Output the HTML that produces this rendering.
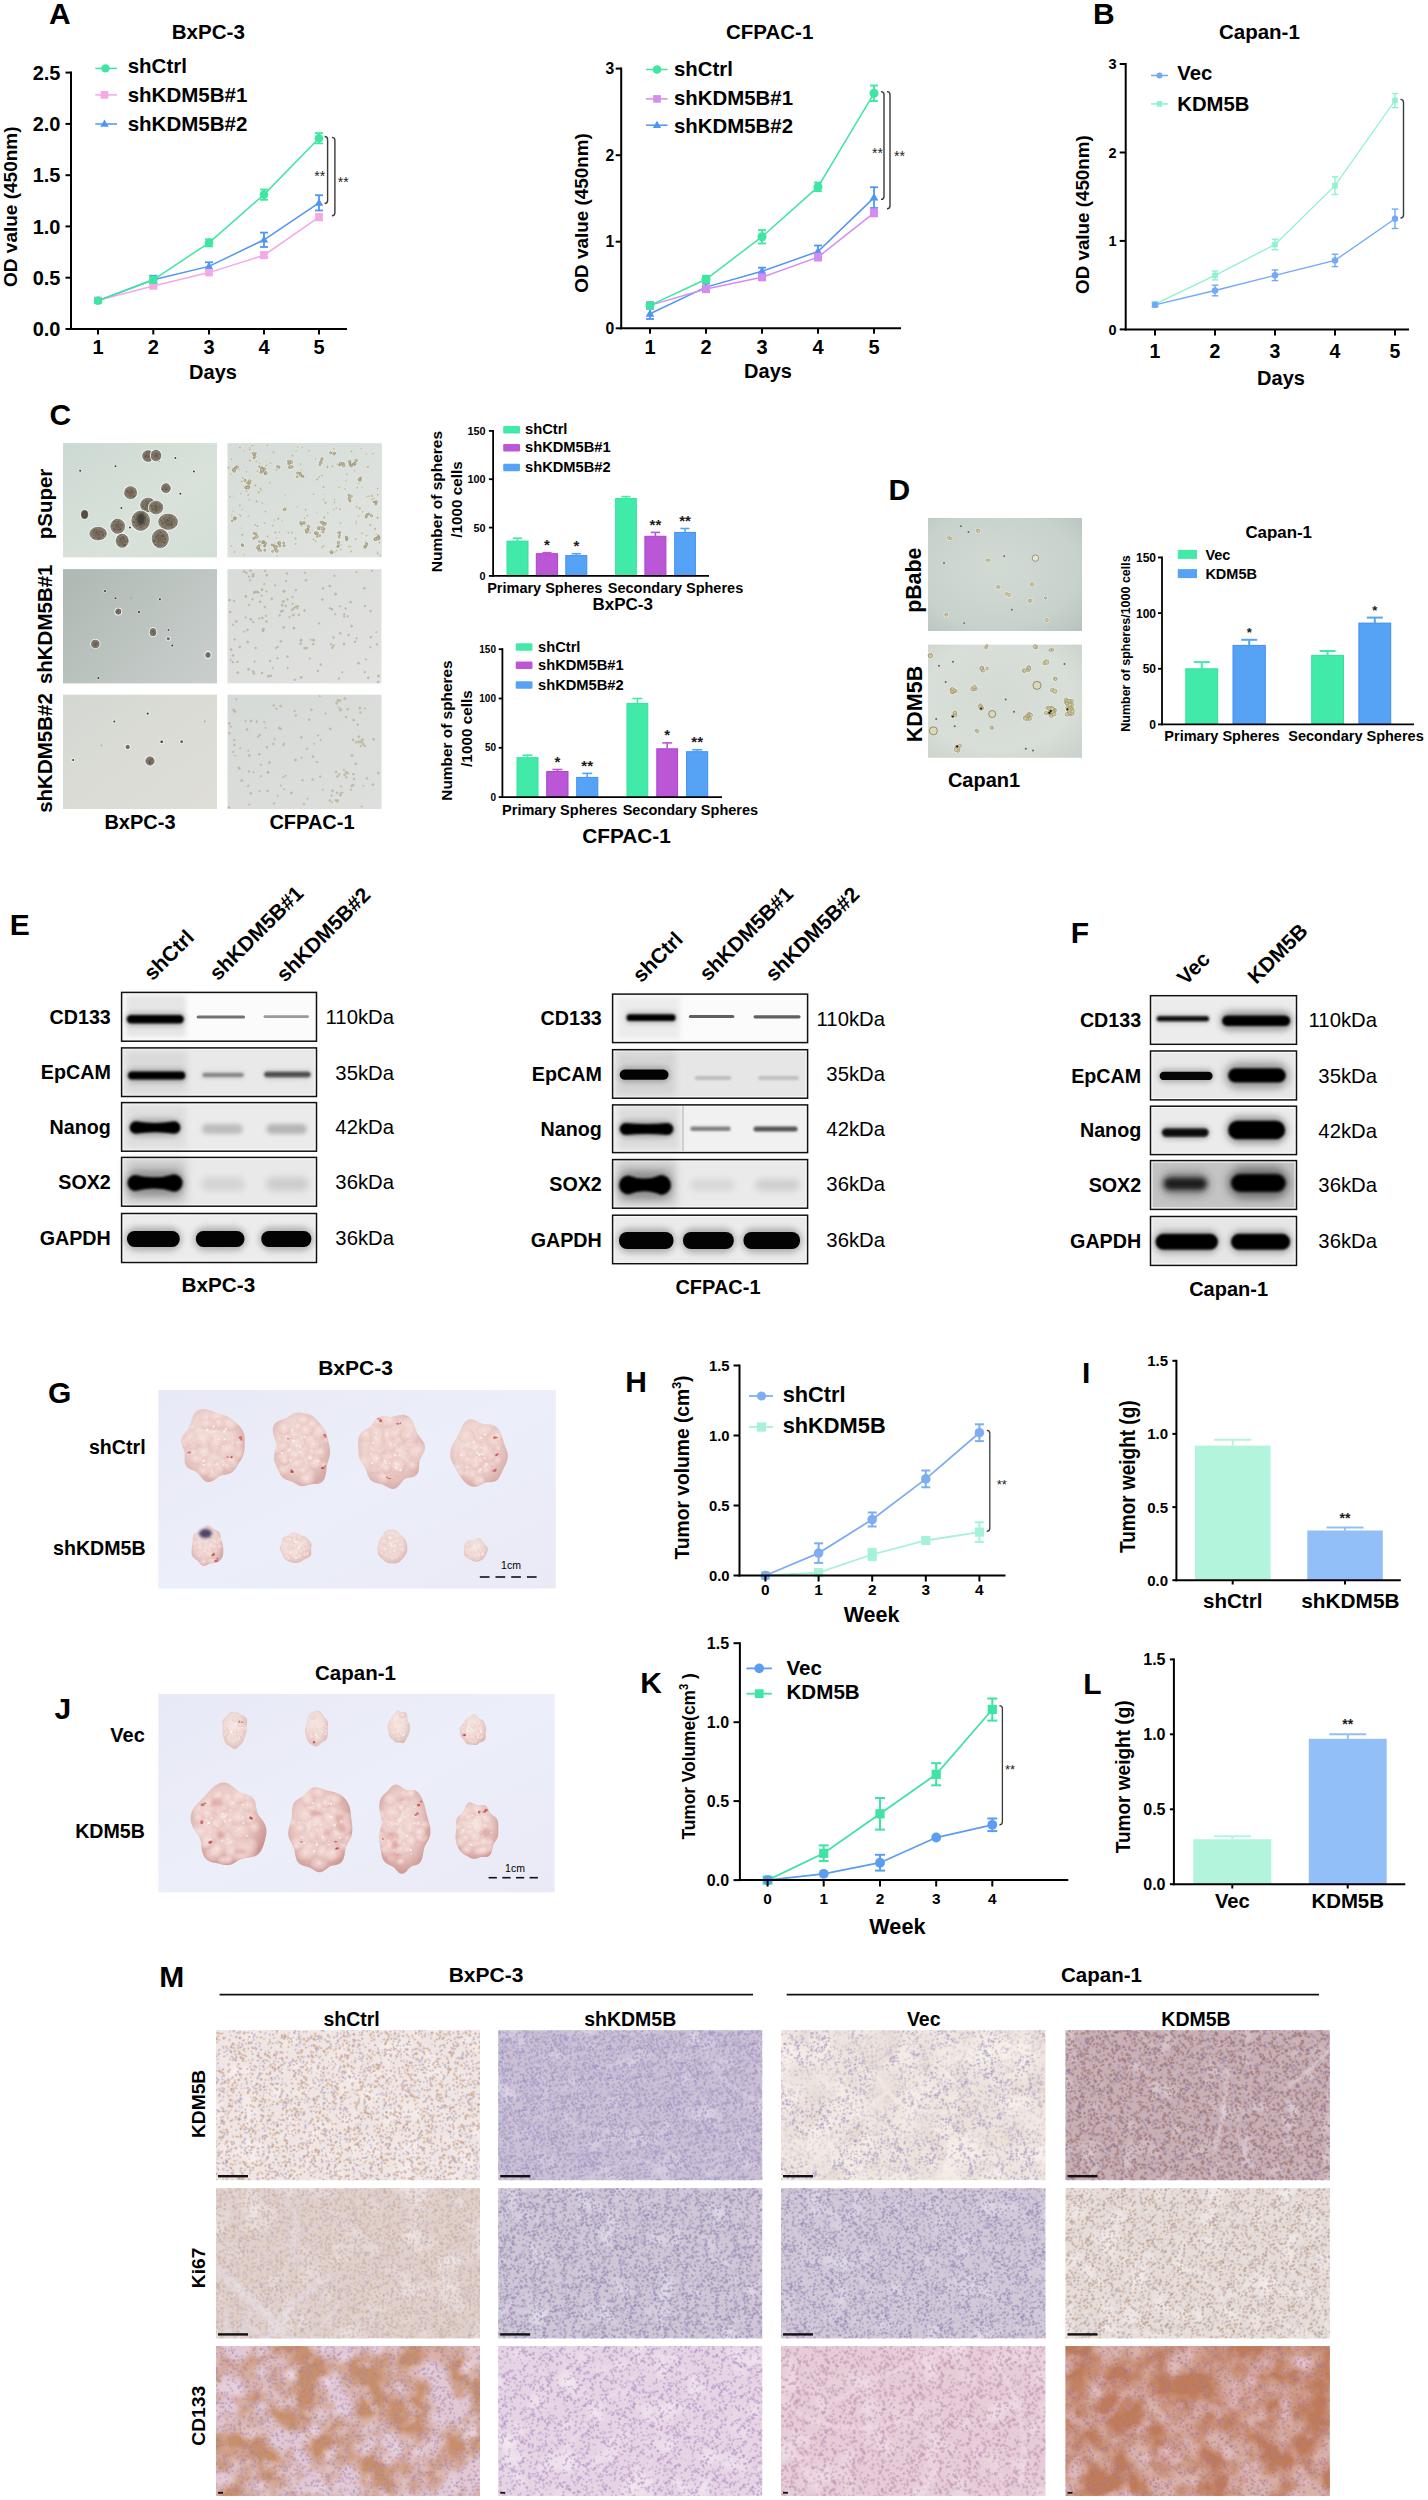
<!DOCTYPE html>
<html><head><meta charset="utf-8"><style>
html,body{margin:0;padding:0;background:#fff;}
svg{display:block;}
text{font-family:"Liberation Sans",sans-serif;}
</style></head><body>
<svg width="1428" height="2500" viewBox="0 0 1428 2500">
<defs><filter id="bl05" x="-50%" y="-50%" width="200%" height="200%"><feGaussianBlur stdDeviation="0.5"/></filter><filter id="bl1" x="-50%" y="-50%" width="200%" height="200%"><feGaussianBlur stdDeviation="1"/></filter><radialGradient id="sph" cx="0.5" cy="0.5" r="0.5"><stop offset="0" stop-color="#6c6252"/><stop offset="0.7" stop-color="#827766"/><stop offset="1" stop-color="#968c78"/></radialGradient><filter id="sphtex" x="0" y="0" width="100%" height="100%" color-interpolation-filters="sRGB"><feTurbulence type="fractalNoise" baseFrequency="0.45" numOctaves="2" seed="4"/><feColorMatrix type="matrix" values="0 0 0 0 0.25 0 0 0 0 0.22 0 0 0 0 0.18 1.8 0 0 0 -0.9"/><feComposite in2="SourceGraphic" operator="in"/></filter><linearGradient id="g1" x1="0" y1="0" x2="1" y2="1"><stop offset="0" stop-color="#ccd9d2"/><stop offset="0.6" stop-color="#d8e2da"/><stop offset="1" stop-color="#d3ded6"/></linearGradient><linearGradient id="g2" x1="0" y1="0" x2="1" y2="1"><stop offset="0" stop-color="#d6dcd8"/><stop offset="1" stop-color="#dfe4e0"/></linearGradient><linearGradient id="g3" x1="0" y1="0.2" x2="1" y2="0.8"><stop offset="0" stop-color="#b0bab5"/><stop offset="0.5" stop-color="#bcc4c0"/><stop offset="1" stop-color="#c8cdcb"/></linearGradient><linearGradient id="g4" x1="0" y1="0" x2="1" y2="1"><stop offset="0" stop-color="#d8dcd9"/><stop offset="1" stop-color="#e2e2e0"/></linearGradient><linearGradient id="g5" x1="0" y1="0" x2="1" y2="1"><stop offset="0" stop-color="#d4d8d2"/><stop offset="0.6" stop-color="#dcdcd6"/><stop offset="1" stop-color="#deddd8"/></linearGradient><linearGradient id="g6" x1="0" y1="0" x2="1" y2="1"><stop offset="0" stop-color="#d6dad6"/><stop offset="1" stop-color="#dddfdc"/></linearGradient><radialGradient id="g7" cx="0.45" cy="0.45" r="0.75"><stop offset="0" stop-color="#d2dad4"/><stop offset="0.7" stop-color="#c8d2cc"/><stop offset="1" stop-color="#b8c4be"/></radialGradient><radialGradient id="g8" cx="0.45" cy="0.45" r="0.8"><stop offset="0" stop-color="#d4dbd4"/><stop offset="0.6" stop-color="#d8ded8"/><stop offset="1" stop-color="#c8d0ca"/></radialGradient><filter id="b0_5" x="-30%" y="-150%" width="160%" height="400%"><feGaussianBlur stdDeviation="0.5"/></filter><filter id="b0_6" x="-30%" y="-150%" width="160%" height="400%"><feGaussianBlur stdDeviation="0.6"/></filter><filter id="b0_8" x="-30%" y="-150%" width="160%" height="400%"><feGaussianBlur stdDeviation="0.8"/></filter><filter id="b1" x="-30%" y="-150%" width="160%" height="400%"><feGaussianBlur stdDeviation="1"/></filter><filter id="b1_2" x="-30%" y="-150%" width="160%" height="400%"><feGaussianBlur stdDeviation="1.2"/></filter><filter id="b1_5" x="-30%" y="-150%" width="160%" height="400%"><feGaussianBlur stdDeviation="1.5"/></filter><filter id="b2" x="-30%" y="-150%" width="160%" height="400%"><feGaussianBlur stdDeviation="2"/></filter><filter id="b2_5" x="-30%" y="-150%" width="160%" height="400%"><feGaussianBlur stdDeviation="2.5"/></filter><filter id="b3" x="-30%" y="-150%" width="160%" height="400%"><feGaussianBlur stdDeviation="3"/></filter><filter id="b4" x="-30%" y="-150%" width="160%" height="400%"><feGaussianBlur stdDeviation="4"/></filter><filter id="b5" x="-30%" y="-150%" width="160%" height="400%"><feGaussianBlur stdDeviation="5"/></filter><filter id="tum" x="-10%" y="-10%" width="120%" height="120%"><feGaussianBlur stdDeviation="0.7"/></filter><filter id="tumb" x="-30%" y="-30%" width="160%" height="160%"><feGaussianBlur stdDeviation="1.6"/></filter><radialGradient id="lobe" cx="0.45" cy="0.4" r="0.6"><stop offset="0" stop-color="#f8e6e2" stop-opacity="0.8"/><stop offset="0.6" stop-color="#edcdc9" stop-opacity="0.45"/><stop offset="1" stop-color="#cf9896" stop-opacity="0"/></radialGradient><radialGradient id="lobe2" cx="0.5" cy="0.5" r="0.5"><stop offset="0" stop-color="#fdf6f4" stop-opacity="0.9"/><stop offset="1" stop-color="#f3dcd8" stop-opacity="0"/></radialGradient><linearGradient id="g9" x1="0" y1="0" x2="1" y2="1"><stop offset="0" stop-color="#e8e9f6"/><stop offset="0.5" stop-color="#eceef9"/><stop offset="1" stop-color="#e9eaf6"/></linearGradient><radialGradient id="g10" cx="0.45" cy="0.42" r="0.6"><stop offset="0" stop-color="#f6e8e4"/><stop offset="0.6" stop-color="#eed4d0"/><stop offset="1" stop-color="#d6aaa6"/></radialGradient><clipPath id="tc1"><path d="M244.7 1445.0 L244.6 1448.0 L244.3 1451.0 L243.6 1454.0 L242.6 1456.8 L241.3 1459.4 L239.8 1461.8 L238.2 1464.3 L236.7 1466.7 L235.1 1469.1 L233.2 1471.3 L231.0 1473.0 L228.4 1474.1 L225.7 1474.7 L223.0 1475.0 L220.5 1475.7 L218.2 1477.0 L215.7 1478.9 L213.0 1480.8 L210.0 1482.1 L207.0 1482.1 L204.2 1480.7 L201.9 1478.3 L199.9 1475.6 L198.0 1473.3 L195.9 1471.6 L193.3 1470.6 L190.5 1469.5 L187.8 1468.0 L185.9 1465.7 L184.8 1462.8 L184.6 1459.5 L184.7 1456.2 L184.7 1453.3 L184.1 1450.6 L183.0 1447.9 L181.9 1445.0 L181.2 1442.0 L181.4 1438.9 L182.6 1436.1 L184.3 1433.6 L186.3 1431.4 L188.0 1429.2 L189.3 1426.9 L190.2 1424.1 L191.1 1421.1 L192.1 1417.8 L193.6 1414.7 L195.6 1412.1 L198.1 1410.2 L201.1 1409.2 L204.1 1409.0 L207.3 1409.4 L210.2 1410.4 L213.0 1411.5 L215.6 1412.6 L218.1 1413.5 L220.6 1414.2 L223.1 1414.9 L225.5 1415.7 L227.9 1416.8 L230.2 1418.2 L232.4 1419.8 L234.5 1421.5 L236.6 1423.4 L238.8 1425.3 L240.8 1427.5 L242.5 1430.0 L243.8 1432.8 L244.5 1435.8 L244.8 1438.9 L244.8 1442.0Z"/></clipPath><radialGradient id="g11" cx="0.45" cy="0.42" r="0.6"><stop offset="0" stop-color="#f6e8e4"/><stop offset="0.6" stop-color="#eed4d0"/><stop offset="1" stop-color="#d6aaa6"/></radialGradient><clipPath id="tc2"><path d="M330.0 1449.5 L330.1 1452.7 L329.7 1455.8 L328.9 1458.8 L327.9 1461.6 L327.1 1464.6 L326.6 1467.8 L326.3 1471.4 L325.7 1475.2 L324.6 1478.7 L322.8 1481.5 L320.2 1483.2 L317.2 1483.9 L314.3 1484.1 L311.5 1484.3 L309.0 1484.8 L306.5 1485.5 L304.0 1486.1 L301.5 1486.2 L299.0 1485.5 L296.6 1484.3 L294.4 1482.9 L292.2 1481.7 L289.9 1480.9 L287.5 1480.2 L285.0 1479.2 L282.8 1477.7 L280.9 1475.5 L279.5 1472.9 L278.2 1470.1 L277.0 1467.4 L275.7 1464.7 L274.6 1461.8 L274.0 1458.8 L274.0 1455.6 L274.7 1452.5 L275.7 1449.5 L276.4 1446.7 L276.4 1443.9 L275.5 1440.7 L274.1 1436.9 L273.0 1432.7 L272.7 1428.5 L273.8 1425.0 L275.9 1422.4 L278.8 1420.8 L281.8 1419.8 L284.5 1418.9 L287.0 1417.7 L289.2 1416.2 L291.4 1414.6 L293.8 1413.4 L296.4 1412.7 L298.9 1412.6 L301.5 1412.8 L304.0 1413.2 L306.5 1413.6 L309.0 1414.3 L311.4 1415.3 L313.6 1416.8 L315.6 1418.6 L317.5 1420.7 L319.3 1422.8 L321.0 1424.9 L322.7 1427.0 L324.3 1429.3 L325.7 1431.9 L326.7 1434.7 L327.4 1437.6 L328.1 1440.5 L328.8 1443.4 L329.5 1446.4Z"/></clipPath><radialGradient id="g12" cx="0.45" cy="0.42" r="0.6"><stop offset="0" stop-color="#f6e8e4"/><stop offset="0.6" stop-color="#eed4d0"/><stop offset="1" stop-color="#d6aaa6"/></radialGradient><clipPath id="tc3"><path d="M424.5 1450.5 L423.1 1453.6 L421.5 1456.4 L420.1 1459.1 L419.3 1461.9 L419.1 1465.0 L419.0 1468.4 L418.5 1471.7 L417.0 1474.5 L414.5 1476.4 L411.4 1477.4 L408.4 1477.8 L405.7 1478.5 L403.5 1480.0 L401.5 1482.4 L399.4 1485.2 L396.9 1487.6 L394.0 1488.9 L391.0 1488.8 L388.1 1487.6 L385.3 1485.9 L382.7 1484.5 L380.0 1483.7 L377.2 1483.2 L374.3 1482.4 L371.6 1481.0 L369.5 1478.7 L368.0 1475.8 L367.0 1472.7 L366.0 1469.8 L364.8 1467.2 L363.2 1464.8 L361.5 1462.3 L360.0 1459.7 L359.0 1456.7 L358.5 1453.6 L358.4 1450.5 L358.2 1447.3 L358.1 1444.1 L358.1 1440.8 L358.7 1437.5 L360.0 1434.6 L362.1 1432.1 L364.7 1430.2 L367.4 1428.7 L369.8 1427.1 L371.7 1425.2 L373.4 1422.8 L375.2 1420.3 L377.3 1418.1 L379.8 1416.7 L382.7 1416.2 L385.5 1416.3 L388.3 1416.7 L391.0 1416.9 L393.7 1416.5 L396.6 1415.8 L399.6 1415.0 L402.8 1414.7 L405.9 1415.3 L408.7 1416.7 L411.0 1419.1 L412.7 1422.0 L414.0 1425.1 L415.1 1428.2 L416.1 1431.1 L417.4 1433.7 L419.1 1436.1 L421.0 1438.5 L422.9 1441.1 L424.4 1444.0 L424.9 1447.2Z"/></clipPath><radialGradient id="g13" cx="0.45" cy="0.42" r="0.6"><stop offset="0" stop-color="#f6e8e4"/><stop offset="0.6" stop-color="#eed4d0"/><stop offset="1" stop-color="#d6aaa6"/></radialGradient><clipPath id="tc4"><path d="M507.7 1453.5 L507.9 1456.5 L507.5 1459.5 L506.7 1462.3 L505.4 1464.9 L504.1 1467.4 L502.9 1469.9 L501.8 1472.5 L500.6 1475.1 L499.3 1477.6 L497.5 1479.7 L495.3 1481.2 L492.8 1482.0 L490.3 1482.2 L487.8 1482.3 L485.6 1482.6 L483.4 1483.3 L481.3 1484.4 L479.0 1485.5 L476.6 1486.5 L474.1 1486.8 L471.6 1486.5 L469.2 1485.6 L467.0 1484.1 L465.0 1482.4 L463.2 1480.4 L461.5 1478.3 L460.0 1476.1 L458.6 1473.9 L457.3 1471.6 L456.0 1469.3 L454.6 1467.0 L453.3 1464.6 L452.0 1462.1 L450.9 1459.4 L450.3 1456.5 L450.1 1453.5 L450.5 1450.5 L451.3 1447.7 L452.4 1445.0 L453.7 1442.6 L455.1 1440.3 L456.5 1438.0 L457.7 1435.8 L458.9 1433.4 L460.0 1430.9 L461.2 1428.3 L462.5 1425.5 L464.2 1423.0 L466.2 1420.9 L468.6 1419.6 L471.3 1419.3 L474.0 1419.8 L476.6 1420.9 L479.0 1422.2 L481.2 1423.3 L483.4 1424.0 L485.6 1424.3 L487.9 1424.4 L490.3 1424.6 L492.8 1425.1 L495.1 1426.2 L497.1 1427.8 L498.8 1429.9 L500.2 1432.3 L501.3 1434.9 L502.2 1437.6 L503.0 1440.2 L503.8 1442.7 L504.8 1445.3 L505.9 1447.9 L506.9 1450.6Z"/></clipPath><radialGradient id="g14" cx="0.45" cy="0.42" r="0.6"><stop offset="0" stop-color="#f6e8e4"/><stop offset="0.6" stop-color="#eed4d0"/><stop offset="1" stop-color="#d6aaa6"/></radialGradient><clipPath id="tc5"><path d="M223.0 1546.5 L223.2 1548.0 L223.3 1549.6 L223.3 1551.2 L223.3 1552.9 L223.1 1554.6 L222.8 1556.3 L222.1 1557.9 L221.2 1559.3 L220.1 1560.5 L218.8 1561.6 L217.4 1562.3 L215.9 1562.8 L214.4 1563.1 L212.9 1563.2 L211.5 1563.3 L210.2 1563.5 L208.9 1564.0 L207.5 1564.7 L206.0 1565.4 L204.4 1565.8 L202.9 1565.7 L201.5 1565.0 L200.2 1563.9 L199.2 1562.6 L198.1 1561.4 L197.1 1560.4 L195.9 1559.5 L194.6 1558.6 L193.4 1557.5 L192.4 1556.2 L191.8 1554.7 L191.5 1553.0 L191.5 1551.3 L191.6 1549.6 L191.8 1548.0 L192.0 1546.5 L192.2 1545.0 L192.4 1543.5 L192.6 1542.1 L192.7 1540.5 L192.7 1538.8 L192.9 1537.1 L193.3 1535.4 L194.1 1533.9 L195.3 1532.9 L196.9 1532.4 L198.5 1532.2 L200.0 1532.0 L201.2 1531.5 L202.2 1530.4 L203.2 1528.8 L204.4 1527.1 L205.9 1525.8 L207.5 1525.2 L209.1 1525.5 L210.7 1526.4 L212.0 1527.6 L213.3 1528.6 L214.6 1529.4 L216.0 1530.1 L217.4 1530.7 L218.7 1531.6 L219.7 1532.9 L220.3 1534.5 L220.6 1536.3 L220.9 1537.9 L221.1 1539.4 L221.5 1540.8 L222.0 1542.2 L222.4 1543.6 L222.8 1545.0Z"/></clipPath><radialGradient id="g15" cx="0.45" cy="0.42" r="0.6"><stop offset="0" stop-color="#f6e8e4"/><stop offset="0.6" stop-color="#f0dcd8"/><stop offset="1" stop-color="#dcbab6"/></radialGradient><clipPath id="tc6"><path d="M311.1 1548.0 L310.9 1549.2 L311.0 1550.3 L311.2 1551.6 L311.3 1552.9 L311.2 1554.3 L310.7 1555.5 L309.8 1556.6 L308.6 1557.4 L307.3 1558.1 L306.1 1558.7 L304.9 1559.3 L303.7 1560.0 L302.6 1560.8 L301.4 1561.5 L300.1 1562.1 L298.7 1562.6 L297.3 1563.0 L295.8 1563.1 L294.2 1563.1 L292.8 1562.8 L291.3 1562.4 L289.9 1561.9 L288.6 1561.3 L287.3 1560.7 L286.1 1560.0 L285.0 1559.1 L284.1 1558.2 L283.4 1557.0 L282.9 1555.8 L282.5 1554.6 L282.1 1553.5 L281.6 1552.5 L280.9 1551.5 L280.2 1550.4 L279.8 1549.2 L279.7 1548.0 L280.0 1546.8 L280.5 1545.7 L281.1 1544.6 L281.4 1543.5 L281.6 1542.3 L281.7 1540.9 L281.9 1539.6 L282.5 1538.3 L283.4 1537.3 L284.7 1536.6 L286.1 1536.0 L287.4 1535.4 L288.6 1534.7 L289.8 1533.8 L291.1 1533.0 L292.6 1532.4 L294.2 1532.3 L295.8 1532.7 L297.2 1533.4 L298.5 1534.2 L299.8 1534.9 L301.0 1535.4 L302.4 1535.7 L303.7 1536.0 L305.1 1536.4 L306.2 1537.2 L307.2 1538.1 L308.0 1539.1 L308.7 1540.1 L309.6 1541.1 L310.4 1542.1 L311.1 1543.1 L311.5 1544.3 L311.6 1545.6 L311.4 1546.8Z"/></clipPath><radialGradient id="g16" cx="0.45" cy="0.42" r="0.6"><stop offset="0" stop-color="#f6e8e4"/><stop offset="0.6" stop-color="#f0dcd8"/><stop offset="1" stop-color="#dcbab6"/></radialGradient><clipPath id="tc7"><path d="M407.3 1547.0 L407.4 1548.6 L407.3 1550.1 L407.0 1551.7 L406.5 1553.1 L405.8 1554.5 L405.0 1555.7 L404.2 1556.9 L403.3 1558.0 L402.4 1559.0 L401.5 1560.1 L400.6 1561.0 L399.5 1561.9 L398.4 1562.6 L397.2 1563.0 L395.9 1563.3 L394.7 1563.4 L393.5 1563.4 L392.2 1563.3 L391.0 1563.3 L389.8 1563.3 L388.6 1563.2 L387.4 1562.8 L386.2 1562.3 L385.1 1561.6 L384.1 1560.7 L383.2 1559.8 L382.2 1558.9 L381.1 1558.0 L380.1 1557.0 L379.2 1555.9 L378.4 1554.6 L377.8 1553.2 L377.6 1551.6 L377.5 1550.1 L377.6 1548.5 L377.8 1547.0 L377.9 1545.5 L378.0 1544.0 L378.3 1542.6 L378.8 1541.2 L379.4 1539.9 L380.1 1538.7 L380.9 1537.6 L381.7 1536.5 L382.4 1535.3 L383.1 1534.1 L383.8 1532.8 L384.8 1531.7 L385.8 1530.7 L387.0 1530.1 L388.3 1529.7 L389.6 1529.5 L391.0 1529.5 L392.2 1529.5 L393.5 1529.6 L394.8 1529.9 L396.0 1530.4 L397.1 1531.2 L398.1 1532.1 L399.0 1533.1 L399.9 1534.1 L400.8 1535.0 L401.7 1535.8 L402.7 1536.6 L403.7 1537.5 L404.6 1538.6 L405.4 1539.8 L406.0 1541.1 L406.5 1542.5 L406.9 1544.0 L407.2 1545.5Z"/></clipPath><radialGradient id="g17" cx="0.45" cy="0.42" r="0.6"><stop offset="0" stop-color="#f6e8e4"/><stop offset="0.6" stop-color="#f0dcd8"/><stop offset="1" stop-color="#dcbab6"/></radialGradient><clipPath id="tc8"><path d="M487.9 1550.0 L487.6 1551.0 L487.2 1552.0 L486.8 1552.9 L486.4 1553.8 L485.9 1554.7 L485.5 1555.6 L485.1 1556.4 L484.6 1557.3 L484.0 1558.1 L483.2 1558.9 L482.4 1559.5 L481.6 1560.1 L480.6 1560.6 L479.7 1561.0 L478.7 1561.4 L477.6 1561.6 L476.6 1561.7 L475.5 1561.7 L474.5 1561.5 L473.4 1561.2 L472.5 1560.8 L471.6 1560.3 L470.7 1559.8 L469.9 1559.3 L469.0 1558.9 L468.2 1558.4 L467.3 1557.9 L466.4 1557.3 L465.6 1556.7 L464.9 1555.9 L464.4 1555.0 L464.1 1554.0 L463.9 1553.0 L464.0 1552.0 L464.0 1551.0 L464.1 1550.0 L464.1 1549.0 L464.1 1548.1 L464.2 1547.1 L464.3 1546.1 L464.6 1545.1 L464.9 1544.2 L465.4 1543.2 L466.0 1542.4 L466.7 1541.6 L467.5 1540.8 L468.4 1540.3 L469.4 1539.9 L470.5 1539.7 L471.6 1539.7 L472.6 1539.7 L473.6 1539.6 L474.5 1539.4 L475.5 1539.0 L476.5 1538.6 L477.7 1538.3 L478.8 1538.1 L479.9 1538.3 L480.9 1538.9 L481.7 1539.7 L482.3 1540.6 L482.8 1541.6 L483.3 1542.5 L483.8 1543.3 L484.4 1544.0 L485.1 1544.7 L485.9 1545.3 L486.7 1546.1 L487.3 1547.0 L487.7 1547.9 L487.9 1549.0Z"/></clipPath><linearGradient id="g18" x1="0" y1="0" x2="1" y2="1"><stop offset="0" stop-color="#e8e9f6"/><stop offset="0.5" stop-color="#eceef9"/><stop offset="1" stop-color="#e9eaf6"/></linearGradient><radialGradient id="g19" cx="0.45" cy="0.42" r="0.6"><stop offset="0" stop-color="#f6e8e4"/><stop offset="0.6" stop-color="#f0dcd8"/><stop offset="1" stop-color="#dcbab6"/></radialGradient><clipPath id="tc9"><path d="M246.6 1729.5 L246.5 1731.1 L246.2 1732.6 L245.8 1734.0 L245.3 1735.3 L244.8 1736.5 L244.3 1737.8 L244.0 1739.2 L243.5 1740.6 L243.0 1741.9 L242.3 1743.1 L241.5 1744.1 L240.6 1744.9 L239.7 1745.6 L238.7 1746.5 L237.8 1747.4 L236.8 1748.3 L235.7 1748.9 L234.5 1749.1 L233.3 1748.8 L232.3 1748.1 L231.2 1747.3 L230.3 1746.5 L229.2 1745.9 L228.2 1745.4 L227.2 1744.7 L226.2 1743.9 L225.4 1742.7 L224.8 1741.4 L224.2 1740.0 L223.8 1738.6 L223.3 1737.1 L222.9 1735.7 L222.7 1734.1 L222.7 1732.6 L222.8 1731.0 L222.9 1729.5 L222.9 1728.1 L222.8 1726.6 L222.6 1724.9 L222.5 1723.2 L222.6 1721.5 L223.0 1719.9 L223.8 1718.7 L224.8 1717.7 L225.8 1716.9 L226.7 1716.0 L227.5 1715.0 L228.3 1714.0 L229.2 1713.0 L230.2 1712.3 L231.3 1711.9 L232.4 1711.9 L233.4 1712.1 L234.5 1712.2 L235.5 1712.3 L236.6 1712.4 L237.6 1712.6 L238.6 1713.0 L239.6 1713.7 L240.5 1714.4 L241.5 1715.0 L242.6 1715.6 L243.7 1716.1 L244.9 1716.8 L246.0 1717.8 L246.8 1719.3 L247.1 1721.0 L247.1 1722.9 L247.0 1724.7 L246.8 1726.4 L246.6 1728.0Z"/></clipPath><radialGradient id="g20" cx="0.45" cy="0.42" r="0.6"><stop offset="0" stop-color="#f6e8e4"/><stop offset="0.6" stop-color="#f0dcd8"/><stop offset="1" stop-color="#dcbab6"/></radialGradient><clipPath id="tc10"><path d="M327.8 1728.6 L327.7 1730.0 L327.6 1731.5 L327.7 1733.0 L327.6 1734.5 L327.5 1736.1 L327.2 1737.6 L326.6 1738.9 L325.8 1740.0 L324.9 1740.8 L323.9 1741.4 L322.9 1741.9 L322.0 1742.4 L321.1 1742.9 L320.3 1743.7 L319.5 1744.5 L318.6 1745.4 L317.6 1746.1 L316.6 1746.5 L315.5 1746.6 L314.5 1746.3 L313.5 1745.8 L312.5 1745.3 L311.5 1744.7 L310.6 1744.0 L309.6 1743.3 L308.8 1742.4 L308.0 1741.3 L307.3 1740.0 L306.8 1738.7 L306.4 1737.3 L305.9 1735.9 L305.6 1734.5 L305.3 1733.1 L305.1 1731.6 L305.1 1730.1 L305.3 1728.6 L305.6 1727.2 L306.0 1725.8 L306.3 1724.5 L306.6 1723.2 L306.8 1721.9 L307.0 1720.5 L307.3 1719.0 L307.7 1717.6 L308.2 1716.3 L308.9 1715.1 L309.7 1714.1 L310.6 1713.3 L311.5 1712.6 L312.5 1712.0 L313.5 1711.5 L314.5 1711.2 L315.5 1710.9 L316.6 1710.7 L317.7 1710.6 L318.7 1710.8 L319.8 1711.2 L320.7 1711.9 L321.6 1712.8 L322.4 1713.9 L323.0 1715.1 L323.7 1716.2 L324.4 1717.1 L325.2 1718.0 L326.0 1718.9 L326.9 1719.9 L327.5 1721.1 L328.0 1722.5 L328.2 1724.0 L328.1 1725.6 L328.0 1727.1Z"/></clipPath><radialGradient id="g21" cx="0.45" cy="0.42" r="0.6"><stop offset="0" stop-color="#f6e8e4"/><stop offset="0.6" stop-color="#f0dcd8"/><stop offset="1" stop-color="#dcbab6"/></radialGradient><clipPath id="tc11"><path d="M410.0 1727.2 L409.9 1728.6 L409.8 1730.0 L409.6 1731.3 L409.3 1732.7 L408.9 1733.9 L408.4 1735.1 L407.8 1736.2 L407.2 1737.2 L406.7 1738.3 L406.2 1739.5 L405.6 1740.8 L404.9 1742.0 L404.1 1742.8 L403.1 1743.2 L402.0 1743.2 L401.0 1742.9 L400.0 1742.6 L399.1 1742.5 L398.1 1742.6 L397.2 1742.7 L396.2 1742.6 L395.3 1742.2 L394.5 1741.5 L393.7 1740.8 L392.9 1740.0 L392.1 1739.2 L391.3 1738.5 L390.5 1737.7 L389.8 1736.6 L389.3 1735.4 L389.0 1734.1 L388.8 1732.7 L388.5 1731.4 L388.2 1730.0 L387.8 1728.7 L387.6 1727.2 L387.6 1725.8 L387.9 1724.4 L388.4 1723.1 L389.0 1721.9 L389.5 1720.8 L390.0 1719.7 L390.5 1718.5 L391.0 1717.5 L391.6 1716.5 L392.4 1715.7 L393.1 1715.0 L393.9 1714.2 L394.6 1713.3 L395.3 1712.3 L396.1 1711.2 L397.0 1710.5 L398.0 1710.2 L399.1 1710.5 L400.0 1711.2 L400.9 1711.8 L401.8 1712.2 L402.8 1712.2 L403.9 1712.1 L405.0 1712.2 L406.0 1712.8 L406.8 1713.9 L407.2 1715.5 L407.3 1717.2 L407.4 1718.8 L407.6 1720.1 L408.0 1721.2 L408.6 1722.2 L409.3 1723.3 L409.8 1724.5 L410.0 1725.9Z"/></clipPath><radialGradient id="g22" cx="0.45" cy="0.42" r="0.6"><stop offset="0" stop-color="#f6e8e4"/><stop offset="0.6" stop-color="#f0dcd8"/><stop offset="1" stop-color="#dcbab6"/></radialGradient><clipPath id="tc12"><path d="M486.1 1730.5 L485.9 1731.7 L485.6 1732.9 L485.5 1734.2 L485.6 1735.5 L485.7 1736.9 L485.6 1738.4 L485.1 1739.7 L484.2 1740.7 L483.1 1741.4 L481.9 1741.9 L480.7 1742.3 L479.7 1742.8 L478.8 1743.5 L477.8 1744.3 L476.8 1744.8 L475.6 1745.0 L474.5 1744.9 L473.4 1744.7 L472.3 1744.5 L471.1 1744.5 L470.0 1744.6 L468.8 1744.6 L467.6 1744.3 L466.6 1743.7 L465.7 1742.7 L465.0 1741.7 L464.3 1740.6 L463.6 1739.7 L462.7 1738.8 L461.9 1737.9 L461.1 1736.9 L460.6 1735.7 L460.3 1734.4 L460.1 1733.1 L459.9 1731.8 L459.8 1730.5 L459.7 1729.2 L459.8 1727.8 L460.3 1726.6 L461.0 1725.5 L462.0 1724.6 L462.9 1723.7 L463.6 1722.8 L464.1 1721.8 L464.6 1720.7 L465.1 1719.5 L465.9 1718.5 L466.8 1717.8 L467.8 1717.3 L468.9 1716.8 L469.9 1716.3 L471.0 1715.5 L472.1 1714.8 L473.4 1714.2 L474.6 1714.2 L475.8 1714.7 L476.9 1715.7 L477.8 1716.8 L478.6 1717.9 L479.5 1718.6 L480.5 1719.1 L481.6 1719.5 L482.7 1720.1 L483.6 1720.9 L484.3 1722.0 L484.7 1723.1 L485.1 1724.4 L485.5 1725.6 L485.8 1726.8 L486.1 1728.0 L486.2 1729.2Z"/></clipPath><radialGradient id="g23" cx="0.45" cy="0.42" r="0.6"><stop offset="0" stop-color="#f6e8e4"/><stop offset="0.6" stop-color="#eacac6"/><stop offset="1" stop-color="#cc9490"/></radialGradient><clipPath id="tc13"><path d="M265.5 1825.5 L266.4 1829.2 L266.4 1833.0 L265.8 1836.7 L264.9 1840.4 L263.9 1844.0 L262.6 1847.7 L261.0 1851.1 L258.6 1853.9 L255.5 1855.9 L252.0 1857.1 L248.4 1857.6 L245.1 1857.9 L242.1 1858.5 L239.5 1859.7 L236.9 1861.3 L234.3 1863.1 L231.4 1864.4 L228.3 1865.0 L225.3 1864.9 L222.2 1864.4 L219.2 1863.7 L216.1 1863.1 L213.0 1862.4 L209.8 1861.4 L206.9 1859.8 L204.5 1857.3 L202.8 1854.1 L201.9 1850.4 L201.4 1846.6 L201.1 1843.1 L200.6 1840.0 L199.6 1837.2 L198.0 1834.6 L196.0 1831.9 L194.0 1828.9 L192.1 1825.5 L190.9 1821.8 L190.5 1818.0 L191.0 1814.3 L192.2 1810.8 L194.1 1807.6 L196.4 1804.8 L198.7 1802.3 L201.1 1799.9 L203.4 1797.6 L205.6 1795.1 L207.8 1792.6 L210.1 1790.1 L212.6 1787.6 L215.3 1785.4 L218.3 1783.7 L221.6 1782.6 L225.0 1782.6 L228.3 1783.5 L231.5 1785.4 L234.3 1787.7 L236.8 1790.1 L239.3 1792.0 L241.8 1793.2 L244.6 1794.0 L247.6 1794.7 L250.6 1795.9 L253.0 1797.9 L254.8 1800.7 L255.7 1804.1 L256.2 1807.5 L256.7 1810.7 L257.7 1813.6 L259.4 1816.2 L261.6 1818.9 L263.8 1822.0Z"/></clipPath><radialGradient id="g24" cx="0.45" cy="0.42" r="0.6"><stop offset="0" stop-color="#f6e8e4"/><stop offset="0.6" stop-color="#eacac6"/><stop offset="1" stop-color="#cc9490"/></radialGradient><clipPath id="tc14"><path d="M352.3 1829.0 L352.1 1832.7 L351.2 1836.2 L349.8 1839.4 L348.1 1842.3 L346.6 1845.2 L345.6 1848.3 L345.0 1851.8 L344.4 1855.7 L343.3 1859.4 L341.5 1862.3 L339.0 1864.1 L336.1 1864.9 L333.2 1865.4 L330.6 1866.1 L328.2 1867.5 L325.8 1869.4 L323.2 1871.3 L320.5 1872.3 L317.6 1872.1 L314.9 1870.8 L312.3 1869.1 L309.8 1867.7 L307.2 1866.7 L304.3 1866.1 L301.4 1865.1 L298.8 1863.3 L296.8 1860.4 L295.6 1856.7 L294.9 1852.7 L294.2 1849.1 L293.1 1845.9 L291.5 1843.0 L289.8 1839.9 L288.5 1836.5 L288.1 1832.8 L288.6 1829.0 L289.8 1825.4 L291.0 1822.1 L291.7 1818.8 L291.9 1815.2 L291.9 1811.3 L292.3 1807.4 L293.4 1803.8 L295.3 1801.0 L297.9 1799.0 L300.5 1797.5 L303.0 1796.0 L305.3 1794.1 L307.4 1791.9 L309.7 1789.7 L312.2 1788.0 L314.9 1787.2 L317.7 1787.4 L320.5 1788.2 L323.1 1789.3 L325.6 1790.2 L328.2 1790.8 L330.8 1791.3 L333.5 1792.0 L336.2 1792.8 L338.9 1794.0 L341.5 1795.6 L344.1 1797.7 L346.3 1800.2 L348.2 1803.2 L349.6 1806.7 L350.4 1810.5 L350.8 1814.3 L351.2 1818.1 L351.6 1821.7 L352.1 1825.3Z"/></clipPath><radialGradient id="g25" cx="0.45" cy="0.42" r="0.6"><stop offset="0" stop-color="#f6e8e4"/><stop offset="0.6" stop-color="#eacac6"/><stop offset="1" stop-color="#cc9490"/></radialGradient><clipPath id="tc15"><path d="M430.3 1828.3 L430.4 1832.2 L429.9 1836.0 L428.6 1839.4 L426.9 1842.4 L425.4 1845.2 L424.2 1848.1 L423.5 1851.5 L422.9 1855.3 L422.0 1859.0 L420.6 1862.1 L418.6 1864.1 L416.3 1865.1 L413.9 1865.6 L411.7 1866.3 L409.7 1867.8 L407.7 1870.0 L405.6 1872.3 L403.2 1873.7 L400.8 1873.8 L398.5 1872.5 L396.4 1870.3 L394.4 1868.1 L392.4 1866.5 L390.2 1865.4 L387.8 1864.3 L385.5 1862.8 L383.6 1860.4 L382.2 1857.2 L381.3 1853.4 L380.7 1849.6 L380.2 1845.9 L379.7 1842.4 L379.3 1838.8 L379.3 1835.2 L379.8 1831.7 L380.7 1828.3 L381.5 1825.2 L381.8 1822.2 L381.4 1818.8 L380.5 1814.9 L379.6 1810.4 L379.2 1805.7 L379.7 1801.4 L381.0 1797.9 L383.0 1795.3 L385.2 1793.3 L387.3 1791.3 L389.4 1789.1 L391.4 1786.8 L393.6 1785.1 L396.0 1784.4 L398.6 1784.9 L401.0 1786.4 L403.2 1788.2 L405.3 1789.6 L407.4 1790.2 L409.5 1790.1 L411.8 1789.9 L414.2 1790.1 L416.5 1791.0 L418.5 1792.7 L420.3 1795.2 L421.8 1798.0 L423.1 1801.1 L424.3 1804.3 L425.2 1807.7 L426.0 1811.0 L426.7 1814.4 L427.6 1817.7 L428.5 1821.1 L429.5 1824.6Z"/></clipPath><radialGradient id="g26" cx="0.45" cy="0.42" r="0.6"><stop offset="0" stop-color="#f6e8e4"/><stop offset="0.6" stop-color="#ecd0cc"/><stop offset="1" stop-color="#d09c98"/></radialGradient><clipPath id="tc16"><path d="M498.4 1831.4 L498.3 1833.9 L498.0 1836.3 L497.2 1838.5 L496.0 1840.5 L494.7 1842.2 L493.6 1844.0 L492.8 1846.0 L492.4 1848.4 L491.9 1851.0 L491.1 1853.6 L489.7 1855.5 L487.9 1856.7 L485.9 1857.0 L483.8 1857.0 L481.8 1857.0 L480.0 1857.3 L478.3 1857.9 L476.4 1858.5 L474.6 1858.9 L472.6 1858.8 L470.8 1858.2 L469.0 1857.3 L467.3 1856.3 L465.6 1855.3 L463.9 1854.2 L462.2 1853.0 L460.7 1851.5 L459.3 1849.7 L458.2 1847.6 L457.3 1845.5 L456.5 1843.3 L455.9 1840.9 L455.6 1838.6 L455.5 1836.1 L455.7 1833.7 L456.0 1831.4 L456.2 1829.2 L456.2 1826.9 L456.0 1824.5 L456.0 1822.0 L456.4 1819.6 L457.4 1817.5 L458.9 1815.9 L460.7 1814.6 L462.2 1813.4 L463.4 1811.8 L464.4 1809.6 L465.3 1807.0 L466.5 1804.5 L468.2 1802.8 L470.3 1802.3 L472.5 1802.9 L474.6 1804.1 L476.4 1805.1 L478.2 1805.5 L480.1 1805.3 L482.1 1804.9 L484.1 1805.0 L485.9 1805.8 L487.3 1807.5 L488.5 1809.7 L489.5 1811.8 L490.6 1813.4 L492.1 1814.7 L493.9 1815.9 L495.7 1817.4 L497.1 1819.3 L497.9 1821.5 L498.3 1824.0 L498.3 1826.6 L498.3 1829.0Z"/></clipPath><filter id="strb" x="-20%" y="-20%" width="140%" height="140%"><feGaussianBlur stdDeviation="1.6"/></filter><filter id="n1" x="0" y="0" width="100%" height="100%" color-interpolation-filters="sRGB"><feTurbulence type="fractalNoise" baseFrequency="0.05" numOctaves="2" seed="10" result="t"/><feColorMatrix in="t" type="matrix" values="0 0 0 0 0.973 0 0 0 0 0.949 0 0 0 0 0.941 2.0 0 0 0 -0.9"/><feComposite in2="SourceGraphic" operator="in"/></filter><pattern id="p1" width="29" height="29" patternUnits="userSpaceOnUse" patternTransform="rotate(39)"><g fill="#aaa0cc"><circle cx="0.4" cy="3.3" r="0.8"/><circle cx="29.4" cy="3.3" r="0.8"/><circle cx="19.8" cy="4.0" r="0.7"/><circle cx="6.7" cy="22.0" r="0.8"/><circle cx="21.5" cy="19.2" r="0.7"/><circle cx="15.5" cy="13.0" r="0.8"/><circle cx="28.9" cy="2.7" r="0.7"/><circle cx="-0.1" cy="2.7" r="0.7"/><circle cx="27.3" cy="11.7" r="0.8"/><circle cx="-1.7" cy="11.7" r="0.8"/><circle cx="9.6" cy="10.6" r="1.0"/><circle cx="6.1" cy="6.3" r="0.9"/><circle cx="15.9" cy="27.7" r="1.0"/><circle cx="15.9" cy="-1.3" r="1.0"/><circle cx="10.3" cy="5.9" r="1.0"/><circle cx="28.7" cy="0.9" r="1.0"/><circle cx="-0.3" cy="0.9" r="1.0"/><circle cx="28.7" cy="29.9" r="1.0"/><circle cx="25.2" cy="18.9" r="0.8"/><circle cx="23.1" cy="21.2" r="0.8"/><circle cx="18.6" cy="6.4" r="0.7"/><circle cx="9.7" cy="9.7" r="0.8"/><circle cx="18.8" cy="24.2" r="1.0"/><circle cx="28.3" cy="28.8" r="1.0"/><circle cx="-0.7" cy="28.8" r="1.0"/><circle cx="28.3" cy="-0.2" r="1.0"/></g></pattern><pattern id="p2" width="43" height="43" patternUnits="userSpaceOnUse" patternTransform="rotate(57)"><g fill="#aaa0cc"><circle cx="3.3" cy="9.2" r="0.8"/><circle cx="38.7" cy="21.3" r="1.0"/><circle cx="4.3" cy="21.9" r="1.0"/><circle cx="22.5" cy="40.6" r="1.0"/><circle cx="16.0" cy="0.0" r="1.0"/><circle cx="16.0" cy="43.0" r="1.0"/><circle cx="5.4" cy="0.4" r="1.0"/><circle cx="5.4" cy="43.4" r="1.0"/><circle cx="36.2" cy="36.0" r="1.0"/><circle cx="8.7" cy="3.5" r="0.7"/><circle cx="42.0" cy="4.8" r="0.8"/><circle cx="-1.0" cy="4.8" r="0.8"/><circle cx="0.9" cy="2.1" r="0.7"/><circle cx="43.9" cy="2.1" r="0.7"/><circle cx="15.2" cy="7.0" r="0.8"/><circle cx="39.9" cy="7.2" r="1.0"/><circle cx="31.7" cy="24.4" r="0.9"/><circle cx="33.1" cy="25.2" r="0.8"/><circle cx="14.2" cy="10.5" r="0.8"/><circle cx="42.5" cy="18.4" r="0.7"/><circle cx="-0.5" cy="18.4" r="0.7"/><circle cx="20.5" cy="34.9" r="0.9"/><circle cx="30.2" cy="3.9" r="0.7"/><circle cx="28.5" cy="2.1" r="0.8"/><circle cx="16.5" cy="8.3" r="0.7"/><circle cx="0.3" cy="40.9" r="0.9"/><circle cx="43.3" cy="40.9" r="0.9"/><circle cx="40.9" cy="21.1" r="1.0"/><circle cx="37.1" cy="26.6" r="0.9"/><circle cx="21.9" cy="9.7" r="0.8"/><circle cx="31.1" cy="8.4" r="1.0"/><circle cx="21.9" cy="26.0" r="1.0"/><circle cx="27.8" cy="5.9" r="0.8"/><circle cx="0.0" cy="1.2" r="1.0"/><circle cx="43.0" cy="1.2" r="1.0"/><circle cx="0.0" cy="44.2" r="1.0"/><circle cx="25.5" cy="41.7" r="1.0"/><circle cx="25.5" cy="-1.3" r="1.0"/><circle cx="13.6" cy="41.6" r="1.0"/><circle cx="13.6" cy="-1.4" r="1.0"/><circle cx="19.6" cy="3.6" r="0.8"/><circle cx="7.2" cy="15.7" r="0.7"/><circle cx="30.7" cy="42.1" r="0.8"/><circle cx="30.7" cy="-0.9" r="0.8"/><circle cx="33.5" cy="25.1" r="0.9"/><circle cx="39.0" cy="16.2" r="1.0"/><circle cx="1.5" cy="41.5" r="0.8"/><circle cx="44.5" cy="41.5" r="0.8"/><circle cx="1.5" cy="-1.5" r="0.8"/><circle cx="0.2" cy="37.9" r="1.0"/><circle cx="43.2" cy="37.9" r="1.0"/><circle cx="29.0" cy="32.9" r="0.8"/><circle cx="4.9" cy="13.7" r="1.0"/><circle cx="42.2" cy="9.9" r="0.9"/><circle cx="-0.8" cy="9.9" r="0.9"/></g></pattern><pattern id="p3" width="33" height="33" patternUnits="userSpaceOnUse" patternTransform="rotate(17)"><g fill="#c49a80"><circle cx="10.8" cy="32.4" r="1.2"/><circle cx="10.8" cy="-0.6" r="1.2"/><circle cx="30.3" cy="26.1" r="1.2"/><circle cx="0.0" cy="20.7" r="0.9"/><circle cx="33.0" cy="20.7" r="0.9"/><circle cx="24.1" cy="14.3" r="1.0"/><circle cx="17.9" cy="19.0" r="1.1"/><circle cx="32.4" cy="11.4" r="1.1"/><circle cx="-0.6" cy="11.4" r="1.1"/><circle cx="29.3" cy="12.9" r="0.8"/><circle cx="16.4" cy="25.2" r="1.0"/><circle cx="6.1" cy="23.3" r="0.9"/><circle cx="29.2" cy="5.6" r="1.0"/><circle cx="12.7" cy="32.5" r="0.9"/><circle cx="12.7" cy="-0.5" r="0.9"/><circle cx="29.0" cy="13.8" r="0.9"/><circle cx="6.9" cy="16.3" r="1.2"/><circle cx="33.0" cy="31.0" r="1.0"/><circle cx="-0.0" cy="31.0" r="1.0"/><circle cx="33.0" cy="-2.0" r="1.0"/><circle cx="7.8" cy="16.7" r="1.1"/><circle cx="9.8" cy="32.6" r="0.8"/><circle cx="9.8" cy="-0.4" r="0.8"/><circle cx="7.7" cy="6.7" r="0.9"/><circle cx="2.1" cy="7.9" r="0.9"/><circle cx="31.0" cy="18.0" r="1.0"/><circle cx="11.5" cy="5.6" r="1.0"/><circle cx="24.0" cy="2.8" r="1.1"/><circle cx="6.9" cy="22.8" r="0.9"/><circle cx="4.9" cy="4.6" r="1.1"/><circle cx="17.8" cy="2.8" r="1.2"/><circle cx="9.1" cy="9.2" r="0.8"/><circle cx="9.9" cy="18.5" r="1.2"/><circle cx="9.9" cy="16.4" r="0.8"/><circle cx="22.7" cy="9.9" r="1.0"/><circle cx="8.9" cy="27.0" r="1.2"/></g></pattern><pattern id="p4" width="49" height="49" patternUnits="userSpaceOnUse" patternTransform="rotate(70)"><g fill="#c49a80"><circle cx="33.4" cy="4.5" r="1.0"/><circle cx="41.3" cy="40.9" r="1.0"/><circle cx="30.9" cy="18.1" r="1.0"/><circle cx="5.3" cy="33.5" r="1.0"/><circle cx="13.8" cy="18.6" r="1.1"/><circle cx="21.7" cy="47.0" r="1.2"/><circle cx="21.7" cy="-2.0" r="1.2"/><circle cx="41.1" cy="4.5" r="0.8"/><circle cx="14.1" cy="17.7" r="1.1"/><circle cx="40.5" cy="27.6" r="1.1"/><circle cx="28.1" cy="1.7" r="1.0"/><circle cx="28.1" cy="50.7" r="1.0"/><circle cx="10.4" cy="20.4" r="0.8"/><circle cx="32.1" cy="44.6" r="0.8"/><circle cx="28.4" cy="1.2" r="0.9"/><circle cx="28.4" cy="50.2" r="0.9"/><circle cx="7.8" cy="42.2" r="1.1"/><circle cx="43.9" cy="10.7" r="1.1"/><circle cx="34.3" cy="25.0" r="1.2"/><circle cx="30.6" cy="13.9" r="1.1"/><circle cx="23.6" cy="10.4" r="1.0"/><circle cx="2.4" cy="22.0" r="1.0"/><circle cx="0.1" cy="31.8" r="0.8"/><circle cx="49.1" cy="31.8" r="0.8"/><circle cx="31.8" cy="16.7" r="0.8"/><circle cx="49.0" cy="3.1" r="0.9"/><circle cx="-0.0" cy="3.1" r="0.9"/><circle cx="24.8" cy="12.0" r="1.0"/><circle cx="23.2" cy="28.3" r="1.0"/><circle cx="14.4" cy="10.4" r="1.1"/><circle cx="21.0" cy="25.5" r="1.2"/><circle cx="0.4" cy="13.6" r="1.0"/><circle cx="49.4" cy="13.6" r="1.0"/><circle cx="2.6" cy="36.9" r="1.0"/><circle cx="15.5" cy="9.5" r="1.2"/><circle cx="2.3" cy="40.3" r="1.1"/><circle cx="44.0" cy="34.4" r="0.9"/><circle cx="26.9" cy="45.2" r="0.8"/><circle cx="41.6" cy="33.0" r="0.9"/><circle cx="47.4" cy="14.7" r="0.8"/><circle cx="-1.6" cy="14.7" r="0.8"/><circle cx="13.1" cy="25.2" r="0.8"/><circle cx="29.0" cy="21.8" r="0.9"/><circle cx="37.0" cy="30.3" r="1.2"/><circle cx="42.6" cy="42.1" r="1.2"/><circle cx="41.6" cy="23.8" r="0.8"/><circle cx="21.9" cy="30.4" r="1.2"/><circle cx="32.0" cy="28.1" r="0.8"/><circle cx="31.9" cy="1.8" r="0.9"/><circle cx="31.9" cy="50.8" r="0.9"/><circle cx="2.1" cy="35.9" r="1.2"/><circle cx="29.1" cy="4.3" r="1.1"/><circle cx="8.5" cy="34.8" r="1.1"/><circle cx="46.3" cy="8.1" r="0.9"/><circle cx="15.6" cy="3.8" r="1.2"/><circle cx="30.5" cy="5.2" r="1.0"/><circle cx="4.8" cy="47.2" r="0.9"/><circle cx="4.8" cy="-1.8" r="0.9"/><circle cx="0.1" cy="36.3" r="0.9"/><circle cx="49.1" cy="36.3" r="0.9"/><circle cx="31.8" cy="38.3" r="0.8"/><circle cx="26.8" cy="46.6" r="0.9"/><circle cx="12.2" cy="33.0" r="0.8"/><circle cx="40.2" cy="39.3" r="1.2"/><circle cx="40.8" cy="28.4" r="1.0"/><circle cx="26.3" cy="31.2" r="1.2"/><circle cx="7.5" cy="24.2" r="1.0"/><circle cx="12.0" cy="8.0" r="1.1"/><circle cx="28.7" cy="33.8" r="0.9"/><circle cx="23.5" cy="7.8" r="0.9"/><circle cx="6.6" cy="31.8" r="1.1"/><circle cx="28.0" cy="38.2" r="0.8"/><circle cx="25.4" cy="6.8" r="1.0"/><circle cx="12.2" cy="12.4" r="1.2"/></g></pattern><filter id="n2" x="0" y="0" width="100%" height="100%" color-interpolation-filters="sRGB"><feTurbulence type="fractalNoise" baseFrequency="0.04" numOctaves="2" seed="20" result="t"/><feColorMatrix in="t" type="matrix" values="0 0 0 0 0.902 0 0 0 0 0.878 0 0 0 0 0.918 2.2 0 0 0 -1.2"/><feComposite in2="SourceGraphic" operator="in"/></filter><pattern id="p5" width="29" height="29" patternUnits="userSpaceOnUse" patternTransform="rotate(88)"><g fill="#9a8cbe"><circle cx="26.9" cy="5.0" r="1.1"/><circle cx="6.9" cy="13.5" r="1.1"/><circle cx="10.3" cy="14.7" r="0.8"/><circle cx="27.9" cy="28.6" r="0.8"/><circle cx="-1.1" cy="28.6" r="0.8"/><circle cx="27.9" cy="-0.4" r="0.8"/><circle cx="3.6" cy="13.7" r="1.0"/><circle cx="22.5" cy="9.9" r="1.0"/><circle cx="4.6" cy="6.2" r="0.8"/><circle cx="15.8" cy="16.3" r="1.0"/><circle cx="27.1" cy="8.9" r="0.9"/><circle cx="-1.9" cy="8.9" r="0.9"/><circle cx="13.4" cy="27.4" r="0.9"/><circle cx="13.4" cy="-1.6" r="0.9"/><circle cx="8.4" cy="12.4" r="1.0"/><circle cx="8.1" cy="5.0" r="1.0"/><circle cx="16.7" cy="16.8" r="0.8"/><circle cx="7.2" cy="2.9" r="0.9"/><circle cx="26.3" cy="28.7" r="1.1"/><circle cx="26.3" cy="-0.3" r="1.1"/><circle cx="10.7" cy="16.4" r="1.1"/><circle cx="10.0" cy="11.6" r="1.0"/><circle cx="9.9" cy="13.7" r="0.9"/><circle cx="23.9" cy="15.0" r="0.8"/><circle cx="0.5" cy="18.6" r="0.8"/><circle cx="29.5" cy="18.6" r="0.8"/><circle cx="19.4" cy="6.4" r="1.0"/><circle cx="10.0" cy="19.0" r="0.8"/><circle cx="11.9" cy="19.1" r="0.9"/><circle cx="28.7" cy="28.7" r="1.1"/><circle cx="-0.3" cy="28.7" r="1.1"/><circle cx="28.7" cy="-0.3" r="1.1"/><circle cx="27.0" cy="27.3" r="1.0"/><circle cx="-2.0" cy="27.3" r="1.0"/><circle cx="27.0" cy="-1.7" r="1.0"/><circle cx="24.3" cy="11.8" r="0.8"/><circle cx="26.8" cy="26.7" r="0.9"/><circle cx="10.9" cy="6.8" r="1.0"/><circle cx="4.9" cy="23.6" r="0.8"/><circle cx="11.7" cy="22.7" r="0.9"/><circle cx="4.0" cy="0.9" r="1.0"/><circle cx="4.0" cy="29.9" r="1.0"/><circle cx="2.2" cy="8.2" r="1.0"/><circle cx="9.0" cy="1.1" r="1.1"/><circle cx="9.0" cy="30.1" r="1.1"/><circle cx="21.0" cy="17.8" r="0.8"/><circle cx="14.1" cy="28.0" r="1.0"/><circle cx="14.1" cy="-1.0" r="1.0"/><circle cx="7.4" cy="27.2" r="0.9"/><circle cx="7.4" cy="-1.8" r="0.9"/><circle cx="15.2" cy="4.8" r="1.1"/><circle cx="19.8" cy="15.4" r="0.9"/><circle cx="9.9" cy="13.3" r="1.0"/><circle cx="0.6" cy="20.7" r="1.1"/><circle cx="29.6" cy="20.7" r="1.1"/><circle cx="0.8" cy="3.9" r="1.0"/><circle cx="29.8" cy="3.9" r="1.0"/><circle cx="10.0" cy="4.1" r="1.0"/><circle cx="28.5" cy="10.3" r="1.0"/><circle cx="-0.5" cy="10.3" r="1.0"/><circle cx="15.9" cy="16.1" r="1.0"/><circle cx="26.5" cy="25.0" r="1.1"/></g></pattern><pattern id="p6" width="43" height="43" patternUnits="userSpaceOnUse" patternTransform="rotate(29)"><g fill="#9a8cbe"><circle cx="19.1" cy="12.6" r="1.1"/><circle cx="20.8" cy="3.7" r="1.0"/><circle cx="3.2" cy="8.7" r="0.8"/><circle cx="27.0" cy="36.2" r="1.0"/><circle cx="9.6" cy="36.3" r="1.1"/><circle cx="14.1" cy="11.8" r="1.0"/><circle cx="41.8" cy="39.3" r="1.1"/><circle cx="-1.2" cy="39.3" r="1.1"/><circle cx="30.8" cy="9.8" r="1.0"/><circle cx="18.4" cy="27.5" r="0.9"/><circle cx="8.9" cy="38.6" r="0.8"/><circle cx="14.7" cy="14.2" r="1.1"/><circle cx="5.1" cy="24.8" r="1.1"/><circle cx="26.3" cy="39.9" r="0.9"/><circle cx="18.8" cy="15.9" r="0.9"/><circle cx="15.0" cy="3.2" r="1.1"/><circle cx="31.5" cy="29.2" r="1.0"/><circle cx="8.6" cy="9.7" r="1.1"/><circle cx="35.4" cy="19.6" r="1.0"/><circle cx="41.2" cy="1.8" r="0.9"/><circle cx="-1.8" cy="1.8" r="0.9"/><circle cx="41.2" cy="44.8" r="0.9"/><circle cx="17.3" cy="14.7" r="1.0"/><circle cx="12.7" cy="5.2" r="1.1"/><circle cx="18.2" cy="34.5" r="0.8"/><circle cx="13.2" cy="21.2" r="0.8"/><circle cx="17.8" cy="7.7" r="0.9"/><circle cx="12.6" cy="33.5" r="1.0"/><circle cx="10.8" cy="25.3" r="0.9"/><circle cx="9.6" cy="33.4" r="1.0"/><circle cx="0.5" cy="23.3" r="0.9"/><circle cx="43.5" cy="23.3" r="0.9"/><circle cx="3.7" cy="41.8" r="1.0"/><circle cx="3.7" cy="-1.2" r="1.0"/><circle cx="42.7" cy="20.5" r="0.9"/><circle cx="-0.3" cy="20.5" r="0.9"/><circle cx="6.7" cy="28.6" r="0.9"/><circle cx="7.8" cy="36.1" r="1.0"/><circle cx="3.7" cy="42.1" r="0.9"/><circle cx="3.7" cy="-0.9" r="0.9"/><circle cx="39.7" cy="17.7" r="0.8"/><circle cx="23.6" cy="17.5" r="1.1"/><circle cx="21.3" cy="15.9" r="0.9"/><circle cx="20.7" cy="31.4" r="1.1"/><circle cx="17.1" cy="6.1" r="0.8"/><circle cx="25.8" cy="10.1" r="1.1"/><circle cx="18.2" cy="41.2" r="0.8"/><circle cx="18.2" cy="-1.8" r="0.8"/><circle cx="35.9" cy="5.1" r="0.8"/><circle cx="17.6" cy="12.1" r="0.9"/><circle cx="21.7" cy="26.6" r="0.8"/><circle cx="26.2" cy="16.4" r="1.0"/><circle cx="12.9" cy="35.1" r="0.8"/><circle cx="3.7" cy="31.1" r="1.0"/><circle cx="7.9" cy="14.7" r="0.9"/><circle cx="8.6" cy="24.0" r="0.9"/><circle cx="24.9" cy="33.0" r="0.8"/><circle cx="11.5" cy="28.6" r="1.0"/><circle cx="30.9" cy="11.8" r="0.8"/><circle cx="2.0" cy="13.2" r="0.9"/><circle cx="31.9" cy="14.7" r="1.1"/><circle cx="5.0" cy="12.4" r="0.9"/><circle cx="10.0" cy="20.6" r="1.1"/><circle cx="19.6" cy="8.7" r="1.0"/><circle cx="22.6" cy="35.6" r="0.8"/><circle cx="31.5" cy="25.8" r="0.9"/><circle cx="15.9" cy="4.0" r="1.1"/><circle cx="12.8" cy="18.1" r="1.0"/><circle cx="31.9" cy="26.1" r="0.9"/><circle cx="27.7" cy="22.8" r="0.9"/><circle cx="35.7" cy="6.3" r="0.8"/><circle cx="20.1" cy="21.1" r="0.8"/><circle cx="32.0" cy="40.9" r="1.0"/><circle cx="25.0" cy="12.3" r="0.8"/><circle cx="14.6" cy="30.9" r="1.1"/><circle cx="15.9" cy="14.7" r="0.9"/><circle cx="23.4" cy="11.6" r="1.0"/><circle cx="35.5" cy="7.1" r="1.0"/><circle cx="12.2" cy="8.6" r="0.9"/><circle cx="27.0" cy="18.0" r="0.9"/><circle cx="27.0" cy="21.5" r="1.1"/><circle cx="41.9" cy="39.5" r="1.0"/><circle cx="-1.1" cy="39.5" r="1.0"/><circle cx="6.7" cy="18.5" r="0.9"/><circle cx="22.9" cy="4.5" r="1.1"/><circle cx="10.9" cy="11.4" r="1.1"/><circle cx="18.0" cy="1.6" r="0.8"/><circle cx="18.0" cy="44.6" r="0.8"/><circle cx="27.0" cy="0.3" r="1.0"/><circle cx="27.0" cy="43.3" r="1.0"/><circle cx="4.8" cy="3.5" r="1.0"/><circle cx="7.4" cy="0.5" r="1.0"/><circle cx="7.4" cy="43.5" r="1.0"/><circle cx="6.9" cy="18.4" r="1.1"/><circle cx="36.5" cy="37.9" r="0.9"/><circle cx="27.1" cy="18.0" r="1.0"/><circle cx="41.8" cy="2.9" r="0.8"/><circle cx="-1.2" cy="2.9" r="0.8"/><circle cx="19.6" cy="25.3" r="1.0"/><circle cx="8.7" cy="6.7" r="0.9"/><circle cx="34.7" cy="17.5" r="1.1"/><circle cx="20.1" cy="35.0" r="0.8"/><circle cx="27.7" cy="11.2" r="0.9"/><circle cx="2.7" cy="29.5" r="0.9"/><circle cx="27.7" cy="18.5" r="0.8"/><circle cx="29.5" cy="0.5" r="0.8"/><circle cx="29.5" cy="43.5" r="0.8"/><circle cx="18.2" cy="33.4" r="0.9"/><circle cx="27.4" cy="39.0" r="1.1"/><circle cx="7.7" cy="16.0" r="0.8"/><circle cx="36.0" cy="23.4" r="1.0"/><circle cx="5.5" cy="17.5" r="0.9"/><circle cx="42.1" cy="13.8" r="1.1"/><circle cx="-0.9" cy="13.8" r="1.1"/></g></pattern><pattern id="p7" width="33" height="33" patternUnits="userSpaceOnUse" patternTransform="rotate(25)"><g fill="#ae9fc8"><circle cx="2.5" cy="25.3" r="1.1"/><circle cx="13.7" cy="31.2" r="0.9"/><circle cx="13.7" cy="-1.8" r="0.9"/><circle cx="20.5" cy="30.3" r="0.8"/><circle cx="1.3" cy="5.8" r="0.7"/><circle cx="34.3" cy="5.8" r="0.7"/><circle cx="14.5" cy="4.1" r="0.7"/><circle cx="10.2" cy="13.2" r="1.1"/><circle cx="0.4" cy="21.4" r="1.1"/><circle cx="33.4" cy="21.4" r="1.1"/><circle cx="24.2" cy="5.3" r="0.8"/><circle cx="12.2" cy="0.2" r="1.1"/><circle cx="12.2" cy="33.2" r="1.1"/><circle cx="25.2" cy="26.7" r="1.0"/><circle cx="32.6" cy="12.8" r="0.7"/><circle cx="-0.4" cy="12.8" r="0.7"/><circle cx="11.8" cy="14.4" r="1.0"/><circle cx="0.1" cy="28.2" r="0.8"/><circle cx="33.1" cy="28.2" r="0.8"/><circle cx="0.9" cy="20.0" r="1.0"/><circle cx="33.9" cy="20.0" r="1.0"/><circle cx="20.1" cy="24.3" r="0.9"/><circle cx="13.1" cy="0.8" r="1.0"/><circle cx="13.1" cy="33.8" r="1.0"/><circle cx="19.0" cy="4.4" r="0.8"/><circle cx="17.7" cy="22.9" r="1.1"/><circle cx="14.1" cy="18.1" r="1.0"/><circle cx="2.1" cy="31.7" r="0.9"/><circle cx="2.1" cy="-1.3" r="0.9"/><circle cx="32.5" cy="28.9" r="1.0"/><circle cx="-0.5" cy="28.9" r="1.0"/><circle cx="4.7" cy="15.0" r="0.9"/><circle cx="10.4" cy="15.9" r="0.8"/><circle cx="19.3" cy="23.6" r="1.0"/><circle cx="26.6" cy="26.2" r="0.8"/><circle cx="21.4" cy="25.5" r="0.7"/><circle cx="22.2" cy="15.2" r="0.8"/><circle cx="9.6" cy="25.4" r="1.0"/><circle cx="17.8" cy="29.8" r="0.9"/><circle cx="0.6" cy="21.3" r="0.9"/><circle cx="33.6" cy="21.3" r="0.9"/><circle cx="26.0" cy="20.5" r="1.0"/><circle cx="1.9" cy="22.8" r="0.8"/><circle cx="34.9" cy="22.8" r="0.8"/><circle cx="5.0" cy="25.0" r="1.0"/><circle cx="31.6" cy="11.4" r="1.1"/><circle cx="-1.4" cy="11.4" r="1.1"/><circle cx="21.8" cy="22.6" r="1.0"/><circle cx="27.6" cy="2.1" r="0.9"/><circle cx="19.8" cy="21.6" r="0.8"/></g></pattern><pattern id="p8" width="49" height="49" patternUnits="userSpaceOnUse" patternTransform="rotate(2)"><g fill="#ae9fc8"><circle cx="36.3" cy="46.1" r="1.0"/><circle cx="44.5" cy="5.4" r="0.9"/><circle cx="21.2" cy="13.0" r="1.0"/><circle cx="16.1" cy="47.7" r="0.8"/><circle cx="16.1" cy="-1.3" r="0.8"/><circle cx="27.1" cy="37.9" r="1.0"/><circle cx="2.0" cy="35.9" r="0.7"/><circle cx="16.8" cy="4.6" r="0.9"/><circle cx="9.6" cy="9.4" r="0.9"/><circle cx="20.8" cy="26.3" r="0.9"/><circle cx="34.4" cy="44.0" r="1.1"/><circle cx="28.9" cy="30.7" r="0.9"/><circle cx="17.0" cy="38.4" r="0.7"/><circle cx="46.0" cy="23.4" r="1.0"/><circle cx="34.0" cy="3.9" r="0.9"/><circle cx="18.8" cy="6.0" r="1.0"/><circle cx="20.4" cy="32.4" r="0.7"/><circle cx="46.0" cy="20.1" r="1.0"/><circle cx="37.4" cy="4.5" r="1.0"/><circle cx="34.8" cy="39.4" r="1.0"/><circle cx="12.7" cy="28.9" r="1.1"/><circle cx="11.9" cy="18.4" r="0.9"/><circle cx="27.3" cy="37.2" r="0.9"/><circle cx="31.1" cy="41.5" r="0.7"/><circle cx="25.7" cy="4.9" r="1.0"/><circle cx="28.1" cy="12.3" r="1.0"/><circle cx="10.3" cy="17.1" r="1.0"/><circle cx="33.0" cy="38.4" r="0.7"/><circle cx="13.7" cy="38.9" r="1.1"/><circle cx="17.0" cy="14.2" r="0.9"/><circle cx="20.9" cy="26.3" r="1.0"/><circle cx="42.7" cy="5.1" r="0.8"/><circle cx="20.6" cy="3.6" r="1.0"/><circle cx="10.1" cy="39.4" r="0.8"/><circle cx="33.4" cy="29.9" r="0.9"/><circle cx="24.0" cy="41.0" r="1.1"/><circle cx="18.0" cy="33.7" r="1.1"/><circle cx="12.6" cy="37.0" r="0.7"/><circle cx="12.2" cy="12.6" r="0.8"/><circle cx="48.7" cy="5.1" r="0.7"/><circle cx="-0.3" cy="5.1" r="0.7"/><circle cx="33.5" cy="24.3" r="0.9"/><circle cx="25.8" cy="10.8" r="1.0"/><circle cx="43.2" cy="46.7" r="0.8"/><circle cx="38.8" cy="42.9" r="0.7"/><circle cx="30.5" cy="24.2" r="0.8"/><circle cx="16.4" cy="35.6" r="0.8"/><circle cx="30.2" cy="7.8" r="1.0"/><circle cx="20.8" cy="3.3" r="0.9"/><circle cx="15.6" cy="21.5" r="1.1"/><circle cx="7.3" cy="7.5" r="1.1"/><circle cx="35.3" cy="29.0" r="0.8"/><circle cx="18.3" cy="47.1" r="1.0"/><circle cx="18.3" cy="-1.9" r="1.0"/><circle cx="43.7" cy="14.4" r="1.0"/><circle cx="47.0" cy="16.6" r="0.7"/><circle cx="-2.0" cy="16.6" r="0.7"/><circle cx="25.9" cy="10.4" r="0.8"/><circle cx="24.8" cy="10.7" r="0.7"/><circle cx="40.6" cy="31.0" r="0.7"/><circle cx="8.7" cy="31.4" r="0.9"/><circle cx="2.1" cy="34.5" r="0.7"/><circle cx="34.8" cy="19.2" r="1.1"/><circle cx="25.4" cy="21.8" r="1.0"/><circle cx="24.3" cy="33.6" r="0.9"/><circle cx="28.0" cy="47.2" r="0.9"/><circle cx="28.0" cy="-1.8" r="0.9"/><circle cx="15.5" cy="41.7" r="0.9"/><circle cx="15.4" cy="29.2" r="1.0"/><circle cx="17.1" cy="44.1" r="1.0"/><circle cx="18.4" cy="18.9" r="0.8"/><circle cx="1.6" cy="38.8" r="0.8"/><circle cx="50.6" cy="38.8" r="0.8"/><circle cx="45.9" cy="43.7" r="0.7"/><circle cx="38.9" cy="40.8" r="1.0"/><circle cx="10.3" cy="6.9" r="1.0"/><circle cx="25.2" cy="12.8" r="0.8"/><circle cx="21.7" cy="3.8" r="1.0"/><circle cx="1.5" cy="22.4" r="1.0"/><circle cx="50.5" cy="22.4" r="1.0"/><circle cx="3.8" cy="33.6" r="0.7"/><circle cx="44.0" cy="30.1" r="0.8"/><circle cx="37.3" cy="24.3" r="0.7"/><circle cx="30.5" cy="43.3" r="1.0"/><circle cx="37.9" cy="6.9" r="0.9"/><circle cx="3.1" cy="43.2" r="0.9"/><circle cx="48.1" cy="4.5" r="0.8"/><circle cx="-0.9" cy="4.5" r="0.8"/><circle cx="23.0" cy="20.3" r="0.9"/><circle cx="47.9" cy="5.8" r="1.1"/><circle cx="-1.1" cy="5.8" r="1.1"/></g></pattern><clipPath id="ihcc1"><rect x="498.2" y="2030.2" width="264.00000000000006" height="149.99999999999977"/></clipPath><filter id="n3" x="0" y="0" width="100%" height="100%" color-interpolation-filters="sRGB"><feTurbulence type="fractalNoise" baseFrequency="0.03" numOctaves="2" seed="30" result="t"/><feColorMatrix in="t" type="matrix" values="0 0 0 0 0.973 0 0 0 0 0.949 0 0 0 0 0.918 2.2 0 0 0 -0.8"/><feComposite in2="SourceGraphic" operator="in"/></filter><filter id="n4" x="0" y="0" width="100%" height="100%" color-interpolation-filters="sRGB"><feTurbulence type="fractalNoise" baseFrequency="0.04" numOctaves="2" seed="31" result="t"/><feColorMatrix in="t" type="matrix" values="0 0 0 0 0.894 0 0 0 0 0.831 0 0 0 0 0.784 0 2.0 0 0 -1.1"/><feComposite in2="SourceGraphic" operator="in"/></filter><filter id="n5" x="0" y="0" width="100%" height="100%" color-interpolation-filters="sRGB"><feTurbulence type="fractalNoise" baseFrequency="0.03" numOctaves="2" seed="21" result="t"/><feColorMatrix in="t" type="matrix" values="0 0 0 0 1.000 0 0 0 0 1.000 0 0 0 0 1.000 3.0 0 0 0 -0.7"/><feComposite in2="SourceGraphic" operator="in"/></filter><mask id="mk1" maskUnits="userSpaceOnUse" x="781" y="2030.2" width="264.4000000000001" height="149.99999999999977"><rect x="781" y="2030.2" width="264.4000000000001" height="149.99999999999977" fill="#000" filter="url(#n5)"/></mask><pattern id="p9" width="29" height="29" patternUnits="userSpaceOnUse" patternTransform="rotate(68)"><g fill="#a092c0"><circle cx="26.5" cy="14.3" r="0.9"/><circle cx="10.2" cy="3.3" r="0.8"/><circle cx="5.0" cy="3.5" r="0.8"/><circle cx="1.0" cy="16.0" r="0.7"/><circle cx="30.0" cy="16.0" r="0.7"/><circle cx="18.0" cy="10.7" r="1.1"/><circle cx="19.0" cy="22.4" r="1.0"/><circle cx="21.8" cy="27.3" r="1.1"/><circle cx="21.8" cy="-1.7" r="1.1"/><circle cx="4.7" cy="8.6" r="0.8"/><circle cx="6.2" cy="22.3" r="1.1"/><circle cx="1.9" cy="4.9" r="1.1"/><circle cx="30.9" cy="4.9" r="1.1"/><circle cx="3.0" cy="2.4" r="1.1"/><circle cx="8.2" cy="0.4" r="0.9"/><circle cx="8.2" cy="29.4" r="0.9"/><circle cx="5.5" cy="11.2" r="0.8"/><circle cx="23.7" cy="27.4" r="1.1"/><circle cx="23.7" cy="-1.6" r="1.1"/><circle cx="14.4" cy="26.9" r="1.0"/><circle cx="15.9" cy="18.8" r="1.0"/><circle cx="26.5" cy="7.4" r="1.1"/><circle cx="24.6" cy="17.7" r="0.9"/><circle cx="8.9" cy="27.9" r="0.9"/><circle cx="8.9" cy="-1.1" r="0.9"/><circle cx="1.8" cy="28.7" r="0.9"/><circle cx="30.8" cy="28.7" r="0.9"/><circle cx="1.8" cy="-0.3" r="0.9"/><circle cx="13.0" cy="0.5" r="0.9"/><circle cx="13.0" cy="29.5" r="0.9"/><circle cx="27.7" cy="27.4" r="0.8"/><circle cx="-1.3" cy="27.4" r="0.8"/><circle cx="27.7" cy="-1.6" r="0.8"/><circle cx="8.8" cy="28.7" r="1.0"/><circle cx="8.8" cy="-0.3" r="1.0"/><circle cx="15.7" cy="3.9" r="1.0"/><circle cx="1.2" cy="1.1" r="1.0"/><circle cx="30.2" cy="1.1" r="1.0"/><circle cx="1.2" cy="30.1" r="1.0"/><circle cx="2.2" cy="28.8" r="0.8"/><circle cx="2.2" cy="-0.2" r="0.8"/><circle cx="1.6" cy="10.2" r="0.8"/><circle cx="30.6" cy="10.2" r="0.8"/><circle cx="27.4" cy="12.3" r="0.8"/><circle cx="-1.6" cy="12.3" r="0.8"/><circle cx="15.3" cy="8.2" r="0.7"/><circle cx="1.1" cy="19.4" r="0.9"/><circle cx="30.1" cy="19.4" r="0.9"/><circle cx="0.2" cy="28.7" r="0.9"/><circle cx="29.2" cy="28.7" r="0.9"/><circle cx="0.2" cy="-0.3" r="0.9"/><circle cx="13.9" cy="9.6" r="1.1"/><circle cx="10.4" cy="0.1" r="1.0"/><circle cx="10.4" cy="29.1" r="1.0"/><circle cx="17.1" cy="26.5" r="0.8"/></g></pattern><pattern id="p10" width="43" height="43" patternUnits="userSpaceOnUse" patternTransform="rotate(73)"><g fill="#a092c0"><circle cx="23.5" cy="5.3" r="0.8"/><circle cx="18.5" cy="0.7" r="0.9"/><circle cx="18.5" cy="43.7" r="0.9"/><circle cx="40.9" cy="18.4" r="1.0"/><circle cx="41.3" cy="0.9" r="0.7"/><circle cx="-1.7" cy="0.9" r="0.7"/><circle cx="41.3" cy="43.9" r="0.7"/><circle cx="18.7" cy="41.3" r="0.9"/><circle cx="18.7" cy="-1.7" r="0.9"/><circle cx="34.3" cy="28.9" r="0.7"/><circle cx="20.0" cy="27.7" r="0.8"/><circle cx="5.7" cy="28.7" r="0.8"/><circle cx="29.7" cy="11.9" r="0.7"/><circle cx="16.1" cy="33.9" r="0.8"/><circle cx="23.5" cy="33.3" r="0.8"/><circle cx="37.3" cy="1.8" r="0.9"/><circle cx="37.3" cy="44.8" r="0.9"/><circle cx="10.4" cy="7.3" r="1.1"/><circle cx="7.1" cy="33.5" r="0.9"/><circle cx="40.6" cy="38.1" r="0.7"/><circle cx="40.9" cy="24.0" r="1.0"/><circle cx="4.5" cy="30.9" r="1.0"/><circle cx="41.5" cy="25.6" r="0.7"/><circle cx="-1.5" cy="25.6" r="0.7"/><circle cx="28.1" cy="28.6" r="0.8"/><circle cx="34.8" cy="1.6" r="0.9"/><circle cx="34.8" cy="44.6" r="0.9"/><circle cx="26.8" cy="40.7" r="0.8"/><circle cx="9.4" cy="29.1" r="0.9"/><circle cx="39.5" cy="6.9" r="1.0"/><circle cx="9.2" cy="40.1" r="0.8"/><circle cx="17.9" cy="22.0" r="1.1"/><circle cx="36.1" cy="26.9" r="0.8"/><circle cx="27.0" cy="37.9" r="0.9"/><circle cx="6.4" cy="34.0" r="1.1"/><circle cx="12.8" cy="2.3" r="0.8"/><circle cx="8.3" cy="27.8" r="0.9"/><circle cx="36.4" cy="8.4" r="1.0"/><circle cx="25.1" cy="5.5" r="0.9"/><circle cx="9.1" cy="1.0" r="0.9"/><circle cx="9.1" cy="44.0" r="0.9"/><circle cx="16.2" cy="0.1" r="1.0"/><circle cx="16.2" cy="43.1" r="1.0"/><circle cx="36.3" cy="6.4" r="0.8"/><circle cx="3.6" cy="37.7" r="1.0"/><circle cx="33.8" cy="19.2" r="1.0"/><circle cx="26.3" cy="11.6" r="0.8"/><circle cx="23.6" cy="18.8" r="1.0"/><circle cx="19.0" cy="0.7" r="1.0"/><circle cx="19.0" cy="43.7" r="1.0"/><circle cx="26.4" cy="34.0" r="1.0"/><circle cx="33.3" cy="18.0" r="0.7"/><circle cx="24.1" cy="40.7" r="1.0"/><circle cx="40.3" cy="23.4" r="0.9"/><circle cx="12.7" cy="36.3" r="0.9"/><circle cx="41.0" cy="33.6" r="1.0"/><circle cx="-2.0" cy="33.6" r="1.0"/><circle cx="19.7" cy="12.5" r="0.7"/><circle cx="32.0" cy="31.9" r="0.8"/><circle cx="38.2" cy="9.4" r="1.1"/><circle cx="24.1" cy="16.5" r="0.8"/><circle cx="40.0" cy="25.0" r="1.1"/><circle cx="5.7" cy="38.4" r="0.8"/><circle cx="9.9" cy="41.9" r="0.8"/><circle cx="9.9" cy="-1.1" r="0.8"/><circle cx="28.7" cy="25.0" r="0.9"/><circle cx="24.2" cy="15.4" r="0.9"/><circle cx="40.2" cy="28.2" r="0.9"/><circle cx="6.1" cy="36.0" r="0.8"/><circle cx="39.6" cy="6.5" r="1.1"/><circle cx="40.7" cy="33.0" r="0.7"/><circle cx="18.9" cy="23.6" r="1.0"/><circle cx="31.2" cy="0.7" r="1.0"/><circle cx="31.2" cy="43.7" r="1.0"/><circle cx="38.3" cy="27.5" r="0.9"/><circle cx="17.5" cy="34.7" r="0.9"/><circle cx="4.5" cy="38.6" r="0.9"/><circle cx="37.1" cy="29.5" r="1.1"/><circle cx="33.6" cy="34.4" r="0.8"/><circle cx="30.9" cy="6.1" r="1.0"/><circle cx="15.6" cy="3.4" r="1.0"/><circle cx="42.2" cy="17.5" r="0.8"/><circle cx="-0.8" cy="17.5" r="0.8"/><circle cx="20.1" cy="21.1" r="0.7"/><circle cx="14.6" cy="10.9" r="1.1"/><circle cx="35.3" cy="7.1" r="1.1"/><circle cx="30.7" cy="9.9" r="0.8"/><circle cx="1.0" cy="19.3" r="1.0"/><circle cx="44.0" cy="19.3" r="1.0"/><circle cx="15.1" cy="26.6" r="1.0"/><circle cx="16.6" cy="28.4" r="0.9"/></g></pattern><pattern id="p11" width="33" height="33" patternUnits="userSpaceOnUse" patternTransform="rotate(45)"><g fill="#b8acc8"><circle cx="11.8" cy="27.4" r="0.8"/><circle cx="1.9" cy="15.6" r="0.9"/><circle cx="34.9" cy="15.6" r="0.9"/><circle cx="22.4" cy="2.1" r="0.8"/><circle cx="6.5" cy="1.1" r="1.0"/><circle cx="6.5" cy="34.1" r="1.0"/><circle cx="23.3" cy="11.9" r="0.9"/><circle cx="26.1" cy="0.2" r="0.8"/><circle cx="26.1" cy="33.2" r="0.8"/><circle cx="10.1" cy="1.5" r="0.9"/><circle cx="10.1" cy="34.5" r="0.9"/><circle cx="28.6" cy="16.0" r="0.9"/><circle cx="17.8" cy="13.3" r="0.9"/><circle cx="26.8" cy="8.9" r="0.9"/><circle cx="4.1" cy="17.8" r="0.9"/><circle cx="13.5" cy="3.4" r="1.0"/><circle cx="25.5" cy="27.3" r="0.7"/><circle cx="33.0" cy="16.3" r="0.8"/><circle cx="-0.0" cy="16.3" r="0.8"/><circle cx="9.8" cy="2.6" r="0.9"/><circle cx="31.2" cy="30.0" r="0.9"/><circle cx="-1.8" cy="30.0" r="0.9"/><circle cx="17.4" cy="12.3" r="0.9"/><circle cx="0.4" cy="2.0" r="0.9"/><circle cx="33.4" cy="2.0" r="0.9"/><circle cx="10.8" cy="32.7" r="0.9"/><circle cx="10.8" cy="-0.3" r="0.9"/><circle cx="1.4" cy="20.0" r="0.7"/><circle cx="34.4" cy="20.0" r="0.7"/><circle cx="31.7" cy="22.9" r="0.9"/><circle cx="-1.3" cy="22.9" r="0.9"/></g></pattern><pattern id="p12" width="49" height="49" patternUnits="userSpaceOnUse" patternTransform="rotate(88)"><g fill="#b8acc8"><circle cx="19.8" cy="9.8" r="0.8"/><circle cx="12.2" cy="37.2" r="0.8"/><circle cx="18.8" cy="33.5" r="0.9"/><circle cx="46.0" cy="24.0" r="0.8"/><circle cx="30.0" cy="10.6" r="1.0"/><circle cx="18.3" cy="19.0" r="0.9"/><circle cx="7.5" cy="32.4" r="1.0"/><circle cx="16.6" cy="46.4" r="0.9"/><circle cx="37.9" cy="23.0" r="0.8"/><circle cx="13.2" cy="0.4" r="0.8"/><circle cx="13.2" cy="49.4" r="0.8"/><circle cx="48.5" cy="26.2" r="0.8"/><circle cx="-0.5" cy="26.2" r="0.8"/><circle cx="44.1" cy="29.7" r="1.0"/><circle cx="17.5" cy="10.6" r="1.0"/><circle cx="7.9" cy="38.8" r="0.9"/><circle cx="48.2" cy="46.3" r="0.9"/><circle cx="-0.8" cy="46.3" r="0.9"/><circle cx="1.8" cy="1.1" r="0.8"/><circle cx="50.8" cy="1.1" r="0.8"/><circle cx="1.8" cy="50.1" r="0.8"/><circle cx="40.2" cy="4.0" r="0.8"/><circle cx="4.2" cy="15.2" r="0.7"/><circle cx="16.2" cy="25.6" r="0.8"/><circle cx="38.6" cy="2.7" r="0.8"/><circle cx="12.6" cy="19.8" r="0.9"/><circle cx="17.3" cy="34.1" r="1.0"/><circle cx="6.4" cy="42.3" r="0.9"/><circle cx="36.6" cy="29.8" r="0.8"/><circle cx="4.7" cy="7.0" r="0.8"/><circle cx="8.7" cy="7.1" r="0.8"/><circle cx="27.5" cy="37.8" r="0.9"/><circle cx="41.5" cy="5.7" r="0.9"/><circle cx="9.1" cy="3.5" r="0.8"/><circle cx="28.7" cy="2.3" r="0.8"/><circle cx="19.6" cy="40.3" r="0.8"/><circle cx="20.3" cy="18.2" r="0.7"/><circle cx="43.1" cy="45.2" r="0.9"/><circle cx="19.5" cy="21.8" r="0.8"/><circle cx="32.1" cy="32.0" r="0.8"/><circle cx="42.8" cy="35.3" r="0.8"/><circle cx="39.7" cy="33.0" r="0.8"/><circle cx="14.5" cy="36.8" r="0.7"/><circle cx="21.5" cy="47.2" r="0.8"/><circle cx="21.5" cy="-1.8" r="0.8"/><circle cx="24.7" cy="44.5" r="1.0"/><circle cx="38.6" cy="26.1" r="1.0"/><circle cx="12.6" cy="43.2" r="0.8"/><circle cx="32.3" cy="29.9" r="0.8"/><circle cx="33.2" cy="29.6" r="1.0"/><circle cx="32.7" cy="21.6" r="0.8"/><circle cx="43.5" cy="16.9" r="0.9"/></g></pattern><clipPath id="ihcc2"><rect x="781" y="2030.2" width="264.4000000000001" height="149.99999999999977"/></clipPath><filter id="n6" x="0" y="0" width="100%" height="100%" color-interpolation-filters="sRGB"><feTurbulence type="fractalNoise" baseFrequency="0.05" numOctaves="2" seed="40" result="t"/><feColorMatrix in="t" type="matrix" values="0 0 0 0 0.902 0 0 0 0 0.863 0 0 0 0 0.886 2.0 0 0 0 -1.1"/><feComposite in2="SourceGraphic" operator="in"/></filter><pattern id="p13" width="29" height="29" patternUnits="userSpaceOnUse" patternTransform="rotate(5)"><g fill="#9c7070"><circle cx="27.9" cy="15.9" r="0.8"/><circle cx="-1.1" cy="15.9" r="0.8"/><ellipse cx="12.1" cy="22.8" rx="1.1" ry="0.8" transform="rotate(79 12.1 22.8)"/><ellipse cx="23.7" cy="0.6" rx="1.3" ry="1.0" transform="rotate(58 23.7 0.6)"/><circle cx="23.7" cy="29.6" r="1.0"/><ellipse cx="6.3" cy="11.7" rx="1.2" ry="0.8" transform="rotate(166 6.3 11.7)"/><ellipse cx="10.3" cy="8.6" rx="1.3" ry="0.9" transform="rotate(131 10.3 8.6)"/><ellipse cx="17.5" cy="27.1" rx="1.5" ry="1.1" transform="rotate(136 17.5 27.1)"/><circle cx="17.5" cy="-1.9" r="1.1"/><ellipse cx="13.9" cy="22.3" rx="1.4" ry="1.0" transform="rotate(33 13.9 22.3)"/><ellipse cx="21.7" cy="11.2" rx="1.2" ry="0.9" transform="rotate(131 21.7 11.2)"/><circle cx="1.1" cy="18.8" r="1.0"/><circle cx="30.1" cy="18.8" r="1.0"/><ellipse cx="10.2" cy="17.1" rx="1.3" ry="1.0" transform="rotate(16 10.2 17.1)"/><ellipse cx="15.4" cy="1.8" rx="1.6" ry="1.2" transform="rotate(134 15.4 1.8)"/><circle cx="15.4" cy="30.8" r="1.2"/><circle cx="2.9" cy="17.9" r="1.1"/><ellipse cx="2.4" cy="14.0" rx="1.5" ry="1.0" transform="rotate(60 2.4 14.0)"/><ellipse cx="11.6" cy="4.6" rx="1.1" ry="0.8" transform="rotate(91 11.6 4.6)"/><circle cx="13.7" cy="4.5" r="1.0"/><ellipse cx="24.0" cy="10.7" rx="1.4" ry="1.0" transform="rotate(64 24.0 10.7)"/><circle cx="11.3" cy="3.3" r="0.8"/><ellipse cx="25.8" cy="5.8" rx="1.7" ry="1.2" transform="rotate(18 25.8 5.8)"/><ellipse cx="2.4" cy="1.0" rx="1.5" ry="1.1" transform="rotate(43 2.4 1.0)"/><circle cx="2.4" cy="30.0" r="1.1"/><circle cx="26.5" cy="6.0" r="0.8"/><ellipse cx="13.9" cy="13.7" rx="1.5" ry="1.1" transform="rotate(13 13.9 13.7)"/><ellipse cx="24.6" cy="13.5" rx="1.5" ry="1.1" transform="rotate(109 24.6 13.5)"/><ellipse cx="12.2" cy="10.5" rx="1.2" ry="0.9" transform="rotate(59 12.2 10.5)"/><circle cx="27.7" cy="28.4" r="0.8"/><circle cx="-1.3" cy="28.4" r="0.8"/><circle cx="27.7" cy="-0.6" r="0.8"/><ellipse cx="21.4" cy="26.9" rx="1.4" ry="1.0" transform="rotate(113 21.4 26.9)"/><circle cx="14.8" cy="25.4" r="1.2"/><ellipse cx="23.8" cy="21.1" rx="1.1" ry="0.8" transform="rotate(158 23.8 21.1)"/><circle cx="9.1" cy="8.3" r="0.8"/><circle cx="22.7" cy="19.0" r="1.0"/><circle cx="27.6" cy="26.2" r="0.9"/><circle cx="-1.4" cy="26.2" r="0.9"/></g></pattern><pattern id="p14" width="43" height="43" patternUnits="userSpaceOnUse" patternTransform="rotate(6)"><g fill="#9c7070"><ellipse cx="38.7" cy="9.6" rx="1.6" ry="1.1" transform="rotate(46 38.7 9.6)"/><ellipse cx="15.1" cy="26.1" rx="1.4" ry="1.0" transform="rotate(163 15.1 26.1)"/><circle cx="6.7" cy="21.7" r="1.1"/><ellipse cx="32.3" cy="12.6" rx="1.4" ry="1.0" transform="rotate(125 32.3 12.6)"/><circle cx="40.2" cy="38.8" r="0.8"/><circle cx="27.2" cy="36.5" r="0.8"/><ellipse cx="30.6" cy="29.9" rx="1.6" ry="1.1" transform="rotate(109 30.6 29.9)"/><ellipse cx="33.7" cy="25.5" rx="1.1" ry="0.8" transform="rotate(133 33.7 25.5)"/><circle cx="1.5" cy="8.5" r="0.8"/><circle cx="44.5" cy="8.5" r="0.8"/><ellipse cx="24.4" cy="18.2" rx="1.2" ry="0.9" transform="rotate(138 24.4 18.2)"/><circle cx="10.4" cy="14.3" r="1.0"/><ellipse cx="41.5" cy="17.4" rx="1.5" ry="1.1" transform="rotate(117 41.5 17.4)"/><circle cx="-1.5" cy="17.4" r="1.1"/><circle cx="22.8" cy="36.2" r="1.0"/><ellipse cx="3.1" cy="2.0" rx="1.2" ry="0.9" transform="rotate(45 3.1 2.0)"/><circle cx="19.4" cy="27.4" r="0.8"/><ellipse cx="4.8" cy="10.6" rx="1.3" ry="0.9" transform="rotate(150 4.8 10.6)"/><ellipse cx="16.5" cy="5.3" rx="1.4" ry="1.0" transform="rotate(19 16.5 5.3)"/><circle cx="20.0" cy="24.5" r="0.9"/><circle cx="10.9" cy="28.4" r="0.9"/><ellipse cx="39.1" cy="40.4" rx="1.5" ry="1.1" transform="rotate(147 39.1 40.4)"/><ellipse cx="8.9" cy="19.9" rx="1.4" ry="1.0" transform="rotate(87 8.9 19.9)"/><ellipse cx="10.4" cy="22.6" rx="1.7" ry="1.2" transform="rotate(117 10.4 22.6)"/><ellipse cx="33.5" cy="26.2" rx="1.4" ry="1.0" transform="rotate(19 33.5 26.2)"/><ellipse cx="32.7" cy="34.0" rx="1.3" ry="1.0" transform="rotate(148 32.7 34.0)"/><ellipse cx="21.0" cy="22.7" rx="1.3" ry="0.9" transform="rotate(133 21.0 22.7)"/><ellipse cx="2.9" cy="4.6" rx="1.6" ry="1.1" transform="rotate(5 2.9 4.6)"/><ellipse cx="25.3" cy="29.7" rx="1.5" ry="1.1" transform="rotate(4 25.3 29.7)"/><circle cx="39.4" cy="40.4" r="0.8"/><circle cx="19.3" cy="8.9" r="1.0"/><ellipse cx="22.6" cy="19.7" rx="1.1" ry="0.8" transform="rotate(23 22.6 19.7)"/><ellipse cx="34.0" cy="26.5" rx="1.3" ry="1.0" transform="rotate(60 34.0 26.5)"/><ellipse cx="17.1" cy="20.4" rx="1.6" ry="1.1" transform="rotate(55 17.1 20.4)"/><ellipse cx="0.9" cy="40.1" rx="1.4" ry="1.0" transform="rotate(140 0.9 40.1)"/><circle cx="43.9" cy="40.1" r="1.0"/><circle cx="2.7" cy="13.8" r="1.1"/><ellipse cx="21.8" cy="9.8" rx="1.4" ry="1.0" transform="rotate(12 21.8 9.8)"/><ellipse cx="19.0" cy="11.3" rx="1.7" ry="1.2" transform="rotate(90 19.0 11.3)"/><ellipse cx="4.4" cy="37.0" rx="1.4" ry="1.0" transform="rotate(169 4.4 37.0)"/><ellipse cx="21.6" cy="14.1" rx="1.2" ry="0.9" transform="rotate(85 21.6 14.1)"/><ellipse cx="9.7" cy="24.0" rx="1.4" ry="1.0" transform="rotate(142 9.7 24.0)"/><circle cx="41.2" cy="34.4" r="0.8"/><circle cx="-1.8" cy="34.4" r="0.8"/><ellipse cx="9.5" cy="10.2" rx="1.5" ry="1.1" transform="rotate(55 9.5 10.2)"/><ellipse cx="25.8" cy="40.7" rx="1.5" ry="1.0" transform="rotate(55 25.8 40.7)"/><circle cx="34.4" cy="30.2" r="1.0"/><ellipse cx="21.4" cy="29.7" rx="1.3" ry="0.9" transform="rotate(0 21.4 29.7)"/><circle cx="29.6" cy="1.6" r="1.1"/><circle cx="29.6" cy="44.6" r="1.1"/><ellipse cx="32.0" cy="12.4" rx="1.4" ry="1.0" transform="rotate(39 32.0 12.4)"/><circle cx="6.6" cy="36.8" r="1.2"/><ellipse cx="13.6" cy="7.3" rx="1.3" ry="1.0" transform="rotate(53 13.6 7.3)"/><circle cx="40.3" cy="32.4" r="1.1"/><circle cx="2.8" cy="9.6" r="0.8"/><circle cx="30.5" cy="12.7" r="1.1"/><circle cx="15.2" cy="17.8" r="0.9"/><ellipse cx="32.3" cy="37.5" rx="1.2" ry="0.8" transform="rotate(137 32.3 37.5)"/><circle cx="10.4" cy="37.2" r="0.8"/><ellipse cx="42.1" cy="38.3" rx="1.6" ry="1.2" transform="rotate(32 42.1 38.3)"/><circle cx="-0.9" cy="38.3" r="1.2"/><circle cx="42.9" cy="39.6" r="1.2"/><circle cx="-0.1" cy="39.6" r="1.2"/><circle cx="28.8" cy="2.5" r="0.9"/><circle cx="36.6" cy="11.4" r="0.9"/><ellipse cx="5.1" cy="33.9" rx="1.5" ry="1.1" transform="rotate(137 5.1 33.9)"/><circle cx="28.5" cy="16.0" r="1.1"/><circle cx="26.0" cy="12.3" r="0.8"/><circle cx="2.9" cy="32.1" r="0.8"/><circle cx="30.1" cy="30.0" r="1.1"/><circle cx="3.9" cy="15.5" r="1.1"/><ellipse cx="4.0" cy="3.7" rx="1.6" ry="1.2" transform="rotate(57 4.0 3.7)"/><ellipse cx="29.7" cy="24.6" rx="1.7" ry="1.2" transform="rotate(106 29.7 24.6)"/><circle cx="24.4" cy="40.1" r="0.9"/></g></pattern><pattern id="p15" width="33" height="33" patternUnits="userSpaceOnUse" patternTransform="rotate(69)"><g fill="#8a78a4"><circle cx="19.3" cy="25.8" r="0.8"/><ellipse cx="29.3" cy="31.5" rx="1.3" ry="1.0" transform="rotate(59 29.3 31.5)"/><circle cx="29.3" cy="-1.5" r="1.0"/><circle cx="3.7" cy="18.1" r="0.8"/><circle cx="18.7" cy="25.8" r="0.8"/><ellipse cx="26.2" cy="4.4" rx="1.0" ry="0.7" transform="rotate(66 26.2 4.4)"/><circle cx="24.7" cy="26.3" r="1.1"/><ellipse cx="1.4" cy="19.1" rx="1.5" ry="1.1" transform="rotate(13 1.4 19.1)"/><circle cx="34.4" cy="19.1" r="1.1"/><ellipse cx="8.3" cy="9.7" rx="1.5" ry="1.1" transform="rotate(130 8.3 9.7)"/><circle cx="20.5" cy="28.0" r="0.7"/><ellipse cx="4.8" cy="30.1" rx="1.1" ry="0.8" transform="rotate(162 4.8 30.1)"/><circle cx="29.3" cy="19.8" r="0.8"/><ellipse cx="20.0" cy="14.5" rx="1.4" ry="1.0" transform="rotate(163 20.0 14.5)"/><circle cx="17.2" cy="12.7" r="1.0"/><circle cx="0.3" cy="5.1" r="0.8"/><circle cx="33.3" cy="5.1" r="0.8"/><ellipse cx="17.9" cy="2.8" rx="1.3" ry="0.9" transform="rotate(49 17.9 2.8)"/><ellipse cx="0.1" cy="1.4" rx="1.2" ry="0.9" transform="rotate(130 0.1 1.4)"/><circle cx="33.1" cy="1.4" r="0.9"/><circle cx="0.1" cy="34.4" r="0.9"/><ellipse cx="6.1" cy="9.7" rx="1.4" ry="1.0" transform="rotate(98 6.1 9.7)"/><ellipse cx="10.2" cy="7.7" rx="1.1" ry="0.8" transform="rotate(95 10.2 7.7)"/><circle cx="12.8" cy="23.4" r="0.9"/><ellipse cx="26.8" cy="32.4" rx="1.4" ry="1.0" transform="rotate(162 26.8 32.4)"/><circle cx="26.8" cy="-0.6" r="1.0"/><circle cx="27.2" cy="21.7" r="0.7"/><ellipse cx="3.7" cy="14.5" rx="1.3" ry="0.9" transform="rotate(143 3.7 14.5)"/><circle cx="20.8" cy="25.7" r="1.0"/></g></pattern><pattern id="p16" width="49" height="49" patternUnits="userSpaceOnUse" patternTransform="rotate(52)"><g fill="#8a78a4"><circle cx="25.5" cy="13.4" r="1.0"/><ellipse cx="31.7" cy="1.1" rx="1.1" ry="0.8" transform="rotate(86 31.7 1.1)"/><circle cx="31.7" cy="50.1" r="0.8"/><ellipse cx="32.3" cy="25.9" rx="1.4" ry="1.0" transform="rotate(174 32.3 25.9)"/><ellipse cx="46.6" cy="48.4" rx="1.4" ry="1.0" transform="rotate(7 46.6 48.4)"/><circle cx="46.6" cy="-0.6" r="1.0"/><circle cx="46.9" cy="18.2" r="0.7"/><circle cx="42.3" cy="16.7" r="1.0"/><circle cx="19.3" cy="32.5" r="0.9"/><circle cx="26.4" cy="41.4" r="1.1"/><ellipse cx="6.3" cy="41.9" rx="1.0" ry="0.7" transform="rotate(38 6.3 41.9)"/><ellipse cx="38.6" cy="39.8" rx="1.2" ry="0.9" transform="rotate(105 38.6 39.8)"/><circle cx="40.3" cy="17.9" r="1.0"/><circle cx="7.6" cy="6.0" r="0.9"/><ellipse cx="19.7" cy="34.5" rx="1.5" ry="1.1" transform="rotate(57 19.7 34.5)"/><circle cx="10.6" cy="6.8" r="0.8"/><circle cx="22.0" cy="30.0" r="0.8"/><circle cx="7.1" cy="28.7" r="0.8"/><ellipse cx="24.6" cy="2.6" rx="1.3" ry="0.9" transform="rotate(118 24.6 2.6)"/><circle cx="27.5" cy="28.6" r="0.7"/><circle cx="17.7" cy="13.7" r="0.8"/><ellipse cx="28.1" cy="19.5" rx="1.4" ry="1.0" transform="rotate(40 28.1 19.5)"/><circle cx="38.3" cy="3.4" r="0.9"/><circle cx="14.2" cy="14.6" r="0.8"/><ellipse cx="26.2" cy="9.0" rx="1.4" ry="1.0" transform="rotate(111 26.2 9.0)"/><ellipse cx="5.6" cy="15.6" rx="1.5" ry="1.1" transform="rotate(172 5.6 15.6)"/><ellipse cx="2.1" cy="31.4" rx="1.4" ry="1.0" transform="rotate(114 2.1 31.4)"/><circle cx="14.8" cy="21.6" r="0.9"/><ellipse cx="35.1" cy="39.5" rx="1.4" ry="1.0" transform="rotate(30 35.1 39.5)"/><ellipse cx="36.4" cy="32.8" rx="1.2" ry="0.9" transform="rotate(150 36.4 32.8)"/><ellipse cx="10.2" cy="26.7" rx="1.0" ry="0.7" transform="rotate(122 10.2 26.7)"/><ellipse cx="48.3" cy="37.8" rx="1.4" ry="1.0" transform="rotate(154 48.3 37.8)"/><circle cx="-0.7" cy="37.8" r="1.0"/><circle cx="21.9" cy="14.4" r="1.1"/><ellipse cx="23.1" cy="6.9" rx="1.5" ry="1.1" transform="rotate(2 23.1 6.9)"/><ellipse cx="33.1" cy="44.3" rx="1.2" ry="0.8" transform="rotate(105 33.1 44.3)"/><ellipse cx="0.7" cy="36.3" rx="1.2" ry="0.8" transform="rotate(18 0.7 36.3)"/><circle cx="49.7" cy="36.3" r="0.8"/><ellipse cx="35.9" cy="25.6" rx="1.1" ry="0.8" transform="rotate(128 35.9 25.6)"/><ellipse cx="9.2" cy="33.9" rx="1.0" ry="0.7" transform="rotate(5 9.2 33.9)"/><ellipse cx="14.9" cy="36.6" rx="1.5" ry="1.0" transform="rotate(148 14.9 36.6)"/><ellipse cx="26.9" cy="30.2" rx="1.3" ry="0.9" transform="rotate(128 26.9 30.2)"/><ellipse cx="19.0" cy="2.2" rx="1.2" ry="0.8" transform="rotate(175 19.0 2.2)"/><ellipse cx="39.2" cy="4.0" rx="1.1" ry="0.8" transform="rotate(129 39.2 4.0)"/><ellipse cx="9.2" cy="43.4" rx="1.5" ry="1.1" transform="rotate(30 9.2 43.4)"/><circle cx="24.0" cy="2.2" r="0.9"/><ellipse cx="37.0" cy="6.2" rx="1.3" ry="0.9" transform="rotate(29 37.0 6.2)"/><ellipse cx="23.2" cy="9.8" rx="1.5" ry="1.1" transform="rotate(29 23.2 9.8)"/><ellipse cx="21.5" cy="34.7" rx="1.0" ry="0.7" transform="rotate(92 21.5 34.7)"/><circle cx="23.2" cy="31.4" r="0.7"/><ellipse cx="47.7" cy="43.3" rx="1.2" ry="0.9" transform="rotate(43 47.7 43.3)"/><circle cx="-1.3" cy="43.3" r="0.9"/><circle cx="44.1" cy="6.3" r="1.0"/><circle cx="17.2" cy="45.2" r="0.9"/><circle cx="41.5" cy="10.3" r="0.8"/><ellipse cx="23.5" cy="9.6" rx="1.4" ry="1.0" transform="rotate(67 23.5 9.6)"/><ellipse cx="24.4" cy="6.2" rx="1.1" ry="0.8" transform="rotate(138 24.4 6.2)"/></g></pattern><clipPath id="ihcc3"><rect x="1065.5" y="2030.2" width="264.29999999999995" height="149.99999999999977"/></clipPath><filter id="n7" x="0" y="0" width="100%" height="100%" color-interpolation-filters="sRGB"><feTurbulence type="fractalNoise" baseFrequency="0.03" numOctaves="3" seed="50" result="t"/><feColorMatrix in="t" type="matrix" values="0 0 0 0 0.949 0 0 0 0 0.933 0 0 0 0 0.933 2.2 0 0 0 -1.1"/><feComposite in2="SourceGraphic" operator="in"/></filter><pattern id="p17" width="29" height="29" patternUnits="userSpaceOnUse" patternTransform="rotate(1)"><g fill="#c4a08c"><circle cx="16.8" cy="15.6" r="1.0"/><circle cx="22.5" cy="12.1" r="0.9"/><circle cx="16.8" cy="8.0" r="0.8"/><ellipse cx="1.8" cy="0.7" rx="1.4" ry="0.9" transform="rotate(60 1.8 0.7)"/><circle cx="30.8" cy="0.7" r="0.9"/><circle cx="1.8" cy="29.7" r="0.9"/><ellipse cx="25.8" cy="2.8" rx="1.2" ry="0.7" transform="rotate(158 25.8 2.8)"/><ellipse cx="17.1" cy="9.8" rx="1.5" ry="0.9" transform="rotate(130 17.1 9.8)"/><circle cx="17.0" cy="6.3" r="0.7"/><circle cx="10.1" cy="3.3" r="0.9"/><circle cx="13.9" cy="24.7" r="0.7"/><circle cx="23.0" cy="5.2" r="0.9"/><circle cx="11.7" cy="19.1" r="0.7"/><ellipse cx="10.5" cy="27.3" rx="1.5" ry="0.9" transform="rotate(60 10.5 27.3)"/><circle cx="10.5" cy="-1.7" r="0.9"/><circle cx="12.4" cy="20.6" r="0.8"/><circle cx="17.3" cy="1.8" r="0.9"/><circle cx="17.3" cy="30.8" r="0.9"/><ellipse cx="6.8" cy="0.6" rx="1.2" ry="0.7" transform="rotate(101 6.8 0.6)"/><circle cx="6.8" cy="29.6" r="0.7"/><ellipse cx="10.4" cy="17.9" rx="1.5" ry="0.9" transform="rotate(69 10.4 17.9)"/><ellipse cx="7.5" cy="9.7" rx="1.2" ry="0.8" transform="rotate(115 7.5 9.7)"/><circle cx="17.1" cy="3.7" r="0.9"/><circle cx="2.1" cy="13.2" r="1.0"/><circle cx="1.3" cy="12.7" r="0.9"/><circle cx="30.3" cy="12.7" r="0.9"/><ellipse cx="21.3" cy="14.5" rx="1.5" ry="0.9" transform="rotate(145 21.3 14.5)"/><ellipse cx="1.0" cy="14.7" rx="1.3" ry="0.8" transform="rotate(25 1.0 14.7)"/><circle cx="30.0" cy="14.7" r="0.8"/><circle cx="12.8" cy="9.1" r="0.8"/><ellipse cx="11.1" cy="27.4" rx="1.3" ry="0.8" transform="rotate(113 11.1 27.4)"/><circle cx="11.1" cy="-1.6" r="0.8"/><ellipse cx="12.4" cy="17.8" rx="1.2" ry="0.8" transform="rotate(179 12.4 17.8)"/><circle cx="1.4" cy="24.0" r="0.8"/><circle cx="30.4" cy="24.0" r="0.8"/><circle cx="21.3" cy="23.9" r="1.0"/><ellipse cx="25.3" cy="27.7" rx="1.5" ry="1.0" transform="rotate(75 25.3 27.7)"/><circle cx="25.3" cy="-1.3" r="1.0"/><ellipse cx="26.1" cy="19.5" rx="1.5" ry="1.0" transform="rotate(123 26.1 19.5)"/><ellipse cx="26.8" cy="22.6" rx="1.6" ry="1.0" transform="rotate(115 26.8 22.6)"/><circle cx="21.8" cy="7.1" r="0.8"/><circle cx="17.9" cy="27.1" r="0.9"/><circle cx="17.9" cy="-1.9" r="0.9"/><circle cx="3.4" cy="20.8" r="0.9"/><ellipse cx="2.5" cy="25.3" rx="1.6" ry="1.0" transform="rotate(61 2.5 25.3)"/></g></pattern><pattern id="p18" width="43" height="43" patternUnits="userSpaceOnUse" patternTransform="rotate(34)"><g fill="#c4a08c"><ellipse cx="21.0" cy="38.2" rx="1.2" ry="0.8" transform="rotate(57 21.0 38.2)"/><circle cx="41.2" cy="37.5" r="1.0"/><circle cx="-1.8" cy="37.5" r="1.0"/><ellipse cx="19.2" cy="14.1" rx="1.2" ry="0.7" transform="rotate(3 19.2 14.1)"/><circle cx="18.8" cy="1.5" r="0.8"/><circle cx="18.8" cy="44.5" r="0.8"/><ellipse cx="0.1" cy="24.7" rx="1.4" ry="0.9" transform="rotate(92 0.1 24.7)"/><circle cx="43.1" cy="24.7" r="0.9"/><circle cx="2.2" cy="36.4" r="0.7"/><ellipse cx="38.8" cy="10.8" rx="1.1" ry="0.7" transform="rotate(39 38.8 10.8)"/><ellipse cx="34.2" cy="19.4" rx="1.3" ry="0.8" transform="rotate(111 34.2 19.4)"/><ellipse cx="26.6" cy="4.3" rx="1.2" ry="0.7" transform="rotate(19 26.6 4.3)"/><ellipse cx="38.5" cy="29.7" rx="1.3" ry="0.8" transform="rotate(85 38.5 29.7)"/><circle cx="27.5" cy="22.6" r="0.7"/><circle cx="16.5" cy="16.2" r="0.9"/><circle cx="36.5" cy="14.3" r="0.8"/><circle cx="29.5" cy="26.4" r="0.8"/><ellipse cx="32.7" cy="29.5" rx="1.3" ry="0.8" transform="rotate(82 32.7 29.5)"/><ellipse cx="34.1" cy="39.6" rx="1.4" ry="0.9" transform="rotate(71 34.1 39.6)"/><ellipse cx="5.2" cy="35.2" rx="1.5" ry="0.9" transform="rotate(138 5.2 35.2)"/><circle cx="12.7" cy="7.9" r="0.9"/><circle cx="24.6" cy="5.7" r="0.9"/><ellipse cx="8.0" cy="21.4" rx="1.5" ry="0.9" transform="rotate(128 8.0 21.4)"/><circle cx="26.1" cy="28.1" r="0.8"/><circle cx="42.7" cy="18.5" r="0.9"/><circle cx="-0.3" cy="18.5" r="0.9"/><circle cx="33.8" cy="10.1" r="0.9"/><ellipse cx="26.5" cy="28.3" rx="1.2" ry="0.7" transform="rotate(97 26.5 28.3)"/><circle cx="22.7" cy="15.9" r="0.9"/><circle cx="18.0" cy="39.8" r="1.0"/><circle cx="15.5" cy="2.1" r="0.8"/><circle cx="39.5" cy="15.9" r="0.8"/><ellipse cx="25.6" cy="2.2" rx="1.4" ry="0.9" transform="rotate(97 25.6 2.2)"/><ellipse cx="5.9" cy="42.4" rx="1.2" ry="0.8" transform="rotate(82 5.9 42.4)"/><circle cx="5.9" cy="-0.6" r="0.8"/><circle cx="31.6" cy="20.9" r="1.0"/><ellipse cx="36.7" cy="32.3" rx="1.5" ry="1.0" transform="rotate(130 36.7 32.3)"/><circle cx="10.1" cy="10.8" r="1.0"/><ellipse cx="1.9" cy="13.9" rx="1.5" ry="0.9" transform="rotate(66 1.9 13.9)"/><circle cx="44.9" cy="13.9" r="0.9"/><ellipse cx="29.8" cy="33.2" rx="1.6" ry="1.0" transform="rotate(176 29.8 33.2)"/><ellipse cx="34.1" cy="7.2" rx="1.2" ry="0.7" transform="rotate(153 34.1 7.2)"/><ellipse cx="24.7" cy="29.6" rx="1.2" ry="0.8" transform="rotate(127 24.7 29.6)"/><circle cx="3.2" cy="21.0" r="0.7"/><circle cx="12.5" cy="30.6" r="0.8"/><ellipse cx="11.5" cy="21.4" rx="1.4" ry="0.9" transform="rotate(150 11.5 21.4)"/><circle cx="39.9" cy="42.1" r="1.0"/><circle cx="39.9" cy="-0.9" r="1.0"/><ellipse cx="40.0" cy="6.4" rx="1.3" ry="0.8" transform="rotate(166 40.0 6.4)"/><circle cx="18.5" cy="5.2" r="0.7"/><ellipse cx="37.1" cy="9.2" rx="1.5" ry="0.9" transform="rotate(163 37.1 9.2)"/><circle cx="12.0" cy="8.8" r="0.7"/><ellipse cx="15.1" cy="13.2" rx="1.2" ry="0.8" transform="rotate(79 15.1 13.2)"/><circle cx="25.6" cy="18.7" r="0.8"/><ellipse cx="32.6" cy="0.1" rx="1.6" ry="1.0" transform="rotate(11 32.6 0.1)"/><circle cx="32.6" cy="43.1" r="1.0"/><circle cx="32.7" cy="14.4" r="0.8"/><ellipse cx="1.5" cy="7.5" rx="1.6" ry="1.0" transform="rotate(20 1.5 7.5)"/><circle cx="44.5" cy="7.5" r="1.0"/><ellipse cx="36.7" cy="40.7" rx="1.4" ry="0.9" transform="rotate(124 36.7 40.7)"/><ellipse cx="22.8" cy="42.1" rx="1.5" ry="0.9" transform="rotate(91 22.8 42.1)"/><circle cx="22.8" cy="-0.9" r="0.9"/><circle cx="39.1" cy="37.5" r="0.9"/><ellipse cx="42.2" cy="11.0" rx="1.4" ry="0.8" transform="rotate(178 42.2 11.0)"/><circle cx="-0.8" cy="11.0" r="0.8"/><circle cx="41.5" cy="9.9" r="0.9"/><circle cx="-1.5" cy="9.9" r="0.9"/><circle cx="12.1" cy="16.2" r="0.9"/><ellipse cx="40.3" cy="11.9" rx="1.5" ry="0.9" transform="rotate(141 40.3 11.9)"/><ellipse cx="28.7" cy="38.3" rx="1.4" ry="0.9" transform="rotate(107 28.7 38.3)"/><circle cx="17.6" cy="36.5" r="0.9"/><ellipse cx="15.7" cy="29.0" rx="1.2" ry="0.8" transform="rotate(91 15.7 29.0)"/><circle cx="38.2" cy="31.7" r="1.0"/><circle cx="13.7" cy="1.7" r="0.9"/><circle cx="13.7" cy="44.7" r="0.9"/><ellipse cx="16.6" cy="6.3" rx="1.3" ry="0.8" transform="rotate(44 16.6 6.3)"/><circle cx="30.8" cy="6.1" r="0.7"/><circle cx="30.7" cy="10.7" r="1.0"/><ellipse cx="16.0" cy="31.4" rx="1.3" ry="0.8" transform="rotate(12 16.0 31.4)"/><ellipse cx="5.7" cy="0.7" rx="1.5" ry="1.0" transform="rotate(98 5.7 0.7)"/><circle cx="5.7" cy="43.7" r="1.0"/><circle cx="39.4" cy="2.1" r="0.8"/><ellipse cx="41.3" cy="28.2" rx="1.3" ry="0.8" transform="rotate(8 41.3 28.2)"/><circle cx="-1.7" cy="28.2" r="0.8"/><ellipse cx="19.2" cy="38.3" rx="1.3" ry="0.8" transform="rotate(100 19.2 38.3)"/><ellipse cx="36.8" cy="42.0" rx="1.5" ry="0.9" transform="rotate(104 36.8 42.0)"/><circle cx="36.8" cy="-1.0" r="0.9"/><ellipse cx="1.9" cy="37.0" rx="1.3" ry="0.8" transform="rotate(150 1.9 37.0)"/><circle cx="44.9" cy="37.0" r="0.8"/><ellipse cx="29.2" cy="22.2" rx="1.3" ry="0.8" transform="rotate(82 29.2 22.2)"/><circle cx="26.1" cy="5.2" r="0.8"/><ellipse cx="37.7" cy="23.5" rx="1.1" ry="0.7" transform="rotate(132 37.7 23.5)"/><circle cx="12.9" cy="37.3" r="0.7"/></g></pattern><pattern id="p19" width="33" height="33" patternUnits="userSpaceOnUse" patternTransform="rotate(81)"><g fill="#aca0bc"><circle cx="4.0" cy="11.3" r="0.8"/><circle cx="23.5" cy="17.3" r="0.9"/><ellipse cx="24.5" cy="15.5" rx="1.3" ry="0.8" transform="rotate(12 24.5 15.5)"/><ellipse cx="7.5" cy="14.3" rx="1.6" ry="1.0" transform="rotate(74 7.5 14.3)"/><circle cx="27.5" cy="26.6" r="1.0"/><circle cx="22.4" cy="0.7" r="0.9"/><circle cx="22.4" cy="33.7" r="0.9"/><ellipse cx="6.0" cy="24.4" rx="1.4" ry="0.9" transform="rotate(38 6.0 24.4)"/><circle cx="5.1" cy="15.1" r="0.9"/><circle cx="13.0" cy="9.5" r="0.7"/><circle cx="23.4" cy="0.8" r="0.9"/><circle cx="23.4" cy="33.8" r="0.9"/><ellipse cx="24.4" cy="26.7" rx="1.3" ry="0.8" transform="rotate(135 24.4 26.7)"/><circle cx="17.6" cy="19.7" r="0.7"/><ellipse cx="3.9" cy="0.9" rx="1.6" ry="1.0" transform="rotate(34 3.9 0.9)"/><circle cx="3.9" cy="33.9" r="1.0"/><circle cx="3.9" cy="28.6" r="0.9"/><circle cx="7.3" cy="32.1" r="0.8"/><circle cx="7.3" cy="-0.9" r="0.8"/><circle cx="0.7" cy="28.6" r="1.0"/><circle cx="33.7" cy="28.6" r="1.0"/><ellipse cx="30.2" cy="30.3" rx="1.4" ry="0.9" transform="rotate(47 30.2 30.3)"/><circle cx="15.1" cy="3.3" r="0.8"/><circle cx="19.0" cy="31.8" r="0.7"/><circle cx="19.0" cy="-1.2" r="0.7"/><circle cx="16.9" cy="12.8" r="0.8"/><circle cx="4.8" cy="32.3" r="0.9"/><circle cx="4.8" cy="-0.7" r="0.9"/></g></pattern><pattern id="p20" width="49" height="49" patternUnits="userSpaceOnUse" patternTransform="rotate(47)"><g fill="#aca0bc"><circle cx="25.4" cy="27.0" r="0.8"/><circle cx="31.2" cy="23.5" r="0.9"/><circle cx="43.4" cy="23.9" r="0.7"/><ellipse cx="23.4" cy="30.5" rx="1.2" ry="0.7" transform="rotate(1 23.4 30.5)"/><circle cx="43.7" cy="40.7" r="0.9"/><ellipse cx="48.3" cy="44.8" rx="1.6" ry="1.0" transform="rotate(53 48.3 44.8)"/><circle cx="-0.7" cy="44.8" r="1.0"/><ellipse cx="36.7" cy="45.4" rx="1.3" ry="0.8" transform="rotate(39 36.7 45.4)"/><ellipse cx="21.6" cy="39.9" rx="1.2" ry="0.7" transform="rotate(139 21.6 39.9)"/><circle cx="32.4" cy="2.1" r="0.8"/><circle cx="29.3" cy="10.8" r="0.9"/><circle cx="46.8" cy="38.8" r="1.0"/><circle cx="25.1" cy="11.8" r="0.8"/><circle cx="7.1" cy="27.0" r="1.0"/><ellipse cx="47.5" cy="27.1" rx="1.1" ry="0.7" transform="rotate(93 47.5 27.1)"/><circle cx="-1.5" cy="27.1" r="0.7"/><ellipse cx="32.9" cy="3.1" rx="1.4" ry="0.9" transform="rotate(49 32.9 3.1)"/><circle cx="40.5" cy="10.8" r="0.8"/><circle cx="39.8" cy="43.6" r="0.7"/><ellipse cx="46.3" cy="10.4" rx="1.3" ry="0.8" transform="rotate(103 46.3 10.4)"/><ellipse cx="2.2" cy="36.6" rx="1.4" ry="0.9" transform="rotate(174 2.2 36.6)"/><ellipse cx="28.0" cy="16.1" rx="1.2" ry="0.7" transform="rotate(176 28.0 16.1)"/><ellipse cx="47.5" cy="35.0" rx="1.3" ry="0.8" transform="rotate(109 47.5 35.0)"/><circle cx="-1.5" cy="35.0" r="0.8"/><ellipse cx="38.9" cy="28.9" rx="1.3" ry="0.8" transform="rotate(142 38.9 28.9)"/><circle cx="32.8" cy="6.9" r="0.9"/><ellipse cx="34.2" cy="44.2" rx="1.3" ry="0.8" transform="rotate(100 34.2 44.2)"/><circle cx="6.1" cy="8.3" r="0.9"/><circle cx="44.6" cy="22.5" r="0.7"/><circle cx="21.3" cy="43.6" r="1.0"/><circle cx="36.3" cy="42.6" r="0.8"/><circle cx="5.7" cy="7.8" r="1.0"/><ellipse cx="45.8" cy="31.5" rx="1.2" ry="0.7" transform="rotate(64 45.8 31.5)"/><ellipse cx="27.7" cy="22.8" rx="1.5" ry="0.9" transform="rotate(71 27.7 22.8)"/><ellipse cx="38.1" cy="40.5" rx="1.3" ry="0.8" transform="rotate(3 38.1 40.5)"/><circle cx="39.6" cy="26.1" r="0.9"/><circle cx="46.7" cy="13.4" r="0.8"/><ellipse cx="18.8" cy="42.0" rx="1.6" ry="1.0" transform="rotate(151 18.8 42.0)"/><ellipse cx="3.1" cy="45.7" rx="1.3" ry="0.8" transform="rotate(25 3.1 45.7)"/><ellipse cx="4.8" cy="27.5" rx="1.2" ry="0.8" transform="rotate(125 4.8 27.5)"/><ellipse cx="3.3" cy="31.9" rx="1.3" ry="0.8" transform="rotate(75 3.3 31.9)"/><circle cx="17.9" cy="38.0" r="0.9"/><circle cx="12.1" cy="3.3" r="0.9"/><ellipse cx="37.3" cy="26.9" rx="1.2" ry="0.8" transform="rotate(42 37.3 26.9)"/><circle cx="10.9" cy="34.3" r="0.8"/><circle cx="6.6" cy="1.1" r="0.9"/><circle cx="6.6" cy="50.1" r="0.9"/><circle cx="19.5" cy="26.9" r="0.8"/><ellipse cx="1.5" cy="36.1" rx="1.1" ry="0.7" transform="rotate(51 1.5 36.1)"/><circle cx="50.5" cy="36.1" r="0.7"/><ellipse cx="30.3" cy="44.3" rx="1.2" ry="0.7" transform="rotate(88 30.3 44.3)"/></g></pattern><clipPath id="ihcc4"><rect x="216" y="2188.2" width="264" height="150.20000000000027"/></clipPath><filter id="n8" x="0" y="0" width="100%" height="100%" color-interpolation-filters="sRGB"><feTurbulence type="fractalNoise" baseFrequency="0.04" numOctaves="2" seed="60" result="t"/><feColorMatrix in="t" type="matrix" values="0 0 0 0 0.922 0 0 0 0 0.906 0 0 0 0 0.941 2.2 0 0 0 -1.2"/><feComposite in2="SourceGraphic" operator="in"/></filter><pattern id="p21" width="29" height="29" patternUnits="userSpaceOnUse" patternTransform="rotate(80)"><g fill="#9284b0"><circle cx="9.9" cy="12.0" r="1.0"/><circle cx="13.0" cy="3.1" r="1.0"/><circle cx="28.1" cy="5.7" r="0.9"/><circle cx="-0.9" cy="5.7" r="0.9"/><circle cx="3.6" cy="10.1" r="0.9"/><circle cx="13.6" cy="13.3" r="1.1"/><circle cx="16.6" cy="14.9" r="0.9"/><circle cx="2.3" cy="28.0" r="1.0"/><circle cx="2.3" cy="-1.0" r="1.0"/><circle cx="28.5" cy="14.6" r="1.0"/><circle cx="-0.5" cy="14.6" r="1.0"/><circle cx="6.9" cy="1.1" r="1.1"/><circle cx="6.9" cy="30.1" r="1.1"/><circle cx="28.6" cy="15.6" r="1.1"/><circle cx="-0.4" cy="15.6" r="1.1"/><circle cx="28.2" cy="22.0" r="0.8"/><circle cx="-0.8" cy="22.0" r="0.8"/><circle cx="28.4" cy="11.8" r="1.1"/><circle cx="-0.6" cy="11.8" r="1.1"/><circle cx="22.8" cy="25.1" r="1.1"/><circle cx="8.3" cy="28.9" r="0.9"/><circle cx="8.3" cy="-0.1" r="0.9"/><circle cx="23.7" cy="27.9" r="1.0"/><circle cx="23.7" cy="-1.1" r="1.0"/><circle cx="22.5" cy="14.9" r="1.0"/><circle cx="3.6" cy="2.9" r="1.1"/><circle cx="6.6" cy="9.4" r="0.9"/><circle cx="3.2" cy="8.0" r="0.9"/><circle cx="14.1" cy="15.0" r="0.8"/><circle cx="24.6" cy="14.7" r="0.8"/><circle cx="12.2" cy="13.8" r="0.8"/><circle cx="18.8" cy="22.4" r="0.9"/><circle cx="19.1" cy="14.3" r="1.0"/><circle cx="25.2" cy="18.0" r="0.8"/><circle cx="5.2" cy="22.6" r="0.8"/><circle cx="0.7" cy="3.8" r="1.0"/><circle cx="29.7" cy="3.8" r="1.0"/><circle cx="23.8" cy="0.4" r="1.0"/><circle cx="23.8" cy="29.4" r="1.0"/><circle cx="17.5" cy="11.7" r="1.1"/><circle cx="22.5" cy="4.5" r="1.0"/><circle cx="2.7" cy="6.7" r="1.0"/><circle cx="7.6" cy="15.2" r="0.8"/><circle cx="2.5" cy="11.3" r="1.0"/><circle cx="24.0" cy="13.8" r="0.9"/><circle cx="1.1" cy="16.7" r="1.0"/><circle cx="30.1" cy="16.7" r="1.0"/><circle cx="22.1" cy="28.4" r="0.8"/><circle cx="22.1" cy="-0.6" r="0.8"/></g></pattern><pattern id="p22" width="43" height="43" patternUnits="userSpaceOnUse" patternTransform="rotate(45)"><g fill="#9284b0"><circle cx="15.1" cy="20.4" r="1.0"/><circle cx="25.0" cy="1.0" r="1.0"/><circle cx="25.0" cy="44.0" r="1.0"/><circle cx="10.6" cy="31.6" r="1.1"/><circle cx="32.5" cy="7.1" r="0.9"/><circle cx="9.4" cy="14.2" r="0.9"/><circle cx="36.8" cy="31.1" r="1.0"/><circle cx="19.3" cy="39.8" r="1.1"/><circle cx="28.9" cy="22.3" r="0.9"/><circle cx="25.6" cy="6.8" r="1.1"/><circle cx="27.6" cy="30.5" r="1.1"/><circle cx="20.7" cy="24.8" r="1.1"/><circle cx="15.9" cy="26.6" r="0.9"/><circle cx="3.6" cy="5.7" r="1.0"/><circle cx="39.8" cy="22.2" r="0.8"/><circle cx="12.4" cy="18.1" r="1.1"/><circle cx="30.5" cy="35.9" r="0.8"/><circle cx="40.4" cy="11.3" r="1.0"/><circle cx="41.1" cy="32.0" r="0.9"/><circle cx="-1.9" cy="32.0" r="0.9"/><circle cx="2.4" cy="36.5" r="1.0"/><circle cx="18.2" cy="36.1" r="1.0"/><circle cx="9.7" cy="15.9" r="0.8"/><circle cx="1.8" cy="24.6" r="0.8"/><circle cx="44.8" cy="24.6" r="0.8"/><circle cx="26.5" cy="2.2" r="0.8"/><circle cx="17.5" cy="18.6" r="0.9"/><circle cx="16.5" cy="32.6" r="0.9"/><circle cx="22.5" cy="13.7" r="1.1"/><circle cx="30.5" cy="5.9" r="1.1"/><circle cx="11.1" cy="14.6" r="1.1"/><circle cx="2.2" cy="21.0" r="1.1"/><circle cx="5.0" cy="35.8" r="0.9"/><circle cx="10.1" cy="8.7" r="1.1"/><circle cx="33.7" cy="1.5" r="0.8"/><circle cx="33.7" cy="44.5" r="0.8"/><circle cx="6.1" cy="36.3" r="1.1"/><circle cx="6.6" cy="1.5" r="1.0"/><circle cx="6.6" cy="44.5" r="1.0"/><circle cx="19.5" cy="26.9" r="1.1"/><circle cx="3.0" cy="40.7" r="0.9"/><circle cx="11.6" cy="39.9" r="0.8"/><circle cx="39.9" cy="42.9" r="0.8"/><circle cx="39.9" cy="-0.1" r="0.8"/><circle cx="19.9" cy="33.3" r="1.1"/><circle cx="28.6" cy="1.6" r="0.9"/><circle cx="28.6" cy="44.6" r="0.9"/><circle cx="37.0" cy="35.9" r="0.9"/><circle cx="2.3" cy="34.6" r="1.0"/><circle cx="18.3" cy="9.5" r="0.9"/><circle cx="4.3" cy="17.3" r="1.1"/><circle cx="40.4" cy="32.8" r="0.8"/><circle cx="34.5" cy="28.3" r="0.8"/><circle cx="6.2" cy="19.3" r="0.9"/><circle cx="38.5" cy="27.9" r="0.8"/><circle cx="3.0" cy="32.4" r="1.0"/><circle cx="15.1" cy="24.4" r="1.1"/><circle cx="15.0" cy="19.4" r="1.1"/><circle cx="7.7" cy="32.2" r="1.1"/><circle cx="16.9" cy="0.4" r="0.9"/><circle cx="16.9" cy="43.4" r="0.9"/><circle cx="30.4" cy="19.0" r="1.0"/><circle cx="22.4" cy="41.0" r="1.1"/><circle cx="22.4" cy="-2.0" r="1.1"/><circle cx="20.2" cy="30.8" r="1.1"/><circle cx="9.9" cy="40.0" r="0.9"/><circle cx="8.4" cy="31.1" r="0.9"/><circle cx="35.3" cy="20.3" r="1.1"/><circle cx="5.6" cy="36.5" r="0.8"/><circle cx="34.3" cy="13.7" r="0.8"/><circle cx="4.1" cy="39.9" r="1.0"/><circle cx="10.4" cy="28.5" r="1.0"/><circle cx="40.2" cy="2.6" r="0.8"/><circle cx="36.8" cy="34.4" r="1.1"/><circle cx="1.9" cy="24.3" r="0.8"/><circle cx="44.9" cy="24.3" r="0.8"/><circle cx="7.6" cy="24.6" r="1.0"/><circle cx="3.8" cy="0.8" r="0.8"/><circle cx="3.8" cy="43.8" r="0.8"/><circle cx="28.4" cy="29.5" r="0.9"/><circle cx="36.1" cy="14.8" r="0.8"/><circle cx="2.0" cy="10.1" r="0.8"/><circle cx="25.7" cy="26.3" r="0.9"/><circle cx="4.4" cy="8.6" r="1.0"/><circle cx="23.8" cy="40.4" r="0.9"/><circle cx="4.8" cy="4.1" r="0.9"/><circle cx="5.1" cy="21.9" r="1.1"/><circle cx="3.6" cy="6.0" r="0.8"/><circle cx="8.6" cy="6.4" r="0.9"/><circle cx="15.7" cy="23.5" r="0.8"/><circle cx="27.0" cy="22.8" r="0.9"/><circle cx="40.6" cy="20.9" r="0.8"/></g></pattern><pattern id="p23" width="33" height="33" patternUnits="userSpaceOnUse" patternTransform="rotate(9)"><g fill="#a69ac0"><circle cx="25.1" cy="26.0" r="1.0"/><circle cx="16.9" cy="4.8" r="0.9"/><circle cx="21.1" cy="15.8" r="0.9"/><circle cx="29.7" cy="13.4" r="0.8"/><circle cx="12.2" cy="23.9" r="1.0"/><circle cx="27.4" cy="0.8" r="0.9"/><circle cx="27.4" cy="33.8" r="0.9"/><circle cx="26.5" cy="28.7" r="0.8"/><circle cx="12.1" cy="27.8" r="0.7"/><circle cx="25.4" cy="26.3" r="1.0"/><circle cx="29.0" cy="7.4" r="1.0"/><circle cx="32.5" cy="16.0" r="0.8"/><circle cx="-0.5" cy="16.0" r="0.8"/><circle cx="13.2" cy="13.5" r="0.9"/><circle cx="26.6" cy="1.7" r="0.7"/><circle cx="26.6" cy="34.7" r="0.7"/><circle cx="7.5" cy="6.3" r="0.8"/><circle cx="5.9" cy="5.5" r="1.0"/><circle cx="31.6" cy="22.2" r="1.0"/><circle cx="-1.4" cy="22.2" r="1.0"/><circle cx="25.3" cy="25.2" r="0.9"/><circle cx="32.1" cy="22.3" r="0.8"/><circle cx="-0.9" cy="22.3" r="0.8"/><circle cx="27.7" cy="3.2" r="1.0"/><circle cx="29.2" cy="13.3" r="0.9"/><circle cx="31.8" cy="3.5" r="0.9"/><circle cx="-1.2" cy="3.5" r="0.9"/><circle cx="7.0" cy="11.8" r="0.8"/><circle cx="19.5" cy="13.6" r="0.9"/><circle cx="24.2" cy="32.5" r="0.9"/><circle cx="24.2" cy="-0.5" r="0.9"/><circle cx="22.9" cy="30.8" r="0.9"/><circle cx="22.9" cy="17.5" r="0.8"/></g></pattern><pattern id="p24" width="49" height="49" patternUnits="userSpaceOnUse" patternTransform="rotate(7)"><g fill="#a69ac0"><circle cx="18.3" cy="14.7" r="0.9"/><circle cx="46.2" cy="16.4" r="0.9"/><circle cx="33.4" cy="18.2" r="1.0"/><circle cx="47.3" cy="9.0" r="0.8"/><circle cx="-1.7" cy="9.0" r="0.8"/><circle cx="22.2" cy="38.5" r="1.1"/><circle cx="16.7" cy="14.0" r="1.0"/><circle cx="30.9" cy="41.9" r="0.8"/><circle cx="48.6" cy="42.8" r="0.8"/><circle cx="-0.4" cy="42.8" r="0.8"/><circle cx="11.0" cy="7.8" r="0.8"/><circle cx="11.0" cy="19.9" r="1.0"/><circle cx="36.1" cy="34.0" r="0.7"/><circle cx="29.2" cy="24.6" r="0.8"/><circle cx="31.8" cy="21.5" r="0.9"/><circle cx="32.0" cy="1.6" r="0.9"/><circle cx="32.0" cy="50.6" r="0.9"/><circle cx="27.7" cy="34.1" r="0.9"/><circle cx="25.9" cy="12.9" r="0.9"/><circle cx="34.6" cy="5.3" r="0.9"/><circle cx="46.8" cy="17.3" r="1.0"/><circle cx="12.5" cy="9.9" r="0.8"/><circle cx="42.9" cy="15.3" r="1.1"/><circle cx="6.6" cy="27.9" r="0.8"/><circle cx="25.7" cy="16.3" r="0.9"/><circle cx="33.3" cy="4.4" r="0.7"/><circle cx="11.5" cy="20.1" r="0.9"/><circle cx="39.5" cy="30.4" r="0.8"/><circle cx="34.7" cy="37.6" r="0.9"/><circle cx="37.1" cy="22.1" r="0.9"/><circle cx="3.8" cy="46.4" r="1.0"/><circle cx="31.2" cy="23.8" r="1.0"/><circle cx="12.0" cy="21.0" r="0.9"/><circle cx="30.2" cy="41.9" r="0.9"/><circle cx="8.3" cy="14.7" r="0.8"/><circle cx="6.9" cy="20.4" r="1.0"/><circle cx="42.7" cy="29.3" r="0.9"/><circle cx="23.7" cy="39.1" r="0.7"/><circle cx="21.9" cy="44.0" r="1.0"/><circle cx="30.8" cy="37.3" r="0.9"/><circle cx="16.9" cy="17.4" r="0.8"/><circle cx="24.5" cy="14.4" r="1.0"/><circle cx="30.3" cy="40.1" r="1.1"/><circle cx="35.4" cy="25.2" r="0.9"/><circle cx="30.9" cy="44.4" r="0.7"/><circle cx="19.3" cy="20.2" r="0.8"/><circle cx="46.6" cy="23.0" r="0.7"/><circle cx="42.5" cy="5.8" r="1.1"/><circle cx="6.6" cy="42.3" r="0.8"/><circle cx="34.8" cy="42.6" r="0.8"/><circle cx="38.2" cy="36.1" r="1.0"/><circle cx="27.1" cy="9.4" r="0.9"/><circle cx="29.8" cy="32.3" r="0.7"/><circle cx="10.2" cy="14.5" r="0.9"/><circle cx="4.5" cy="39.2" r="0.8"/><circle cx="36.7" cy="17.1" r="1.0"/><circle cx="35.2" cy="24.0" r="0.9"/><circle cx="42.0" cy="31.4" r="1.1"/><circle cx="18.7" cy="0.5" r="0.9"/><circle cx="18.7" cy="49.5" r="0.9"/><circle cx="20.9" cy="41.2" r="1.0"/><circle cx="6.9" cy="37.1" r="1.1"/></g></pattern><clipPath id="ihcc5"><rect x="498.2" y="2188.2" width="264.00000000000006" height="150.20000000000027"/></clipPath><filter id="n9" x="0" y="0" width="100%" height="100%" color-interpolation-filters="sRGB"><feTurbulence type="fractalNoise" baseFrequency="0.04" numOctaves="2" seed="70" result="t"/><feColorMatrix in="t" type="matrix" values="0 0 0 0 0.910 0 0 0 0 0.894 0 0 0 0 0.933 2.0 0 0 0 -1.1"/><feComposite in2="SourceGraphic" operator="in"/></filter><pattern id="p25" width="29" height="29" patternUnits="userSpaceOnUse" patternTransform="rotate(37)"><g fill="#9484b2"><circle cx="27.8" cy="6.8" r="0.9"/><circle cx="-1.2" cy="6.8" r="0.9"/><circle cx="7.2" cy="9.9" r="0.9"/><circle cx="9.4" cy="22.3" r="0.9"/><circle cx="16.9" cy="20.7" r="0.8"/><circle cx="2.4" cy="23.3" r="0.9"/><circle cx="2.3" cy="16.3" r="1.1"/><circle cx="25.1" cy="2.1" r="0.9"/><circle cx="8.4" cy="25.3" r="0.8"/><circle cx="13.9" cy="15.8" r="1.1"/><circle cx="24.7" cy="17.3" r="1.0"/><circle cx="11.3" cy="16.7" r="1.0"/><circle cx="11.9" cy="23.3" r="0.8"/><circle cx="28.8" cy="22.8" r="0.8"/><circle cx="-0.2" cy="22.8" r="0.8"/><circle cx="0.9" cy="9.1" r="0.9"/><circle cx="29.9" cy="9.1" r="0.9"/><circle cx="14.0" cy="11.0" r="1.1"/><circle cx="17.7" cy="25.6" r="1.0"/><circle cx="8.2" cy="5.5" r="1.0"/><circle cx="22.7" cy="24.9" r="1.0"/><circle cx="9.1" cy="3.7" r="0.9"/><circle cx="13.6" cy="23.6" r="1.0"/><circle cx="6.1" cy="14.4" r="0.9"/><circle cx="11.5" cy="5.9" r="1.1"/><circle cx="28.5" cy="2.7" r="0.9"/><circle cx="-0.5" cy="2.7" r="0.9"/><circle cx="18.2" cy="14.3" r="1.0"/><circle cx="21.8" cy="14.6" r="1.0"/><circle cx="6.7" cy="17.4" r="1.1"/><circle cx="26.9" cy="20.7" r="0.8"/><circle cx="16.4" cy="17.1" r="0.8"/><circle cx="8.5" cy="18.8" r="1.1"/><circle cx="27.6" cy="13.8" r="0.9"/><circle cx="-1.4" cy="13.8" r="0.9"/><circle cx="16.2" cy="11.8" r="0.8"/><circle cx="10.9" cy="8.8" r="1.0"/><circle cx="7.6" cy="15.8" r="1.1"/><circle cx="12.9" cy="10.9" r="1.1"/><circle cx="15.1" cy="13.1" r="0.8"/><circle cx="6.3" cy="17.7" r="1.0"/></g></pattern><pattern id="p26" width="43" height="43" patternUnits="userSpaceOnUse" patternTransform="rotate(72)"><g fill="#9484b2"><circle cx="12.9" cy="4.7" r="1.1"/><circle cx="15.0" cy="8.9" r="1.1"/><circle cx="2.1" cy="31.7" r="0.9"/><circle cx="8.4" cy="14.2" r="0.8"/><circle cx="27.1" cy="35.9" r="0.9"/><circle cx="8.1" cy="10.7" r="0.9"/><circle cx="6.1" cy="31.0" r="0.8"/><circle cx="19.9" cy="25.3" r="0.9"/><circle cx="11.0" cy="39.3" r="1.0"/><circle cx="37.0" cy="7.8" r="1.1"/><circle cx="41.2" cy="11.4" r="1.0"/><circle cx="-1.8" cy="11.4" r="1.0"/><circle cx="35.1" cy="40.4" r="1.0"/><circle cx="23.8" cy="33.5" r="0.9"/><circle cx="2.6" cy="7.8" r="0.8"/><circle cx="5.2" cy="27.3" r="1.1"/><circle cx="15.6" cy="1.7" r="0.8"/><circle cx="15.6" cy="44.7" r="0.8"/><circle cx="7.7" cy="33.0" r="0.8"/><circle cx="15.7" cy="37.2" r="1.0"/><circle cx="20.1" cy="1.1" r="1.0"/><circle cx="20.1" cy="44.1" r="1.0"/><circle cx="7.1" cy="38.2" r="0.9"/><circle cx="21.3" cy="30.1" r="0.8"/><circle cx="23.3" cy="12.9" r="0.8"/><circle cx="8.6" cy="39.7" r="1.1"/><circle cx="15.6" cy="7.5" r="1.0"/><circle cx="9.4" cy="28.9" r="0.8"/><circle cx="0.2" cy="5.0" r="0.8"/><circle cx="43.2" cy="5.0" r="0.8"/><circle cx="33.3" cy="40.0" r="0.8"/><circle cx="14.4" cy="30.9" r="0.9"/><circle cx="28.3" cy="41.1" r="0.8"/><circle cx="28.3" cy="-1.9" r="0.8"/><circle cx="34.5" cy="27.3" r="0.9"/><circle cx="21.2" cy="28.4" r="0.9"/><circle cx="29.2" cy="9.7" r="1.0"/><circle cx="39.4" cy="19.6" r="1.0"/><circle cx="8.6" cy="13.9" r="0.8"/><circle cx="29.3" cy="8.2" r="1.0"/><circle cx="20.3" cy="30.9" r="1.0"/><circle cx="21.5" cy="18.4" r="0.8"/><circle cx="41.7" cy="7.0" r="0.9"/><circle cx="-1.3" cy="7.0" r="0.9"/><circle cx="15.1" cy="28.6" r="1.0"/><circle cx="40.2" cy="10.1" r="0.9"/><circle cx="17.9" cy="42.5" r="0.8"/><circle cx="17.9" cy="-0.5" r="0.8"/><circle cx="3.6" cy="10.4" r="1.0"/><circle cx="16.1" cy="17.1" r="1.0"/><circle cx="33.0" cy="23.4" r="0.8"/><circle cx="18.4" cy="13.9" r="1.0"/><circle cx="7.8" cy="41.6" r="1.1"/><circle cx="7.8" cy="-1.4" r="1.1"/><circle cx="40.0" cy="13.8" r="0.8"/><circle cx="17.7" cy="37.1" r="0.8"/><circle cx="21.2" cy="5.5" r="0.9"/><circle cx="18.4" cy="41.5" r="0.8"/><circle cx="18.4" cy="-1.5" r="0.8"/><circle cx="29.6" cy="27.9" r="0.9"/><circle cx="11.7" cy="35.5" r="0.8"/><circle cx="36.8" cy="18.9" r="0.9"/><circle cx="24.4" cy="42.5" r="1.0"/><circle cx="24.4" cy="-0.5" r="1.0"/><circle cx="16.9" cy="22.4" r="0.8"/><circle cx="14.8" cy="2.8" r="0.9"/><circle cx="17.1" cy="20.8" r="0.9"/><circle cx="34.3" cy="3.7" r="0.8"/><circle cx="15.5" cy="16.8" r="1.0"/><circle cx="12.4" cy="40.6" r="0.8"/><circle cx="1.4" cy="41.4" r="0.9"/><circle cx="44.4" cy="41.4" r="0.9"/><circle cx="1.4" cy="-1.6" r="0.9"/><circle cx="14.3" cy="3.2" r="0.9"/><circle cx="34.1" cy="0.4" r="1.0"/><circle cx="34.1" cy="43.4" r="1.0"/><circle cx="20.6" cy="26.6" r="0.8"/><circle cx="15.0" cy="33.4" r="0.8"/><circle cx="21.8" cy="4.2" r="1.0"/><circle cx="28.9" cy="2.3" r="1.1"/><circle cx="36.5" cy="31.2" r="1.1"/><circle cx="8.5" cy="7.6" r="1.0"/><circle cx="34.4" cy="35.3" r="1.0"/><circle cx="25.3" cy="2.5" r="1.1"/><circle cx="41.5" cy="15.7" r="0.8"/><circle cx="-1.5" cy="15.7" r="0.8"/><circle cx="13.6" cy="2.5" r="0.9"/><circle cx="42.2" cy="25.2" r="1.0"/><circle cx="-0.8" cy="25.2" r="1.0"/><circle cx="20.8" cy="19.5" r="0.9"/><circle cx="25.7" cy="2.6" r="1.1"/><circle cx="26.5" cy="2.3" r="0.8"/><circle cx="36.0" cy="36.8" r="1.1"/><circle cx="25.7" cy="21.5" r="1.1"/><circle cx="23.7" cy="10.7" r="0.9"/><circle cx="42.3" cy="7.2" r="1.0"/><circle cx="-0.7" cy="7.2" r="1.0"/></g></pattern><pattern id="p27" width="33" height="33" patternUnits="userSpaceOnUse" patternTransform="rotate(32)"><g fill="#ac9ec4"><circle cx="25.7" cy="7.8" r="0.8"/><circle cx="1.0" cy="7.4" r="1.0"/><circle cx="34.0" cy="7.4" r="1.0"/><circle cx="14.6" cy="2.5" r="0.7"/><circle cx="30.9" cy="2.3" r="0.9"/><circle cx="17.0" cy="12.1" r="0.8"/><circle cx="11.1" cy="14.5" r="0.9"/><circle cx="29.7" cy="29.7" r="0.7"/><circle cx="9.1" cy="0.8" r="0.9"/><circle cx="9.1" cy="33.8" r="0.9"/><circle cx="21.8" cy="16.7" r="0.7"/><circle cx="10.6" cy="5.9" r="1.0"/><circle cx="26.8" cy="20.5" r="0.9"/><circle cx="29.8" cy="20.3" r="0.8"/><circle cx="30.0" cy="20.4" r="1.1"/><circle cx="12.2" cy="18.1" r="1.0"/><circle cx="17.9" cy="2.6" r="0.8"/><circle cx="11.8" cy="0.7" r="0.7"/><circle cx="11.8" cy="33.7" r="0.7"/><circle cx="22.7" cy="27.9" r="1.0"/><circle cx="13.3" cy="28.7" r="0.9"/><circle cx="2.0" cy="10.0" r="1.1"/><circle cx="29.1" cy="27.2" r="0.9"/><circle cx="5.7" cy="13.6" r="0.9"/><circle cx="11.5" cy="3.6" r="0.7"/><circle cx="21.2" cy="1.0" r="0.8"/><circle cx="21.2" cy="34.0" r="0.8"/><circle cx="7.9" cy="6.2" r="0.8"/><circle cx="27.0" cy="15.8" r="0.8"/><circle cx="28.0" cy="2.8" r="0.7"/></g></pattern><pattern id="p28" width="49" height="49" patternUnits="userSpaceOnUse" patternTransform="rotate(55)"><g fill="#ac9ec4"><circle cx="16.3" cy="21.6" r="0.9"/><circle cx="26.1" cy="24.6" r="1.0"/><circle cx="38.0" cy="26.2" r="1.0"/><circle cx="38.1" cy="30.5" r="1.1"/><circle cx="32.3" cy="44.6" r="0.7"/><circle cx="17.3" cy="17.6" r="0.9"/><circle cx="3.4" cy="33.2" r="1.0"/><circle cx="47.8" cy="19.5" r="1.0"/><circle cx="-1.2" cy="19.5" r="1.0"/><circle cx="39.8" cy="27.9" r="0.8"/><circle cx="9.2" cy="39.6" r="0.7"/><circle cx="39.8" cy="23.9" r="0.7"/><circle cx="17.2" cy="26.8" r="1.0"/><circle cx="18.5" cy="34.6" r="1.0"/><circle cx="27.3" cy="7.4" r="0.8"/><circle cx="36.9" cy="24.4" r="0.9"/><circle cx="42.6" cy="22.4" r="1.1"/><circle cx="0.4" cy="29.2" r="0.8"/><circle cx="49.4" cy="29.2" r="0.8"/><circle cx="3.8" cy="6.2" r="0.9"/><circle cx="44.7" cy="21.5" r="1.1"/><circle cx="0.4" cy="7.1" r="0.8"/><circle cx="49.4" cy="7.1" r="0.8"/><circle cx="13.3" cy="20.1" r="0.8"/><circle cx="37.3" cy="12.4" r="0.7"/><circle cx="26.4" cy="7.3" r="0.7"/><circle cx="38.5" cy="29.1" r="0.9"/><circle cx="0.5" cy="11.1" r="0.8"/><circle cx="49.5" cy="11.1" r="0.8"/><circle cx="29.4" cy="43.6" r="0.9"/><circle cx="37.0" cy="27.9" r="0.7"/><circle cx="1.8" cy="29.7" r="1.0"/><circle cx="50.8" cy="29.7" r="1.0"/><circle cx="25.7" cy="37.1" r="0.9"/><circle cx="7.0" cy="25.5" r="1.1"/><circle cx="45.9" cy="29.2" r="0.7"/><circle cx="36.0" cy="31.3" r="1.1"/><circle cx="24.7" cy="22.8" r="1.0"/><circle cx="21.8" cy="48.1" r="0.8"/><circle cx="21.8" cy="-0.9" r="0.8"/><circle cx="35.2" cy="5.8" r="0.9"/><circle cx="41.5" cy="7.3" r="0.8"/><circle cx="38.6" cy="0.3" r="0.8"/><circle cx="38.6" cy="49.3" r="0.8"/><circle cx="8.2" cy="38.4" r="0.9"/><circle cx="23.7" cy="39.3" r="1.0"/><circle cx="21.2" cy="36.7" r="1.0"/><circle cx="38.4" cy="2.3" r="0.7"/><circle cx="39.4" cy="17.4" r="0.7"/><circle cx="17.8" cy="12.0" r="0.8"/><circle cx="15.9" cy="2.3" r="1.0"/><circle cx="36.9" cy="7.6" r="1.1"/><circle cx="11.6" cy="18.9" r="0.9"/><circle cx="31.7" cy="23.4" r="1.0"/><circle cx="7.5" cy="25.8" r="0.9"/><circle cx="23.2" cy="21.5" r="1.1"/><circle cx="3.5" cy="32.8" r="0.8"/><circle cx="31.0" cy="19.5" r="0.9"/><circle cx="4.3" cy="31.0" r="0.7"/><circle cx="47.4" cy="11.4" r="0.9"/><circle cx="-1.6" cy="11.4" r="0.9"/><circle cx="26.9" cy="43.0" r="0.9"/><circle cx="3.9" cy="24.7" r="0.9"/><circle cx="47.3" cy="45.3" r="0.8"/><circle cx="-1.7" cy="45.3" r="0.8"/><circle cx="8.5" cy="44.9" r="1.0"/><circle cx="34.9" cy="24.8" r="0.9"/></g></pattern><filter id="n10" x="0" y="0" width="100%" height="100%" color-interpolation-filters="sRGB"><feTurbulence type="fractalNoise" baseFrequency="0.04" numOctaves="2" seed="80" result="t"/><feColorMatrix in="t" type="matrix" values="0 0 0 0 0.965 0 0 0 0 0.949 0 0 0 0 0.941 2.2 0 0 0 -1.1"/><feComposite in2="SourceGraphic" operator="in"/></filter><pattern id="p29" width="29" height="29" patternUnits="userSpaceOnUse" patternTransform="rotate(47)"><g fill="#ac8878"><circle cx="24.3" cy="21.0" r="1.0"/><circle cx="20.3" cy="19.8" r="0.8"/><circle cx="20.0" cy="14.3" r="0.7"/><circle cx="3.1" cy="18.9" r="1.0"/><ellipse cx="28.3" cy="19.7" rx="1.1" ry="0.8" transform="rotate(147 28.3 19.7)"/><circle cx="-0.7" cy="19.7" r="0.8"/><ellipse cx="6.7" cy="7.5" rx="1.3" ry="0.9" transform="rotate(49 6.7 7.5)"/><ellipse cx="13.3" cy="16.7" rx="1.2" ry="0.8" transform="rotate(123 13.3 16.7)"/><circle cx="5.5" cy="16.2" r="0.9"/><ellipse cx="19.0" cy="21.0" rx="1.3" ry="0.9" transform="rotate(88 19.0 21.0)"/><ellipse cx="2.2" cy="6.6" rx="1.4" ry="1.0" transform="rotate(45 2.2 6.6)"/><circle cx="0.9" cy="2.6" r="1.0"/><circle cx="29.9" cy="2.6" r="1.0"/><ellipse cx="10.1" cy="28.9" rx="1.1" ry="0.8" transform="rotate(145 10.1 28.9)"/><circle cx="10.1" cy="-0.1" r="0.8"/><ellipse cx="15.9" cy="12.5" rx="1.2" ry="0.8" transform="rotate(3 15.9 12.5)"/><ellipse cx="16.3" cy="23.3" rx="1.0" ry="0.7" transform="rotate(56 16.3 23.3)"/><ellipse cx="20.8" cy="13.5" rx="1.1" ry="0.8" transform="rotate(68 20.8 13.5)"/><circle cx="16.2" cy="0.3" r="1.0"/><circle cx="16.2" cy="29.3" r="1.0"/><ellipse cx="22.6" cy="20.3" rx="1.2" ry="0.9" transform="rotate(75 22.6 20.3)"/><circle cx="18.6" cy="3.3" r="0.8"/><ellipse cx="19.2" cy="3.2" rx="1.2" ry="0.8" transform="rotate(114 19.2 3.2)"/><ellipse cx="6.4" cy="5.6" rx="1.3" ry="0.9" transform="rotate(81 6.4 5.6)"/><ellipse cx="23.3" cy="10.4" rx="1.4" ry="1.0" transform="rotate(101 23.3 10.4)"/><circle cx="0.9" cy="13.3" r="0.7"/><circle cx="29.9" cy="13.3" r="0.7"/><ellipse cx="13.9" cy="27.1" rx="1.2" ry="0.9" transform="rotate(72 13.9 27.1)"/><circle cx="13.9" cy="-1.9" r="0.9"/><ellipse cx="12.1" cy="12.2" rx="1.5" ry="1.0" transform="rotate(100 12.1 12.2)"/><ellipse cx="14.5" cy="22.5" rx="1.1" ry="0.8" transform="rotate(160 14.5 22.5)"/><circle cx="2.0" cy="9.1" r="0.9"/><ellipse cx="15.2" cy="20.6" rx="1.4" ry="1.0" transform="rotate(157 15.2 20.6)"/><circle cx="15.9" cy="18.7" r="1.0"/></g></pattern><pattern id="p30" width="43" height="43" patternUnits="userSpaceOnUse" patternTransform="rotate(81)"><g fill="#ac8878"><circle cx="11.7" cy="36.8" r="0.8"/><circle cx="26.9" cy="27.2" r="0.9"/><circle cx="6.8" cy="33.5" r="0.9"/><ellipse cx="15.2" cy="4.9" rx="1.3" ry="0.9" transform="rotate(60 15.2 4.9)"/><ellipse cx="6.4" cy="14.8" rx="1.5" ry="1.0" transform="rotate(51 6.4 14.8)"/><ellipse cx="39.1" cy="20.9" rx="1.3" ry="0.9" transform="rotate(87 39.1 20.9)"/><ellipse cx="27.5" cy="33.9" rx="1.3" ry="0.9" transform="rotate(36 27.5 33.9)"/><ellipse cx="33.8" cy="0.7" rx="1.2" ry="0.9" transform="rotate(91 33.8 0.7)"/><circle cx="33.8" cy="43.7" r="0.9"/><circle cx="26.0" cy="1.8" r="0.8"/><circle cx="26.0" cy="44.8" r="0.8"/><ellipse cx="23.1" cy="7.9" rx="1.3" ry="0.9" transform="rotate(68 23.1 7.9)"/><ellipse cx="20.4" cy="9.4" rx="1.2" ry="0.8" transform="rotate(84 20.4 9.4)"/><ellipse cx="8.8" cy="31.0" rx="1.4" ry="1.0" transform="rotate(92 8.8 31.0)"/><circle cx="21.8" cy="33.9" r="0.8"/><circle cx="21.3" cy="17.1" r="0.7"/><circle cx="37.8" cy="41.3" r="0.8"/><circle cx="37.8" cy="-1.7" r="0.8"/><circle cx="40.8" cy="19.1" r="0.7"/><ellipse cx="1.4" cy="6.2" rx="1.3" ry="1.0" transform="rotate(39 1.4 6.2)"/><circle cx="44.4" cy="6.2" r="1.0"/><circle cx="39.4" cy="30.6" r="0.9"/><circle cx="26.8" cy="9.5" r="0.9"/><ellipse cx="40.6" cy="3.8" rx="1.3" ry="0.9" transform="rotate(74 40.6 3.8)"/><circle cx="13.1" cy="26.8" r="1.0"/><circle cx="28.0" cy="21.7" r="1.0"/><circle cx="42.2" cy="19.9" r="0.9"/><circle cx="-0.8" cy="19.9" r="0.9"/><circle cx="6.0" cy="1.2" r="0.8"/><circle cx="6.0" cy="44.2" r="0.8"/><ellipse cx="33.8" cy="33.3" rx="1.1" ry="0.8" transform="rotate(130 33.8 33.3)"/><circle cx="22.3" cy="33.9" r="0.7"/><circle cx="31.0" cy="21.1" r="0.7"/><circle cx="29.7" cy="29.1" r="1.0"/><circle cx="22.5" cy="13.1" r="1.0"/><circle cx="17.7" cy="39.9" r="0.7"/><ellipse cx="4.8" cy="24.3" rx="1.4" ry="1.0" transform="rotate(66 4.8 24.3)"/><ellipse cx="13.5" cy="22.5" rx="1.0" ry="0.7" transform="rotate(42 13.5 22.5)"/><ellipse cx="14.4" cy="0.7" rx="1.1" ry="0.8" transform="rotate(145 14.4 0.7)"/><circle cx="14.4" cy="43.7" r="0.8"/><circle cx="4.6" cy="0.3" r="0.8"/><circle cx="4.6" cy="43.3" r="0.8"/><circle cx="4.7" cy="8.3" r="0.9"/><ellipse cx="28.5" cy="29.1" rx="1.5" ry="1.0" transform="rotate(54 28.5 29.1)"/><ellipse cx="17.4" cy="12.8" rx="1.0" ry="0.7" transform="rotate(145 17.4 12.8)"/><circle cx="35.4" cy="26.3" r="1.0"/><circle cx="17.7" cy="40.7" r="0.8"/><ellipse cx="40.9" cy="18.1" rx="1.4" ry="1.0" transform="rotate(41 40.9 18.1)"/><ellipse cx="16.2" cy="7.7" rx="1.5" ry="1.0" transform="rotate(140 16.2 7.7)"/><ellipse cx="33.9" cy="11.5" rx="1.4" ry="1.0" transform="rotate(51 33.9 11.5)"/><circle cx="30.3" cy="10.5" r="1.0"/><circle cx="16.5" cy="7.5" r="0.9"/><circle cx="37.8" cy="4.2" r="1.0"/><circle cx="25.3" cy="21.7" r="0.7"/><ellipse cx="22.4" cy="4.8" rx="1.1" ry="0.8" transform="rotate(31 22.4 4.8)"/><circle cx="24.6" cy="14.6" r="0.9"/><circle cx="30.2" cy="40.5" r="0.9"/><circle cx="38.8" cy="41.3" r="0.8"/><circle cx="38.8" cy="-1.7" r="0.8"/><circle cx="4.3" cy="28.0" r="0.8"/><circle cx="7.8" cy="38.7" r="0.8"/><ellipse cx="15.6" cy="32.6" rx="1.1" ry="0.8" transform="rotate(33 15.6 32.6)"/><ellipse cx="18.8" cy="9.0" rx="1.1" ry="0.8" transform="rotate(24 18.8 9.0)"/><circle cx="7.5" cy="26.8" r="1.0"/><circle cx="20.3" cy="12.7" r="0.7"/><ellipse cx="18.2" cy="6.0" rx="1.4" ry="1.0" transform="rotate(135 18.2 6.0)"/><ellipse cx="22.8" cy="19.9" rx="1.0" ry="0.7" transform="rotate(145 22.8 19.9)"/><ellipse cx="32.7" cy="34.0" rx="1.4" ry="1.0" transform="rotate(80 32.7 34.0)"/><circle cx="31.8" cy="23.6" r="0.7"/><circle cx="42.4" cy="42.4" r="1.0"/><circle cx="-0.6" cy="42.4" r="1.0"/><circle cx="42.4" cy="-0.6" r="1.0"/><ellipse cx="11.8" cy="3.1" rx="1.1" ry="0.8" transform="rotate(14 11.8 3.1)"/><circle cx="13.4" cy="22.9" r="1.0"/></g></pattern><pattern id="p31" width="33" height="33" patternUnits="userSpaceOnUse" patternTransform="rotate(30)"><g fill="#b0a4c0"><circle cx="17.8" cy="12.6" r="1.0"/><ellipse cx="32.4" cy="7.5" rx="1.3" ry="1.0" transform="rotate(71 32.4 7.5)"/><circle cx="-0.6" cy="7.5" r="1.0"/><ellipse cx="16.4" cy="23.8" rx="1.3" ry="0.9" transform="rotate(53 16.4 23.8)"/><ellipse cx="1.3" cy="13.9" rx="1.1" ry="0.8" transform="rotate(20 1.3 13.9)"/><circle cx="34.3" cy="13.9" r="0.8"/><circle cx="29.8" cy="9.3" r="0.8"/><circle cx="6.5" cy="20.9" r="0.9"/><ellipse cx="6.4" cy="8.9" rx="1.4" ry="1.0" transform="rotate(73 6.4 8.9)"/><circle cx="28.5" cy="21.0" r="0.9"/><ellipse cx="30.8" cy="12.3" rx="1.3" ry="1.0" transform="rotate(136 30.8 12.3)"/><ellipse cx="8.6" cy="13.1" rx="1.1" ry="0.8" transform="rotate(51 8.6 13.1)"/><ellipse cx="7.4" cy="6.5" rx="1.1" ry="0.8" transform="rotate(96 7.4 6.5)"/><ellipse cx="9.3" cy="15.0" rx="1.2" ry="0.9" transform="rotate(95 9.3 15.0)"/><ellipse cx="11.6" cy="30.8" rx="1.1" ry="0.8" transform="rotate(67 11.6 30.8)"/><ellipse cx="29.8" cy="20.2" rx="1.3" ry="0.9" transform="rotate(157 29.8 20.2)"/><circle cx="25.8" cy="2.1" r="0.7"/><ellipse cx="17.3" cy="28.8" rx="1.0" ry="0.7" transform="rotate(145 17.3 28.8)"/><ellipse cx="28.6" cy="10.2" rx="1.3" ry="1.0" transform="rotate(126 28.6 10.2)"/><circle cx="23.3" cy="23.2" r="0.9"/><ellipse cx="24.4" cy="32.5" rx="1.2" ry="0.8" transform="rotate(142 24.4 32.5)"/><circle cx="24.4" cy="-0.5" r="0.8"/><circle cx="21.6" cy="8.2" r="1.0"/><circle cx="24.4" cy="18.7" r="1.0"/></g></pattern><pattern id="p32" width="49" height="49" patternUnits="userSpaceOnUse" patternTransform="rotate(32)"><g fill="#b0a4c0"><ellipse cx="18.4" cy="12.3" rx="1.3" ry="0.9" transform="rotate(128 18.4 12.3)"/><circle cx="34.7" cy="15.9" r="0.8"/><circle cx="8.5" cy="1.0" r="0.7"/><circle cx="8.5" cy="50.0" r="0.7"/><ellipse cx="41.5" cy="31.2" rx="1.3" ry="0.9" transform="rotate(87 41.5 31.2)"/><ellipse cx="39.5" cy="48.0" rx="1.0" ry="0.7" transform="rotate(29 39.5 48.0)"/><circle cx="39.5" cy="-1.0" r="0.7"/><ellipse cx="31.3" cy="34.8" rx="1.1" ry="0.8" transform="rotate(138 31.3 34.8)"/><circle cx="35.1" cy="7.9" r="0.9"/><circle cx="9.0" cy="25.7" r="0.9"/><ellipse cx="44.6" cy="19.4" rx="1.4" ry="1.0" transform="rotate(2 44.6 19.4)"/><circle cx="43.5" cy="18.7" r="0.8"/><ellipse cx="27.2" cy="23.1" rx="1.4" ry="1.0" transform="rotate(24 27.2 23.1)"/><circle cx="15.5" cy="47.1" r="0.9"/><circle cx="15.5" cy="-1.9" r="0.9"/><circle cx="29.9" cy="7.2" r="0.8"/><ellipse cx="8.8" cy="48.8" rx="1.1" ry="0.8" transform="rotate(131 8.8 48.8)"/><circle cx="8.8" cy="-0.2" r="0.8"/><circle cx="37.9" cy="46.4" r="0.8"/><ellipse cx="0.3" cy="14.9" rx="1.1" ry="0.8" transform="rotate(139 0.3 14.9)"/><circle cx="49.3" cy="14.9" r="0.8"/><ellipse cx="5.7" cy="4.7" rx="1.3" ry="1.0" transform="rotate(21 5.7 4.7)"/><ellipse cx="8.9" cy="42.7" rx="1.1" ry="0.8" transform="rotate(68 8.9 42.7)"/><circle cx="7.2" cy="9.8" r="0.8"/><circle cx="13.4" cy="41.1" r="0.8"/><circle cx="44.5" cy="1.3" r="0.8"/><circle cx="44.5" cy="50.3" r="0.8"/><circle cx="40.7" cy="18.7" r="0.7"/><circle cx="32.7" cy="42.3" r="0.8"/><ellipse cx="6.8" cy="26.1" rx="1.4" ry="1.0" transform="rotate(94 6.8 26.1)"/><ellipse cx="4.8" cy="4.6" rx="1.0" ry="0.7" transform="rotate(33 4.8 4.6)"/><ellipse cx="8.4" cy="26.7" rx="1.3" ry="0.9" transform="rotate(102 8.4 26.7)"/><ellipse cx="5.4" cy="31.2" rx="1.4" ry="1.0" transform="rotate(80 5.4 31.2)"/><ellipse cx="22.9" cy="5.8" rx="1.1" ry="0.8" transform="rotate(133 22.9 5.8)"/><ellipse cx="12.4" cy="33.7" rx="1.2" ry="0.8" transform="rotate(144 12.4 33.7)"/><ellipse cx="33.8" cy="12.3" rx="1.2" ry="0.8" transform="rotate(30 33.8 12.3)"/><circle cx="32.9" cy="12.1" r="0.9"/><circle cx="19.3" cy="6.8" r="0.9"/><circle cx="13.7" cy="24.6" r="0.8"/><circle cx="37.1" cy="40.8" r="0.7"/><circle cx="9.7" cy="40.6" r="0.7"/><ellipse cx="28.6" cy="6.6" rx="1.3" ry="1.0" transform="rotate(68 28.6 6.6)"/><circle cx="40.8" cy="34.6" r="0.7"/><ellipse cx="16.2" cy="21.2" rx="1.2" ry="0.8" transform="rotate(17 16.2 21.2)"/><ellipse cx="26.4" cy="18.1" rx="1.1" ry="0.8" transform="rotate(50 26.4 18.1)"/><circle cx="11.6" cy="39.3" r="0.8"/><ellipse cx="23.2" cy="33.2" rx="1.4" ry="1.0" transform="rotate(103 23.2 33.2)"/><circle cx="0.3" cy="9.6" r="0.8"/><circle cx="49.3" cy="9.6" r="0.8"/><circle cx="14.4" cy="19.7" r="0.8"/><circle cx="18.7" cy="43.1" r="0.8"/><circle cx="6.8" cy="26.1" r="0.8"/><ellipse cx="43.5" cy="11.9" rx="1.1" ry="0.8" transform="rotate(150 43.5 11.9)"/></g></pattern><clipPath id="ihcc6"><rect x="1065.5" y="2188.2" width="264.29999999999995" height="150.20000000000027"/></clipPath><filter id="n11" x="0" y="0" width="100%" height="100%" color-interpolation-filters="sRGB"><feTurbulence type="fractalNoise" baseFrequency="0.028" numOctaves="3" seed="90" result="t"/><feColorMatrix in="t" type="matrix" values="0 0 0 0 0.788 0 0 0 0 0.561 0 0 0 0 0.416 3.0 0 0 0 -0.98"/><feComposite in2="SourceGraphic" operator="in"/></filter><filter id="n12" x="0" y="0" width="100%" height="100%" color-interpolation-filters="sRGB"><feTurbulence type="fractalNoise" baseFrequency="0.05" numOctaves="2" seed="91" result="t"/><feColorMatrix in="t" type="matrix" values="0 0 0 0 0.933 0 0 0 0 0.863 0 0 0 0 0.918 0 2.4 0 0 -1.3"/><feComposite in2="SourceGraphic" operator="in"/></filter><pattern id="p33" width="29" height="29" patternUnits="userSpaceOnUse" patternTransform="rotate(66)"><g fill="#9a80b6"><circle cx="11.9" cy="22.8" r="0.8"/><circle cx="5.4" cy="5.4" r="0.8"/><circle cx="16.6" cy="6.2" r="1.1"/><circle cx="23.8" cy="20.7" r="0.9"/><circle cx="0.2" cy="15.1" r="1.0"/><circle cx="29.2" cy="15.1" r="1.0"/><circle cx="27.2" cy="21.8" r="0.9"/><circle cx="-1.8" cy="21.8" r="0.9"/><circle cx="17.8" cy="12.3" r="1.0"/><circle cx="15.4" cy="16.9" r="1.0"/><circle cx="8.4" cy="1.7" r="1.0"/><circle cx="8.4" cy="30.7" r="1.0"/><circle cx="20.7" cy="13.6" r="1.0"/><circle cx="24.1" cy="19.7" r="1.1"/><circle cx="5.5" cy="18.5" r="1.0"/><circle cx="4.4" cy="24.2" r="0.8"/><circle cx="16.8" cy="28.3" r="1.1"/><circle cx="16.8" cy="-0.7" r="1.1"/><circle cx="18.4" cy="21.0" r="0.9"/><circle cx="22.8" cy="13.3" r="1.1"/><circle cx="21.1" cy="27.8" r="1.0"/><circle cx="21.1" cy="-1.2" r="1.0"/><circle cx="26.5" cy="24.0" r="1.1"/><circle cx="0.7" cy="14.9" r="1.0"/><circle cx="29.7" cy="14.9" r="1.0"/><circle cx="2.9" cy="13.8" r="1.1"/><circle cx="9.8" cy="19.2" r="1.0"/><circle cx="28.5" cy="28.6" r="1.1"/><circle cx="-0.5" cy="28.6" r="1.1"/><circle cx="28.5" cy="-0.4" r="1.1"/><circle cx="6.4" cy="0.9" r="0.8"/><circle cx="6.4" cy="29.9" r="0.8"/><circle cx="25.7" cy="6.6" r="1.0"/><circle cx="21.8" cy="24.6" r="0.8"/><circle cx="15.7" cy="26.2" r="1.0"/><circle cx="27.0" cy="10.6" r="1.1"/><circle cx="19.0" cy="21.6" r="1.1"/></g></pattern><pattern id="p34" width="43" height="43" patternUnits="userSpaceOnUse" patternTransform="rotate(10)"><g fill="#9a80b6"><circle cx="13.3" cy="28.2" r="1.1"/><circle cx="26.9" cy="11.2" r="1.0"/><circle cx="23.9" cy="32.9" r="0.9"/><circle cx="28.1" cy="40.3" r="1.0"/><circle cx="32.7" cy="20.1" r="1.0"/><circle cx="37.1" cy="37.4" r="1.0"/><circle cx="20.5" cy="15.0" r="0.9"/><circle cx="12.8" cy="23.2" r="0.8"/><circle cx="25.8" cy="4.1" r="1.1"/><circle cx="30.0" cy="6.1" r="0.9"/><circle cx="35.7" cy="41.1" r="1.0"/><circle cx="35.7" cy="-1.9" r="1.0"/><circle cx="11.3" cy="23.9" r="1.0"/><circle cx="21.4" cy="4.0" r="0.9"/><circle cx="24.7" cy="38.5" r="1.1"/><circle cx="36.1" cy="24.5" r="0.8"/><circle cx="39.9" cy="0.8" r="1.0"/><circle cx="39.9" cy="43.8" r="1.0"/><circle cx="38.1" cy="5.5" r="1.1"/><circle cx="3.9" cy="14.2" r="0.9"/><circle cx="35.8" cy="9.6" r="1.1"/><circle cx="20.1" cy="17.6" r="0.9"/><circle cx="38.4" cy="11.0" r="0.8"/><circle cx="4.2" cy="29.5" r="1.1"/><circle cx="38.8" cy="13.3" r="1.1"/><circle cx="1.5" cy="15.0" r="1.1"/><circle cx="44.5" cy="15.0" r="1.1"/><circle cx="42.2" cy="4.0" r="1.1"/><circle cx="-0.8" cy="4.0" r="1.1"/><circle cx="31.8" cy="38.9" r="1.1"/><circle cx="34.5" cy="19.1" r="1.0"/><circle cx="42.9" cy="0.7" r="0.8"/><circle cx="-0.1" cy="0.7" r="0.8"/><circle cx="42.9" cy="43.7" r="0.8"/><circle cx="33.5" cy="16.1" r="1.1"/><circle cx="20.4" cy="32.4" r="1.0"/><circle cx="2.7" cy="18.0" r="0.9"/><circle cx="35.4" cy="29.5" r="0.8"/><circle cx="3.9" cy="14.7" r="1.0"/><circle cx="39.7" cy="33.0" r="1.0"/><circle cx="25.3" cy="32.8" r="0.8"/><circle cx="21.0" cy="1.2" r="0.9"/><circle cx="21.0" cy="44.2" r="0.9"/><circle cx="7.3" cy="28.2" r="0.9"/><circle cx="36.8" cy="16.7" r="1.0"/><circle cx="27.0" cy="28.0" r="0.9"/><circle cx="14.8" cy="40.9" r="0.9"/><circle cx="32.6" cy="6.7" r="0.9"/><circle cx="19.3" cy="3.7" r="1.1"/><circle cx="0.8" cy="26.6" r="0.9"/><circle cx="43.8" cy="26.6" r="0.9"/><circle cx="42.6" cy="4.3" r="0.8"/><circle cx="-0.4" cy="4.3" r="0.8"/><circle cx="15.1" cy="15.0" r="0.9"/><circle cx="22.4" cy="31.0" r="0.9"/><circle cx="34.5" cy="20.1" r="0.9"/><circle cx="28.1" cy="7.0" r="1.1"/><circle cx="7.4" cy="28.3" r="0.9"/><circle cx="22.8" cy="42.4" r="0.8"/><circle cx="22.8" cy="-0.6" r="0.8"/><circle cx="12.3" cy="22.3" r="1.0"/><circle cx="6.2" cy="18.9" r="0.8"/><circle cx="26.9" cy="23.9" r="0.8"/><circle cx="21.7" cy="24.4" r="1.0"/><circle cx="6.9" cy="26.5" r="1.1"/><circle cx="26.6" cy="0.2" r="0.9"/><circle cx="26.6" cy="43.2" r="0.9"/><circle cx="23.0" cy="15.9" r="1.1"/><circle cx="19.8" cy="31.8" r="0.8"/><circle cx="37.4" cy="30.0" r="0.9"/><circle cx="23.6" cy="18.5" r="1.0"/><circle cx="40.9" cy="20.6" r="0.9"/><circle cx="34.5" cy="38.2" r="1.0"/><circle cx="21.2" cy="24.1" r="0.9"/></g></pattern><filter id="n13" x="0" y="0" width="100%" height="100%" color-interpolation-filters="sRGB"><feTurbulence type="fractalNoise" baseFrequency="0.04" numOctaves="2" seed="100" result="t"/><feColorMatrix in="t" type="matrix" values="0 0 0 0 0.957 0 0 0 0 0.925 0 0 0 0 0.949 2.2 0 0 0 -1.1"/><feComposite in2="SourceGraphic" operator="in"/></filter><pattern id="p35" width="29" height="29" patternUnits="userSpaceOnUse" patternTransform="rotate(19)"><g fill="#ae90c4"><circle cx="16.0" cy="5.5" r="0.9"/><circle cx="8.3" cy="17.1" r="1.1"/><circle cx="15.3" cy="22.9" r="0.9"/><circle cx="12.2" cy="21.5" r="1.1"/><circle cx="4.7" cy="8.7" r="0.8"/><circle cx="6.2" cy="18.6" r="0.8"/><circle cx="20.5" cy="24.0" r="1.2"/><circle cx="19.1" cy="16.4" r="0.9"/><circle cx="19.8" cy="10.7" r="0.9"/><circle cx="13.7" cy="2.7" r="0.8"/><circle cx="2.7" cy="22.9" r="1.2"/><circle cx="13.8" cy="21.9" r="1.1"/><circle cx="11.9" cy="23.2" r="0.9"/><circle cx="17.2" cy="14.5" r="1.0"/><circle cx="13.5" cy="18.9" r="1.0"/><circle cx="10.3" cy="26.8" r="1.1"/><circle cx="4.2" cy="20.1" r="1.0"/><circle cx="28.1" cy="14.7" r="0.8"/><circle cx="-0.9" cy="14.7" r="0.8"/><circle cx="23.4" cy="21.1" r="1.2"/><circle cx="15.8" cy="22.6" r="1.0"/><circle cx="10.6" cy="1.1" r="0.9"/><circle cx="10.6" cy="30.1" r="0.9"/><circle cx="17.1" cy="13.9" r="1.0"/><circle cx="19.1" cy="8.3" r="1.0"/><circle cx="24.0" cy="22.3" r="1.1"/><circle cx="6.3" cy="21.3" r="0.9"/><circle cx="3.5" cy="6.2" r="0.9"/><circle cx="22.4" cy="1.0" r="0.8"/><circle cx="22.4" cy="30.0" r="0.8"/><circle cx="14.7" cy="13.2" r="0.8"/><circle cx="2.3" cy="24.9" r="1.2"/><circle cx="20.3" cy="7.0" r="1.1"/><circle cx="20.6" cy="11.8" r="0.9"/><circle cx="18.9" cy="11.1" r="1.0"/></g></pattern><pattern id="p36" width="43" height="43" patternUnits="userSpaceOnUse" patternTransform="rotate(3)"><g fill="#ae90c4"><circle cx="35.3" cy="11.1" r="0.8"/><circle cx="18.7" cy="41.7" r="0.8"/><circle cx="18.7" cy="-1.3" r="0.8"/><circle cx="23.7" cy="22.9" r="0.9"/><circle cx="13.8" cy="13.3" r="1.1"/><circle cx="26.6" cy="31.4" r="1.1"/><circle cx="12.4" cy="36.6" r="1.0"/><circle cx="26.1" cy="11.3" r="0.9"/><circle cx="39.4" cy="33.4" r="1.2"/><circle cx="11.2" cy="5.2" r="1.2"/><circle cx="42.7" cy="33.8" r="1.0"/><circle cx="-0.3" cy="33.8" r="1.0"/><circle cx="24.8" cy="4.4" r="0.8"/><circle cx="34.0" cy="2.3" r="0.9"/><circle cx="31.4" cy="26.1" r="0.8"/><circle cx="3.8" cy="24.8" r="0.8"/><circle cx="29.3" cy="20.4" r="1.0"/><circle cx="12.3" cy="13.5" r="1.2"/><circle cx="38.9" cy="37.8" r="0.9"/><circle cx="12.9" cy="34.4" r="1.1"/><circle cx="24.5" cy="37.5" r="0.8"/><circle cx="21.9" cy="7.3" r="1.0"/><circle cx="3.3" cy="13.3" r="1.0"/><circle cx="23.1" cy="43.0" r="1.1"/><circle cx="23.1" cy="-0.0" r="1.1"/><circle cx="27.2" cy="31.9" r="1.2"/><circle cx="36.6" cy="30.5" r="0.9"/><circle cx="25.9" cy="24.3" r="1.1"/><circle cx="14.9" cy="8.6" r="0.9"/><circle cx="21.7" cy="16.5" r="0.9"/><circle cx="19.0" cy="10.5" r="1.0"/><circle cx="8.3" cy="1.8" r="1.2"/><circle cx="8.3" cy="44.8" r="1.2"/><circle cx="31.2" cy="18.4" r="1.1"/><circle cx="27.5" cy="5.2" r="0.9"/><circle cx="19.9" cy="22.8" r="0.9"/><circle cx="16.8" cy="12.0" r="0.8"/><circle cx="28.1" cy="2.8" r="0.9"/><circle cx="4.6" cy="31.9" r="1.0"/><circle cx="3.7" cy="24.0" r="1.1"/><circle cx="37.0" cy="38.4" r="0.8"/><circle cx="40.1" cy="42.5" r="0.9"/><circle cx="40.1" cy="-0.5" r="0.9"/><circle cx="3.9" cy="2.9" r="1.2"/><circle cx="14.0" cy="23.4" r="1.0"/><circle cx="10.6" cy="21.3" r="0.9"/><circle cx="28.2" cy="27.1" r="0.9"/><circle cx="20.4" cy="37.2" r="1.0"/><circle cx="27.6" cy="1.0" r="0.9"/><circle cx="27.6" cy="44.0" r="0.9"/><circle cx="18.9" cy="25.1" r="1.1"/><circle cx="36.1" cy="25.9" r="0.9"/><circle cx="17.6" cy="29.6" r="0.8"/><circle cx="30.6" cy="37.9" r="0.9"/><circle cx="6.3" cy="20.8" r="0.8"/><circle cx="7.4" cy="31.4" r="0.9"/><circle cx="28.4" cy="4.0" r="0.8"/><circle cx="28.8" cy="28.6" r="1.2"/><circle cx="0.7" cy="42.7" r="1.1"/><circle cx="43.7" cy="42.7" r="1.1"/><circle cx="0.7" cy="-0.3" r="1.1"/><circle cx="1.3" cy="32.3" r="0.8"/><circle cx="44.3" cy="32.3" r="0.8"/><circle cx="34.2" cy="18.6" r="1.1"/><circle cx="5.5" cy="11.4" r="0.9"/><circle cx="22.0" cy="36.0" r="1.1"/><circle cx="29.8" cy="21.8" r="1.0"/><circle cx="26.9" cy="22.3" r="0.9"/><circle cx="14.6" cy="17.8" r="1.1"/><circle cx="4.4" cy="41.7" r="0.9"/><circle cx="4.4" cy="-1.3" r="0.9"/><circle cx="18.4" cy="29.0" r="0.8"/><circle cx="26.4" cy="25.6" r="0.8"/><circle cx="20.1" cy="6.9" r="1.0"/><circle cx="41.9" cy="37.5" r="1.1"/><circle cx="-1.1" cy="37.5" r="1.1"/><circle cx="22.2" cy="35.6" r="0.8"/><circle cx="1.6" cy="1.2" r="1.0"/><circle cx="44.6" cy="1.2" r="1.0"/><circle cx="1.6" cy="44.2" r="1.0"/><circle cx="6.0" cy="23.0" r="0.9"/><circle cx="13.5" cy="27.1" r="1.1"/><circle cx="29.9" cy="33.2" r="0.9"/><circle cx="27.8" cy="39.8" r="1.1"/><circle cx="21.3" cy="22.7" r="0.8"/></g></pattern><clipPath id="ihcc7"><rect x="498.2" y="2346.1" width="264.00000000000006" height="149.80000000000018"/></clipPath><filter id="n14" x="0" y="0" width="100%" height="100%" color-interpolation-filters="sRGB"><feTurbulence type="fractalNoise" baseFrequency="0.035" numOctaves="2" seed="110" result="t"/><feColorMatrix in="t" type="matrix" values="0 0 0 0 0.957 0 0 0 0 0.902 0 0 0 0 0.933 2.2 0 0 0 -1.1"/><feComposite in2="SourceGraphic" operator="in"/></filter><pattern id="p37" width="29" height="29" patternUnits="userSpaceOnUse" patternTransform="rotate(1)"><g fill="#bc8eb2"><ellipse cx="16.9" cy="16.5" rx="1.2" ry="0.8" transform="rotate(143 16.9 16.5)"/><ellipse cx="7.5" cy="2.0" rx="1.6" ry="1.1" transform="rotate(56 7.5 2.0)"/><ellipse cx="24.3" cy="21.0" rx="1.3" ry="0.9" transform="rotate(158 24.3 21.0)"/><circle cx="22.9" cy="19.2" r="1.0"/><ellipse cx="8.1" cy="2.2" rx="1.7" ry="1.1" transform="rotate(3 8.1 2.2)"/><circle cx="26.4" cy="8.3" r="1.2"/><circle cx="13.7" cy="15.6" r="0.8"/><circle cx="26.6" cy="24.6" r="1.0"/><circle cx="25.9" cy="15.7" r="1.1"/><ellipse cx="4.8" cy="27.1" rx="1.3" ry="0.8" transform="rotate(94 4.8 27.1)"/><circle cx="4.8" cy="-1.9" r="0.8"/><ellipse cx="26.8" cy="15.5" rx="1.7" ry="1.1" transform="rotate(96 26.8 15.5)"/><ellipse cx="28.8" cy="27.8" rx="1.5" ry="1.0" transform="rotate(141 28.8 27.8)"/><circle cx="-0.2" cy="27.8" r="1.0"/><circle cx="28.8" cy="-1.2" r="1.0"/><circle cx="8.1" cy="13.4" r="0.8"/><circle cx="6.5" cy="0.2" r="0.8"/><circle cx="6.5" cy="29.2" r="0.8"/><circle cx="22.6" cy="1.8" r="1.2"/><circle cx="22.6" cy="30.8" r="1.2"/><circle cx="18.3" cy="21.2" r="0.8"/><circle cx="4.0" cy="23.5" r="1.0"/><circle cx="28.1" cy="28.3" r="0.8"/><circle cx="-0.9" cy="28.3" r="0.8"/><circle cx="28.1" cy="-0.7" r="0.8"/><circle cx="25.3" cy="19.2" r="1.1"/><ellipse cx="26.8" cy="10.5" rx="1.7" ry="1.1" transform="rotate(66 26.8 10.5)"/><circle cx="17.2" cy="2.9" r="0.8"/><ellipse cx="28.4" cy="27.2" rx="1.5" ry="1.0" transform="rotate(58 28.4 27.2)"/><circle cx="-0.6" cy="27.2" r="1.0"/><circle cx="28.4" cy="-1.8" r="1.0"/><ellipse cx="12.4" cy="23.9" rx="1.4" ry="0.9" transform="rotate(167 12.4 23.9)"/><ellipse cx="15.6" cy="17.4" rx="1.4" ry="0.9" transform="rotate(36 15.6 17.4)"/><circle cx="20.9" cy="7.7" r="0.9"/><circle cx="7.2" cy="0.5" r="1.0"/><circle cx="7.2" cy="29.5" r="1.0"/><ellipse cx="12.7" cy="24.3" rx="1.3" ry="0.9" transform="rotate(8 12.7 24.3)"/><circle cx="3.3" cy="12.8" r="0.8"/><circle cx="16.3" cy="28.3" r="1.1"/><circle cx="16.3" cy="-0.7" r="1.1"/><ellipse cx="5.8" cy="21.2" rx="1.3" ry="0.9" transform="rotate(16 5.8 21.2)"/><ellipse cx="22.9" cy="4.0" rx="1.6" ry="1.1" transform="rotate(134 22.9 4.0)"/><ellipse cx="5.4" cy="9.6" rx="1.6" ry="1.0" transform="rotate(143 5.4 9.6)"/></g></pattern><pattern id="p38" width="43" height="43" patternUnits="userSpaceOnUse" patternTransform="rotate(42)"><g fill="#bc8eb2"><ellipse cx="5.2" cy="25.1" rx="1.2" ry="0.8" transform="rotate(23 5.2 25.1)"/><ellipse cx="41.7" cy="22.3" rx="1.8" ry="1.2" transform="rotate(132 41.7 22.3)"/><circle cx="-1.3" cy="22.3" r="1.2"/><circle cx="27.9" cy="13.6" r="1.0"/><circle cx="5.6" cy="40.7" r="0.8"/><circle cx="26.0" cy="32.7" r="0.9"/><circle cx="28.0" cy="19.0" r="0.8"/><ellipse cx="11.0" cy="4.8" rx="1.4" ry="0.9" transform="rotate(107 11.0 4.8)"/><circle cx="12.9" cy="20.1" r="1.0"/><circle cx="24.9" cy="40.1" r="0.9"/><circle cx="13.0" cy="37.1" r="1.1"/><circle cx="15.2" cy="23.5" r="1.0"/><ellipse cx="2.3" cy="18.8" rx="1.2" ry="0.8" transform="rotate(18 2.3 18.8)"/><circle cx="5.7" cy="5.2" r="1.2"/><ellipse cx="11.3" cy="15.6" rx="1.5" ry="1.0" transform="rotate(23 11.3 15.6)"/><circle cx="7.3" cy="3.2" r="1.1"/><ellipse cx="23.2" cy="25.5" rx="1.2" ry="0.8" transform="rotate(174 23.2 25.5)"/><circle cx="0.0" cy="40.5" r="1.1"/><circle cx="43.0" cy="40.5" r="1.1"/><circle cx="19.6" cy="0.3" r="0.9"/><circle cx="19.6" cy="43.3" r="0.9"/><circle cx="24.9" cy="26.6" r="1.2"/><ellipse cx="22.0" cy="15.7" rx="1.4" ry="0.9" transform="rotate(23 22.0 15.7)"/><ellipse cx="5.7" cy="7.7" rx="1.8" ry="1.2" transform="rotate(41 5.7 7.7)"/><ellipse cx="12.7" cy="4.0" rx="1.5" ry="1.0" transform="rotate(68 12.7 4.0)"/><ellipse cx="42.8" cy="13.3" rx="1.7" ry="1.1" transform="rotate(72 42.8 13.3)"/><circle cx="-0.2" cy="13.3" r="1.1"/><ellipse cx="27.8" cy="22.4" rx="1.5" ry="1.0" transform="rotate(31 27.8 22.4)"/><circle cx="30.2" cy="27.9" r="1.1"/><circle cx="2.9" cy="35.2" r="0.9"/><circle cx="32.2" cy="7.1" r="1.2"/><circle cx="22.0" cy="39.8" r="1.1"/><ellipse cx="30.0" cy="11.7" rx="1.4" ry="0.9" transform="rotate(37 30.0 11.7)"/><ellipse cx="3.9" cy="12.7" rx="1.7" ry="1.1" transform="rotate(65 3.9 12.7)"/><ellipse cx="3.4" cy="40.0" rx="1.6" ry="1.1" transform="rotate(154 3.4 40.0)"/><ellipse cx="4.8" cy="5.2" rx="1.4" ry="0.9" transform="rotate(77 4.8 5.2)"/><ellipse cx="5.0" cy="29.3" rx="1.5" ry="1.0" transform="rotate(95 5.0 29.3)"/><ellipse cx="8.2" cy="15.1" rx="1.5" ry="1.0" transform="rotate(65 8.2 15.1)"/><ellipse cx="39.3" cy="30.3" rx="1.3" ry="0.9" transform="rotate(55 39.3 30.3)"/><circle cx="29.8" cy="2.5" r="1.2"/><ellipse cx="0.7" cy="8.8" rx="1.3" ry="0.8" transform="rotate(40 0.7 8.8)"/><circle cx="43.7" cy="8.8" r="0.8"/><ellipse cx="42.2" cy="40.0" rx="1.4" ry="1.0" transform="rotate(41 42.2 40.0)"/><circle cx="-0.8" cy="40.0" r="1.0"/><circle cx="7.1" cy="1.4" r="1.1"/><circle cx="7.1" cy="44.4" r="1.1"/><ellipse cx="1.4" cy="39.8" rx="1.5" ry="1.0" transform="rotate(125 1.4 39.8)"/><circle cx="44.4" cy="39.8" r="1.0"/><circle cx="8.8" cy="8.3" r="0.8"/><circle cx="25.7" cy="25.9" r="1.0"/><circle cx="10.2" cy="27.2" r="1.1"/><ellipse cx="12.1" cy="32.0" rx="1.5" ry="1.0" transform="rotate(31 12.1 32.0)"/><ellipse cx="2.7" cy="14.1" rx="1.2" ry="0.8" transform="rotate(95 2.7 14.1)"/><circle cx="10.5" cy="22.0" r="0.9"/><ellipse cx="0.1" cy="4.8" rx="1.8" ry="1.2" transform="rotate(60 0.1 4.8)"/><circle cx="43.1" cy="4.8" r="1.2"/><ellipse cx="16.9" cy="27.3" rx="1.6" ry="1.1" transform="rotate(176 16.9 27.3)"/><ellipse cx="32.6" cy="38.5" rx="1.7" ry="1.2" transform="rotate(91 32.6 38.5)"/><ellipse cx="0.0" cy="18.5" rx="1.7" ry="1.1" transform="rotate(47 0.0 18.5)"/><circle cx="43.0" cy="18.5" r="1.1"/><ellipse cx="10.2" cy="19.5" rx="1.6" ry="1.1" transform="rotate(53 10.2 19.5)"/><circle cx="14.4" cy="39.9" r="0.9"/><ellipse cx="40.6" cy="17.2" rx="1.2" ry="0.8" transform="rotate(85 40.6 17.2)"/><ellipse cx="6.8" cy="37.0" rx="1.2" ry="0.8" transform="rotate(106 6.8 37.0)"/><ellipse cx="19.1" cy="0.2" rx="1.8" ry="1.2" transform="rotate(81 19.1 0.2)"/><circle cx="19.1" cy="43.2" r="1.2"/><circle cx="13.0" cy="1.2" r="0.9"/><circle cx="13.0" cy="44.2" r="0.9"/><circle cx="21.9" cy="11.5" r="0.8"/><ellipse cx="15.4" cy="29.4" rx="1.8" ry="1.2" transform="rotate(91 15.4 29.4)"/><circle cx="0.8" cy="38.1" r="0.8"/><circle cx="43.8" cy="38.1" r="0.8"/><ellipse cx="26.8" cy="38.2" rx="1.3" ry="0.9" transform="rotate(40 26.8 38.2)"/><circle cx="29.6" cy="10.3" r="0.9"/><ellipse cx="34.7" cy="24.3" rx="1.3" ry="0.9" transform="rotate(29 34.7 24.3)"/><ellipse cx="25.7" cy="17.4" rx="1.5" ry="1.0" transform="rotate(21 25.7 17.4)"/><circle cx="35.3" cy="30.4" r="0.8"/><circle cx="12.2" cy="36.9" r="0.8"/><ellipse cx="34.0" cy="37.0" rx="1.5" ry="1.0" transform="rotate(133 34.0 37.0)"/><ellipse cx="6.0" cy="1.8" rx="1.6" ry="1.1" transform="rotate(7 6.0 1.8)"/><circle cx="6.0" cy="44.8" r="1.1"/><ellipse cx="18.2" cy="26.8" rx="1.2" ry="0.8" transform="rotate(175 18.2 26.8)"/><ellipse cx="25.1" cy="14.6" rx="1.3" ry="0.8" transform="rotate(65 25.1 14.6)"/><circle cx="8.0" cy="33.3" r="0.9"/><circle cx="40.4" cy="36.3" r="1.1"/><circle cx="5.9" cy="35.4" r="0.8"/></g></pattern><clipPath id="ihcc8"><rect x="781" y="2346.1" width="264.4000000000001" height="149.80000000000018"/></clipPath><filter id="n15" x="0" y="0" width="100%" height="100%" color-interpolation-filters="sRGB"><feTurbulence type="fractalNoise" baseFrequency="0.03" numOctaves="3" seed="120" result="t"/><feColorMatrix in="t" type="matrix" values="0 0 0 0 0.753 0 0 0 0 0.486 0 0 0 0 0.345 3.0 0 0 0 -0.95"/><feComposite in2="SourceGraphic" operator="in"/></filter><filter id="n16" x="0" y="0" width="100%" height="100%" color-interpolation-filters="sRGB"><feTurbulence type="fractalNoise" baseFrequency="0.045" numOctaves="2" seed="121" result="t"/><feColorMatrix in="t" type="matrix" values="0 0 0 0 0.910 0 0 0 0 0.792 0 0 0 0 0.847 0 2.4 0 0 -1.3"/><feComposite in2="SourceGraphic" operator="in"/></filter><pattern id="p39" width="29" height="29" patternUnits="userSpaceOnUse" patternTransform="rotate(62)"><g fill="#a07098"><circle cx="3.4" cy="28.5" r="1.0"/><circle cx="3.4" cy="-0.5" r="1.0"/><circle cx="7.0" cy="15.4" r="1.0"/><circle cx="13.4" cy="17.3" r="1.0"/><circle cx="12.6" cy="27.3" r="0.9"/><circle cx="12.6" cy="-1.7" r="0.9"/><circle cx="10.7" cy="4.0" r="0.9"/><circle cx="21.4" cy="6.1" r="0.8"/><circle cx="10.8" cy="23.2" r="0.9"/><circle cx="16.5" cy="21.6" r="0.8"/><circle cx="1.3" cy="7.9" r="1.0"/><circle cx="30.3" cy="7.9" r="1.0"/><circle cx="7.3" cy="4.6" r="1.1"/><circle cx="26.2" cy="23.0" r="1.0"/><circle cx="5.7" cy="1.0" r="1.0"/><circle cx="5.7" cy="30.0" r="1.0"/><circle cx="9.5" cy="14.1" r="0.8"/><circle cx="22.3" cy="16.1" r="0.9"/><circle cx="15.8" cy="16.3" r="0.8"/><circle cx="13.7" cy="14.1" r="0.9"/><circle cx="5.3" cy="5.1" r="0.8"/><circle cx="17.0" cy="10.9" r="0.8"/><circle cx="12.6" cy="3.5" r="1.0"/><circle cx="6.5" cy="25.1" r="0.9"/><circle cx="12.1" cy="2.1" r="1.1"/><circle cx="28.7" cy="18.7" r="1.0"/><circle cx="-0.3" cy="18.7" r="1.0"/><circle cx="15.9" cy="18.9" r="0.8"/><circle cx="15.5" cy="2.4" r="0.9"/><circle cx="21.7" cy="0.7" r="1.0"/><circle cx="21.7" cy="29.7" r="1.0"/><circle cx="14.7" cy="28.5" r="1.1"/><circle cx="14.7" cy="-0.5" r="1.1"/><circle cx="18.9" cy="21.2" r="0.9"/><circle cx="26.0" cy="7.9" r="1.1"/></g></pattern><pattern id="p40" width="43" height="43" patternUnits="userSpaceOnUse" patternTransform="rotate(25)"><g fill="#a07098"><circle cx="1.5" cy="37.9" r="1.0"/><circle cx="44.5" cy="37.9" r="1.0"/><circle cx="5.1" cy="8.3" r="1.0"/><circle cx="14.1" cy="17.1" r="1.1"/><circle cx="42.2" cy="20.0" r="1.1"/><circle cx="-0.8" cy="20.0" r="1.1"/><circle cx="3.1" cy="41.0" r="0.9"/><circle cx="37.8" cy="11.0" r="1.0"/><circle cx="0.9" cy="5.0" r="1.0"/><circle cx="43.9" cy="5.0" r="1.0"/><circle cx="35.9" cy="5.9" r="0.9"/><circle cx="27.5" cy="16.0" r="1.1"/><circle cx="41.6" cy="38.3" r="1.0"/><circle cx="-1.4" cy="38.3" r="1.0"/><circle cx="36.7" cy="19.2" r="1.1"/><circle cx="26.1" cy="23.0" r="1.1"/><circle cx="29.7" cy="40.0" r="0.9"/><circle cx="15.6" cy="30.8" r="1.0"/><circle cx="22.1" cy="4.5" r="1.0"/><circle cx="35.5" cy="26.4" r="0.8"/><circle cx="40.9" cy="1.3" r="1.0"/><circle cx="40.9" cy="44.3" r="1.0"/><circle cx="36.9" cy="21.2" r="0.8"/><circle cx="6.1" cy="7.9" r="0.9"/><circle cx="35.8" cy="6.6" r="0.9"/><circle cx="29.8" cy="32.2" r="0.8"/><circle cx="3.5" cy="35.2" r="1.0"/><circle cx="28.5" cy="2.5" r="0.9"/><circle cx="18.9" cy="11.8" r="1.0"/><circle cx="39.9" cy="10.0" r="1.1"/><circle cx="1.8" cy="7.8" r="0.8"/><circle cx="44.8" cy="7.8" r="0.8"/><circle cx="33.7" cy="9.2" r="1.1"/><circle cx="30.3" cy="16.6" r="0.9"/><circle cx="35.3" cy="2.1" r="1.1"/><circle cx="19.1" cy="33.7" r="0.8"/><circle cx="17.0" cy="18.4" r="1.1"/><circle cx="27.2" cy="11.3" r="1.1"/><circle cx="34.1" cy="2.2" r="0.9"/><circle cx="23.7" cy="41.3" r="1.1"/><circle cx="23.7" cy="-1.7" r="1.1"/><circle cx="30.6" cy="23.4" r="1.0"/><circle cx="24.3" cy="29.3" r="0.9"/><circle cx="1.5" cy="40.0" r="1.1"/><circle cx="44.5" cy="40.0" r="1.1"/><circle cx="6.2" cy="22.8" r="1.1"/><circle cx="39.2" cy="24.0" r="0.9"/><circle cx="19.5" cy="14.9" r="1.1"/><circle cx="4.7" cy="37.3" r="0.9"/><circle cx="31.9" cy="15.5" r="0.9"/><circle cx="27.7" cy="0.1" r="1.0"/><circle cx="27.7" cy="43.1" r="1.0"/><circle cx="32.9" cy="36.9" r="1.1"/><circle cx="0.1" cy="40.3" r="0.8"/><circle cx="43.1" cy="40.3" r="0.8"/><circle cx="26.5" cy="31.2" r="0.9"/><circle cx="33.3" cy="42.0" r="1.1"/><circle cx="33.3" cy="-1.0" r="1.1"/><circle cx="8.3" cy="21.9" r="0.9"/><circle cx="42.0" cy="30.2" r="0.8"/><circle cx="-1.0" cy="30.2" r="0.8"/><circle cx="31.8" cy="17.2" r="0.8"/><circle cx="21.6" cy="0.8" r="1.0"/><circle cx="21.6" cy="43.8" r="1.0"/><circle cx="19.5" cy="15.3" r="1.0"/><circle cx="7.1" cy="0.0" r="1.1"/><circle cx="7.1" cy="43.0" r="1.1"/><circle cx="0.4" cy="8.9" r="0.8"/><circle cx="43.4" cy="8.9" r="0.8"/><circle cx="9.6" cy="7.7" r="0.9"/><circle cx="25.0" cy="6.9" r="0.8"/><circle cx="35.9" cy="41.9" r="0.9"/><circle cx="35.9" cy="-1.1" r="0.9"/><circle cx="30.3" cy="18.3" r="0.8"/><circle cx="18.6" cy="26.5" r="1.1"/><circle cx="21.0" cy="27.5" r="0.9"/><circle cx="32.6" cy="31.8" r="1.0"/><circle cx="8.5" cy="3.5" r="1.0"/><circle cx="2.2" cy="4.7" r="0.9"/></g></pattern></defs>
<text x="49.0" y="24.4" font-size="30" font-weight="bold" text-anchor="start" fill="#000">A</text>
<text x="208.3" y="39.3" font-size="20.6" font-weight="bold" text-anchor="middle" fill="#000">BxPC-3</text>
<path d="M98.0 300.8 L153.3 279.8 L209.0 266.4 L264.0 239.8 L319.0 202.9" fill="none" stroke="#4f95f5" stroke-width="1.5"/>
<line x1="98.0" y1="298.7" x2="98.0" y2="302.8" stroke="#4f95f5" stroke-width="1.8"/>
<line x1="94.0" y1="298.7" x2="102.0" y2="298.7" stroke="#4f95f5" stroke-width="1.8"/>
<line x1="94.0" y1="302.8" x2="102.0" y2="302.8" stroke="#4f95f5" stroke-width="1.8"/>
<path d="M98.0 296.4L102.2 303.6L93.8 303.6Z" fill="#4f95f5"/>
<line x1="153.3" y1="275.7" x2="153.3" y2="283.9" stroke="#4f95f5" stroke-width="1.8"/>
<line x1="149.3" y1="275.7" x2="157.3" y2="275.7" stroke="#4f95f5" stroke-width="1.8"/>
<line x1="149.3" y1="283.9" x2="157.3" y2="283.9" stroke="#4f95f5" stroke-width="1.8"/>
<path d="M153.3 275.4L157.5 282.6L149.1 282.6Z" fill="#4f95f5"/>
<line x1="209.0" y1="262.3" x2="209.0" y2="270.5" stroke="#4f95f5" stroke-width="1.8"/>
<line x1="205.0" y1="262.3" x2="213.0" y2="262.3" stroke="#4f95f5" stroke-width="1.8"/>
<line x1="205.0" y1="270.5" x2="213.0" y2="270.5" stroke="#4f95f5" stroke-width="1.8"/>
<path d="M209.0 262.1L213.2 269.3L204.8 269.3Z" fill="#4f95f5"/>
<line x1="264.0" y1="232.6" x2="264.0" y2="247.0" stroke="#4f95f5" stroke-width="1.8"/>
<line x1="260.0" y1="232.6" x2="268.0" y2="232.6" stroke="#4f95f5" stroke-width="1.8"/>
<line x1="260.0" y1="247.0" x2="268.0" y2="247.0" stroke="#4f95f5" stroke-width="1.8"/>
<path d="M264.0 235.4L268.2 242.6L259.8 242.6Z" fill="#4f95f5"/>
<line x1="319.0" y1="195.2" x2="319.0" y2="210.5" stroke="#4f95f5" stroke-width="1.8"/>
<line x1="315.0" y1="195.2" x2="323.0" y2="195.2" stroke="#4f95f5" stroke-width="1.8"/>
<line x1="315.0" y1="210.5" x2="323.0" y2="210.5" stroke="#4f95f5" stroke-width="1.8"/>
<path d="M319.0 198.5L323.2 205.7L314.8 205.7Z" fill="#4f95f5"/>
<path d="M98.0 300.3 L153.3 285.9 L209.0 272.6 L264.0 255.2 L319.0 217.2" fill="none" stroke="#f5a8e6" stroke-width="1.5"/>
<line x1="98.0" y1="298.2" x2="98.0" y2="302.3" stroke="#f5a8e6" stroke-width="1.8"/>
<line x1="94.0" y1="298.2" x2="102.0" y2="298.2" stroke="#f5a8e6" stroke-width="1.8"/>
<line x1="94.0" y1="302.3" x2="102.0" y2="302.3" stroke="#f5a8e6" stroke-width="1.8"/>
<rect x="94.2" y="296.5" width="7.6" height="7.6" fill="#f5a8e6"/>
<line x1="153.3" y1="283.9" x2="153.3" y2="288.0" stroke="#f5a8e6" stroke-width="1.8"/>
<line x1="149.3" y1="283.9" x2="157.3" y2="283.9" stroke="#f5a8e6" stroke-width="1.8"/>
<line x1="149.3" y1="288.0" x2="157.3" y2="288.0" stroke="#f5a8e6" stroke-width="1.8"/>
<rect x="149.5" y="282.1" width="7.6" height="7.6" fill="#f5a8e6"/>
<line x1="209.0" y1="270.5" x2="209.0" y2="274.6" stroke="#f5a8e6" stroke-width="1.8"/>
<line x1="205.0" y1="270.5" x2="213.0" y2="270.5" stroke="#f5a8e6" stroke-width="1.8"/>
<line x1="205.0" y1="274.6" x2="213.0" y2="274.6" stroke="#f5a8e6" stroke-width="1.8"/>
<rect x="205.2" y="268.8" width="7.6" height="7.6" fill="#f5a8e6"/>
<line x1="264.0" y1="252.1" x2="264.0" y2="258.2" stroke="#f5a8e6" stroke-width="1.8"/>
<line x1="260.0" y1="252.1" x2="268.0" y2="252.1" stroke="#f5a8e6" stroke-width="1.8"/>
<line x1="260.0" y1="258.2" x2="268.0" y2="258.2" stroke="#f5a8e6" stroke-width="1.8"/>
<rect x="260.2" y="251.4" width="7.6" height="7.6" fill="#f5a8e6"/>
<line x1="319.0" y1="214.1" x2="319.0" y2="220.3" stroke="#f5a8e6" stroke-width="1.8"/>
<line x1="315.0" y1="214.1" x2="323.0" y2="214.1" stroke="#f5a8e6" stroke-width="1.8"/>
<line x1="315.0" y1="220.3" x2="323.0" y2="220.3" stroke="#f5a8e6" stroke-width="1.8"/>
<rect x="315.2" y="213.4" width="7.6" height="7.6" fill="#f5a8e6"/>
<path d="M98.0 300.8 L153.3 279.8 L209.0 242.8 L264.0 194.6 L319.0 138.2" fill="none" stroke="#3ee6a2" stroke-width="1.5"/>
<line x1="98.0" y1="298.7" x2="98.0" y2="302.8" stroke="#3ee6a2" stroke-width="1.8"/>
<line x1="94.0" y1="298.7" x2="102.0" y2="298.7" stroke="#3ee6a2" stroke-width="1.8"/>
<line x1="94.0" y1="302.8" x2="102.0" y2="302.8" stroke="#3ee6a2" stroke-width="1.8"/>
<circle cx="98.0" cy="300.8" r="4.3" fill="#3ee6a2"/>
<line x1="153.3" y1="276.7" x2="153.3" y2="282.8" stroke="#3ee6a2" stroke-width="1.8"/>
<line x1="149.3" y1="276.7" x2="157.3" y2="276.7" stroke="#3ee6a2" stroke-width="1.8"/>
<line x1="149.3" y1="282.8" x2="157.3" y2="282.8" stroke="#3ee6a2" stroke-width="1.8"/>
<circle cx="153.3" cy="279.8" r="4.3" fill="#3ee6a2"/>
<line x1="209.0" y1="239.3" x2="209.0" y2="246.4" stroke="#3ee6a2" stroke-width="1.8"/>
<line x1="205.0" y1="239.3" x2="213.0" y2="239.3" stroke="#3ee6a2" stroke-width="1.8"/>
<line x1="205.0" y1="246.4" x2="213.0" y2="246.4" stroke="#3ee6a2" stroke-width="1.8"/>
<circle cx="209.0" cy="242.8" r="4.3" fill="#3ee6a2"/>
<line x1="264.0" y1="189.5" x2="264.0" y2="199.8" stroke="#3ee6a2" stroke-width="1.8"/>
<line x1="260.0" y1="189.5" x2="268.0" y2="189.5" stroke="#3ee6a2" stroke-width="1.8"/>
<line x1="260.0" y1="199.8" x2="268.0" y2="199.8" stroke="#3ee6a2" stroke-width="1.8"/>
<circle cx="264.0" cy="194.6" r="4.3" fill="#3ee6a2"/>
<line x1="319.0" y1="133.1" x2="319.0" y2="143.4" stroke="#3ee6a2" stroke-width="1.8"/>
<line x1="315.0" y1="133.1" x2="323.0" y2="133.1" stroke="#3ee6a2" stroke-width="1.8"/>
<line x1="315.0" y1="143.4" x2="323.0" y2="143.4" stroke="#3ee6a2" stroke-width="1.8"/>
<circle cx="319.0" cy="138.2" r="4.3" fill="#3ee6a2"/>
<line x1="71.0" y1="71.6" x2="71.0" y2="330.0" stroke="#000" stroke-width="2"/>
<line x1="70.0" y1="329.0" x2="347.0" y2="329.0" stroke="#000" stroke-width="2"/>
<line x1="65.5" y1="329.0" x2="71.0" y2="329.0" stroke="#000" stroke-width="2"/>
<text x="60.5" y="336.2" font-size="20" font-weight="bold" text-anchor="end" fill="#000">0.0</text>
<line x1="65.5" y1="277.7" x2="71.0" y2="277.7" stroke="#000" stroke-width="2"/>
<text x="60.5" y="284.9" font-size="20" font-weight="bold" text-anchor="end" fill="#000">0.5</text>
<line x1="65.5" y1="226.4" x2="71.0" y2="226.4" stroke="#000" stroke-width="2"/>
<text x="60.5" y="233.6" font-size="20" font-weight="bold" text-anchor="end" fill="#000">1.0</text>
<line x1="65.5" y1="175.2" x2="71.0" y2="175.2" stroke="#000" stroke-width="2"/>
<text x="60.5" y="182.4" font-size="20" font-weight="bold" text-anchor="end" fill="#000">1.5</text>
<line x1="65.5" y1="123.9" x2="71.0" y2="123.9" stroke="#000" stroke-width="2"/>
<text x="60.5" y="131.1" font-size="20" font-weight="bold" text-anchor="end" fill="#000">2.0</text>
<line x1="65.5" y1="72.6" x2="71.0" y2="72.6" stroke="#000" stroke-width="2"/>
<text x="60.5" y="79.8" font-size="20" font-weight="bold" text-anchor="end" fill="#000">2.5</text>
<line x1="98.0" y1="329.0" x2="98.0" y2="334.5" stroke="#000" stroke-width="2"/>
<text x="98.0" y="354.0" font-size="20" font-weight="bold" text-anchor="middle" fill="#000">1</text>
<line x1="153.3" y1="329.0" x2="153.3" y2="334.5" stroke="#000" stroke-width="2"/>
<text x="153.3" y="354.0" font-size="20" font-weight="bold" text-anchor="middle" fill="#000">2</text>
<line x1="209.0" y1="329.0" x2="209.0" y2="334.5" stroke="#000" stroke-width="2"/>
<text x="209.0" y="354.0" font-size="20" font-weight="bold" text-anchor="middle" fill="#000">3</text>
<line x1="264.0" y1="329.0" x2="264.0" y2="334.5" stroke="#000" stroke-width="2"/>
<text x="264.0" y="354.0" font-size="20" font-weight="bold" text-anchor="middle" fill="#000">4</text>
<line x1="319.0" y1="329.0" x2="319.0" y2="334.5" stroke="#000" stroke-width="2"/>
<text x="319.0" y="354.0" font-size="20" font-weight="bold" text-anchor="middle" fill="#000">5</text>
<text x="213.0" y="379.0" font-size="20" font-weight="bold" text-anchor="middle" fill="#000">Days</text>
<text x="17.0" y="206.7" font-size="19" font-weight="bold" text-anchor="middle" fill="#000" transform="rotate(-90 17 206.7)">OD value (450nm)</text>
<line x1="95.3" y1="68.4" x2="117.0" y2="68.4" stroke="#3ee6a2" stroke-width="1.5"/>
<circle cx="105.5" cy="68.4" r="4.2" fill="#3ee6a2"/>
<text x="127.7" y="73.2" font-size="20.5" font-weight="bold" text-anchor="start" fill="#000">shCtrl</text>
<line x1="95.3" y1="94.9" x2="117.0" y2="94.9" stroke="#f5a8e6" stroke-width="1.5"/>
<rect x="100.7" y="91.1" width="7.6" height="7.6" fill="#f5a8e6"/>
<text x="127.7" y="101.7" font-size="20.5" font-weight="bold" text-anchor="start" fill="#000">shKDM5B#1</text>
<line x1="95.3" y1="124.0" x2="117.0" y2="124.0" stroke="#4f95f5" stroke-width="1.5"/>
<path d="M104.5 119.6L108.7 126.8L100.3 126.8Z" fill="#4f95f5"/>
<text x="127.7" y="130.5" font-size="20.5" font-weight="bold" text-anchor="start" fill="#000">shKDM5B#2</text>
<path d="M324.6 136.5 Q327.6 136.5 327.6 139.5 L327.6 200.5 Q327.6 203.5 324.6 203.5" fill="none" stroke="#3a3a3a" stroke-width="1.4"/>
<path d="M331.9 137.4 Q334.9 137.4 334.9 140.4 L334.9 212.8 Q334.9 215.8 331.9 215.8" fill="none" stroke="#3a3a3a" stroke-width="1.4"/>
<text x="319.8" y="181.0" font-size="14" font-weight="normal" text-anchor="middle" fill="#222">**</text>
<text x="343.3" y="187.0" font-size="14" font-weight="normal" text-anchor="middle" fill="#222">**</text>
<text x="769.7" y="39.2" font-size="20.5" font-weight="bold" text-anchor="middle" fill="#000">CFPAC-1</text>
<path d="M650.0 313.8 L706.0 287.1 L762.0 271.2 L818.0 251.5 L874.0 197.6" fill="none" stroke="#4f95f5" stroke-width="1.5"/>
<line x1="650.0" y1="308.6" x2="650.0" y2="319.0" stroke="#4f95f5" stroke-width="1.8"/>
<line x1="646.0" y1="308.6" x2="654.0" y2="308.6" stroke="#4f95f5" stroke-width="1.8"/>
<line x1="646.0" y1="319.0" x2="654.0" y2="319.0" stroke="#4f95f5" stroke-width="1.8"/>
<path d="M650.0 309.2L654.4 316.8L645.6 316.8Z" fill="#4f95f5"/>
<line x1="706.0" y1="283.6" x2="706.0" y2="290.6" stroke="#4f95f5" stroke-width="1.8"/>
<line x1="702.0" y1="283.6" x2="710.0" y2="283.6" stroke="#4f95f5" stroke-width="1.8"/>
<line x1="702.0" y1="290.6" x2="710.0" y2="290.6" stroke="#4f95f5" stroke-width="1.8"/>
<path d="M706.0 282.5L710.4 290.1L701.6 290.1Z" fill="#4f95f5"/>
<line x1="762.0" y1="267.7" x2="762.0" y2="274.6" stroke="#4f95f5" stroke-width="1.8"/>
<line x1="758.0" y1="267.7" x2="766.0" y2="267.7" stroke="#4f95f5" stroke-width="1.8"/>
<line x1="758.0" y1="274.6" x2="766.0" y2="274.6" stroke="#4f95f5" stroke-width="1.8"/>
<path d="M762.0 266.6L766.4 274.2L757.6 274.2Z" fill="#4f95f5"/>
<line x1="818.0" y1="245.5" x2="818.0" y2="257.6" stroke="#4f95f5" stroke-width="1.8"/>
<line x1="814.0" y1="245.5" x2="822.0" y2="245.5" stroke="#4f95f5" stroke-width="1.8"/>
<line x1="814.0" y1="257.6" x2="822.0" y2="257.6" stroke="#4f95f5" stroke-width="1.8"/>
<path d="M818.0 246.9L822.4 254.5L813.6 254.5Z" fill="#4f95f5"/>
<line x1="874.0" y1="187.2" x2="874.0" y2="208.0" stroke="#4f95f5" stroke-width="1.8"/>
<line x1="870.0" y1="187.2" x2="878.0" y2="187.2" stroke="#4f95f5" stroke-width="1.8"/>
<line x1="870.0" y1="208.0" x2="878.0" y2="208.0" stroke="#4f95f5" stroke-width="1.8"/>
<path d="M874.0 193.0L878.4 200.6L869.6 200.6Z" fill="#4f95f5"/>
<path d="M650.0 305.4 L706.0 289.1 L762.0 277.3 L818.0 257.1 L874.0 212.9" fill="none" stroke="#d48cf2" stroke-width="1.5"/>
<line x1="650.0" y1="301.9" x2="650.0" y2="308.8" stroke="#d48cf2" stroke-width="1.8"/>
<line x1="646.0" y1="301.9" x2="654.0" y2="301.9" stroke="#d48cf2" stroke-width="1.8"/>
<line x1="646.0" y1="308.8" x2="654.0" y2="308.8" stroke="#d48cf2" stroke-width="1.8"/>
<rect x="646.0" y="301.4" width="8.0" height="8.0" fill="#d48cf2"/>
<line x1="706.0" y1="286.5" x2="706.0" y2="291.7" stroke="#d48cf2" stroke-width="1.8"/>
<line x1="702.0" y1="286.5" x2="710.0" y2="286.5" stroke="#d48cf2" stroke-width="1.8"/>
<line x1="702.0" y1="291.7" x2="710.0" y2="291.7" stroke="#d48cf2" stroke-width="1.8"/>
<rect x="702.0" y="285.1" width="8.0" height="8.0" fill="#d48cf2"/>
<line x1="762.0" y1="274.7" x2="762.0" y2="279.9" stroke="#d48cf2" stroke-width="1.8"/>
<line x1="758.0" y1="274.7" x2="766.0" y2="274.7" stroke="#d48cf2" stroke-width="1.8"/>
<line x1="758.0" y1="279.9" x2="766.0" y2="279.9" stroke="#d48cf2" stroke-width="1.8"/>
<rect x="758.0" y="273.3" width="8.0" height="8.0" fill="#d48cf2"/>
<line x1="818.0" y1="253.7" x2="818.0" y2="260.6" stroke="#d48cf2" stroke-width="1.8"/>
<line x1="814.0" y1="253.7" x2="822.0" y2="253.7" stroke="#d48cf2" stroke-width="1.8"/>
<line x1="814.0" y1="260.6" x2="822.0" y2="260.6" stroke="#d48cf2" stroke-width="1.8"/>
<rect x="814.0" y="253.1" width="8.0" height="8.0" fill="#d48cf2"/>
<line x1="874.0" y1="209.4" x2="874.0" y2="216.4" stroke="#d48cf2" stroke-width="1.8"/>
<line x1="870.0" y1="209.4" x2="878.0" y2="209.4" stroke="#d48cf2" stroke-width="1.8"/>
<line x1="870.0" y1="216.4" x2="878.0" y2="216.4" stroke="#d48cf2" stroke-width="1.8"/>
<rect x="870.0" y="208.9" width="8.0" height="8.0" fill="#d48cf2"/>
<path d="M650.0 305.4 L706.0 279.3 L762.0 236.7 L818.0 186.9 L874.0 93.3" fill="none" stroke="#3ee6a2" stroke-width="1.5"/>
<line x1="650.0" y1="302.8" x2="650.0" y2="308.0" stroke="#3ee6a2" stroke-width="1.8"/>
<line x1="646.0" y1="302.8" x2="654.0" y2="302.8" stroke="#3ee6a2" stroke-width="1.8"/>
<line x1="646.0" y1="308.0" x2="654.0" y2="308.0" stroke="#3ee6a2" stroke-width="1.8"/>
<circle cx="650.0" cy="305.4" r="4.5" fill="#3ee6a2"/>
<line x1="706.0" y1="275.8" x2="706.0" y2="282.8" stroke="#3ee6a2" stroke-width="1.8"/>
<line x1="702.0" y1="275.8" x2="710.0" y2="275.8" stroke="#3ee6a2" stroke-width="1.8"/>
<line x1="702.0" y1="282.8" x2="710.0" y2="282.8" stroke="#3ee6a2" stroke-width="1.8"/>
<circle cx="706.0" cy="279.3" r="4.5" fill="#3ee6a2"/>
<line x1="762.0" y1="230.0" x2="762.0" y2="243.5" stroke="#3ee6a2" stroke-width="1.8"/>
<line x1="758.0" y1="230.0" x2="766.0" y2="230.0" stroke="#3ee6a2" stroke-width="1.8"/>
<line x1="758.0" y1="243.5" x2="766.0" y2="243.5" stroke="#3ee6a2" stroke-width="1.8"/>
<circle cx="762.0" cy="236.7" r="4.5" fill="#3ee6a2"/>
<line x1="818.0" y1="182.5" x2="818.0" y2="191.2" stroke="#3ee6a2" stroke-width="1.8"/>
<line x1="814.0" y1="182.5" x2="822.0" y2="182.5" stroke="#3ee6a2" stroke-width="1.8"/>
<line x1="814.0" y1="191.2" x2="822.0" y2="191.2" stroke="#3ee6a2" stroke-width="1.8"/>
<circle cx="818.0" cy="186.9" r="4.5" fill="#3ee6a2"/>
<line x1="874.0" y1="85.5" x2="874.0" y2="101.1" stroke="#3ee6a2" stroke-width="1.8"/>
<line x1="870.0" y1="85.5" x2="878.0" y2="85.5" stroke="#3ee6a2" stroke-width="1.8"/>
<line x1="870.0" y1="101.1" x2="878.0" y2="101.1" stroke="#3ee6a2" stroke-width="1.8"/>
<circle cx="874.0" cy="93.3" r="4.5" fill="#3ee6a2"/>
<line x1="621.2" y1="67.6" x2="621.2" y2="329.3" stroke="#000" stroke-width="2"/>
<line x1="620.2" y1="328.3" x2="901.0" y2="328.3" stroke="#000" stroke-width="2"/>
<line x1="615.7" y1="328.3" x2="621.2" y2="328.3" stroke="#000" stroke-width="2"/>
<text x="614.2" y="334.0" font-size="15.7" font-weight="bold" text-anchor="end" fill="#000">0</text>
<line x1="615.7" y1="241.7" x2="621.2" y2="241.7" stroke="#000" stroke-width="2"/>
<text x="614.2" y="247.4" font-size="15.7" font-weight="bold" text-anchor="end" fill="#000">1</text>
<line x1="615.7" y1="155.2" x2="621.2" y2="155.2" stroke="#000" stroke-width="2"/>
<text x="614.2" y="160.8" font-size="15.7" font-weight="bold" text-anchor="end" fill="#000">2</text>
<line x1="615.7" y1="68.6" x2="621.2" y2="68.6" stroke="#000" stroke-width="2"/>
<text x="614.2" y="74.3" font-size="15.7" font-weight="bold" text-anchor="end" fill="#000">3</text>
<line x1="650.0" y1="328.3" x2="650.0" y2="333.8" stroke="#000" stroke-width="2"/>
<text x="650.0" y="353.5" font-size="20" font-weight="bold" text-anchor="middle" fill="#000">1</text>
<line x1="706.0" y1="328.3" x2="706.0" y2="333.8" stroke="#000" stroke-width="2"/>
<text x="706.0" y="353.5" font-size="20" font-weight="bold" text-anchor="middle" fill="#000">2</text>
<line x1="762.0" y1="328.3" x2="762.0" y2="333.8" stroke="#000" stroke-width="2"/>
<text x="762.0" y="353.5" font-size="20" font-weight="bold" text-anchor="middle" fill="#000">3</text>
<line x1="818.0" y1="328.3" x2="818.0" y2="333.8" stroke="#000" stroke-width="2"/>
<text x="818.0" y="353.5" font-size="20" font-weight="bold" text-anchor="middle" fill="#000">4</text>
<line x1="874.0" y1="328.3" x2="874.0" y2="333.8" stroke="#000" stroke-width="2"/>
<text x="874.0" y="353.5" font-size="20" font-weight="bold" text-anchor="middle" fill="#000">5</text>
<text x="768.0" y="378.0" font-size="20" font-weight="bold" text-anchor="middle" fill="#000">Days</text>
<text x="588.5" y="212.9" font-size="18.9" font-weight="bold" text-anchor="middle" fill="#000" transform="rotate(-90 588.5 212.9)">OD value (450nm)</text>
<line x1="646.0" y1="69.5" x2="667.5" y2="69.5" stroke="#3ee6a2" stroke-width="1.5"/>
<circle cx="657.0" cy="69.5" r="4.3" fill="#3ee6a2"/>
<text x="674.0" y="76.2" font-size="20.4" font-weight="bold" text-anchor="start" fill="#000">shCtrl</text>
<line x1="646.0" y1="98.9" x2="667.5" y2="98.9" stroke="#d48cf2" stroke-width="1.5"/>
<rect x="653.2" y="95.1" width="7.6" height="7.6" fill="#d48cf2"/>
<text x="674.0" y="105.0" font-size="20.4" font-weight="bold" text-anchor="start" fill="#000">shKDM5B#1</text>
<line x1="646.0" y1="125.2" x2="667.5" y2="125.2" stroke="#4f95f5" stroke-width="1.5"/>
<path d="M657.0 120.8L661.2 128.1L652.8 128.1Z" fill="#4f95f5"/>
<text x="674.0" y="133.0" font-size="20.4" font-weight="bold" text-anchor="start" fill="#000">shKDM5B#2</text>
<path d="M881.0 91.6 Q884.0 91.6 884.0 94.6 L884.0 196.4 Q884.0 199.4 881.0 199.4" fill="none" stroke="#3a3a3a" stroke-width="1.4"/>
<path d="M887.0 91.6 Q890.0 91.6 890.0 94.6 L890.0 205.7 Q890.0 208.7 887.0 208.7" fill="none" stroke="#3a3a3a" stroke-width="1.4"/>
<text x="877.5" y="158.0" font-size="14" font-weight="normal" text-anchor="middle" fill="#222">**</text>
<text x="899.4" y="161.0" font-size="14" font-weight="normal" text-anchor="middle" fill="#222">**</text>
<text x="1093.0" y="23.7" font-size="30" font-weight="bold" text-anchor="start" fill="#000">B</text>
<text x="1259.4" y="38.7" font-size="20.5" font-weight="bold" text-anchor="middle" fill="#000">Capan-1</text>
<path d="M1155.0 304.2 L1215.0 275.4 L1275.0 244.5 L1335.0 185.6 L1395.0 100.5" fill="none" stroke="#8ef2cc" stroke-width="1.3"/>
<line x1="1155.0" y1="301.5" x2="1155.0" y2="306.8" stroke="#8ef2cc" stroke-width="1.4"/>
<line x1="1151.7" y1="301.5" x2="1158.3" y2="301.5" stroke="#8ef2cc" stroke-width="1.4"/>
<line x1="1151.7" y1="306.8" x2="1158.3" y2="306.8" stroke="#8ef2cc" stroke-width="1.4"/>
<rect x="1152.2" y="301.4" width="5.6" height="5.6" fill="#8ef2cc"/>
<line x1="1215.0" y1="271.0" x2="1215.0" y2="279.9" stroke="#8ef2cc" stroke-width="1.4"/>
<line x1="1211.7" y1="271.0" x2="1218.3" y2="271.0" stroke="#8ef2cc" stroke-width="1.4"/>
<line x1="1211.7" y1="279.9" x2="1218.3" y2="279.9" stroke="#8ef2cc" stroke-width="1.4"/>
<rect x="1212.2" y="272.6" width="5.6" height="5.6" fill="#8ef2cc"/>
<line x1="1275.0" y1="239.2" x2="1275.0" y2="249.8" stroke="#8ef2cc" stroke-width="1.4"/>
<line x1="1271.7" y1="239.2" x2="1278.3" y2="239.2" stroke="#8ef2cc" stroke-width="1.4"/>
<line x1="1271.7" y1="249.8" x2="1278.3" y2="249.8" stroke="#8ef2cc" stroke-width="1.4"/>
<rect x="1272.2" y="241.7" width="5.6" height="5.6" fill="#8ef2cc"/>
<line x1="1335.0" y1="176.8" x2="1335.0" y2="194.5" stroke="#8ef2cc" stroke-width="1.4"/>
<line x1="1331.7" y1="176.8" x2="1338.3" y2="176.8" stroke="#8ef2cc" stroke-width="1.4"/>
<line x1="1331.7" y1="194.5" x2="1338.3" y2="194.5" stroke="#8ef2cc" stroke-width="1.4"/>
<rect x="1332.2" y="182.8" width="5.6" height="5.6" fill="#8ef2cc"/>
<line x1="1395.0" y1="93.5" x2="1395.0" y2="107.6" stroke="#8ef2cc" stroke-width="1.4"/>
<line x1="1391.7" y1="93.5" x2="1398.3" y2="93.5" stroke="#8ef2cc" stroke-width="1.4"/>
<line x1="1391.7" y1="107.6" x2="1398.3" y2="107.6" stroke="#8ef2cc" stroke-width="1.4"/>
<rect x="1392.2" y="97.7" width="5.6" height="5.6" fill="#8ef2cc"/>
<path d="M1155.0 304.9 L1215.0 290.5 L1275.0 275.3 L1335.0 260.4 L1395.0 218.8" fill="none" stroke="#72a8f4" stroke-width="1.3"/>
<line x1="1155.0" y1="303.1" x2="1155.0" y2="306.7" stroke="#72a8f4" stroke-width="1.4"/>
<line x1="1151.7" y1="303.1" x2="1158.3" y2="303.1" stroke="#72a8f4" stroke-width="1.4"/>
<line x1="1151.7" y1="306.7" x2="1158.3" y2="306.7" stroke="#72a8f4" stroke-width="1.4"/>
<circle cx="1155.0" cy="304.9" r="3.2" fill="#72a8f4"/>
<line x1="1215.0" y1="285.2" x2="1215.0" y2="295.8" stroke="#72a8f4" stroke-width="1.4"/>
<line x1="1211.7" y1="285.2" x2="1218.3" y2="285.2" stroke="#72a8f4" stroke-width="1.4"/>
<line x1="1211.7" y1="295.8" x2="1218.3" y2="295.8" stroke="#72a8f4" stroke-width="1.4"/>
<circle cx="1215.0" cy="290.5" r="3.2" fill="#72a8f4"/>
<line x1="1275.0" y1="270.0" x2="1275.0" y2="280.6" stroke="#72a8f4" stroke-width="1.4"/>
<line x1="1271.7" y1="270.0" x2="1278.3" y2="270.0" stroke="#72a8f4" stroke-width="1.4"/>
<line x1="1271.7" y1="280.6" x2="1278.3" y2="280.6" stroke="#72a8f4" stroke-width="1.4"/>
<circle cx="1275.0" cy="275.3" r="3.2" fill="#72a8f4"/>
<line x1="1335.0" y1="254.2" x2="1335.0" y2="266.6" stroke="#72a8f4" stroke-width="1.4"/>
<line x1="1331.7" y1="254.2" x2="1338.3" y2="254.2" stroke="#72a8f4" stroke-width="1.4"/>
<line x1="1331.7" y1="266.6" x2="1338.3" y2="266.6" stroke="#72a8f4" stroke-width="1.4"/>
<circle cx="1335.0" cy="260.4" r="3.2" fill="#72a8f4"/>
<line x1="1395.0" y1="209.1" x2="1395.0" y2="228.5" stroke="#72a8f4" stroke-width="1.4"/>
<line x1="1391.7" y1="209.1" x2="1398.3" y2="209.1" stroke="#72a8f4" stroke-width="1.4"/>
<line x1="1391.7" y1="228.5" x2="1398.3" y2="228.5" stroke="#72a8f4" stroke-width="1.4"/>
<circle cx="1395.0" cy="218.8" r="3.2" fill="#72a8f4"/>
<line x1="1125.7" y1="63.0" x2="1125.7" y2="330.4" stroke="#000" stroke-width="2"/>
<line x1="1124.7" y1="329.4" x2="1409.0" y2="329.4" stroke="#000" stroke-width="2"/>
<line x1="1119.7" y1="329.4" x2="1125.7" y2="329.4" stroke="#000" stroke-width="2"/>
<text x="1116.7" y="334.6" font-size="14.5" font-weight="bold" text-anchor="end" fill="#000">0</text>
<line x1="1119.7" y1="240.9" x2="1125.7" y2="240.9" stroke="#000" stroke-width="2"/>
<text x="1116.7" y="246.2" font-size="14.5" font-weight="bold" text-anchor="end" fill="#000">1</text>
<line x1="1119.7" y1="152.5" x2="1125.7" y2="152.5" stroke="#000" stroke-width="2"/>
<text x="1116.7" y="157.7" font-size="14.5" font-weight="bold" text-anchor="end" fill="#000">2</text>
<line x1="1119.7" y1="64.0" x2="1125.7" y2="64.0" stroke="#000" stroke-width="2"/>
<text x="1116.7" y="69.2" font-size="14.5" font-weight="bold" text-anchor="end" fill="#000">3</text>
<line x1="1155.0" y1="329.4" x2="1155.0" y2="335.4" stroke="#000" stroke-width="2"/>
<text x="1155.0" y="357.5" font-size="19.5" font-weight="bold" text-anchor="middle" fill="#000">1</text>
<line x1="1215.0" y1="329.4" x2="1215.0" y2="335.4" stroke="#000" stroke-width="2"/>
<text x="1215.0" y="357.5" font-size="19.5" font-weight="bold" text-anchor="middle" fill="#000">2</text>
<line x1="1275.0" y1="329.4" x2="1275.0" y2="335.4" stroke="#000" stroke-width="2"/>
<text x="1275.0" y="357.5" font-size="19.5" font-weight="bold" text-anchor="middle" fill="#000">3</text>
<line x1="1335.0" y1="329.4" x2="1335.0" y2="335.4" stroke="#000" stroke-width="2"/>
<text x="1335.0" y="357.5" font-size="19.5" font-weight="bold" text-anchor="middle" fill="#000">4</text>
<line x1="1395.0" y1="329.4" x2="1395.0" y2="335.4" stroke="#000" stroke-width="2"/>
<text x="1395.0" y="357.5" font-size="19.5" font-weight="bold" text-anchor="middle" fill="#000">5</text>
<text x="1281.0" y="385.3" font-size="20" font-weight="bold" text-anchor="middle" fill="#000">Days</text>
<text x="1089.0" y="214.6" font-size="18.8" font-weight="bold" text-anchor="middle" fill="#000" transform="rotate(-90 1089 214.6)">OD value (450nm)</text>
<line x1="1151.0" y1="75.5" x2="1168.0" y2="75.5" stroke="#72a8f4" stroke-width="1.5"/>
<circle cx="1159.5" cy="75.5" r="3.0" fill="#72a8f4"/>
<text x="1177.3" y="80.4" font-size="20.3" font-weight="bold" text-anchor="start" fill="#000">Vec</text>
<line x1="1151.0" y1="103.9" x2="1168.0" y2="103.9" stroke="#8ef2cc" stroke-width="1.5"/>
<rect x="1156.7" y="101.1" width="5.6" height="5.6" fill="#8ef2cc"/>
<text x="1177.3" y="110.8" font-size="20.3" font-weight="bold" text-anchor="start" fill="#000">KDM5B</text>
<path d="M1400.5 99.4 Q1403.5 99.4 1403.5 102.4 L1403.5 215.0 Q1403.5 218.0 1400.5 218.0" fill="none" stroke="#3a3a3a" stroke-width="1.4"/>
<text x="49.5" y="425.0" font-size="30" font-weight="bold" text-anchor="start" fill="#000">C</text>
<rect x="63.0" y="443.1" width="154.0" height="114.3" fill="url(#g1)" />
<circle cx="115.5" cy="466.3" r="1.6" fill="#fff" opacity="0.7"/><circle cx="115.5" cy="466.3" r="1.0" fill="#3d3b38"/>
<circle cx="175.4" cy="457.9" r="1.6" fill="#fff" opacity="0.7"/><circle cx="175.4" cy="457.9" r="1.0" fill="#3d3b38"/>
<circle cx="80.2" cy="470.8" r="1.6" fill="#fff" opacity="0.7"/><circle cx="80.2" cy="470.8" r="1.0" fill="#3d3b38"/>
<circle cx="193.9" cy="471.4" r="1.6" fill="#fff" opacity="0.7"/><circle cx="193.9" cy="471.4" r="1.0" fill="#3d3b38"/>
<circle cx="180.4" cy="493.8" r="1.6" fill="#fff" opacity="0.7"/><circle cx="180.4" cy="493.8" r="1.0" fill="#3d3b38"/>
<circle cx="121.4" cy="508.1" r="1.6" fill="#fff" opacity="0.7"/><circle cx="121.4" cy="508.1" r="1.0" fill="#3d3b38"/>
<circle cx="130" cy="527.4" r="1.6" fill="#fff" opacity="0.7"/><circle cx="130" cy="527.4" r="1.0" fill="#3d3b38"/>
<circle cx="159.2" cy="460.7" r="1.6" fill="#fff" opacity="0.7"/><circle cx="159.2" cy="460.7" r="1.0" fill="#3d3b38"/>
<ellipse cx="148.0" cy="456.0" rx="6.6" ry="6.6" fill="#fafcf6" filter="url(#bl05)"/>
<ellipse cx="148.0" cy="456.0" rx="5.5" ry="5.5" fill="url(#sph)" stroke="#58566a" stroke-width="0.5"/>
<ellipse cx="148.0" cy="456.0" rx="5.5" ry="5.5" fill="#000" filter="url(#sphtex)"/>
<ellipse cx="156.0" cy="455.5" rx="6.1" ry="6.6" fill="#fafcf6" filter="url(#bl05)"/>
<ellipse cx="156.0" cy="455.5" rx="5.0" ry="5.5" fill="url(#sph)" stroke="#58566a" stroke-width="0.5"/>
<ellipse cx="156.0" cy="455.5" rx="5.0" ry="5.5" fill="#000" filter="url(#sphtex)"/>
<ellipse cx="130.6" cy="492.7" rx="7.3" ry="7.3" fill="#fafcf6" filter="url(#bl05)"/>
<ellipse cx="130.6" cy="492.7" rx="6.2" ry="6.2" fill="url(#sph)" stroke="#58566a" stroke-width="0.5"/>
<ellipse cx="130.6" cy="492.7" rx="6.2" ry="6.2" fill="#000" filter="url(#sphtex)"/>
<ellipse cx="165.9" cy="488.2" rx="5.6" ry="5.7" fill="#fafcf6" filter="url(#bl05)"/>
<ellipse cx="165.9" cy="488.2" rx="4.5" ry="4.6" fill="url(#sph)" stroke="#58566a" stroke-width="0.5"/>
<ellipse cx="165.9" cy="488.2" rx="4.5" ry="4.6" fill="#000" filter="url(#sphtex)"/>
<ellipse cx="148.0" cy="505.0" rx="8.6" ry="8.1" fill="#fafcf6" filter="url(#bl05)"/>
<ellipse cx="148.0" cy="505.0" rx="7.5" ry="7.0" fill="url(#sph)" stroke="#58566a" stroke-width="0.5"/>
<ellipse cx="148.0" cy="505.0" rx="7.5" ry="7.0" fill="#000" filter="url(#sphtex)"/>
<ellipse cx="156.0" cy="507.5" rx="8.1" ry="7.6" fill="#fafcf6" filter="url(#bl05)"/>
<ellipse cx="156.0" cy="507.5" rx="7.0" ry="6.5" fill="url(#sph)" stroke="#58566a" stroke-width="0.5"/>
<ellipse cx="156.0" cy="507.5" rx="7.0" ry="6.5" fill="#000" filter="url(#sphtex)"/>
<ellipse cx="140.7" cy="520.7" rx="10.1" ry="10.9" fill="#fafcf6" filter="url(#bl05)"/>
<ellipse cx="140.7" cy="520.7" rx="9.0" ry="9.8" fill="url(#sph)" stroke="#58566a" stroke-width="0.5"/>
<ellipse cx="140.7" cy="520.7" rx="9.0" ry="9.8" fill="#000" filter="url(#sphtex)"/>
<ellipse cx="168.1" cy="521.8" rx="10.6" ry="8.9" fill="#fafcf6" filter="url(#bl05)"/>
<ellipse cx="168.1" cy="521.8" rx="9.5" ry="7.8" fill="url(#sph)" stroke="#58566a" stroke-width="0.5"/>
<ellipse cx="168.1" cy="521.8" rx="9.5" ry="7.8" fill="#000" filter="url(#sphtex)"/>
<ellipse cx="117.7" cy="526.3" rx="8.1" ry="8.4" fill="#fafcf6" filter="url(#bl05)"/>
<ellipse cx="117.7" cy="526.3" rx="7.0" ry="7.3" fill="url(#sph)" stroke="#58566a" stroke-width="0.5"/>
<ellipse cx="117.7" cy="526.3" rx="7.0" ry="7.3" fill="#000" filter="url(#sphtex)"/>
<ellipse cx="98.1" cy="533.6" rx="9.5" ry="7.6" fill="#fafcf6" filter="url(#bl05)"/>
<ellipse cx="98.1" cy="533.6" rx="8.4" ry="6.5" fill="url(#sph)" stroke="#58566a" stroke-width="0.5"/>
<ellipse cx="98.1" cy="533.6" rx="8.4" ry="6.5" fill="#000" filter="url(#sphtex)"/>
<ellipse cx="122.2" cy="540.8" rx="7.3" ry="7.8" fill="#fafcf6" filter="url(#bl05)"/>
<ellipse cx="122.2" cy="540.8" rx="6.2" ry="6.7" fill="url(#sph)" stroke="#58566a" stroke-width="0.5"/>
<ellipse cx="122.2" cy="540.8" rx="6.2" ry="6.7" fill="#000" filter="url(#sphtex)"/>
<ellipse cx="160.3" cy="538.6" rx="9.3" ry="10.5" fill="#fafcf6" filter="url(#bl05)"/>
<ellipse cx="160.3" cy="538.6" rx="8.2" ry="9.4" fill="url(#sph)" stroke="#58566a" stroke-width="0.5"/>
<ellipse cx="160.3" cy="538.6" rx="8.2" ry="9.4" fill="#000" filter="url(#sphtex)"/>
<ellipse cx="141" cy="519" rx="4" ry="6" fill="#45403a" filter="url(#bl1)"/>
<ellipse cx="84.6" cy="514.5" rx="4.5" ry="5.3" fill="#fafcf6" filter="url(#bl05)"/>
<ellipse cx="84.6" cy="514.5" rx="3.4" ry="4.2" fill="#5a4f40" stroke="#58566a" stroke-width="0.5"/>
<ellipse cx="84.6" cy="514.5" rx="3.4" ry="4.2" fill="#000" filter="url(#sphtex)"/>
<rect x="227.5" y="443.1" width="154.4" height="114.3" fill="url(#g2)" />
<g fill="#b4aa84" stroke="#eeeedd" stroke-width="0.4" opacity="0.9"><circle cx="297.3" cy="506.8" r="0.9"/><circle cx="369.0" cy="496.3" r="1.0"/><circle cx="305.7" cy="509.9" r="1.1"/><circle cx="256.6" cy="501.4" r="1.2"/><circle cx="324.2" cy="532.9" r="0.9"/><circle cx="242.8" cy="478.1" r="1.1"/><circle cx="242.3" cy="534.8" r="1.2"/><circle cx="333.9" cy="448.8" r="1.0"/><circle cx="377.8" cy="552.2" r="1.0"/><circle cx="327.9" cy="513.0" r="0.9"/><circle cx="252.4" cy="445.8" r="1.0"/><circle cx="308.8" cy="450.8" r="1.0"/><circle cx="257.4" cy="471.2" r="1.0"/><circle cx="233.1" cy="496.1" r="0.8"/><circle cx="295.5" cy="538.5" r="1.2"/><circle cx="307.4" cy="515.8" r="1.0"/><circle cx="304.5" cy="518.3" r="1.0"/><circle cx="298.0" cy="475.3" r="1.1"/><circle cx="380.1" cy="555.6" r="1.0"/><circle cx="356.2" cy="523.4" r="1.0"/><circle cx="276.4" cy="469.8" r="1.1"/><circle cx="272.4" cy="452.0" r="0.8"/><circle cx="345.0" cy="488.9" r="1.0"/><circle cx="357.2" cy="487.4" r="1.0"/><circle cx="374.1" cy="539.0" r="1.2"/><circle cx="228.6" cy="467.6" r="1.2"/><circle cx="366.9" cy="496.7" r="0.9"/><circle cx="377.5" cy="488.6" r="1.0"/><circle cx="239.6" cy="514.6" r="0.9"/><circle cx="346.8" cy="474.3" r="1.0"/><circle cx="241.7" cy="481.3" r="1.1"/><circle cx="375.0" cy="529.0" r="1.2"/><circle cx="246.4" cy="471.7" r="1.0"/><circle cx="243.9" cy="450.8" r="0.9"/><circle cx="349.6" cy="464.0" r="0.9"/><circle cx="313.5" cy="494.2" r="1.0"/><circle cx="257.5" cy="526.1" r="1.2"/><circle cx="248.4" cy="516.2" r="0.9"/><circle cx="246.2" cy="491.2" r="1.1"/><circle cx="260.9" cy="474.3" r="0.8"/><circle cx="376.1" cy="534.1" r="0.9"/><circle cx="274.7" cy="543.2" r="0.9"/><circle cx="260.5" cy="488.3" r="1.1"/><circle cx="358.4" cy="516.0" r="0.9"/><circle cx="243.8" cy="554.9" r="0.9"/><circle cx="260.9" cy="473.0" r="1.0"/><circle cx="345.9" cy="480.9" r="0.8"/><circle cx="273.5" cy="452.3" r="1.1"/><circle cx="242.2" cy="509.4" r="0.8"/><circle cx="265.4" cy="511.4" r="1.0"/><circle cx="285.0" cy="494.9" r="0.9"/><circle cx="374.3" cy="498.3" r="0.9"/><circle cx="315.8" cy="541.2" r="1.0"/><circle cx="256.3" cy="461.4" r="1.0"/><circle cx="366.6" cy="535.7" r="1.0"/><circle cx="266.4" cy="465.4" r="1.0"/><circle cx="340.9" cy="549.4" r="1.0"/><circle cx="258.4" cy="550.5" r="0.9"/><circle cx="362.6" cy="511.7" r="0.9"/><circle cx="292.6" cy="455.7" r="1.1"/><circle cx="234.4" cy="551.9" r="1.1"/><circle cx="264.7" cy="523.0" r="1.0"/><circle cx="267.6" cy="536.4" r="1.1"/><circle cx="319.2" cy="477.0" r="1.0"/><circle cx="255.2" cy="524.8" r="1.1"/><circle cx="239.0" cy="469.7" r="0.9"/><circle cx="313.5" cy="539.6" r="1.1"/><circle cx="321.9" cy="475.5" r="1.1"/><circle cx="367.9" cy="466.9" r="1.2"/><circle cx="231.0" cy="474.2" r="0.9"/><circle cx="296.2" cy="450.9" r="0.9"/><circle cx="255.3" cy="485.4" r="1.2"/><circle cx="315.5" cy="458.8" r="0.9"/><circle cx="283.5" cy="543.9" r="1.2"/><circle cx="377.5" cy="517.7" r="1.2"/><circle cx="333.6" cy="509.6" r="0.9"/><circle cx="249.8" cy="448.0" r="0.9"/><circle cx="231.2" cy="546.0" r="1.1"/><circle cx="335.0" cy="551.9" r="0.9"/><circle cx="231.7" cy="515.4" r="0.8"/><circle cx="301.8" cy="525.9" r="1.1"/><circle cx="277.0" cy="556.0" r="1.0"/><circle cx="239.9" cy="505.3" r="1.1"/><circle cx="340.5" cy="544.9" r="0.9"/><circle cx="340.5" cy="522.9" r="1.0"/><circle cx="349.1" cy="546.6" r="1.1"/><circle cx="282.0" cy="520.8" r="0.8"/><circle cx="365.4" cy="541.7" r="0.9"/><circle cx="291.9" cy="532.6" r="1.1"/><circle cx="359.7" cy="508.3" r="1.2"/><circle cx="323.5" cy="486.9" r="1.2"/><circle cx="317.1" cy="512.3" r="0.8"/><circle cx="240.7" cy="515.7" r="1.0"/><circle cx="379.5" cy="542.6" r="1.1"/><circle cx="339.2" cy="487.6" r="1.0"/><circle cx="340.2" cy="509.2" r="1.1"/><circle cx="295.5" cy="538.0" r="0.9"/><circle cx="241.2" cy="528.1" r="0.8"/><circle cx="233.0" cy="511.4" r="0.8"/><circle cx="301.6" cy="469.9" r="0.8"/><circle cx="334.6" cy="499.8" r="1.0"/><circle cx="321.9" cy="547.2" r="1.0"/><circle cx="267.4" cy="445.4" r="1.0"/><circle cx="274.3" cy="520.1" r="0.9"/><circle cx="259.3" cy="463.1" r="0.9"/><circle cx="366.2" cy="518.0" r="0.9"/><circle cx="295.7" cy="544.0" r="1.1"/><circle cx="278.2" cy="518.7" r="1.2"/><circle cx="258.7" cy="492.4" r="1.2"/><circle cx="351.0" cy="546.5" r="0.8"/><circle cx="362.3" cy="487.2" r="0.8"/><circle cx="317.1" cy="479.5" r="1.2"/><circle cx="249.2" cy="499.7" r="1.0"/><circle cx="355.7" cy="539.2" r="1.1"/><circle cx="336.6" cy="550.5" r="0.9"/><circle cx="270.6" cy="463.0" r="1.0"/><circle cx="297.0" cy="474.9" r="1.0"/><circle cx="261.0" cy="490.5" r="1.0"/><circle cx="323.6" cy="499.4" r="1.0"/><circle cx="276.4" cy="538.1" r="0.8"/><circle cx="377.8" cy="494.8" r="1.1"/><circle cx="239.9" cy="447.6" r="1.1"/><circle cx="361.2" cy="448.7" r="0.9"/><circle cx="336.2" cy="508.0" r="1.0"/><circle cx="275.5" cy="532.7" r="1.1"/><circle cx="231.4" cy="459.3" r="1.0"/><circle cx="297.6" cy="446.9" r="0.9"/><circle cx="354.6" cy="470.7" r="0.9"/><circle cx="249.9" cy="449.4" r="1.0"/><circle cx="324.1" cy="494.1" r="0.8"/><circle cx="324.3" cy="517.5" r="1.2"/><circle cx="351.2" cy="551.4" r="1.1"/><circle cx="332.5" cy="466.4" r="1.1"/><circle cx="300.7" cy="464.1" r="1.1"/><circle cx="230.1" cy="497.0" r="1.1"/><circle cx="337.1" cy="464.2" r="1.0"/><circle cx="269.9" cy="482.8" r="1.0"/><circle cx="334.5" cy="502.4" r="1.0"/><circle cx="321.9" cy="528.8" r="1.2"/><circle cx="288.3" cy="532.8" r="1.1"/><circle cx="366.2" cy="453.9" r="0.9"/><circle cx="370.3" cy="525.0" r="1.2"/><circle cx="248.2" cy="494.9" r="1.1"/><circle cx="323.6" cy="546.0" r="1.1"/><circle cx="285.8" cy="507.8" r="1.1"/><circle cx="362.2" cy="533.3" r="1.0"/><circle cx="372.0" cy="496.0" r="1.2"/><circle cx="327.5" cy="467.0" r="1.2"/><circle cx="338.2" cy="535.8" r="1.1"/><circle cx="326.0" cy="524.5" r="1.1"/><circle cx="260.9" cy="544.9" r="1.1"/><circle cx="377.5" cy="553.6" r="1.0"/><circle cx="310.1" cy="532.7" r="1.1"/><circle cx="277.2" cy="546.0" r="0.8"/><circle cx="358.6" cy="483.1" r="0.9"/><circle cx="241.1" cy="493.5" r="1.0"/><circle cx="312.1" cy="530.1" r="0.8"/><circle cx="302.6" cy="447.3" r="0.9"/><circle cx="351.5" cy="451.3" r="1.1"/><circle cx="350.1" cy="463.5" r="1.0"/><circle cx="279.4" cy="532.3" r="0.9"/><circle cx="249.9" cy="460.8" r="1.2"/><circle cx="307.0" cy="525.1" r="1.1"/><circle cx="356.2" cy="521.3" r="0.9"/><circle cx="372.3" cy="499.3" r="1.1"/><circle cx="372.8" cy="453.7" r="1.0"/><circle cx="262.2" cy="503.1" r="1.0"/><circle cx="272.6" cy="525.7" r="1.0"/><circle cx="325.6" cy="502.7" r="1.2"/><circle cx="356.7" cy="506.8" r="1.1"/></g>
<g fill="#f2f4ee" opacity="0.8"><circle cx="322.7" cy="523.9" r="1.8"/><circle cx="320.8" cy="528.0" r="2.1"/><circle cx="322.6" cy="522.3" r="2.1"/><circle cx="320.9" cy="522.1" r="2.0"/><circle cx="318.8" cy="528.4" r="2.2"/><circle cx="322.1" cy="527.6" r="2.3"/><circle cx="320.4" cy="528.6" r="2.2"/><circle cx="325.5" cy="523.3" r="2.0"/><circle cx="318.6" cy="527.9" r="2.2"/><circle cx="324.4" cy="524.2" r="2.4"/><circle cx="323.9" cy="528.0" r="1.8"/></g>
<g fill="#c6be98" stroke="#8a8470" stroke-width="0.5"><circle cx="322.7" cy="523.9" r="0.9"/><circle cx="320.8" cy="528.0" r="1.2"/><circle cx="322.6" cy="522.3" r="1.2"/><circle cx="320.9" cy="522.1" r="1.1"/><circle cx="318.8" cy="528.4" r="1.3"/><circle cx="322.1" cy="527.6" r="1.4"/><circle cx="320.4" cy="528.6" r="1.3"/><circle cx="325.5" cy="523.3" r="1.1"/><circle cx="318.6" cy="527.9" r="1.3"/><circle cx="324.4" cy="524.2" r="1.5"/><circle cx="323.9" cy="528.0" r="0.9"/></g>
<g fill="#f2f4ee" opacity="0.8"><circle cx="338.2" cy="545.8" r="2.1"/><circle cx="338.4" cy="542.5" r="2.3"/><circle cx="337.8" cy="546.8" r="2.0"/></g>
<g fill="#c6be98" stroke="#8a8470" stroke-width="0.5"><circle cx="338.2" cy="545.8" r="1.2"/><circle cx="338.4" cy="542.5" r="1.4"/><circle cx="337.8" cy="546.8" r="1.1"/></g>
<g fill="#f2f4ee" opacity="0.8"><circle cx="371.4" cy="515.7" r="2.2"/><circle cx="367.2" cy="514.4" r="1.8"/><circle cx="366.6" cy="515.6" r="2.3"/><circle cx="366.1" cy="517.3" r="1.9"/><circle cx="368.8" cy="513.9" r="2.0"/></g>
<g fill="#c6be98" stroke="#8a8470" stroke-width="0.5"><circle cx="371.4" cy="515.7" r="1.3"/><circle cx="367.2" cy="514.4" r="0.9"/><circle cx="366.6" cy="515.6" r="1.4"/><circle cx="366.1" cy="517.3" r="1.0"/><circle cx="368.8" cy="513.9" r="1.1"/></g>
<g fill="#f2f4ee" opacity="0.8"><circle cx="297.2" cy="476.8" r="1.9"/><circle cx="303.2" cy="476.6" r="2.0"/><circle cx="300.2" cy="473.1" r="2.1"/><circle cx="301.9" cy="475.9" r="2.0"/><circle cx="300.4" cy="474.9" r="2.2"/><circle cx="297.7" cy="473.0" r="2.1"/></g>
<g fill="#c6be98" stroke="#8a8470" stroke-width="0.5"><circle cx="297.2" cy="476.8" r="1.0"/><circle cx="303.2" cy="476.6" r="1.1"/><circle cx="300.2" cy="473.1" r="1.2"/><circle cx="301.9" cy="475.9" r="1.1"/><circle cx="300.4" cy="474.9" r="1.3"/><circle cx="297.7" cy="473.0" r="1.2"/></g>
<g fill="#f2f4ee" opacity="0.8"><circle cx="233.6" cy="470.0" r="2.4"/><circle cx="235.1" cy="468.4" r="2.3"/><circle cx="234.5" cy="471.4" r="2.0"/><circle cx="236.6" cy="466.8" r="2.0"/><circle cx="237.4" cy="467.1" r="2.1"/><circle cx="233.9" cy="469.6" r="2.2"/></g>
<g fill="#c6be98" stroke="#8a8470" stroke-width="0.5"><circle cx="233.6" cy="470.0" r="1.5"/><circle cx="235.1" cy="468.4" r="1.4"/><circle cx="234.5" cy="471.4" r="1.1"/><circle cx="236.6" cy="466.8" r="1.1"/><circle cx="237.4" cy="467.1" r="1.2"/><circle cx="233.9" cy="469.6" r="1.3"/></g>
<g fill="#f2f4ee" opacity="0.8"><circle cx="339.8" cy="465.0" r="2.2"/><circle cx="340.5" cy="463.4" r="2.3"/><circle cx="343.1" cy="463.5" r="2.2"/><circle cx="343.7" cy="465.5" r="2.4"/></g>
<g fill="#c6be98" stroke="#8a8470" stroke-width="0.5"><circle cx="339.8" cy="465.0" r="1.3"/><circle cx="340.5" cy="463.4" r="1.4"/><circle cx="343.1" cy="463.5" r="1.3"/><circle cx="343.7" cy="465.5" r="1.5"/></g>
<g fill="#f2f4ee" opacity="0.8"><circle cx="321.0" cy="461.5" r="1.9"/><circle cx="322.0" cy="458.9" r="2.3"/><circle cx="320.8" cy="462.7" r="2.3"/><circle cx="319.8" cy="464.9" r="1.8"/></g>
<g fill="#c6be98" stroke="#8a8470" stroke-width="0.5"><circle cx="321.0" cy="461.5" r="1.0"/><circle cx="322.0" cy="458.9" r="1.4"/><circle cx="320.8" cy="462.7" r="1.4"/><circle cx="319.8" cy="464.9" r="0.9"/></g>
<g fill="#f2f4ee" opacity="0.8"><circle cx="264.5" cy="468.9" r="2.3"/><circle cx="263.4" cy="469.9" r="1.8"/><circle cx="262.2" cy="471.5" r="1.9"/><circle cx="261.9" cy="468.1" r="2.3"/><circle cx="265.4" cy="473.2" r="2.4"/><circle cx="265.1" cy="473.5" r="1.8"/><circle cx="261.8" cy="468.4" r="2.0"/><circle cx="262.3" cy="470.6" r="2.4"/><circle cx="261.6" cy="469.3" r="2.4"/><circle cx="259.2" cy="466.5" r="1.8"/><circle cx="265.8" cy="472.7" r="2.2"/><circle cx="260.7" cy="472.5" r="1.9"/></g>
<g fill="#c6be98" stroke="#8a8470" stroke-width="0.5"><circle cx="264.5" cy="468.9" r="1.4"/><circle cx="263.4" cy="469.9" r="0.9"/><circle cx="262.2" cy="471.5" r="1.0"/><circle cx="261.9" cy="468.1" r="1.4"/><circle cx="265.4" cy="473.2" r="1.5"/><circle cx="265.1" cy="473.5" r="0.9"/><circle cx="261.8" cy="468.4" r="1.1"/><circle cx="262.3" cy="470.6" r="1.5"/><circle cx="261.6" cy="469.3" r="1.5"/><circle cx="259.2" cy="466.5" r="0.9"/><circle cx="265.8" cy="472.7" r="1.3"/><circle cx="260.7" cy="472.5" r="1.0"/></g>
<g fill="#f2f4ee" opacity="0.8"><circle cx="272.6" cy="551.4" r="2.0"/><circle cx="276.5" cy="546.5" r="2.1"/><circle cx="276.8" cy="551.0" r="2.4"/><circle cx="274.1" cy="545.8" r="2.2"/><circle cx="272.0" cy="544.9" r="2.0"/><circle cx="275.4" cy="549.4" r="2.1"/><circle cx="275.3" cy="547.5" r="2.4"/></g>
<g fill="#c6be98" stroke="#8a8470" stroke-width="0.5"><circle cx="272.6" cy="551.4" r="1.1"/><circle cx="276.5" cy="546.5" r="1.2"/><circle cx="276.8" cy="551.0" r="1.5"/><circle cx="274.1" cy="545.8" r="1.3"/><circle cx="272.0" cy="544.9" r="1.1"/><circle cx="275.4" cy="549.4" r="1.2"/><circle cx="275.3" cy="547.5" r="1.5"/></g>
<g fill="#f2f4ee" opacity="0.8"><circle cx="259.5" cy="541.6" r="1.9"/><circle cx="265.4" cy="543.4" r="2.3"/><circle cx="264.5" cy="545.9" r="1.9"/><circle cx="264.8" cy="550.2" r="2.1"/><circle cx="262.9" cy="542.6" r="2.3"/><circle cx="263.4" cy="541.8" r="2.3"/><circle cx="263.3" cy="542.3" r="1.8"/><circle cx="259.0" cy="549.9" r="2.4"/><circle cx="264.9" cy="546.0" r="1.9"/><circle cx="259.5" cy="545.6" r="2.3"/></g>
<g fill="#c6be98" stroke="#8a8470" stroke-width="0.5"><circle cx="259.5" cy="541.6" r="1.0"/><circle cx="265.4" cy="543.4" r="1.4"/><circle cx="264.5" cy="545.9" r="1.0"/><circle cx="264.8" cy="550.2" r="1.2"/><circle cx="262.9" cy="542.6" r="1.4"/><circle cx="263.4" cy="541.8" r="1.4"/><circle cx="263.3" cy="542.3" r="0.9"/><circle cx="259.0" cy="549.9" r="1.5"/><circle cx="264.9" cy="546.0" r="1.0"/><circle cx="259.5" cy="545.6" r="1.4"/></g>
<g fill="#f2f4ee" opacity="0.8"><circle cx="360.7" cy="477.9" r="2.0"/><circle cx="359.3" cy="479.5" r="2.4"/><circle cx="360.5" cy="480.3" r="2.0"/></g>
<g fill="#c6be98" stroke="#8a8470" stroke-width="0.5"><circle cx="360.7" cy="477.9" r="1.1"/><circle cx="359.3" cy="479.5" r="1.5"/><circle cx="360.5" cy="480.3" r="1.1"/></g>
<g fill="#f2f4ee" opacity="0.8"><circle cx="255.7" cy="453.3" r="1.8"/><circle cx="253.9" cy="458.0" r="1.9"/><circle cx="254.4" cy="455.1" r="2.0"/><circle cx="253.3" cy="453.6" r="2.3"/><circle cx="254.8" cy="456.4" r="2.3"/></g>
<g fill="#c6be98" stroke="#8a8470" stroke-width="0.5"><circle cx="255.7" cy="453.3" r="0.9"/><circle cx="253.9" cy="458.0" r="1.0"/><circle cx="254.4" cy="455.1" r="1.1"/><circle cx="253.3" cy="453.6" r="1.4"/><circle cx="254.8" cy="456.4" r="1.4"/></g>
<g fill="#f2f4ee" opacity="0.8"><circle cx="234.7" cy="519.4" r="1.8"/><circle cx="232.2" cy="520.9" r="1.9"/><circle cx="234.9" cy="518.3" r="2.5"/><circle cx="234.9" cy="517.8" r="1.9"/></g>
<g fill="#c6be98" stroke="#8a8470" stroke-width="0.5"><circle cx="234.7" cy="519.4" r="0.9"/><circle cx="232.2" cy="520.9" r="1.0"/><circle cx="234.9" cy="518.3" r="1.6"/><circle cx="234.9" cy="517.8" r="1.0"/></g>
<g fill="#f2f4ee" opacity="0.8"><circle cx="350.0" cy="500.9" r="2.1"/><circle cx="351.6" cy="496.3" r="1.9"/><circle cx="349.0" cy="495.3" r="2.1"/><circle cx="349.3" cy="498.6" r="2.4"/></g>
<g fill="#c6be98" stroke="#8a8470" stroke-width="0.5"><circle cx="350.0" cy="500.9" r="1.2"/><circle cx="351.6" cy="496.3" r="1.0"/><circle cx="349.0" cy="495.3" r="1.2"/><circle cx="349.3" cy="498.6" r="1.5"/></g>
<g fill="#f2f4ee" opacity="0.8"><circle cx="330.9" cy="452.8" r="1.8"/><circle cx="334.7" cy="453.2" r="1.9"/><circle cx="334.0" cy="453.9" r="2.2"/><circle cx="330.7" cy="452.8" r="2.0"/></g>
<g fill="#c6be98" stroke="#8a8470" stroke-width="0.5"><circle cx="330.9" cy="452.8" r="0.9"/><circle cx="334.7" cy="453.2" r="1.0"/><circle cx="334.0" cy="453.9" r="1.3"/><circle cx="330.7" cy="452.8" r="1.1"/></g>
<g fill="#f2f4ee" opacity="0.8"><circle cx="339.7" cy="535.3" r="1.8"/><circle cx="340.2" cy="532.5" r="1.9"/><circle cx="339.2" cy="537.3" r="1.9"/><circle cx="338.5" cy="532.8" r="1.9"/></g>
<g fill="#c6be98" stroke="#8a8470" stroke-width="0.5"><circle cx="339.7" cy="535.3" r="0.9"/><circle cx="340.2" cy="532.5" r="1.0"/><circle cx="339.2" cy="537.3" r="1.0"/><circle cx="338.5" cy="532.8" r="1.0"/></g>
<g fill="#f2f4ee" opacity="0.8"><circle cx="284.1" cy="509.7" r="1.8"/><circle cx="284.9" cy="509.3" r="2.4"/></g>
<g fill="#c6be98" stroke="#8a8470" stroke-width="0.5"><circle cx="284.1" cy="509.7" r="0.9"/><circle cx="284.9" cy="509.3" r="1.5"/></g>
<g fill="#f2f4ee" opacity="0.8"><circle cx="259.0" cy="549.0" r="2.1"/><circle cx="257.9" cy="547.9" r="2.3"/><circle cx="258.9" cy="545.8" r="2.0"/><circle cx="258.2" cy="547.3" r="2.4"/><circle cx="261.0" cy="550.6" r="1.8"/></g>
<g fill="#c6be98" stroke="#8a8470" stroke-width="0.5"><circle cx="259.0" cy="549.0" r="1.2"/><circle cx="257.9" cy="547.9" r="1.4"/><circle cx="258.9" cy="545.8" r="1.1"/><circle cx="258.2" cy="547.3" r="1.5"/><circle cx="261.0" cy="550.6" r="0.9"/></g>
<g fill="#f2f4ee" opacity="0.8"><circle cx="366.5" cy="543.7" r="2.1"/><circle cx="365.1" cy="546.7" r="2.3"/><circle cx="365.1" cy="547.1" r="2.1"/><circle cx="366.7" cy="544.5" r="2.1"/></g>
<g fill="#c6be98" stroke="#8a8470" stroke-width="0.5"><circle cx="366.5" cy="543.7" r="1.2"/><circle cx="365.1" cy="546.7" r="1.4"/><circle cx="365.1" cy="547.1" r="1.2"/><circle cx="366.7" cy="544.5" r="1.2"/></g>
<g fill="#f2f4ee" opacity="0.8"><circle cx="306.8" cy="531.9" r="2.4"/><circle cx="308.1" cy="529.6" r="2.2"/><circle cx="308.5" cy="526.6" r="2.3"/><circle cx="306.6" cy="530.1" r="2.5"/></g>
<g fill="#c6be98" stroke="#8a8470" stroke-width="0.5"><circle cx="306.8" cy="531.9" r="1.5"/><circle cx="308.1" cy="529.6" r="1.3"/><circle cx="308.5" cy="526.6" r="1.4"/><circle cx="306.6" cy="530.1" r="1.6"/></g>
<g fill="#f2f4ee" opacity="0.8"><circle cx="346.5" cy="538.6" r="2.1"/><circle cx="346.1" cy="536.8" r="1.9"/><circle cx="346.7" cy="540.0" r="2.0"/><circle cx="347.1" cy="538.0" r="2.1"/></g>
<g fill="#c6be98" stroke="#8a8470" stroke-width="0.5"><circle cx="346.5" cy="538.6" r="1.2"/><circle cx="346.1" cy="536.8" r="1.0"/><circle cx="346.7" cy="540.0" r="1.1"/><circle cx="347.1" cy="538.0" r="1.2"/></g>
<g fill="#f2f4ee" opacity="0.8"><circle cx="245.0" cy="480.4" r="2.2"/><circle cx="246.1" cy="487.5" r="2.5"/><circle cx="249.3" cy="483.2" r="2.3"/><circle cx="247.5" cy="482.9" r="2.0"/><circle cx="248.2" cy="487.0" r="2.5"/><circle cx="249.3" cy="487.1" r="1.8"/><circle cx="247.0" cy="487.5" r="2.1"/><circle cx="249.6" cy="481.2" r="2.5"/><circle cx="247.9" cy="487.7" r="2.4"/></g>
<g fill="#c6be98" stroke="#8a8470" stroke-width="0.5"><circle cx="245.0" cy="480.4" r="1.3"/><circle cx="246.1" cy="487.5" r="1.6"/><circle cx="249.3" cy="483.2" r="1.4"/><circle cx="247.5" cy="482.9" r="1.1"/><circle cx="248.2" cy="487.0" r="1.6"/><circle cx="249.3" cy="487.1" r="0.9"/><circle cx="247.0" cy="487.5" r="1.2"/><circle cx="249.6" cy="481.2" r="1.6"/><circle cx="247.9" cy="487.7" r="1.5"/></g>
<g fill="#f2f4ee" opacity="0.8"><circle cx="284.1" cy="545.7" r="2.1"/><circle cx="279.0" cy="543.2" r="2.5"/><circle cx="279.6" cy="542.7" r="2.2"/><circle cx="283.7" cy="542.9" r="2.0"/><circle cx="279.9" cy="545.8" r="2.1"/></g>
<g fill="#c6be98" stroke="#8a8470" stroke-width="0.5"><circle cx="284.1" cy="545.7" r="1.2"/><circle cx="279.0" cy="543.2" r="1.6"/><circle cx="279.6" cy="542.7" r="1.3"/><circle cx="283.7" cy="542.9" r="1.1"/><circle cx="279.9" cy="545.8" r="1.2"/></g>
<g fill="#f2f4ee" opacity="0.8"><circle cx="279.3" cy="467.4" r="1.9"/><circle cx="277.8" cy="466.7" r="2.3"/></g>
<g fill="#c6be98" stroke="#8a8470" stroke-width="0.5"><circle cx="279.3" cy="467.4" r="1.0"/><circle cx="277.8" cy="466.7" r="1.4"/></g>
<g fill="#f2f4ee" opacity="0.8"><circle cx="331.7" cy="552.5" r="2.5"/><circle cx="331.2" cy="551.9" r="2.4"/></g>
<g fill="#c6be98" stroke="#8a8470" stroke-width="0.5"><circle cx="331.7" cy="552.5" r="1.6"/><circle cx="331.2" cy="551.9" r="1.5"/></g>
<g fill="#f2f4ee" opacity="0.8"><circle cx="373.9" cy="501.9" r="1.9"/><circle cx="375.9" cy="504.3" r="1.9"/><circle cx="375.9" cy="502.4" r="2.3"/><circle cx="376.1" cy="501.9" r="2.2"/></g>
<g fill="#c6be98" stroke="#8a8470" stroke-width="0.5"><circle cx="373.9" cy="501.9" r="1.0"/><circle cx="375.9" cy="504.3" r="1.0"/><circle cx="375.9" cy="502.4" r="1.4"/><circle cx="376.1" cy="501.9" r="1.3"/></g>
<g fill="#f2f4ee" opacity="0.8"><circle cx="315.6" cy="533.0" r="2.4"/><circle cx="317.3" cy="536.6" r="1.9"/><circle cx="316.5" cy="534.1" r="1.9"/><circle cx="317.1" cy="533.2" r="2.3"/><circle cx="319.8" cy="535.6" r="2.0"/></g>
<g fill="#c6be98" stroke="#8a8470" stroke-width="0.5"><circle cx="315.6" cy="533.0" r="1.5"/><circle cx="317.3" cy="536.6" r="1.0"/><circle cx="316.5" cy="534.1" r="1.0"/><circle cx="317.1" cy="533.2" r="1.4"/><circle cx="319.8" cy="535.6" r="1.1"/></g>
<g fill="#f2f4ee" opacity="0.8"><circle cx="242.6" cy="545.4" r="2.1"/><circle cx="242.2" cy="544.8" r="1.9"/><circle cx="242.3" cy="544.7" r="1.9"/></g>
<g fill="#c6be98" stroke="#8a8470" stroke-width="0.5"><circle cx="242.6" cy="545.4" r="1.2"/><circle cx="242.2" cy="544.8" r="1.0"/><circle cx="242.3" cy="544.7" r="1.0"/></g>
<g fill="#f2f4ee" opacity="0.8"><circle cx="353.6" cy="463.9" r="2.1"/><circle cx="354.4" cy="463.8" r="2.2"/><circle cx="354.9" cy="464.4" r="1.9"/><circle cx="351.4" cy="465.8" r="2.4"/><circle cx="355.1" cy="463.5" r="2.0"/><circle cx="350.4" cy="464.8" r="1.9"/><circle cx="349.8" cy="461.7" r="2.3"/><circle cx="350.2" cy="464.1" r="1.9"/><circle cx="349.6" cy="463.0" r="1.8"/><circle cx="356.1" cy="460.4" r="2.4"/></g>
<g fill="#c6be98" stroke="#8a8470" stroke-width="0.5"><circle cx="353.6" cy="463.9" r="1.2"/><circle cx="354.4" cy="463.8" r="1.3"/><circle cx="354.9" cy="464.4" r="1.0"/><circle cx="351.4" cy="465.8" r="1.5"/><circle cx="355.1" cy="463.5" r="1.1"/><circle cx="350.4" cy="464.8" r="1.0"/><circle cx="349.8" cy="461.7" r="1.4"/><circle cx="350.2" cy="464.1" r="1.0"/><circle cx="349.6" cy="463.0" r="0.9"/><circle cx="356.1" cy="460.4" r="1.5"/></g>
<g fill="#f2f4ee" opacity="0.8"><circle cx="324.2" cy="529.0" r="2.0"/><circle cx="322.6" cy="528.4" r="2.4"/><circle cx="322.9" cy="531.8" r="2.2"/></g>
<g fill="#c6be98" stroke="#8a8470" stroke-width="0.5"><circle cx="324.2" cy="529.0" r="1.1"/><circle cx="322.6" cy="528.4" r="1.5"/><circle cx="322.9" cy="531.8" r="1.3"/></g>
<g fill="#f2f4ee" opacity="0.8"><circle cx="256.8" cy="536.6" r="2.5"/><circle cx="254.2" cy="533.2" r="2.2"/><circle cx="253.9" cy="538.2" r="2.2"/><circle cx="256.2" cy="533.8" r="1.9"/></g>
<g fill="#c6be98" stroke="#8a8470" stroke-width="0.5"><circle cx="256.8" cy="536.6" r="1.6"/><circle cx="254.2" cy="533.2" r="1.3"/><circle cx="253.9" cy="538.2" r="1.3"/><circle cx="256.2" cy="533.8" r="1.0"/></g>
<g fill="#f2f4ee" opacity="0.8"><circle cx="378.4" cy="535.7" r="1.9"/><circle cx="378.7" cy="537.5" r="2.3"/><circle cx="375.1" cy="539.4" r="2.3"/><circle cx="376.1" cy="538.8" r="2.3"/><circle cx="378.7" cy="538.6" r="2.3"/><circle cx="377.3" cy="537.4" r="1.8"/><circle cx="375.8" cy="539.0" r="2.3"/><circle cx="377.8" cy="538.5" r="2.2"/></g>
<g fill="#c6be98" stroke="#8a8470" stroke-width="0.5"><circle cx="378.4" cy="535.7" r="1.0"/><circle cx="378.7" cy="537.5" r="1.4"/><circle cx="375.1" cy="539.4" r="1.4"/><circle cx="376.1" cy="538.8" r="1.4"/><circle cx="378.7" cy="538.6" r="1.4"/><circle cx="377.3" cy="537.4" r="0.9"/><circle cx="375.8" cy="539.0" r="1.4"/><circle cx="377.8" cy="538.5" r="1.3"/></g>
<g fill="#f2f4ee" opacity="0.8"><circle cx="301.3" cy="524.1" r="2.2"/><circle cx="304.0" cy="523.5" r="1.8"/><circle cx="304.1" cy="522.7" r="2.2"/><circle cx="300.9" cy="522.6" r="2.3"/></g>
<g fill="#c6be98" stroke="#8a8470" stroke-width="0.5"><circle cx="301.3" cy="524.1" r="1.3"/><circle cx="304.0" cy="523.5" r="0.9"/><circle cx="304.1" cy="522.7" r="1.3"/><circle cx="300.9" cy="522.6" r="1.4"/></g>
<g fill="#f2f4ee" opacity="0.8"><circle cx="291.1" cy="462.0" r="2.5"/><circle cx="288.6" cy="463.7" r="2.0"/><circle cx="289.5" cy="467.4" r="2.0"/><circle cx="292.4" cy="466.8" r="1.9"/><circle cx="288.5" cy="461.2" r="2.1"/><circle cx="290.7" cy="466.9" r="2.5"/><circle cx="289.5" cy="463.0" r="2.1"/></g>
<g fill="#c6be98" stroke="#8a8470" stroke-width="0.5"><circle cx="291.1" cy="462.0" r="1.6"/><circle cx="288.6" cy="463.7" r="1.1"/><circle cx="289.5" cy="467.4" r="1.1"/><circle cx="292.4" cy="466.8" r="1.0"/><circle cx="288.5" cy="461.2" r="1.2"/><circle cx="290.7" cy="466.9" r="1.6"/><circle cx="289.5" cy="463.0" r="1.2"/></g>
<rect x="63.0" y="569.1" width="154.0" height="114.3" fill="url(#g3)" />
<circle cx="105" cy="591" r="1.9000000000000001" fill="#e8eee8" opacity="0.6"/><circle cx="105" cy="591" r="1.1" fill="#3f3c38"/>
<circle cx="115.5" cy="598.2" r="1.8" fill="#e8eee8" opacity="0.6"/><circle cx="115.5" cy="598.2" r="1" fill="#3f3c38"/>
<circle cx="159.9" cy="599.2" r="1.8" fill="#e8eee8" opacity="0.6"/><circle cx="159.9" cy="599.2" r="1" fill="#3f3c38"/>
<circle cx="139" cy="612.1" r="1.9000000000000001" fill="#e8eee8" opacity="0.6"/><circle cx="139" cy="612.1" r="1.1" fill="#3f3c38"/>
<circle cx="168.5" cy="629.9" r="1.7000000000000002" fill="#e8eee8" opacity="0.6"/><circle cx="168.5" cy="629.9" r="0.9" fill="#3f3c38"/>
<circle cx="172.3" cy="645.6" r="1.8" fill="#e8eee8" opacity="0.6"/><circle cx="172.3" cy="645.6" r="1" fill="#3f3c38"/>
<circle cx="98.4" cy="678" r="1.8" fill="#e8eee8" opacity="0.6"/><circle cx="98.4" cy="678" r="1" fill="#3f3c38"/>
<circle cx="131.2" cy="598.2" r="1.2" fill="#a8aca0" opacity="0.7"/>
<ellipse cx="118.3" cy="611.6" rx="3.9" ry="3.9" fill="#fafcf6" filter="url(#bl05)"/>
<ellipse cx="118.3" cy="611.6" rx="2.8" ry="2.8" fill="url(#sph)" stroke="#58566a" stroke-width="0.5"/>
<ellipse cx="118.3" cy="611.6" rx="2.8" ry="2.8" fill="#000" filter="url(#sphtex)"/>
<ellipse cx="95.3" cy="644.0" rx="5.1" ry="5.1" fill="#fafcf6" filter="url(#bl05)"/>
<ellipse cx="95.3" cy="644.0" rx="4.0" ry="4.0" fill="url(#sph)" stroke="#58566a" stroke-width="0.5"/>
<ellipse cx="95.3" cy="644.0" rx="4.0" ry="4.0" fill="#000" filter="url(#sphtex)"/>
<ellipse cx="153.0" cy="632.2" rx="4.2" ry="5.0" fill="#fafcf6" filter="url(#bl05)"/>
<ellipse cx="153.0" cy="632.2" rx="3.1" ry="3.9" fill="url(#sph)" stroke="#58566a" stroke-width="0.5"/>
<ellipse cx="153.0" cy="632.2" rx="3.1" ry="3.9" fill="#000" filter="url(#sphtex)"/>
<ellipse cx="208.0" cy="655.0" rx="3.5" ry="3.9" fill="#fafcf6" filter="url(#bl05)"/>
<ellipse cx="208.0" cy="655.0" rx="2.4" ry="2.8" fill="url(#sph)" stroke="#58566a" stroke-width="0.5"/>
<ellipse cx="208.0" cy="655.0" rx="2.4" ry="2.8" fill="#000" filter="url(#sphtex)"/>
<ellipse cx="168.3" cy="638.8" rx="2.6" ry="2.4" fill="#fafcf6" filter="url(#bl05)"/>
<ellipse cx="168.3" cy="638.8" rx="1.5" ry="1.3" fill="url(#sph)" stroke="#58566a" stroke-width="0.5"/>
<ellipse cx="168.3" cy="638.8" rx="1.5" ry="1.3" fill="#000" filter="url(#sphtex)"/>
<rect x="227.5" y="569.1" width="154.0" height="114.3" fill="url(#g4)" />
<g fill="#b8ac80" stroke="#9a9478" stroke-width="0.4" opacity="0.7"><circle cx="300.6" cy="643.7" r="1.0"/><circle cx="329.8" cy="586.1" r="1.1"/><circle cx="230.2" cy="612.1" r="1.0"/><circle cx="270.2" cy="660.9" r="0.9"/><circle cx="333.5" cy="637.5" r="0.9"/><circle cx="313.3" cy="644.2" r="1.0"/><circle cx="250.6" cy="619.4" r="1.1"/><circle cx="253.2" cy="671.6" r="1.1"/><circle cx="237.4" cy="661.8" r="0.9"/><circle cx="239.8" cy="647.0" r="1.0"/><circle cx="279.7" cy="615.4" r="0.9"/><circle cx="356.5" cy="572.2" r="0.7"/><circle cx="237.7" cy="672.6" r="1.1"/><circle cx="305.9" cy="580.3" r="1.0"/><circle cx="378.5" cy="676.1" r="1.2"/><circle cx="245.6" cy="617.5" r="0.8"/><circle cx="249.0" cy="605.1" r="0.8"/><circle cx="323.0" cy="588.4" r="0.9"/><circle cx="334.4" cy="575.9" r="0.8"/><circle cx="254.5" cy="661.5" r="0.8"/><circle cx="289.4" cy="617.0" r="0.8"/><circle cx="319.1" cy="623.5" r="0.8"/><circle cx="287.0" cy="573.5" r="0.9"/><circle cx="338.9" cy="678.5" r="0.9"/><circle cx="376.9" cy="644.4" r="0.9"/><circle cx="282.7" cy="610.8" r="0.9"/><circle cx="333.4" cy="645.6" r="1.0"/><circle cx="245.8" cy="596.4" r="1.1"/><circle cx="283.7" cy="627.4" r="1.1"/><circle cx="351.6" cy="626.1" r="1.1"/><circle cx="232.8" cy="662.2" r="0.9"/><circle cx="293.9" cy="628.2" r="1.1"/><circle cx="262.3" cy="618.0" r="1.0"/><circle cx="287.5" cy="656.6" r="1.0"/><circle cx="244.1" cy="631.7" r="0.7"/><circle cx="255.6" cy="648.0" r="0.9"/><circle cx="234.1" cy="601.1" r="0.8"/><circle cx="280.8" cy="641.4" r="1.0"/><circle cx="236.4" cy="621.5" r="1.1"/><circle cx="260.2" cy="601.7" r="1.0"/><circle cx="300.9" cy="677.5" r="0.9"/><circle cx="301.6" cy="677.2" r="0.8"/><circle cx="254.0" cy="673.6" r="0.9"/><circle cx="283.9" cy="591.3" r="1.2"/><circle cx="342.3" cy="672.2" r="0.8"/><circle cx="229.5" cy="600.1" r="1.0"/><circle cx="345.6" cy="608.4" r="0.9"/><circle cx="265.2" cy="571.1" r="0.9"/><circle cx="234.6" cy="639.4" r="0.8"/><circle cx="378.0" cy="681.9" r="1.0"/><circle cx="305.0" cy="572.8" r="0.8"/><circle cx="277.5" cy="658.3" r="0.9"/><circle cx="355.0" cy="641.7" r="0.9"/><circle cx="263.4" cy="629.2" r="1.2"/><circle cx="301.1" cy="640.3" r="1.2"/><circle cx="268.4" cy="676.1" r="1.2"/><circle cx="364.4" cy="588.3" r="1.0"/><circle cx="272.8" cy="667.9" r="0.7"/><circle cx="270.8" cy="675.8" r="1.0"/><circle cx="306.8" cy="648.0" r="1.1"/><circle cx="335.6" cy="594.1" r="1.2"/><circle cx="271.8" cy="598.7" r="1.0"/><circle cx="332.4" cy="647.8" r="1.0"/><circle cx="248.5" cy="669.4" r="1.1"/><circle cx="292.4" cy="597.1" r="0.8"/><circle cx="294.7" cy="679.8" r="0.9"/><circle cx="313.6" cy="640.1" r="1.2"/><circle cx="368.3" cy="677.8" r="1.0"/><circle cx="344.1" cy="616.9" r="0.7"/><circle cx="317.9" cy="671.0" r="0.9"/><circle cx="348.5" cy="635.1" r="1.0"/><circle cx="281.3" cy="611.4" r="1.1"/><circle cx="340.3" cy="633.2" r="1.0"/><circle cx="231.1" cy="649.6" r="1.1"/><circle cx="365.9" cy="659.4" r="0.8"/><circle cx="364.9" cy="672.1" r="0.9"/><circle cx="309.8" cy="658.5" r="0.7"/><circle cx="286.2" cy="581.1" r="0.9"/><circle cx="282.2" cy="605.1" r="1.1"/><circle cx="370.5" cy="647.3" r="0.8"/><circle cx="310.8" cy="639.8" r="0.7"/><circle cx="247.5" cy="629.9" r="1.0"/><circle cx="335.0" cy="614.2" r="0.8"/><circle cx="265.9" cy="615.7" r="0.8"/><circle cx="277.7" cy="646.9" r="0.8"/><circle cx="250.1" cy="580.2" r="0.8"/><circle cx="276.0" cy="648.0" r="0.8"/><circle cx="344.0" cy="644.0" r="1.1"/><circle cx="370.6" cy="611.0" r="0.9"/><circle cx="233.0" cy="624.7" r="0.8"/><circle cx="295.9" cy="590.2" r="0.9"/><circle cx="329.9" cy="608.3" r="0.9"/><circle cx="264.7" cy="606.8" r="0.9"/><circle cx="372.0" cy="571.0" r="0.8"/><circle cx="283.3" cy="601.4" r="1.2"/><circle cx="259.1" cy="618.5" r="0.8"/><circle cx="262.0" cy="673.0" r="1.0"/><circle cx="304.7" cy="648.3" r="1.1"/><circle cx="253.2" cy="622.1" r="0.9"/><circle cx="320.7" cy="664.5" r="1.0"/><circle cx="266.5" cy="621.6" r="1.1"/><circle cx="358.4" cy="663.2" r="1.1"/><circle cx="263.1" cy="630.4" r="0.9"/><circle cx="344.2" cy="614.4" r="0.9"/><circle cx="330.9" cy="644.4" r="0.8"/><circle cx="376.3" cy="632.1" r="0.7"/><circle cx="332.0" cy="609.3" r="1.0"/><circle cx="339.8" cy="606.2" r="0.8"/><circle cx="304.5" cy="610.5" r="1.0"/><circle cx="275.2" cy="585.3" r="0.8"/><circle cx="262.8" cy="631.1" r="0.9"/><circle cx="266.8" cy="575.2" r="1.0"/><circle cx="350.6" cy="602.1" r="1.0"/><circle cx="370.8" cy="637.2" r="1.0"/><circle cx="287.6" cy="667.9" r="0.8"/><circle cx="364.9" cy="606.0" r="0.9"/><circle cx="247.6" cy="641.9" r="1.1"/><circle cx="356.6" cy="638.3" r="0.8"/><circle cx="347.7" cy="616.3" r="0.9"/><circle cx="322.4" cy="599.6" r="1.0"/><circle cx="291.6" cy="609.8" r="0.8"/><circle cx="292.6" cy="603.7" r="0.8"/><circle cx="293.3" cy="615.1" r="1.1"/><circle cx="297.8" cy="606.3" r="1.0"/><circle cx="285.8" cy="606.1" r="1.0"/><circle cx="287.4" cy="599.4" r="0.9"/><circle cx="297.5" cy="608.4" r="0.7"/><circle cx="293.0" cy="609.4" r="0.8"/><circle cx="296.0" cy="606.8" r="1.1"/><circle cx="294.3" cy="607.9" r="0.9"/><circle cx="298.9" cy="615.0" r="1.0"/><circle cx="266.4" cy="591.2" r="0.8"/><circle cx="257.2" cy="591.9" r="1.2"/><circle cx="262.1" cy="589.7" r="1.1"/><circle cx="255.0" cy="592.2" r="1.1"/><circle cx="258.6" cy="592.5" r="0.8"/><circle cx="261.6" cy="595.6" r="0.8"/><circle cx="254.2" cy="592.5" r="1.1"/><circle cx="252.5" cy="599.4" r="0.8"/><circle cx="264.3" cy="584.0" r="0.8"/><circle cx="230.7" cy="660.1" r="0.7"/><circle cx="233.0" cy="655.5" r="1.0"/><circle cx="250.5" cy="570.7" r="0.9"/><circle cx="249.0" cy="576.7" r="0.9"/><circle cx="246.4" cy="572.9" r="1.0"/><circle cx="253.2" cy="574.4" r="1.2"/><circle cx="244.1" cy="571.5" r="1.0"/><circle cx="252.9" cy="576.4" r="1.1"/></g>
<rect x="63.0" y="694.7" width="154.0" height="114.3" fill="url(#g5)" />
<circle cx="147.7" cy="713.6" r="2.0" fill="#f4f6f0" opacity="0.8"/><circle cx="147.7" cy="713.6" r="1.1" fill="#3a3632"/>
<circle cx="114.3" cy="721.4" r="1.9" fill="#f4f6f0" opacity="0.8"/><circle cx="114.3" cy="721.4" r="1" fill="#3a3632"/>
<circle cx="161.7" cy="741.8" r="2.2" fill="#f4f6f0" opacity="0.8"/><circle cx="161.7" cy="741.8" r="1.3" fill="#3a3632"/>
<circle cx="73.1" cy="760.1" r="1.9" fill="#f4f6f0" opacity="0.8"/><circle cx="73.1" cy="760.1" r="1" fill="#3a3632"/>
<circle cx="204.7" cy="721.4" r="0.8" fill="#8a887c" opacity="0.7"/>
<circle cx="101.4" cy="745.3" r="0.8" fill="#8a887c" opacity="0.7"/>
<ellipse cx="150.0" cy="761.0" rx="5.4" ry="5.4" fill="#fafcf6" filter="url(#bl05)"/>
<ellipse cx="150.0" cy="761.0" rx="4.3" ry="4.3" fill="url(#sph)" stroke="#58566a" stroke-width="0.5"/>
<ellipse cx="150.0" cy="761.0" rx="4.3" ry="4.3" fill="#000" filter="url(#sphtex)"/>
<ellipse cx="127.7" cy="747.0" rx="3.0" ry="3.0" fill="#fafcf6" filter="url(#bl05)"/>
<ellipse cx="127.7" cy="747.0" rx="1.9" ry="1.9" fill="url(#sph)" stroke="#58566a" stroke-width="0.5"/>
<ellipse cx="127.7" cy="747.0" rx="1.9" ry="1.9" fill="#000" filter="url(#sphtex)"/>
<ellipse cx="181.7" cy="741.8" rx="2.4" ry="2.4" fill="#fafcf6" filter="url(#bl05)"/>
<ellipse cx="181.7" cy="741.8" rx="1.3" ry="1.3" fill="url(#sph)" stroke="#58566a" stroke-width="0.5"/>
<ellipse cx="181.7" cy="741.8" rx="1.3" ry="1.3" fill="#000" filter="url(#sphtex)"/>
<rect x="227.5" y="694.7" width="154.0" height="114.3" fill="url(#g6)" />
<g fill="#bcb088" stroke="#a09a80" stroke-width="0.4" opacity="0.7"><circle cx="267.9" cy="772.4" r="1.0"/><circle cx="332.5" cy="790.8" r="1.1"/><circle cx="256.7" cy="721.5" r="0.9"/><circle cx="250.9" cy="720.9" r="1.1"/><circle cx="340.1" cy="710.3" r="0.9"/><circle cx="309.3" cy="719.7" r="1.0"/><circle cx="273.3" cy="744.0" r="0.9"/><circle cx="355.8" cy="763.8" r="1.1"/><circle cx="230.7" cy="726.6" r="0.9"/><circle cx="250.8" cy="793.3" r="1.1"/><circle cx="351.6" cy="786.0" r="0.9"/><circle cx="354.1" cy="779.1" r="1.0"/><circle cx="372.8" cy="784.6" r="1.1"/><circle cx="267.5" cy="790.9" r="1.0"/><circle cx="302.5" cy="780.3" r="0.9"/><circle cx="314.2" cy="743.8" r="0.7"/><circle cx="283.9" cy="743.8" r="0.9"/><circle cx="276.2" cy="708.8" r="0.9"/><circle cx="353.1" cy="785.1" r="1.1"/><circle cx="378.3" cy="773.1" r="1.1"/><circle cx="312.7" cy="779.5" r="1.1"/><circle cx="249.0" cy="771.5" r="0.9"/><circle cx="295.9" cy="715.5" r="0.9"/><circle cx="259.3" cy="754.2" r="1.0"/><circle cx="267.0" cy="747.2" r="1.0"/><circle cx="320.5" cy="740.0" r="0.7"/><circle cx="248.4" cy="750.7" r="0.8"/><circle cx="264.3" cy="722.1" r="0.8"/><circle cx="258.1" cy="736.7" r="0.8"/><circle cx="239.6" cy="768.6" r="0.8"/><circle cx="373.5" cy="739.3" r="1.1"/><circle cx="337.8" cy="800.2" r="0.8"/><circle cx="235.1" cy="711.6" r="1.1"/><circle cx="351.0" cy="789.6" r="0.8"/><circle cx="325.6" cy="713.6" r="0.8"/><circle cx="291.4" cy="792.9" r="1.1"/><circle cx="363.2" cy="785.7" r="0.7"/><circle cx="259.4" cy="791.3" r="0.8"/><circle cx="285.5" cy="775.9" r="0.8"/><circle cx="249.3" cy="804.5" r="0.7"/><circle cx="320.2" cy="776.6" r="0.9"/><circle cx="260.7" cy="764.8" r="0.8"/><circle cx="316.8" cy="761.9" r="0.8"/><circle cx="283.1" cy="777.2" r="0.7"/><circle cx="280.4" cy="728.8" r="1.0"/><circle cx="253.5" cy="772.3" r="0.7"/><circle cx="245.6" cy="721.0" r="0.8"/><circle cx="239.0" cy="767.8" r="1.0"/><circle cx="313.0" cy="756.6" r="1.1"/><circle cx="234.4" cy="744.9" r="1.0"/><circle cx="280.6" cy="706.1" r="1.0"/><circle cx="229.0" cy="807.5" r="1.0"/><circle cx="247.0" cy="729.5" r="1.1"/><circle cx="269.4" cy="762.6" r="1.1"/><circle cx="240.3" cy="748.3" r="0.8"/><circle cx="284.2" cy="789.2" r="0.7"/><circle cx="229.4" cy="733.2" r="1.0"/><circle cx="304.0" cy="804.3" r="0.9"/><circle cx="307.0" cy="748.8" r="0.9"/><circle cx="330.3" cy="728.9" r="1.1"/><circle cx="233.3" cy="751.9" r="0.8"/><circle cx="366.9" cy="778.4" r="1.0"/><circle cx="267.8" cy="772.3" r="0.9"/><circle cx="357.6" cy="724.7" r="0.9"/><circle cx="317.9" cy="735.5" r="0.8"/><circle cx="265.6" cy="727.9" r="0.8"/><circle cx="259.5" cy="735.0" r="1.0"/><circle cx="234.3" cy="740.2" r="0.9"/><circle cx="241.7" cy="780.6" r="1.1"/><circle cx="319.7" cy="696.2" r="0.8"/><circle cx="346.1" cy="717.0" r="1.0"/><circle cx="301.6" cy="757.8" r="0.7"/><circle cx="279.1" cy="728.1" r="1.0"/><circle cx="294.6" cy="711.0" r="0.8"/><circle cx="359.8" cy="708.2" r="1.1"/><circle cx="353.7" cy="720.1" r="1.1"/><circle cx="274.6" cy="739.2" r="0.8"/><circle cx="233.6" cy="710.1" r="1.1"/><circle cx="283.4" cy="745.2" r="0.8"/><circle cx="361.7" cy="806.6" r="0.8"/><circle cx="235.1" cy="755.6" r="0.7"/><circle cx="248.2" cy="785.7" r="0.9"/><circle cx="277.6" cy="795.7" r="0.7"/><circle cx="311.4" cy="709.8" r="1.0"/><circle cx="229.3" cy="723.5" r="1.0"/><circle cx="360.4" cy="712.5" r="0.9"/><circle cx="301.3" cy="737.3" r="1.0"/><circle cx="280.9" cy="785.5" r="0.8"/><circle cx="261.0" cy="776.2" r="0.8"/><circle cx="329.8" cy="800.5" r="0.9"/><circle cx="307.5" cy="798.8" r="0.7"/><circle cx="295.5" cy="759.9" r="1.1"/><circle cx="322.8" cy="789.7" r="0.7"/><circle cx="364.9" cy="708.6" r="0.7"/><circle cx="249.3" cy="755.5" r="1.1"/><circle cx="352.0" cy="755.5" r="1.1"/><circle cx="274.0" cy="803.4" r="0.9"/><circle cx="273.8" cy="705.4" r="0.9"/><circle cx="236.4" cy="699.1" r="0.8"/><circle cx="339.0" cy="707.7" r="0.7"/><circle cx="331.7" cy="795.6" r="0.9"/><circle cx="340.9" cy="786.5" r="0.8"/><circle cx="335.4" cy="800.1" r="0.8"/><circle cx="340.4" cy="795.2" r="1.1"/><circle cx="342.5" cy="792.6" r="0.7"/><circle cx="336.5" cy="800.6" r="0.9"/><circle cx="337.0" cy="792.8" r="1.0"/><circle cx="340.8" cy="793.4" r="1.0"/><circle cx="332.1" cy="802.0" r="0.7"/><circle cx="337.5" cy="801.5" r="1.0"/><circle cx="360.8" cy="746.1" r="1.0"/><circle cx="362.0" cy="741.3" r="1.0"/><circle cx="358.8" cy="736.8" r="1.1"/><circle cx="358.7" cy="741.6" r="1.1"/><circle cx="361.6" cy="740.1" r="1.0"/><circle cx="356.4" cy="742.3" r="1.0"/><circle cx="360.1" cy="742.4" r="0.9"/><circle cx="364.9" cy="746.0" r="0.9"/><circle cx="353.1" cy="739.9" r="1.1"/><circle cx="363.4" cy="744.2" r="1.0"/><circle cx="362.8" cy="739.4" r="0.9"/><circle cx="362.5" cy="743.0" r="0.7"/><circle cx="347.5" cy="773.2" r="1.1"/><circle cx="336.1" cy="771.9" r="0.9"/><circle cx="346.3" cy="777.3" r="0.9"/><circle cx="343.9" cy="769.8" r="0.8"/><circle cx="346.0" cy="771.9" r="0.9"/><circle cx="339.2" cy="774.4" r="0.9"/><circle cx="344.8" cy="774.7" r="1.1"/><circle cx="353.4" cy="774.2" r="1.0"/><circle cx="337.4" cy="776.5" r="1.0"/><circle cx="344.8" cy="698.6" r="1.1"/><circle cx="337.8" cy="699.9" r="0.9"/><circle cx="337.9" cy="701.3" r="0.9"/><circle cx="340.9" cy="709.5" r="1.0"/><circle cx="340.1" cy="700.5" r="1.0"/><circle cx="347.6" cy="709.3" r="1.0"/><circle cx="336.6" cy="703.3" r="1.1"/></g>
<text x="52.0" y="504.0" font-size="20.5" font-weight="bold" text-anchor="middle" fill="#000" transform="rotate(-90 52 504)">pSuper</text>
<text x="52.0" y="624.3" font-size="20.5" font-weight="bold" text-anchor="middle" fill="#000" transform="rotate(-90 52 624.3)">shKDM5B#1</text>
<text x="52.0" y="753.0" font-size="20.5" font-weight="bold" text-anchor="middle" fill="#000" transform="rotate(-90 52 753)">shKDM5B#2</text>
<text x="140.0" y="829.0" font-size="20" font-weight="bold" text-anchor="middle" fill="#000">BxPC-3</text>
<text x="312.0" y="829.0" font-size="20" font-weight="bold" text-anchor="middle" fill="#000">CFPAC-1</text>
<rect x="507.0" y="541.1" width="21.0" height="34.8" fill="#41eaa9" stroke="#30e39a" stroke-width="1"/>
<line x1="517.5" y1="541.1" x2="517.5" y2="538.2" stroke="#41eaa9" stroke-width="1.6"/>
<line x1="512.9" y1="538.2" x2="522.1" y2="538.2" stroke="#41eaa9" stroke-width="1.6"/>
<rect x="536.3" y="553.7" width="21.3" height="22.2" fill="#bb57d6" stroke="#a844cf" stroke-width="1"/>
<line x1="547.0" y1="553.7" x2="547.0" y2="552.7" stroke="#bb57d6" stroke-width="1.6"/>
<line x1="542.4" y1="552.7" x2="551.6" y2="552.7" stroke="#bb57d6" stroke-width="1.6"/>
<text x="547.0" y="550.2" font-size="15" font-weight="bold" text-anchor="middle" fill="#1a1a1a">*</text>
<rect x="565.8" y="555.6" width="21.0" height="20.3" fill="#56a3f6" stroke="#3f8ff5" stroke-width="1"/>
<line x1="576.3" y1="555.6" x2="576.3" y2="553.7" stroke="#56a3f6" stroke-width="1.6"/>
<line x1="571.7" y1="553.7" x2="580.9" y2="553.7" stroke="#56a3f6" stroke-width="1.6"/>
<text x="576.3" y="551.2" font-size="15" font-weight="bold" text-anchor="middle" fill="#1a1a1a">*</text>
<rect x="615.6" y="498.6" width="20.7" height="77.3" fill="#41eaa9" stroke="#30e39a" stroke-width="1"/>
<line x1="626.0" y1="498.6" x2="626.0" y2="496.6" stroke="#41eaa9" stroke-width="1.6"/>
<line x1="621.4" y1="496.6" x2="630.6" y2="496.6" stroke="#41eaa9" stroke-width="1.6"/>
<rect x="644.9" y="536.3" width="21.0" height="39.6" fill="#bb57d6" stroke="#a844cf" stroke-width="1"/>
<line x1="655.4" y1="536.3" x2="655.4" y2="532.4" stroke="#bb57d6" stroke-width="1.6"/>
<line x1="650.8" y1="532.4" x2="660.0" y2="532.4" stroke="#bb57d6" stroke-width="1.6"/>
<text x="655.4" y="529.9" font-size="15" font-weight="bold" text-anchor="middle" fill="#1a1a1a">**</text>
<rect x="674.7" y="532.4" width="20.7" height="43.5" fill="#56a3f6" stroke="#3f8ff5" stroke-width="1"/>
<line x1="685.0" y1="532.4" x2="685.0" y2="528.5" stroke="#56a3f6" stroke-width="1.6"/>
<line x1="680.4" y1="528.5" x2="689.6" y2="528.5" stroke="#56a3f6" stroke-width="1.6"/>
<text x="685.0" y="526.0" font-size="15" font-weight="bold" text-anchor="middle" fill="#1a1a1a">**</text>
<line x1="493.1" y1="429.9" x2="493.1" y2="576.8" stroke="#000" stroke-width="1.8"/>
<line x1="492.2" y1="575.9" x2="709.0" y2="575.9" stroke="#000" stroke-width="1.8"/>
<line x1="488.9" y1="575.9" x2="493.1" y2="575.9" stroke="#000" stroke-width="1.8"/>
<text x="485.5" y="579.8" font-size="10.8" font-weight="bold" text-anchor="end" fill="#000">0</text>
<line x1="488.9" y1="527.6" x2="493.1" y2="527.6" stroke="#000" stroke-width="1.8"/>
<text x="485.5" y="531.5" font-size="10.8" font-weight="bold" text-anchor="end" fill="#000">50</text>
<line x1="488.9" y1="479.2" x2="493.1" y2="479.2" stroke="#000" stroke-width="1.8"/>
<text x="485.5" y="483.1" font-size="10.8" font-weight="bold" text-anchor="end" fill="#000">100</text>
<line x1="488.9" y1="430.9" x2="493.1" y2="430.9" stroke="#000" stroke-width="1.8"/>
<text x="485.5" y="434.8" font-size="10.8" font-weight="bold" text-anchor="end" fill="#000">150</text>
<rect x="503.2" y="425.9" width="16.8" height="7.6" rx="1.3" fill="#41eaa9"/>
<text x="525.0" y="434.3" font-size="14.7" font-weight="bold" text-anchor="start" fill="#000">shCtrl</text>
<rect x="503.2" y="444.0" width="16.8" height="7.6" rx="1.3" fill="#bb57d6"/>
<text x="525.0" y="452.4" font-size="14.7" font-weight="bold" text-anchor="start" fill="#000">shKDM5B#1</text>
<rect x="503.2" y="463.7" width="16.8" height="7.6" rx="1.3" fill="#56a3f6"/>
<text x="525.0" y="472.1" font-size="14.7" font-weight="bold" text-anchor="start" fill="#000">shKDM5B#2</text>
<text x="442.3" y="501.5" font-size="15.5" font-weight="bold" text-anchor="middle" fill="#000" transform="rotate(-90 442.3 501.5)">Number of spheres</text>
<text x="462.0" y="499.4" font-size="15.3" font-weight="bold" text-anchor="middle" fill="#000" transform="rotate(-90 462 499.4)">/1000 cells</text>
<text x="544.8" y="593.0" font-size="14.5" font-weight="bold" text-anchor="middle" fill="#000">Primary Spheres</text>
<text x="675.5" y="593.0" font-size="14.5" font-weight="bold" text-anchor="middle" fill="#000">Secondary Spheres</text>
<text x="622.7" y="610.0" font-size="17" font-weight="bold" text-anchor="middle" fill="#000">BxPC-3</text>
<rect x="517.0" y="757.7" width="21.0" height="39.4" fill="#41eaa9" stroke="#30e39a" stroke-width="1"/>
<line x1="527.5" y1="757.7" x2="527.5" y2="755.2" stroke="#41eaa9" stroke-width="1.6"/>
<line x1="522.5" y1="755.2" x2="532.5" y2="755.2" stroke="#41eaa9" stroke-width="1.6"/>
<rect x="546.7" y="771.5" width="21.3" height="25.6" fill="#bb57d6" stroke="#a844cf" stroke-width="1"/>
<line x1="557.4" y1="771.5" x2="557.4" y2="769.5" stroke="#bb57d6" stroke-width="1.6"/>
<line x1="552.4" y1="769.5" x2="562.4" y2="769.5" stroke="#bb57d6" stroke-width="1.6"/>
<text x="557.4" y="767.0" font-size="15" font-weight="bold" text-anchor="middle" fill="#1a1a1a">*</text>
<rect x="576.7" y="777.4" width="21.1" height="19.7" fill="#56a3f6" stroke="#3f8ff5" stroke-width="1"/>
<line x1="587.2" y1="777.4" x2="587.2" y2="773.4" stroke="#56a3f6" stroke-width="1.6"/>
<line x1="582.2" y1="773.4" x2="592.2" y2="773.4" stroke="#56a3f6" stroke-width="1.6"/>
<text x="587.2" y="770.9" font-size="15" font-weight="bold" text-anchor="middle" fill="#1a1a1a">**</text>
<rect x="627.0" y="703.4" width="20.8" height="93.7" fill="#41eaa9" stroke="#30e39a" stroke-width="1"/>
<line x1="637.4" y1="703.4" x2="637.4" y2="698.5" stroke="#41eaa9" stroke-width="1.6"/>
<line x1="632.4" y1="698.5" x2="642.4" y2="698.5" stroke="#41eaa9" stroke-width="1.6"/>
<rect x="656.8" y="748.8" width="20.8" height="48.3" fill="#bb57d6" stroke="#a844cf" stroke-width="1"/>
<line x1="667.2" y1="748.8" x2="667.2" y2="742.9" stroke="#bb57d6" stroke-width="1.6"/>
<line x1="662.2" y1="742.9" x2="672.2" y2="742.9" stroke="#bb57d6" stroke-width="1.6"/>
<text x="667.2" y="740.4" font-size="15" font-weight="bold" text-anchor="middle" fill="#1a1a1a">*</text>
<rect x="686.6" y="751.7" width="21.1" height="45.4" fill="#56a3f6" stroke="#3f8ff5" stroke-width="1"/>
<line x1="697.2" y1="751.7" x2="697.2" y2="749.8" stroke="#56a3f6" stroke-width="1.6"/>
<line x1="692.2" y1="749.8" x2="702.2" y2="749.8" stroke="#56a3f6" stroke-width="1.6"/>
<text x="697.2" y="747.3" font-size="15" font-weight="bold" text-anchor="middle" fill="#1a1a1a">**</text>
<line x1="502.4" y1="648.2" x2="502.4" y2="798.0" stroke="#000" stroke-width="1.8"/>
<line x1="501.5" y1="797.1" x2="722.0" y2="797.1" stroke="#000" stroke-width="1.8"/>
<line x1="498.7" y1="797.1" x2="502.4" y2="797.1" stroke="#000" stroke-width="1.8"/>
<text x="496.0" y="800.7" font-size="10" font-weight="bold" text-anchor="end" fill="#000">0</text>
<line x1="498.7" y1="747.8" x2="502.4" y2="747.8" stroke="#000" stroke-width="1.8"/>
<text x="496.0" y="751.4" font-size="10" font-weight="bold" text-anchor="end" fill="#000">50</text>
<line x1="498.7" y1="698.5" x2="502.4" y2="698.5" stroke="#000" stroke-width="1.8"/>
<text x="496.0" y="702.1" font-size="10" font-weight="bold" text-anchor="end" fill="#000">100</text>
<line x1="498.7" y1="649.2" x2="502.4" y2="649.2" stroke="#000" stroke-width="1.8"/>
<text x="496.0" y="652.8" font-size="10" font-weight="bold" text-anchor="end" fill="#000">150</text>
<rect x="515.7" y="643.2" width="16.8" height="7.6" rx="1.3" fill="#41eaa9"/>
<text x="538.0" y="651.6" font-size="14.7" font-weight="bold" text-anchor="start" fill="#000">shCtrl</text>
<rect x="515.7" y="661.4000000000001" width="16.8" height="7.6" rx="1.3" fill="#bb57d6"/>
<text x="538.0" y="669.8" font-size="14.7" font-weight="bold" text-anchor="start" fill="#000">shKDM5B#1</text>
<rect x="515.7" y="681.2" width="16.8" height="7.6" rx="1.3" fill="#56a3f6"/>
<text x="538.0" y="689.6" font-size="14.7" font-weight="bold" text-anchor="start" fill="#000">shKDM5B#2</text>
<text x="451.8" y="730.5" font-size="15.4" font-weight="bold" text-anchor="middle" fill="#000" transform="rotate(-90 451.8 730.5)">Number of spheres</text>
<text x="472.0" y="728.6" font-size="15.3" font-weight="bold" text-anchor="middle" fill="#000" transform="rotate(-90 472 728.6)">/1000 cells</text>
<text x="559.7" y="815.0" font-size="14.5" font-weight="bold" text-anchor="middle" fill="#000">Primary Spheres</text>
<text x="690.4" y="815.0" font-size="14.5" font-weight="bold" text-anchor="middle" fill="#000">Secondary Spheres</text>
<text x="626.5" y="843.0" font-size="20.8" font-weight="bold" text-anchor="middle" fill="#000">CFPAC-1</text>
<text x="888.5" y="500.0" font-size="30" font-weight="bold" text-anchor="start" fill="#000">D</text>
<rect x="928.0" y="518.0" width="154.0" height="113.0" fill="url(#g7)" />
<g fill="#f2f4ee" opacity="0.8"><circle cx="948.8" cy="537.9" r="2.5"/><circle cx="951.0" cy="538.7" r="2.3"/></g>
<g fill="#d4cc9e" stroke="#9a9270" stroke-width="0.5"><circle cx="948.8" cy="537.9" r="1.6"/><circle cx="951.0" cy="538.7" r="1.4"/></g>
<g fill="#f2f4ee" opacity="0.8"><circle cx="977.9" cy="530.6" r="2.7"/><circle cx="978.5" cy="531.1" r="2.5"/></g>
<g fill="#d4cc9e" stroke="#9a9270" stroke-width="0.5"><circle cx="977.9" cy="530.6" r="1.8"/><circle cx="978.5" cy="531.1" r="1.6"/></g>
<g fill="#f2f4ee" opacity="0.8"><circle cx="986.9" cy="560.1" r="2.1"/><circle cx="989.2" cy="560.1" r="2.3"/></g>
<g fill="#d4cc9e" stroke="#9a9270" stroke-width="0.5"><circle cx="986.9" cy="560.1" r="1.2"/><circle cx="989.2" cy="560.1" r="1.4"/></g>
<g fill="#f2f4ee" opacity="0.8"><circle cx="998.6" cy="587.2" r="2.5"/><circle cx="997.6" cy="586.4" r="2.1"/></g>
<g fill="#d4cc9e" stroke="#9a9270" stroke-width="0.5"><circle cx="998.6" cy="587.2" r="1.6"/><circle cx="997.6" cy="586.4" r="1.2"/></g>
<g fill="#f2f4ee" opacity="0.8"><circle cx="1009.2" cy="594.9" r="2.5"/><circle cx="1006.3" cy="593.6" r="2.5"/></g>
<g fill="#d4cc9e" stroke="#9a9270" stroke-width="0.5"><circle cx="1009.2" cy="594.9" r="1.6"/><circle cx="1006.3" cy="593.6" r="1.6"/></g>
<g fill="#f2f4ee" opacity="0.8"><circle cx="1032.0" cy="584.5" r="2.6"/><circle cx="1032.3" cy="584.4" r="2.5"/></g>
<g fill="#d4cc9e" stroke="#9a9270" stroke-width="0.5"><circle cx="1032.0" cy="584.5" r="1.7"/><circle cx="1032.3" cy="584.4" r="1.6"/></g>
<g fill="#f2f4ee" opacity="0.8"><circle cx="1045.3" cy="598.2" r="2.0"/><circle cx="1045.8" cy="598.0" r="2.0"/></g>
<g fill="#d4cc9e" stroke="#9a9270" stroke-width="0.5"><circle cx="1045.3" cy="598.2" r="1.1"/><circle cx="1045.8" cy="598.0" r="1.1"/></g>
<g fill="#f2f4ee" opacity="0.8"><circle cx="1029.8" cy="600.8" r="2.7"/><circle cx="1030.6" cy="600.7" r="2.2"/></g>
<g fill="#d4cc9e" stroke="#9a9270" stroke-width="0.5"><circle cx="1029.8" cy="600.8" r="1.8"/><circle cx="1030.6" cy="600.7" r="1.3"/></g>
<g fill="#f2f4ee" opacity="0.8"><circle cx="946.2" cy="614.7" r="2.6"/><circle cx="946.6" cy="613.9" r="2.1"/></g>
<g fill="#d4cc9e" stroke="#9a9270" stroke-width="0.5"><circle cx="946.2" cy="614.7" r="1.7"/><circle cx="946.6" cy="613.9" r="1.2"/></g>
<g fill="#f2f4ee" opacity="0.8"><circle cx="1046.8" cy="620.2" r="2.4"/><circle cx="1046.5" cy="620.3" r="2.7"/></g>
<g fill="#d4cc9e" stroke="#9a9270" stroke-width="0.5"><circle cx="1046.8" cy="620.2" r="1.5"/><circle cx="1046.5" cy="620.3" r="1.8"/></g>
<circle cx="1035.4" cy="558.1" r="3.2" fill="#e6e6d0" stroke="#8a8468" stroke-width="0.8"/>
<circle cx="960.9" cy="526.2" r="0.9" fill="#6a6450"/>
<circle cx="968.5" cy="532" r="0.9" fill="#6a6450"/>
<circle cx="1004.3" cy="556.2" r="0.9" fill="#6a6450"/>
<circle cx="944" cy="563" r="0.9" fill="#6a6450"/>
<circle cx="1011.8" cy="609.7" r="0.9" fill="#6a6450"/>
<circle cx="964.2" cy="623.1" r="0.9" fill="#6a6450"/>
<rect x="928.0" y="644.6" width="154.0" height="113.2" fill="url(#g8)" />
<g fill="#f2f4ee" opacity="0.8"><circle cx="981.9" cy="667.9" r="2.8"/><circle cx="982.6" cy="670.5" r="2.4"/><circle cx="981.6" cy="668.9" r="2.4"/><circle cx="981.6" cy="668.2" r="2.6"/><circle cx="983.0" cy="670.5" r="2.5"/><circle cx="987.1" cy="668.5" r="2.3"/></g>
<g fill="#d2ca9c" stroke="#8a8266" stroke-width="0.5"><circle cx="981.9" cy="667.9" r="1.9"/><circle cx="982.6" cy="670.5" r="1.5"/><circle cx="981.6" cy="668.9" r="1.5"/><circle cx="981.6" cy="668.2" r="1.7"/><circle cx="983.0" cy="670.5" r="1.6"/><circle cx="987.1" cy="668.5" r="1.4"/></g>
<g fill="#f2f4ee" opacity="0.8"><circle cx="951.0" cy="689.4" r="2.2"/><circle cx="952.3" cy="691.9" r="2.8"/><circle cx="953.4" cy="691.9" r="2.6"/><circle cx="955.8" cy="691.1" r="2.3"/><circle cx="954.0" cy="690.3" r="2.7"/><circle cx="951.9" cy="691.6" r="2.4"/><circle cx="952.4" cy="688.8" r="2.4"/></g>
<g fill="#d2ca9c" stroke="#8a8266" stroke-width="0.5"><circle cx="951.0" cy="689.4" r="1.3"/><circle cx="952.3" cy="691.9" r="1.9"/><circle cx="953.4" cy="691.9" r="1.7"/><circle cx="955.8" cy="691.1" r="1.4"/><circle cx="954.0" cy="690.3" r="1.8"/><circle cx="951.9" cy="691.6" r="1.5"/><circle cx="952.4" cy="688.8" r="1.5"/></g>
<g fill="#f2f4ee" opacity="0.8"><circle cx="975.6" cy="688.8" r="2.6"/><circle cx="972.8" cy="688.9" r="3.1"/><circle cx="973.9" cy="689.6" r="2.2"/><circle cx="974.4" cy="687.0" r="2.6"/></g>
<g fill="#d2ca9c" stroke="#8a8266" stroke-width="0.5"><circle cx="975.6" cy="688.8" r="1.7"/><circle cx="972.8" cy="688.9" r="2.2"/><circle cx="973.9" cy="689.6" r="1.3"/><circle cx="974.4" cy="687.0" r="1.7"/></g>
<g fill="#f2f4ee" opacity="0.8"><circle cx="1023.9" cy="670.8" r="2.7"/><circle cx="1024.7" cy="670.5" r="2.7"/><circle cx="1028.4" cy="669.7" r="2.9"/><circle cx="1028.1" cy="668.3" r="2.3"/><circle cx="1028.8" cy="667.2" r="2.7"/><circle cx="1029.3" cy="668.4" r="2.4"/></g>
<g fill="#d2ca9c" stroke="#8a8266" stroke-width="0.5"><circle cx="1023.9" cy="670.8" r="1.8"/><circle cx="1024.7" cy="670.5" r="1.8"/><circle cx="1028.4" cy="669.7" r="2.0"/><circle cx="1028.1" cy="668.3" r="1.4"/><circle cx="1028.8" cy="667.2" r="1.8"/><circle cx="1029.3" cy="668.4" r="1.5"/></g>
<g fill="#f2f4ee" opacity="0.8"><circle cx="1045.6" cy="661.8" r="2.7"/><circle cx="1044.5" cy="663.4" r="2.5"/><circle cx="1046.8" cy="662.1" r="3.1"/></g>
<g fill="#d2ca9c" stroke="#8a8266" stroke-width="0.5"><circle cx="1045.6" cy="661.8" r="1.8"/><circle cx="1044.5" cy="663.4" r="1.6"/><circle cx="1046.8" cy="662.1" r="2.2"/></g>
<g fill="#f2f4ee" opacity="0.8"><circle cx="1055.2" cy="678.7" r="2.7"/><circle cx="1055.5" cy="679.0" r="2.4"/></g>
<g fill="#d2ca9c" stroke="#8a8266" stroke-width="0.5"><circle cx="1055.2" cy="678.7" r="1.8"/><circle cx="1055.5" cy="679.0" r="1.5"/></g>
<g fill="#f2f4ee" opacity="0.8"><circle cx="1052.4" cy="690.0" r="2.9"/><circle cx="1054.9" cy="691.2" r="3.1"/></g>
<g fill="#d2ca9c" stroke="#8a8266" stroke-width="0.5"><circle cx="1052.4" cy="690.0" r="2.0"/><circle cx="1054.9" cy="691.2" r="2.2"/></g>
<g fill="#f2f4ee" opacity="0.8"><circle cx="981.6" cy="708.0" r="3.0"/><circle cx="980.5" cy="705.5" r="2.8"/><circle cx="981.0" cy="708.2" r="3.0"/><circle cx="979.8" cy="706.5" r="2.4"/></g>
<g fill="#d2ca9c" stroke="#8a8266" stroke-width="0.5"><circle cx="981.6" cy="708.0" r="2.1"/><circle cx="980.5" cy="705.5" r="1.9"/><circle cx="981.0" cy="708.2" r="2.1"/><circle cx="979.8" cy="706.5" r="1.5"/></g>
<circle cx="981.1" cy="708.6" r="1.1" fill="#1e1c18"/>
<g fill="#f2f4ee" opacity="0.8"><circle cx="952.7" cy="716.2" r="2.3"/><circle cx="954.8" cy="713.0" r="2.7"/><circle cx="954.9" cy="713.0" r="2.8"/><circle cx="955.5" cy="715.3" r="2.5"/></g>
<g fill="#d2ca9c" stroke="#8a8266" stroke-width="0.5"><circle cx="952.7" cy="716.2" r="1.4"/><circle cx="954.8" cy="713.0" r="1.8"/><circle cx="954.9" cy="713.0" r="1.9"/><circle cx="955.5" cy="715.3" r="1.6"/></g>
<circle cx="952.7" cy="716.5" r="1.1" fill="#1e1c18"/>
<g fill="#f2f4ee" opacity="0.8"><circle cx="1029.1" cy="714.4" r="3.1"/><circle cx="1026.7" cy="718.2" r="2.4"/><circle cx="1027.4" cy="718.6" r="3.0"/><circle cx="1027.0" cy="715.5" r="2.3"/><circle cx="1028.5" cy="716.2" r="2.2"/><circle cx="1025.3" cy="717.7" r="2.8"/><circle cx="1030.0" cy="718.8" r="2.5"/><circle cx="1025.2" cy="718.5" r="2.7"/><circle cx="1029.5" cy="714.5" r="2.3"/><circle cx="1031.0" cy="715.1" r="2.6"/></g>
<g fill="#d2ca9c" stroke="#8a8266" stroke-width="0.5"><circle cx="1029.1" cy="714.4" r="2.2"/><circle cx="1026.7" cy="718.2" r="1.5"/><circle cx="1027.4" cy="718.6" r="2.1"/><circle cx="1027.0" cy="715.5" r="1.4"/><circle cx="1028.5" cy="716.2" r="1.3"/><circle cx="1025.3" cy="717.7" r="1.9"/><circle cx="1030.0" cy="718.8" r="1.6"/><circle cx="1025.2" cy="718.5" r="1.8"/><circle cx="1029.5" cy="714.5" r="1.4"/><circle cx="1031.0" cy="715.1" r="1.7"/></g>
<g fill="#f2f4ee" opacity="0.8"><circle cx="1049.5" cy="713.3" r="2.9"/><circle cx="1049.6" cy="708.7" r="2.2"/><circle cx="1048.6" cy="707.6" r="2.3"/><circle cx="1050.9" cy="711.6" r="3.0"/><circle cx="1047.1" cy="707.9" r="2.3"/><circle cx="1049.7" cy="708.5" r="2.9"/><circle cx="1051.2" cy="716.2" r="2.5"/><circle cx="1054.6" cy="710.2" r="2.9"/><circle cx="1053.6" cy="709.9" r="2.5"/><circle cx="1046.1" cy="713.0" r="2.7"/><circle cx="1051.8" cy="707.3" r="2.2"/><circle cx="1052.6" cy="709.8" r="3.1"/><circle cx="1052.1" cy="708.8" r="2.9"/><circle cx="1053.0" cy="712.1" r="3.1"/><circle cx="1054.1" cy="714.2" r="2.9"/><circle cx="1052.3" cy="712.1" r="2.5"/></g>
<g fill="#d2ca9c" stroke="#8a8266" stroke-width="0.5"><circle cx="1049.5" cy="713.3" r="2.0"/><circle cx="1049.6" cy="708.7" r="1.3"/><circle cx="1048.6" cy="707.6" r="1.4"/><circle cx="1050.9" cy="711.6" r="2.1"/><circle cx="1047.1" cy="707.9" r="1.4"/><circle cx="1049.7" cy="708.5" r="2.0"/><circle cx="1051.2" cy="716.2" r="1.6"/><circle cx="1054.6" cy="710.2" r="2.0"/><circle cx="1053.6" cy="709.9" r="1.6"/><circle cx="1046.1" cy="713.0" r="1.8"/><circle cx="1051.8" cy="707.3" r="1.3"/><circle cx="1052.6" cy="709.8" r="2.2"/><circle cx="1052.1" cy="708.8" r="2.0"/><circle cx="1053.0" cy="712.1" r="2.2"/><circle cx="1054.1" cy="714.2" r="2.0"/><circle cx="1052.3" cy="712.1" r="1.6"/></g>
<circle cx="1050.7" cy="711.1" r="1.1" fill="#1e1c18"/>
<circle cx="1049.4" cy="712.9" r="1.1" fill="#1e1c18"/>
<g fill="#f2f4ee" opacity="0.8"><circle cx="1069.5" cy="710.8" r="2.2"/><circle cx="1072.1" cy="709.2" r="2.8"/><circle cx="1071.8" cy="704.8" r="2.9"/><circle cx="1070.4" cy="701.7" r="2.8"/><circle cx="1069.8" cy="712.0" r="2.9"/><circle cx="1070.3" cy="708.8" r="3.0"/><circle cx="1066.4" cy="702.2" r="2.8"/><circle cx="1070.4" cy="714.2" r="2.8"/><circle cx="1069.3" cy="713.2" r="2.3"/><circle cx="1066.9" cy="714.4" r="2.8"/><circle cx="1070.1" cy="707.5" r="2.3"/><circle cx="1068.1" cy="702.9" r="2.4"/><circle cx="1068.8" cy="701.3" r="2.9"/><circle cx="1066.1" cy="699.7" r="2.7"/><circle cx="1067.1" cy="703.0" r="2.9"/><circle cx="1070.1" cy="712.4" r="3.1"/><circle cx="1067.2" cy="707.7" r="2.5"/><circle cx="1067.0" cy="703.8" r="2.5"/><circle cx="1068.8" cy="710.0" r="3.1"/><circle cx="1072.1" cy="700.7" r="2.4"/><circle cx="1072.4" cy="713.6" r="2.7"/><circle cx="1066.8" cy="700.7" r="2.2"/><circle cx="1072.6" cy="711.3" r="2.7"/><circle cx="1070.0" cy="704.9" r="2.7"/></g>
<g fill="#d2ca9c" stroke="#8a8266" stroke-width="0.5"><circle cx="1069.5" cy="710.8" r="1.3"/><circle cx="1072.1" cy="709.2" r="1.9"/><circle cx="1071.8" cy="704.8" r="2.0"/><circle cx="1070.4" cy="701.7" r="1.9"/><circle cx="1069.8" cy="712.0" r="2.0"/><circle cx="1070.3" cy="708.8" r="2.1"/><circle cx="1066.4" cy="702.2" r="1.9"/><circle cx="1070.4" cy="714.2" r="1.9"/><circle cx="1069.3" cy="713.2" r="1.4"/><circle cx="1066.9" cy="714.4" r="1.9"/><circle cx="1070.1" cy="707.5" r="1.4"/><circle cx="1068.1" cy="702.9" r="1.5"/><circle cx="1068.8" cy="701.3" r="2.0"/><circle cx="1066.1" cy="699.7" r="1.8"/><circle cx="1067.1" cy="703.0" r="2.0"/><circle cx="1070.1" cy="712.4" r="2.2"/><circle cx="1067.2" cy="707.7" r="1.6"/><circle cx="1067.0" cy="703.8" r="1.6"/><circle cx="1068.8" cy="710.0" r="2.2"/><circle cx="1072.1" cy="700.7" r="1.5"/><circle cx="1072.4" cy="713.6" r="1.8"/><circle cx="1066.8" cy="700.7" r="1.3"/><circle cx="1072.6" cy="711.3" r="1.8"/><circle cx="1070.0" cy="704.9" r="1.8"/></g>
<circle cx="1067.5" cy="709.4" r="1.1" fill="#1e1c18"/>
<g fill="#f2f4ee" opacity="0.8"><circle cx="958.1" cy="750.5" r="2.8"/><circle cx="956.4" cy="748.0" r="2.3"/><circle cx="956.3" cy="749.5" r="3.1"/><circle cx="958.7" cy="748.4" r="2.3"/><circle cx="956.6" cy="746.3" r="2.3"/><circle cx="960.0" cy="745.6" r="2.6"/></g>
<g fill="#d2ca9c" stroke="#8a8266" stroke-width="0.5"><circle cx="958.1" cy="750.5" r="1.9"/><circle cx="956.4" cy="748.0" r="1.4"/><circle cx="956.3" cy="749.5" r="2.2"/><circle cx="958.7" cy="748.4" r="1.4"/><circle cx="956.6" cy="746.3" r="1.4"/><circle cx="960.0" cy="745.6" r="1.7"/></g>
<circle cx="957.1" cy="746.4" r="1.1" fill="#1e1c18"/>
<g fill="#f2f4ee" opacity="0.8"><circle cx="976.3" cy="730.5" r="2.2"/><circle cx="977.4" cy="731.3" r="2.5"/></g>
<g fill="#d2ca9c" stroke="#8a8266" stroke-width="0.5"><circle cx="976.3" cy="730.5" r="1.3"/><circle cx="977.4" cy="731.3" r="1.6"/></g>
<g fill="#f2f4ee" opacity="0.8"><circle cx="991.8" cy="727.6" r="2.5"/><circle cx="991.8" cy="727.8" r="2.4"/></g>
<g fill="#d2ca9c" stroke="#8a8266" stroke-width="0.5"><circle cx="991.8" cy="727.6" r="1.6"/><circle cx="991.8" cy="727.8" r="1.5"/></g>
<g fill="#f2f4ee" opacity="0.8"><circle cx="985.9" cy="647.5" r="2.3"/><circle cx="986.8" cy="645.9" r="2.2"/></g>
<g fill="#d2ca9c" stroke="#8a8266" stroke-width="0.5"><circle cx="985.9" cy="647.5" r="1.4"/><circle cx="986.8" cy="645.9" r="1.3"/></g>
<g fill="#f2f4ee" opacity="0.8"><circle cx="1035.9" cy="647.0" r="2.8"/><circle cx="1034.7" cy="646.5" r="2.7"/></g>
<g fill="#d2ca9c" stroke="#8a8266" stroke-width="0.5"><circle cx="1035.9" cy="647.0" r="1.9"/><circle cx="1034.7" cy="646.5" r="1.8"/></g>
<g fill="#f2f4ee" opacity="0.8"><circle cx="1052.4" cy="649.8" r="2.4"/><circle cx="1050.2" cy="650.1" r="2.4"/></g>
<g fill="#d2ca9c" stroke="#8a8266" stroke-width="0.5"><circle cx="1052.4" cy="649.8" r="1.5"/><circle cx="1050.2" cy="650.1" r="1.5"/></g>
<g fill="#f2f4ee" opacity="0.8"><circle cx="930.4" cy="655.6" r="3.1"/><circle cx="930.5" cy="655.9" r="3.0"/></g>
<g fill="#d2ca9c" stroke="#8a8266" stroke-width="0.5"><circle cx="930.4" cy="655.6" r="2.2"/><circle cx="930.5" cy="655.9" r="2.1"/></g>
<circle cx="1037" cy="685.4" r="4" fill="#ddd8b8" stroke="#8a8266" stroke-width="0.9"/>
<circle cx="992.2" cy="714" r="3.5" fill="#ddd8b8" stroke="#8a8266" stroke-width="0.9"/>
<circle cx="933.4" cy="730.8" r="4" fill="#ddd8b8" stroke="#8a8266" stroke-width="0.9"/>
<circle cx="939" cy="665.8" r="1" fill="#6a6450"/>
<circle cx="953" cy="661.8" r="1" fill="#6a6450"/>
<circle cx="945.7" cy="682" r="1" fill="#6a6450"/>
<circle cx="1005.7" cy="699.4" r="1" fill="#6a6450"/>
<circle cx="1014" cy="711.7" r="1" fill="#6a6450"/>
<circle cx="936.2" cy="719" r="1" fill="#6a6450"/>
<circle cx="954.7" cy="726.3" r="1" fill="#6a6450"/>
<circle cx="1025.8" cy="748.7" r="1" fill="#6a6450"/>
<circle cx="1033" cy="750.4" r="1" fill="#6a6450"/>
<circle cx="1064.5" cy="664" r="1" fill="#6a6450"/>
<text x="921.5" y="580.3" font-size="21.3" font-weight="bold" text-anchor="middle" fill="#000" transform="rotate(-90 921.5 580.3)">pBabe</text>
<text x="921.5" y="704.0" font-size="21.5" font-weight="bold" text-anchor="middle" fill="#000" transform="rotate(-90 921.5 704)">KDM5B</text>
<text x="984.0" y="786.6" font-size="20" font-weight="bold" text-anchor="middle" fill="#000">Capan1</text>
<rect x="1185.8" y="668.8" width="31.9" height="55.6" fill="#41eaa9" stroke="#30e39a" stroke-width="1"/>
<line x1="1201.8" y1="668.8" x2="1201.8" y2="662.1" stroke="#41eaa9" stroke-width="2"/>
<line x1="1193.8" y1="662.1" x2="1209.8" y2="662.1" stroke="#41eaa9" stroke-width="2"/>
<rect x="1233.0" y="645.4" width="32.3" height="79.0" fill="#56a3f6" stroke="#3f8ff5" stroke-width="1"/>
<line x1="1249.2" y1="645.4" x2="1249.2" y2="639.8" stroke="#56a3f6" stroke-width="2"/>
<line x1="1241.2" y1="639.8" x2="1257.2" y2="639.8" stroke="#56a3f6" stroke-width="2"/>
<text x="1249.2" y="636.8" font-size="13" font-weight="bold" text-anchor="middle" fill="#1a1a1a">*</text>
<rect x="1311.7" y="655.4" width="31.8" height="69.0" fill="#41eaa9" stroke="#30e39a" stroke-width="1"/>
<line x1="1327.6" y1="655.4" x2="1327.6" y2="651.0" stroke="#41eaa9" stroke-width="2"/>
<line x1="1319.6" y1="651.0" x2="1335.6" y2="651.0" stroke="#41eaa9" stroke-width="2"/>
<rect x="1358.9" y="623.1" width="31.8" height="101.3" fill="#56a3f6" stroke="#3f8ff5" stroke-width="1"/>
<line x1="1374.8" y1="623.1" x2="1374.8" y2="617.6" stroke="#56a3f6" stroke-width="2"/>
<line x1="1366.8" y1="617.6" x2="1382.8" y2="617.6" stroke="#56a3f6" stroke-width="2"/>
<text x="1374.8" y="614.6" font-size="13" font-weight="bold" text-anchor="middle" fill="#1a1a1a">*</text>
<line x1="1162.0" y1="556.5" x2="1162.0" y2="725.3" stroke="#000" stroke-width="1.8"/>
<line x1="1161.1" y1="724.4" x2="1414.0" y2="724.4" stroke="#000" stroke-width="1.8"/>
<line x1="1158.0" y1="724.4" x2="1162.0" y2="724.4" stroke="#000" stroke-width="1.8"/>
<text x="1156.0" y="728.7" font-size="12" font-weight="bold" text-anchor="end" fill="#000">0</text>
<line x1="1158.0" y1="668.8" x2="1162.0" y2="668.8" stroke="#000" stroke-width="1.8"/>
<text x="1156.0" y="673.1" font-size="12" font-weight="bold" text-anchor="end" fill="#000">50</text>
<line x1="1158.0" y1="613.1" x2="1162.0" y2="613.1" stroke="#000" stroke-width="1.8"/>
<text x="1156.0" y="617.5" font-size="12" font-weight="bold" text-anchor="end" fill="#000">100</text>
<line x1="1158.0" y1="557.5" x2="1162.0" y2="557.5" stroke="#000" stroke-width="1.8"/>
<text x="1156.0" y="561.8" font-size="12" font-weight="bold" text-anchor="end" fill="#000">150</text>
<rect x="1177.8" y="549.9" width="19.2" height="9.0" fill="#41eaa9" />
<text x="1205.4" y="559.7" font-size="14.5" font-weight="bold" text-anchor="start" fill="#000">Vec</text>
<rect x="1177.8" y="569.1" width="19.2" height="9.0" fill="#56a3f6" />
<text x="1205.4" y="578.9" font-size="14.5" font-weight="bold" text-anchor="start" fill="#000">KDM5B</text>
<text x="1278.7" y="538.3" font-size="16.9" font-weight="bold" text-anchor="middle" fill="#000">Capan-1</text>
<text x="1130.0" y="643.5" font-size="12.5" font-weight="bold" text-anchor="middle" fill="#000" transform="rotate(-90 1130 643.5)">Number of spheres/1000 cells</text>
<text x="1222.0" y="740.5" font-size="14.5" font-weight="bold" text-anchor="middle" fill="#000">Primary Spheres</text>
<text x="1356.0" y="740.5" font-size="14.5" font-weight="bold" text-anchor="middle" fill="#000">Secondary Spheres</text>
<text x="9.8" y="935.0" font-size="30" font-weight="bold" text-anchor="start" fill="#000">E</text>
<rect x="121.6" y="992.4" width="194.9" height="48.8" fill="#fafafa"/>
<rect x="123.6" y="994.4" width="190.9" height="44.8" fill="#fbfbfb"/>
<text x="110.8" y="1023.8" font-size="19.7" font-weight="bold" text-anchor="end" fill="#000">CD133</text>
<text x="394.0" y="1024.1" font-size="20.3" font-weight="normal" text-anchor="end" fill="#000">110kDa</text>
<rect x="121.6" y="1047.9" width="194.9" height="48.6" fill="#fafafa"/>
<rect x="123.6" y="1049.9" width="190.9" height="44.6" fill="#e9e9e9"/>
<text x="110.8" y="1079.2" font-size="19.7" font-weight="bold" text-anchor="end" fill="#000">EpCAM</text>
<text x="394.0" y="1079.5" font-size="20.3" font-weight="normal" text-anchor="end" fill="#000">35kDa</text>
<rect x="121.6" y="1102.6" width="194.9" height="48.6" fill="#fafafa"/>
<rect x="123.6" y="1104.6" width="190.9" height="44.6" fill="#ebebeb"/>
<text x="110.8" y="1133.9" font-size="19.7" font-weight="bold" text-anchor="end" fill="#000">Nanog</text>
<text x="394.0" y="1134.2" font-size="20.3" font-weight="normal" text-anchor="end" fill="#000">42kDa</text>
<rect x="121.6" y="1157.4" width="194.9" height="48.8" fill="#fafafa"/>
<rect x="123.6" y="1159.4" width="190.9" height="44.8" fill="#e9e9e9"/>
<text x="110.8" y="1188.8" font-size="19.7" font-weight="bold" text-anchor="end" fill="#000">SOX2</text>
<text x="394.0" y="1189.1" font-size="20.3" font-weight="normal" text-anchor="end" fill="#000">36kDa</text>
<rect x="121.6" y="1213.5" width="194.9" height="49.0" fill="#fafafa"/>
<rect x="123.6" y="1215.5" width="190.9" height="45.0" fill="#ececec"/>
<text x="110.8" y="1245.0" font-size="19.7" font-weight="bold" text-anchor="end" fill="#000">GAPDH</text>
<text x="394.0" y="1245.3" font-size="20.3" font-weight="normal" text-anchor="end" fill="#000">36kDa</text>
<rect x="126.0" y="995.0" width="60.0" height="42.0" fill="#e6e6e6" opacity="1" filter="url(#b2)"/>
<rect x="125.3" y="1012.1" width="60.0" height="14.4" rx="7.2" fill="#777" opacity="0.4" filter="url(#b2_5)"/>
<rect x="126.8" y="1015.1" width="57.0" height="8.4" rx="4.2" fill="#050505" opacity="1" filter="url(#b0_8)"/>
<rect x="196.6" y="1015.4" width="48.5" height="3.2" rx="1.6" fill="#707070" opacity="1" filter="url(#b0_6)"/>
<rect x="263.5" y="1015.2" width="45.5" height="2.8" rx="1.4" fill="#9a9a9a" opacity="1" filter="url(#b0_6)"/>
<rect x="126.0" y="1051.0" width="61.0" height="42.0" fill="#dadada" opacity="1" filter="url(#b3)"/>
<rect x="126.5" y="1068.5" width="60.3" height="14.0" rx="7.0" fill="#666" opacity="0.4" filter="url(#b2_5)"/>
<rect x="128.0" y="1071.5" width="57.3" height="8.0" rx="4.0" fill="#050505" opacity="1" filter="url(#b0_8)"/>
<rect x="201.5" y="1070.9" width="43.2" height="8.0" rx="4.0" fill="#bbb" opacity="0.5" filter="url(#b2)"/>
<rect x="202.5" y="1072.9" width="41.2" height="4.0" rx="2.0" fill="#858585" opacity="1" filter="url(#b0_8)"/>
<rect x="263.3" y="1069.8" width="48.3" height="9.5" rx="4.8" fill="#aaa" opacity="0.5" filter="url(#b2)"/>
<rect x="264.3" y="1071.8" width="46.3" height="5.5" rx="2.8" fill="#505050" opacity="1" filter="url(#b0_8)"/>
<rect x="126.0" y="1106.0" width="60.0" height="42.0" fill="#dedede" opacity="1" filter="url(#b3)"/>
<rect x="128.2" y="1118.3" width="53.7" height="18.5" rx="9.2" fill="#666" opacity="0.4" filter="url(#b2_5)"/>
<path d="M135.9 1121.3 Q155.1 1124.5 174.2 1121.3 A6.2 6.2 0 0 1 174.2 1133.8 Q155.1 1130.6 135.9 1133.8 A6.2 6.2 0 0 1 135.9 1121.3Z" fill="#050505" filter="url(#b1)"/>
<rect x="201.8" y="1124.0" width="41.2" height="10.0" rx="5.0" fill="#bdbdbd" opacity="1" filter="url(#b2)"/>
<rect x="266.5" y="1124.0" width="40.5" height="10.0" rx="5.0" fill="#b5b5b5" opacity="1" filter="url(#b2)"/>
<rect x="126.0" y="1160.0" width="60.0" height="43.0" fill="#c8c8c8" opacity="1" filter="url(#b4)"/>
<rect x="125.5" y="1170.2" width="59.1" height="25.7" rx="12.8" fill="#555" opacity="0.45" filter="url(#b3)"/>
<path d="M135.5 1175.0 Q155.1 1180.1 173.8 1174.2 A8.8 8.8 0 0 1 173.8 1191.8 Q155.1 1185.4 135.5 1191.0 A8.0 8.0 0 0 1 135.5 1175.0Z" fill="#050505" filter="url(#b1_2)"/>
<rect x="201.0" y="1177.0" width="44.0" height="14.0" rx="7.0" fill="#d4d4d4" opacity="1" filter="url(#b3)"/>
<rect x="266.0" y="1177.0" width="43.0" height="14.0" rx="7.0" fill="#cdcdcd" opacity="1" filter="url(#b3)"/>
<rect x="125.0" y="1227.0" width="56.7" height="24.0" rx="12.0" fill="#666" opacity="0.45" filter="url(#b3)"/>
<rect x="127.0" y="1231.0" width="52.7" height="16.0" rx="7.5" fill="#030303" opacity="1" filter="url(#b0_9)"/>
<rect x="193.9" y="1227.0" width="52.5" height="24.0" rx="12.0" fill="#666" opacity="0.45" filter="url(#b3)"/>
<rect x="195.9" y="1231.0" width="48.5" height="16.0" rx="7.5" fill="#030303" opacity="1" filter="url(#b0_9)"/>
<rect x="259.3" y="1227.0" width="54.0" height="24.0" rx="12.0" fill="#666" opacity="0.45" filter="url(#b3)"/>
<rect x="261.3" y="1231.0" width="50.0" height="16.0" rx="7.5" fill="#030303" opacity="1" filter="url(#b0_9)"/>
<rect x="121.6" y="992.4" width="194.9" height="48.8" fill="none" stroke="#111" stroke-width="1.5"/>
<rect x="121.6" y="1047.9" width="194.9" height="48.6" fill="none" stroke="#111" stroke-width="1.5"/>
<rect x="121.6" y="1102.6" width="194.9" height="48.6" fill="none" stroke="#111" stroke-width="1.5"/>
<rect x="121.6" y="1157.4" width="194.9" height="48.8" fill="none" stroke="#111" stroke-width="1.5"/>
<rect x="121.6" y="1213.5" width="194.9" height="49.0" fill="none" stroke="#111" stroke-width="1.5"/>
<text x="152.5" y="981.5" font-size="21" font-weight="bold" text-anchor="start" fill="#000" transform="rotate(-45 152.5 981.5)">shCtrl</text>
<text x="218.0" y="981.5" font-size="21" font-weight="bold" text-anchor="start" fill="#000" transform="rotate(-45 218 981.5)">shKDM5B#1</text>
<text x="285.0" y="983.0" font-size="21" font-weight="bold" text-anchor="start" fill="#000" transform="rotate(-45 285 983)">shKDM5B#2</text>
<text x="218.4" y="1292.0" font-size="20.7" font-weight="bold" text-anchor="middle" fill="#000">BxPC-3</text>
<rect x="612.6" y="994.1" width="195.0" height="48.5" fill="#fafafa"/>
<rect x="614.6" y="996.1" width="191.0" height="44.5" fill="#fbfbfb"/>
<text x="601.8" y="1025.3" font-size="19.7" font-weight="bold" text-anchor="end" fill="#000">CD133</text>
<text x="885.0" y="1025.6" font-size="20.3" font-weight="normal" text-anchor="end" fill="#000">110kDa</text>
<rect x="612.6" y="1049.7" width="195.0" height="48.5" fill="#fafafa"/>
<rect x="614.6" y="1051.7" width="191.0" height="44.5" fill="#e6e6e6"/>
<text x="601.8" y="1081.0" font-size="19.7" font-weight="bold" text-anchor="end" fill="#000">EpCAM</text>
<text x="885.0" y="1081.2" font-size="20.3" font-weight="normal" text-anchor="end" fill="#000">35kDa</text>
<rect x="612.6" y="1104.9" width="195.0" height="47.7" fill="#fafafa"/>
<rect x="614.6" y="1106.9" width="191.0" height="43.7" fill="#f1f1f1"/>
<text x="601.8" y="1135.8" font-size="19.7" font-weight="bold" text-anchor="end" fill="#000">Nanog</text>
<text x="885.0" y="1136.0" font-size="20.3" font-weight="normal" text-anchor="end" fill="#000">42kDa</text>
<rect x="612.6" y="1159.6" width="195.0" height="48.6" fill="#fafafa"/>
<rect x="614.6" y="1161.6" width="191.0" height="44.6" fill="#eaeaea"/>
<text x="601.8" y="1190.9" font-size="19.7" font-weight="bold" text-anchor="end" fill="#000">SOX2</text>
<text x="885.0" y="1191.2" font-size="20.3" font-weight="normal" text-anchor="end" fill="#000">36kDa</text>
<rect x="612.6" y="1215.2" width="195.0" height="48.5" fill="#fafafa"/>
<rect x="614.6" y="1217.2" width="191.0" height="44.5" fill="#ebebeb"/>
<text x="601.8" y="1246.5" font-size="19.7" font-weight="bold" text-anchor="end" fill="#000">GAPDH</text>
<text x="885.0" y="1246.8" font-size="20.3" font-weight="normal" text-anchor="end" fill="#000">36kDa</text>
<rect x="617.0" y="997.0" width="63.0" height="42.0" fill="#ececec" opacity="1" filter="url(#b2)"/>
<rect x="625.0" y="1011.3" width="52.1" height="12.8" rx="6.4" fill="#777" opacity="0.35" filter="url(#b2_5)"/>
<rect x="626.5" y="1014.3" width="49.1" height="6.8" rx="3.4" fill="#050505" opacity="1" filter="url(#b0_8)"/>
<rect x="688.8" y="1014.9" width="45.6" height="3.2" rx="1.6" fill="#606060" opacity="1" filter="url(#b0_6)"/>
<rect x="753.5" y="1015.2" width="47.1" height="3.2" rx="1.6" fill="#606060" opacity="1" filter="url(#b0_6)"/>
<rect x="617.0" y="1052.0" width="59.0" height="43.0" fill="#d4d4d4" opacity="1" filter="url(#b3)"/>
<rect x="618.2" y="1066.5" width="51.8" height="16.3" rx="8.2" fill="#666" opacity="0.4" filter="url(#b2_5)"/>
<rect x="619.7" y="1069.5" width="48.8" height="10.3" rx="5.2" fill="#030303" opacity="1" filter="url(#b0_9)"/>
<rect x="694.7" y="1076.0" width="36.8" height="4.0" rx="2.0" fill="#bcbcbc" opacity="1" filter="url(#b1)"/>
<rect x="758.0" y="1076.0" width="41.0" height="4.0" rx="2.0" fill="#c0c0c0" opacity="1" filter="url(#b1)"/>
<rect x="617.0" y="1107.0" width="63.0" height="43.0" fill="#dcdcdc" opacity="1" filter="url(#b3)"/>
<line x1="683" y1="1106" x2="683" y2="1151" stroke="#999" stroke-width="0.7"/>
<rect x="618.2" y="1120.0" width="56.7" height="18.0" rx="9.0" fill="#666" opacity="0.4" filter="url(#b2_5)"/>
<path d="M625.7 1123.0 Q646.5 1125.0 667.4 1123.0 A6.0 6.0 0 0 1 667.4 1135.0 Q646.5 1133.0 625.7 1135.0 A6.0 6.0 0 0 1 625.7 1123.0Z" fill="#030303" filter="url(#b1)"/>
<rect x="690.3" y="1126.6" width="40.4" height="4.4" rx="2.2" fill="#808080" opacity="1" filter="url(#b0_8)"/>
<rect x="753.5" y="1126.5" width="44.1" height="5.0" rx="2.5" fill="#555" opacity="1" filter="url(#b0_8)"/>
<rect x="617.0" y="1162.0" width="59.0" height="43.0" fill="#c4c4c4" opacity="1" filter="url(#b4)"/>
<rect x="617.0" y="1171.0" width="56.0" height="28.0" rx="14.0" fill="#555" opacity="0.45" filter="url(#b3)"/>
<path d="M628.5 1175.5 Q645.0 1181.9 661.0 1175.0 A10.0 10.0 0 0 1 661.0 1195.0 Q645.0 1187.8 628.5 1194.5 A9.5 9.5 0 0 1 628.5 1175.5Z" fill="#030303" filter="url(#b1_2)"/>
<rect x="690.0" y="1179.0" width="45.0" height="12.0" rx="6.0" fill="#d8d8d8" opacity="1" filter="url(#b3)"/>
<rect x="755.0" y="1179.0" width="45.0" height="12.0" rx="6.0" fill="#cfcfcf" opacity="1" filter="url(#b3)"/>
<rect x="617.0" y="1228.0" width="58.5" height="25.0" rx="12.5" fill="#666" opacity="0.45" filter="url(#b3)"/>
<rect x="619.0" y="1232.0" width="54.5" height="17.0" rx="8.0" fill="#030303" opacity="1" filter="url(#b0_9)"/>
<rect x="681.0" y="1228.0" width="54.8" height="25.0" rx="12.5" fill="#666" opacity="0.45" filter="url(#b3)"/>
<rect x="683.0" y="1232.0" width="50.8" height="17.0" rx="8.0" fill="#030303" opacity="1" filter="url(#b0_9)"/>
<rect x="741.5" y="1228.0" width="60.5" height="25.0" rx="12.5" fill="#666" opacity="0.45" filter="url(#b3)"/>
<rect x="743.5" y="1232.0" width="56.5" height="17.0" rx="8.0" fill="#030303" opacity="1" filter="url(#b0_9)"/>
<rect x="612.6" y="994.1" width="195.0" height="48.5" fill="none" stroke="#111" stroke-width="1.5"/>
<rect x="612.6" y="1049.7" width="195.0" height="48.5" fill="none" stroke="#111" stroke-width="1.5"/>
<rect x="612.6" y="1104.9" width="195.0" height="47.7" fill="none" stroke="#111" stroke-width="1.5"/>
<rect x="612.6" y="1159.6" width="195.0" height="48.6" fill="none" stroke="#111" stroke-width="1.5"/>
<rect x="612.6" y="1215.2" width="195.0" height="48.5" fill="none" stroke="#111" stroke-width="1.5"/>
<text x="641.3" y="983.6" font-size="21" font-weight="bold" text-anchor="start" fill="#000" transform="rotate(-45 641.3 983.6)">shCtrl</text>
<text x="707.9" y="982.0" font-size="21" font-weight="bold" text-anchor="start" fill="#000" transform="rotate(-45 707.9 982)">shKDM5B#1</text>
<text x="774.1" y="982.5" font-size="21" font-weight="bold" text-anchor="start" fill="#000" transform="rotate(-45 774.1 982.5)">shKDM5B#2</text>
<text x="718.0" y="1294.0" font-size="20" font-weight="bold" text-anchor="middle" fill="#000">CFPAC-1</text>
<text x="1070.8" y="942.9" font-size="30" font-weight="bold" text-anchor="start" fill="#000">F</text>
<rect x="1150.5" y="995.7" width="146.0" height="48.6" fill="#fafafa"/>
<rect x="1152.5" y="997.7" width="142.0" height="44.6" fill="#ececec"/>
<text x="1141.2" y="1027.0" font-size="19.7" font-weight="bold" text-anchor="end" fill="#000">CD133</text>
<text x="1377.0" y="1027.3" font-size="20.3" font-weight="normal" text-anchor="end" fill="#000">110kDa</text>
<rect x="1150.5" y="1051.0" width="146.0" height="48.9" fill="#fafafa"/>
<rect x="1152.5" y="1053.0" width="142.0" height="44.9" fill="#e8e8e8"/>
<text x="1141.2" y="1082.5" font-size="19.7" font-weight="bold" text-anchor="end" fill="#000">EpCAM</text>
<text x="1377.0" y="1082.8" font-size="20.3" font-weight="normal" text-anchor="end" fill="#000">35kDa</text>
<rect x="1150.5" y="1106.2" width="146.0" height="48.4" fill="#fafafa"/>
<rect x="1152.5" y="1108.2" width="142.0" height="44.4" fill="#ebebeb"/>
<text x="1141.2" y="1137.4" font-size="19.7" font-weight="bold" text-anchor="end" fill="#000">Nanog</text>
<text x="1377.0" y="1137.7" font-size="20.3" font-weight="normal" text-anchor="end" fill="#000">42kDa</text>
<rect x="1150.5" y="1160.6" width="146.0" height="48.8" fill="#fafafa"/>
<rect x="1152.5" y="1162.6" width="142.0" height="44.8" fill="#c4c4c4"/>
<text x="1141.2" y="1192.0" font-size="19.7" font-weight="bold" text-anchor="end" fill="#000">SOX2</text>
<text x="1377.0" y="1192.3" font-size="20.3" font-weight="normal" text-anchor="end" fill="#000">36kDa</text>
<rect x="1150.5" y="1216.5" width="146.0" height="48.9" fill="#fafafa"/>
<rect x="1152.5" y="1218.5" width="142.0" height="44.9" fill="#e6e6e6"/>
<text x="1141.2" y="1248.0" font-size="19.7" font-weight="bold" text-anchor="end" fill="#000">GAPDH</text>
<text x="1377.0" y="1248.2" font-size="20.3" font-weight="normal" text-anchor="end" fill="#000">36kDa</text>
<rect x="1155.7" y="1014.2" width="54.3" height="9.0" rx="4.5" fill="#888" opacity="0.4" filter="url(#b2)"/>
<rect x="1156.7" y="1016.2" width="52.3" height="5.0" rx="2.5" fill="#080808" opacity="1" filter="url(#b0_8)"/>
<rect x="1219.6" y="1010.4" width="73.1" height="20.7" rx="10.3" fill="#555" opacity="0.5" filter="url(#b3)"/>
<rect x="1222.1" y="1015.4" width="68.1" height="10.7" rx="5.3" fill="#030303" opacity="1" filter="url(#b1)"/>
<rect x="1158.1" y="1068.8" width="56.0" height="14.3" rx="7.2" fill="#777" opacity="0.45" filter="url(#b2_5)"/>
<rect x="1159.6" y="1071.8" width="53.0" height="8.3" rx="4.2" fill="#050505" opacity="1" filter="url(#b0_9)"/>
<rect x="1225.1" y="1062.3" width="63.7" height="26.3" rx="13.2" fill="#555" opacity="0.55" filter="url(#b4)"/>
<rect x="1228.1" y="1068.3" width="57.7" height="14.3" rx="7.2" fill="#030303" opacity="1" filter="url(#b1)"/>
<rect x="1160.5" y="1125.4" width="49.5" height="14.3" rx="7.2" fill="#777" opacity="0.45" filter="url(#b2_5)"/>
<rect x="1162.0" y="1128.4" width="46.5" height="8.3" rx="4.2" fill="#080808" opacity="1" filter="url(#b1)"/>
<rect x="1225.6" y="1115.8" width="62.1" height="28.5" rx="14.2" fill="#555" opacity="0.5" filter="url(#b3)"/>
<rect x="1228.1" y="1120.8" width="57.1" height="18.5" rx="9.2" fill="#030303" opacity="1" filter="url(#b1)"/>
<rect x="1160.8" y="1171.8" width="48.9" height="24.0" rx="12.0" fill="#555" opacity="0.5" filter="url(#b4)"/>
<rect x="1163.8" y="1177.8" width="42.9" height="12.0" rx="6.0" fill="#1a1a1a" opacity="1" filter="url(#b2_5)"/>
<rect x="1227.5" y="1167.0" width="61.8" height="32.0" rx="16.0" fill="#333" opacity="0.55" filter="url(#b4)"/>
<rect x="1231.0" y="1174.0" width="54.8" height="18.0" rx="9.0" fill="#030303" opacity="1" filter="url(#b1_5)"/>
<rect x="1153.5" y="1229.8" width="66.5" height="24.0" rx="12.0" fill="#666" opacity="0.45" filter="url(#b3)"/>
<rect x="1155.5" y="1233.8" width="62.5" height="16.0" rx="8.0" fill="#030303" opacity="1" filter="url(#b1)"/>
<rect x="1229.0" y="1229.8" width="63.2" height="24.0" rx="12.0" fill="#666" opacity="0.45" filter="url(#b3)"/>
<rect x="1231.0" y="1233.8" width="59.2" height="16.0" rx="8.0" fill="#030303" opacity="1" filter="url(#b1)"/>
<rect x="1150.5" y="995.7" width="146.0" height="48.6" fill="none" stroke="#111" stroke-width="1.5"/>
<rect x="1150.5" y="1051.0" width="146.0" height="48.9" fill="none" stroke="#111" stroke-width="1.5"/>
<rect x="1150.5" y="1106.2" width="146.0" height="48.4" fill="none" stroke="#111" stroke-width="1.5"/>
<rect x="1150.5" y="1160.6" width="146.0" height="48.8" fill="none" stroke="#111" stroke-width="1.5"/>
<rect x="1150.5" y="1216.5" width="146.0" height="48.9" fill="none" stroke="#111" stroke-width="1.5"/>
<text x="1185.7" y="986.0" font-size="21" font-weight="bold" text-anchor="start" fill="#000" transform="rotate(-45 1185.7 986)">Vec</text>
<text x="1256.3" y="985.0" font-size="21" font-weight="bold" text-anchor="start" fill="#000" transform="rotate(-45 1256.3 985)">KDM5B</text>
<text x="1228.6" y="1295.7" font-size="20" font-weight="bold" text-anchor="middle" fill="#000">Capan-1</text>
<text x="48.0" y="1403.3" font-size="30" font-weight="bold" text-anchor="start" fill="#000">G</text>
<text x="355.5" y="1375.4" font-size="21" font-weight="bold" text-anchor="middle" fill="#000">BxPC-3</text>
<rect x="158.3" y="1390.0" width="397.5" height="198.5" fill="url(#g9)" />
<text x="145.6" y="1453.6" font-size="19.6" font-weight="bold" text-anchor="end" fill="#000">shCtrl</text>
<text x="145.6" y="1555.0" font-size="19.6" font-weight="bold" text-anchor="end" fill="#000">shKDM5B</text>
<path d="M244.7 1445.0 L244.6 1448.0 L244.3 1451.0 L243.6 1454.0 L242.6 1456.8 L241.3 1459.4 L239.8 1461.8 L238.2 1464.3 L236.7 1466.7 L235.1 1469.1 L233.2 1471.3 L231.0 1473.0 L228.4 1474.1 L225.7 1474.7 L223.0 1475.0 L220.5 1475.7 L218.2 1477.0 L215.7 1478.9 L213.0 1480.8 L210.0 1482.1 L207.0 1482.1 L204.2 1480.7 L201.9 1478.3 L199.9 1475.6 L198.0 1473.3 L195.9 1471.6 L193.3 1470.6 L190.5 1469.5 L187.8 1468.0 L185.9 1465.7 L184.8 1462.8 L184.6 1459.5 L184.7 1456.2 L184.7 1453.3 L184.1 1450.6 L183.0 1447.9 L181.9 1445.0 L181.2 1442.0 L181.4 1438.9 L182.6 1436.1 L184.3 1433.6 L186.3 1431.4 L188.0 1429.2 L189.3 1426.9 L190.2 1424.1 L191.1 1421.1 L192.1 1417.8 L193.6 1414.7 L195.6 1412.1 L198.1 1410.2 L201.1 1409.2 L204.1 1409.0 L207.3 1409.4 L210.2 1410.4 L213.0 1411.5 L215.6 1412.6 L218.1 1413.5 L220.6 1414.2 L223.1 1414.9 L225.5 1415.7 L227.9 1416.8 L230.2 1418.2 L232.4 1419.8 L234.5 1421.5 L236.6 1423.4 L238.8 1425.3 L240.8 1427.5 L242.5 1430.0 L243.8 1432.8 L244.5 1435.8 L244.8 1438.9 L244.8 1442.0Z" fill="url(#g10)" filter="url(#tum)"/>
<g clip-path="url(#tc1)"><ellipse cx="230.3" cy="1466.2" rx="8.2" ry="8.2" fill="url(#lobe)"/><ellipse cx="194.1" cy="1445.6" rx="9.3" ry="7.7" fill="url(#lobe)"/><ellipse cx="216.9" cy="1447.9" rx="9.2" ry="8.6" fill="url(#lobe)"/><ellipse cx="213.1" cy="1443.6" rx="7.9" ry="6.6" fill="url(#lobe)"/><ellipse cx="216.7" cy="1474.7" rx="8.1" ry="8.9" fill="url(#lobe)"/><ellipse cx="233.5" cy="1448.6" rx="9.6" ry="9.1" fill="url(#lobe)"/><ellipse cx="216.8" cy="1464.6" rx="4.5" ry="4.5" fill="url(#lobe)"/><ellipse cx="194.6" cy="1453.3" rx="5.5" ry="5.6" fill="url(#lobe)"/><ellipse cx="216.7" cy="1465.5" rx="5.3" ry="5.8" fill="url(#lobe)"/><ellipse cx="224.0" cy="1425.4" rx="7.4" ry="7.6" fill="url(#lobe)"/><ellipse cx="239.1" cy="1443.6" rx="5.2" ry="5.0" fill="url(#lobe)"/><ellipse cx="208.7" cy="1419.5" rx="9.7" ry="9.1" fill="url(#lobe)"/><ellipse cx="224.1" cy="1422.9" rx="6.7" ry="5.9" fill="url(#lobe)"/><ellipse cx="232.1" cy="1425.9" rx="7.9" ry="6.9" fill="url(#lobe)"/><ellipse cx="226.6" cy="1448.3" rx="8.9" ry="8.4" fill="url(#lobe)"/><ellipse cx="222.7" cy="1465.2" rx="9.3" ry="7.9" fill="url(#lobe)"/><ellipse cx="199.8" cy="1459.5" rx="8.4" ry="6.9" fill="url(#lobe)"/><ellipse cx="195.5" cy="1442.5" rx="6.2" ry="6.8" fill="url(#lobe)"/><ellipse cx="235.8" cy="1452.0" rx="10.6" ry="9.3" fill="url(#lobe)"/><ellipse cx="203.9" cy="1452.9" rx="8.9" ry="6.9" fill="url(#lobe)"/><ellipse cx="215.6" cy="1422.6" rx="8.6" ry="8.7" fill="url(#lobe)"/><ellipse cx="185.6" cy="1442.5" rx="7.9" ry="7.3" fill="url(#lobe)"/><ellipse cx="210.5" cy="1467.6" rx="8.3" ry="9.2" fill="url(#lobe)"/><ellipse cx="218.3" cy="1417.7" rx="10.6" ry="8.8" fill="url(#lobe)"/><ellipse cx="220.3" cy="1424.3" rx="7.7" ry="7.2" fill="url(#lobe)"/><ellipse cx="237.7" cy="1454.9" rx="7.1" ry="7.2" fill="url(#lobe)"/><ellipse cx="193.4" cy="1444.4" rx="6.4" ry="6.2" fill="url(#lobe)"/><ellipse cx="191.4" cy="1439.2" rx="8.1" ry="7.5" fill="url(#lobe)"/><ellipse cx="226.3" cy="1447.6" rx="6.0" ry="5.3" fill="url(#lobe)"/><ellipse cx="229.1" cy="1423.9" rx="10.3" ry="8.4" fill="url(#lobe)"/><ellipse cx="212.2" cy="1473.2" rx="7.2" ry="7.8" fill="url(#lobe)"/><ellipse cx="216.4" cy="1445.4" rx="8.2" ry="8.2" fill="url(#lobe)"/><ellipse cx="230.2" cy="1460.4" rx="5.7" ry="6.1" fill="url(#lobe)"/><ellipse cx="224.0" cy="1463.8" rx="5.3" ry="5.2" fill="url(#lobe)"/><ellipse cx="208.4" cy="1424.9" rx="6.5" ry="6.0" fill="url(#lobe)"/><ellipse cx="230.3" cy="1447.8" rx="6.3" ry="6.5" fill="url(#lobe)"/><ellipse cx="233.8" cy="1463.4" rx="6.8" ry="6.9" fill="url(#lobe)"/><ellipse cx="192.9" cy="1427.9" rx="4.1" ry="4.5" fill="url(#lobe)"/><ellipse cx="227.5" cy="1465.8" rx="6.1" ry="5.2" fill="url(#lobe)"/><ellipse cx="203.9" cy="1424.6" rx="7.1" ry="5.5" fill="url(#lobe)"/><ellipse cx="219.0" cy="1423.9" rx="6.4" ry="5.5" fill="url(#lobe)"/><ellipse cx="196.1" cy="1459.4" rx="6.9" ry="6.0" fill="url(#lobe)"/><ellipse cx="227.4" cy="1451.1" rx="11.6" ry="9.2" fill="url(#lobe)"/><ellipse cx="204.0" cy="1471.8" rx="7.6" ry="5.9" fill="url(#lobe)"/><ellipse cx="212.3" cy="1425.2" rx="5.1" ry="5.7" fill="url(#lobe)"/><ellipse cx="217.0" cy="1440.8" rx="10.9" ry="8.5" fill="url(#lobe)"/><ellipse cx="202.4" cy="1439.6" rx="11.3" ry="8.7" fill="url(#lobe)"/><ellipse cx="207.2" cy="1424.0" rx="6.5" ry="6.3" fill="url(#lobe)"/><ellipse cx="219.4" cy="1469.3" rx="6.4" ry="6.6" fill="url(#lobe)"/><ellipse cx="231.2" cy="1460.3" rx="6.5" ry="5.9" fill="url(#lobe)"/></g>
<circle cx="203.7" cy="1464.9" r="1.1" fill="#fff" opacity="0.7" filter="url(#bl05)"/>
<circle cx="222.8" cy="1446.2" r="0.8" fill="#fff" opacity="0.7" filter="url(#bl05)"/>
<circle cx="232.3" cy="1443.2" r="0.8" fill="#fff" opacity="0.7" filter="url(#bl05)"/>
<circle cx="217.2" cy="1464.1" r="1.1" fill="#fff" opacity="0.7" filter="url(#bl05)"/>
<circle cx="224.7" cy="1439.2" r="1.1" fill="#fff" opacity="0.7" filter="url(#bl05)"/>
<circle cx="207.1" cy="1429.6" r="1.2" fill="#fff" opacity="0.7" filter="url(#bl05)"/>
<circle cx="214.8" cy="1465.3" r="0.7" fill="#fff" opacity="0.7" filter="url(#bl05)"/>
<circle cx="223.1" cy="1465.0" r="0.7" fill="#fff" opacity="0.7" filter="url(#bl05)"/>
<circle cx="213.9" cy="1426.5" r="1.1" fill="#fff" opacity="0.7" filter="url(#bl05)"/>
<circle cx="204.4" cy="1455.3" r="0.8" fill="#fff" opacity="0.7" filter="url(#bl05)"/>
<circle cx="224.4" cy="1431.2" r="1.2" fill="#fff" opacity="0.7" filter="url(#bl05)"/>
<circle cx="219.1" cy="1439.3" r="0.9" fill="#fff" opacity="0.7" filter="url(#bl05)"/>
<circle cx="216.4" cy="1447.9" r="0.6" fill="#fff" opacity="0.7" filter="url(#bl05)"/>
<circle cx="226.0" cy="1429.1" r="1.1" fill="#fff" opacity="0.7" filter="url(#bl05)"/>
<circle cx="203.7" cy="1460.8" r="1.1" fill="#fff" opacity="0.7" filter="url(#bl05)"/>
<circle cx="201.1" cy="1457.6" r="0.7" fill="#fff" opacity="0.7" filter="url(#bl05)"/>
<ellipse cx="231.1" cy="1457.3" rx="1.3" ry="0.9" fill="#c03844" opacity="0.6" filter="url(#bl05)" clip-path="url(#tc1)"/>
<ellipse cx="231.8" cy="1457.0" rx="0.8" ry="1.2" fill="#c03844" opacity="0.6" filter="url(#bl05)" clip-path="url(#tc1)"/>
<ellipse cx="227.7" cy="1457.0" rx="1.5" ry="0.8" fill="#c03844" opacity="0.6" filter="url(#bl05)" clip-path="url(#tc1)"/>
<ellipse cx="189.2" cy="1452.4" rx="1.9" ry="1.0" fill="#c03844" opacity="0.6" filter="url(#bl05)" clip-path="url(#tc1)"/>
<ellipse cx="241.3" cy="1439.7" rx="1.2" ry="0.9" fill="#c03844" opacity="0.6" filter="url(#bl05)" clip-path="url(#tc1)"/>
<ellipse cx="240.6" cy="1437.7" rx="1.7" ry="1.4" fill="#c03844" opacity="0.6" filter="url(#bl05)" clip-path="url(#tc1)"/>
<path d="M330.0 1449.5 L330.1 1452.7 L329.7 1455.8 L328.9 1458.8 L327.9 1461.6 L327.1 1464.6 L326.6 1467.8 L326.3 1471.4 L325.7 1475.2 L324.6 1478.7 L322.8 1481.5 L320.2 1483.2 L317.2 1483.9 L314.3 1484.1 L311.5 1484.3 L309.0 1484.8 L306.5 1485.5 L304.0 1486.1 L301.5 1486.2 L299.0 1485.5 L296.6 1484.3 L294.4 1482.9 L292.2 1481.7 L289.9 1480.9 L287.5 1480.2 L285.0 1479.2 L282.8 1477.7 L280.9 1475.5 L279.5 1472.9 L278.2 1470.1 L277.0 1467.4 L275.7 1464.7 L274.6 1461.8 L274.0 1458.8 L274.0 1455.6 L274.7 1452.5 L275.7 1449.5 L276.4 1446.7 L276.4 1443.9 L275.5 1440.7 L274.1 1436.9 L273.0 1432.7 L272.7 1428.5 L273.8 1425.0 L275.9 1422.4 L278.8 1420.8 L281.8 1419.8 L284.5 1418.9 L287.0 1417.7 L289.2 1416.2 L291.4 1414.6 L293.8 1413.4 L296.4 1412.7 L298.9 1412.6 L301.5 1412.8 L304.0 1413.2 L306.5 1413.6 L309.0 1414.3 L311.4 1415.3 L313.6 1416.8 L315.6 1418.6 L317.5 1420.7 L319.3 1422.8 L321.0 1424.9 L322.7 1427.0 L324.3 1429.3 L325.7 1431.9 L326.7 1434.7 L327.4 1437.6 L328.1 1440.5 L328.8 1443.4 L329.5 1446.4Z" fill="url(#g11)" filter="url(#tum)"/>
<g clip-path="url(#tc2)"><ellipse cx="325.9" cy="1440.7" rx="4.0" ry="4.3" fill="url(#lobe)"/><ellipse cx="312.9" cy="1425.2" rx="7.3" ry="7.2" fill="url(#lobe)"/><ellipse cx="285.5" cy="1433.7" rx="6.5" ry="6.8" fill="url(#lobe)"/><ellipse cx="286.7" cy="1458.2" rx="9.6" ry="7.4" fill="url(#lobe)"/><ellipse cx="319.8" cy="1441.8" rx="6.2" ry="6.1" fill="url(#lobe)"/><ellipse cx="305.7" cy="1450.7" rx="6.4" ry="6.2" fill="url(#lobe)"/><ellipse cx="283.6" cy="1470.8" rx="7.3" ry="6.5" fill="url(#lobe)"/><ellipse cx="301.9" cy="1454.6" rx="5.3" ry="5.6" fill="url(#lobe)"/><ellipse cx="275.5" cy="1447.4" rx="7.0" ry="7.2" fill="url(#lobe)"/><ellipse cx="319.7" cy="1431.2" rx="9.4" ry="7.5" fill="url(#lobe)"/><ellipse cx="303.3" cy="1420.3" rx="7.4" ry="5.7" fill="url(#lobe)"/><ellipse cx="311.7" cy="1446.3" rx="9.0" ry="7.6" fill="url(#lobe)"/><ellipse cx="283.1" cy="1455.3" rx="8.0" ry="6.3" fill="url(#lobe)"/><ellipse cx="277.7" cy="1449.4" rx="7.1" ry="5.7" fill="url(#lobe)"/><ellipse cx="315.8" cy="1436.3" rx="8.5" ry="6.7" fill="url(#lobe)"/><ellipse cx="298.5" cy="1426.9" rx="5.2" ry="5.1" fill="url(#lobe)"/><ellipse cx="298.2" cy="1436.8" rx="8.3" ry="8.3" fill="url(#lobe)"/><ellipse cx="313.8" cy="1439.8" rx="10.0" ry="8.5" fill="url(#lobe)"/><ellipse cx="282.7" cy="1448.9" rx="8.0" ry="7.1" fill="url(#lobe)"/><ellipse cx="297.0" cy="1463.4" rx="8.2" ry="6.4" fill="url(#lobe)"/><ellipse cx="296.4" cy="1443.2" rx="9.4" ry="7.9" fill="url(#lobe)"/><ellipse cx="311.0" cy="1441.6" rx="6.9" ry="7.5" fill="url(#lobe)"/><ellipse cx="293.7" cy="1435.4" rx="6.4" ry="5.1" fill="url(#lobe)"/><ellipse cx="316.3" cy="1464.2" rx="8.0" ry="8.0" fill="url(#lobe)"/><ellipse cx="307.5" cy="1479.4" rx="7.1" ry="6.0" fill="url(#lobe)"/><ellipse cx="316.9" cy="1453.4" rx="5.7" ry="4.9" fill="url(#lobe)"/><ellipse cx="323.6" cy="1465.5" rx="5.0" ry="4.2" fill="url(#lobe)"/><ellipse cx="314.6" cy="1451.7" rx="7.5" ry="7.8" fill="url(#lobe)"/><ellipse cx="310.3" cy="1474.5" rx="5.4" ry="5.8" fill="url(#lobe)"/><ellipse cx="311.6" cy="1448.7" rx="4.4" ry="4.2" fill="url(#lobe)"/><ellipse cx="284.6" cy="1430.8" rx="4.7" ry="4.6" fill="url(#lobe)"/><ellipse cx="318.6" cy="1453.7" rx="9.1" ry="7.6" fill="url(#lobe)"/><ellipse cx="320.0" cy="1432.9" rx="9.5" ry="8.1" fill="url(#lobe)"/><ellipse cx="289.3" cy="1452.2" rx="7.3" ry="7.1" fill="url(#lobe)"/><ellipse cx="315.5" cy="1462.7" rx="7.7" ry="8.1" fill="url(#lobe)"/><ellipse cx="287.4" cy="1439.0" rx="6.2" ry="6.4" fill="url(#lobe)"/><ellipse cx="314.3" cy="1445.3" rx="7.3" ry="6.9" fill="url(#lobe)"/><ellipse cx="320.9" cy="1452.3" rx="4.3" ry="4.7" fill="url(#lobe)"/><ellipse cx="311.7" cy="1452.3" rx="5.2" ry="4.5" fill="url(#lobe)"/><ellipse cx="275.7" cy="1447.9" rx="10.9" ry="8.4" fill="url(#lobe)"/><ellipse cx="303.4" cy="1471.3" rx="5.9" ry="5.2" fill="url(#lobe)"/><ellipse cx="284.9" cy="1428.8" rx="7.4" ry="7.3" fill="url(#lobe)"/><ellipse cx="284.8" cy="1460.6" rx="3.7" ry="4.1" fill="url(#lobe)"/><ellipse cx="294.2" cy="1455.5" rx="7.4" ry="7.4" fill="url(#lobe)"/><ellipse cx="310.5" cy="1457.7" rx="5.1" ry="5.1" fill="url(#lobe)"/><ellipse cx="283.9" cy="1446.6" rx="6.4" ry="5.5" fill="url(#lobe)"/><ellipse cx="307.3" cy="1480.0" rx="10.2" ry="8.5" fill="url(#lobe)"/><ellipse cx="284.5" cy="1459.1" rx="6.2" ry="6.8" fill="url(#lobe)"/><ellipse cx="285.1" cy="1461.3" rx="4.6" ry="4.9" fill="url(#lobe)"/><ellipse cx="306.6" cy="1430.6" rx="8.2" ry="6.5" fill="url(#lobe)"/></g>
<circle cx="293.1" cy="1440.7" r="1.2" fill="#fff" opacity="0.7" filter="url(#bl05)"/>
<circle cx="299.6" cy="1452.0" r="1.0" fill="#fff" opacity="0.7" filter="url(#bl05)"/>
<circle cx="310.5" cy="1457.9" r="1.1" fill="#fff" opacity="0.7" filter="url(#bl05)"/>
<circle cx="300.3" cy="1446.7" r="0.9" fill="#fff" opacity="0.7" filter="url(#bl05)"/>
<circle cx="289.5" cy="1459.0" r="0.7" fill="#fff" opacity="0.7" filter="url(#bl05)"/>
<circle cx="296.8" cy="1445.8" r="0.8" fill="#fff" opacity="0.7" filter="url(#bl05)"/>
<circle cx="287.8" cy="1467.3" r="0.6" fill="#fff" opacity="0.7" filter="url(#bl05)"/>
<circle cx="301.8" cy="1438.3" r="0.9" fill="#fff" opacity="0.7" filter="url(#bl05)"/>
<circle cx="290.8" cy="1460.5" r="1.1" fill="#fff" opacity="0.7" filter="url(#bl05)"/>
<circle cx="295.9" cy="1455.0" r="0.7" fill="#fff" opacity="0.7" filter="url(#bl05)"/>
<circle cx="317.9" cy="1460.9" r="1.0" fill="#fff" opacity="0.7" filter="url(#bl05)"/>
<circle cx="317.8" cy="1444.1" r="0.6" fill="#fff" opacity="0.7" filter="url(#bl05)"/>
<circle cx="291.8" cy="1430.5" r="1.0" fill="#fff" opacity="0.7" filter="url(#bl05)"/>
<circle cx="289.4" cy="1449.7" r="0.9" fill="#fff" opacity="0.7" filter="url(#bl05)"/>
<circle cx="304.6" cy="1436.8" r="0.9" fill="#fff" opacity="0.7" filter="url(#bl05)"/>
<circle cx="281.9" cy="1453.1" r="1.1" fill="#fff" opacity="0.7" filter="url(#bl05)"/>
<ellipse cx="324.5" cy="1435.0" rx="1.5" ry="1.1" fill="#c03844" opacity="0.6" filter="url(#bl05)" clip-path="url(#tc2)"/>
<ellipse cx="325.4" cy="1436.6" rx="0.9" ry="1.3" fill="#c03844" opacity="0.6" filter="url(#bl05)" clip-path="url(#tc2)"/>
<ellipse cx="288.1" cy="1438.8" rx="1.3" ry="0.8" fill="#c03844" opacity="0.6" filter="url(#bl05)" clip-path="url(#tc2)"/>
<ellipse cx="322.7" cy="1468.0" rx="1.3" ry="1.3" fill="#c03844" opacity="0.6" filter="url(#bl05)" clip-path="url(#tc2)"/>
<ellipse cx="325.2" cy="1466.1" rx="1.0" ry="0.9" fill="#c03844" opacity="0.6" filter="url(#bl05)" clip-path="url(#tc2)"/>
<ellipse cx="323.0" cy="1468.1" rx="2.0" ry="1.0" fill="#c03844" opacity="0.6" filter="url(#bl05)" clip-path="url(#tc2)"/>
<ellipse cx="291.8" cy="1471.6" rx="1.4" ry="1.3" fill="#c03844" opacity="0.6" filter="url(#bl05)" clip-path="url(#tc2)"/>
<ellipse cx="292.3" cy="1471.9" rx="1.7" ry="1.2" fill="#c03844" opacity="0.6" filter="url(#bl05)" clip-path="url(#tc2)"/>
<ellipse cx="291.5" cy="1470.2" rx="0.8" ry="1.2" fill="#c03844" opacity="0.6" filter="url(#bl05)" clip-path="url(#tc2)"/>
<path d="M424.5 1450.5 L423.1 1453.6 L421.5 1456.4 L420.1 1459.1 L419.3 1461.9 L419.1 1465.0 L419.0 1468.4 L418.5 1471.7 L417.0 1474.5 L414.5 1476.4 L411.4 1477.4 L408.4 1477.8 L405.7 1478.5 L403.5 1480.0 L401.5 1482.4 L399.4 1485.2 L396.9 1487.6 L394.0 1488.9 L391.0 1488.8 L388.1 1487.6 L385.3 1485.9 L382.7 1484.5 L380.0 1483.7 L377.2 1483.2 L374.3 1482.4 L371.6 1481.0 L369.5 1478.7 L368.0 1475.8 L367.0 1472.7 L366.0 1469.8 L364.8 1467.2 L363.2 1464.8 L361.5 1462.3 L360.0 1459.7 L359.0 1456.7 L358.5 1453.6 L358.4 1450.5 L358.2 1447.3 L358.1 1444.1 L358.1 1440.8 L358.7 1437.5 L360.0 1434.6 L362.1 1432.1 L364.7 1430.2 L367.4 1428.7 L369.8 1427.1 L371.7 1425.2 L373.4 1422.8 L375.2 1420.3 L377.3 1418.1 L379.8 1416.7 L382.7 1416.2 L385.5 1416.3 L388.3 1416.7 L391.0 1416.9 L393.7 1416.5 L396.6 1415.8 L399.6 1415.0 L402.8 1414.7 L405.9 1415.3 L408.7 1416.7 L411.0 1419.1 L412.7 1422.0 L414.0 1425.1 L415.1 1428.2 L416.1 1431.1 L417.4 1433.7 L419.1 1436.1 L421.0 1438.5 L422.9 1441.1 L424.4 1444.0 L424.9 1447.2Z" fill="url(#g12)" filter="url(#tum)"/>
<g clip-path="url(#tc3)"><ellipse cx="392.6" cy="1474.1" rx="7.3" ry="6.4" fill="url(#lobe)"/><ellipse cx="385.8" cy="1444.7" rx="5.7" ry="4.6" fill="url(#lobe)"/><ellipse cx="390.2" cy="1466.0" rx="10.5" ry="9.7" fill="url(#lobe)"/><ellipse cx="401.3" cy="1431.5" rx="7.5" ry="7.8" fill="url(#lobe)"/><ellipse cx="373.0" cy="1428.1" rx="8.6" ry="7.2" fill="url(#lobe)"/><ellipse cx="387.5" cy="1443.4" rx="9.6" ry="8.4" fill="url(#lobe)"/><ellipse cx="389.4" cy="1455.9" rx="9.8" ry="9.0" fill="url(#lobe)"/><ellipse cx="385.6" cy="1421.0" rx="10.4" ry="8.2" fill="url(#lobe)"/><ellipse cx="370.5" cy="1468.1" rx="8.7" ry="6.8" fill="url(#lobe)"/><ellipse cx="397.6" cy="1443.6" rx="5.2" ry="5.2" fill="url(#lobe)"/><ellipse cx="409.7" cy="1445.9" rx="7.9" ry="7.8" fill="url(#lobe)"/><ellipse cx="373.0" cy="1449.6" rx="7.2" ry="6.3" fill="url(#lobe)"/><ellipse cx="367.1" cy="1435.2" rx="10.2" ry="8.0" fill="url(#lobe)"/><ellipse cx="408.9" cy="1425.4" rx="7.7" ry="8.0" fill="url(#lobe)"/><ellipse cx="409.2" cy="1426.3" rx="10.4" ry="9.2" fill="url(#lobe)"/><ellipse cx="388.0" cy="1436.2" rx="10.0" ry="8.8" fill="url(#lobe)"/><ellipse cx="389.4" cy="1458.4" rx="11.6" ry="8.9" fill="url(#lobe)"/><ellipse cx="413.1" cy="1465.6" rx="6.4" ry="6.6" fill="url(#lobe)"/><ellipse cx="384.1" cy="1477.6" rx="8.3" ry="9.0" fill="url(#lobe)"/><ellipse cx="386.4" cy="1446.0" rx="8.5" ry="8.2" fill="url(#lobe)"/><ellipse cx="412.0" cy="1428.8" rx="9.3" ry="7.1" fill="url(#lobe)"/><ellipse cx="388.1" cy="1458.8" rx="7.0" ry="7.6" fill="url(#lobe)"/><ellipse cx="397.0" cy="1469.9" rx="7.4" ry="7.7" fill="url(#lobe)"/><ellipse cx="417.1" cy="1458.4" rx="7.9" ry="6.1" fill="url(#lobe)"/><ellipse cx="405.2" cy="1438.5" rx="7.6" ry="6.9" fill="url(#lobe)"/><ellipse cx="377.1" cy="1431.1" rx="8.5" ry="7.4" fill="url(#lobe)"/><ellipse cx="410.3" cy="1442.1" rx="8.0" ry="6.8" fill="url(#lobe)"/><ellipse cx="392.2" cy="1468.0" rx="10.6" ry="9.6" fill="url(#lobe)"/><ellipse cx="388.0" cy="1449.5" rx="7.5" ry="6.7" fill="url(#lobe)"/><ellipse cx="413.6" cy="1453.7" rx="7.2" ry="7.8" fill="url(#lobe)"/><ellipse cx="377.1" cy="1434.8" rx="8.4" ry="8.0" fill="url(#lobe)"/><ellipse cx="384.3" cy="1424.0" rx="4.3" ry="4.6" fill="url(#lobe)"/><ellipse cx="378.2" cy="1422.4" rx="6.3" ry="5.8" fill="url(#lobe)"/><ellipse cx="377.2" cy="1440.6" rx="6.6" ry="6.4" fill="url(#lobe)"/><ellipse cx="375.7" cy="1468.6" rx="6.4" ry="6.1" fill="url(#lobe)"/><ellipse cx="391.7" cy="1445.3" rx="8.9" ry="7.5" fill="url(#lobe)"/><ellipse cx="386.0" cy="1464.6" rx="8.6" ry="8.7" fill="url(#lobe)"/><ellipse cx="398.4" cy="1470.0" rx="7.6" ry="8.1" fill="url(#lobe)"/><ellipse cx="383.7" cy="1467.2" rx="9.5" ry="8.8" fill="url(#lobe)"/><ellipse cx="398.3" cy="1440.1" rx="7.3" ry="6.3" fill="url(#lobe)"/><ellipse cx="405.6" cy="1436.2" rx="5.4" ry="5.7" fill="url(#lobe)"/><ellipse cx="378.5" cy="1447.9" rx="10.7" ry="8.7" fill="url(#lobe)"/><ellipse cx="397.2" cy="1466.0" rx="10.1" ry="8.7" fill="url(#lobe)"/><ellipse cx="396.9" cy="1432.8" rx="5.3" ry="5.2" fill="url(#lobe)"/><ellipse cx="395.1" cy="1434.4" rx="6.7" ry="6.3" fill="url(#lobe)"/><ellipse cx="374.7" cy="1460.4" rx="8.9" ry="9.3" fill="url(#lobe)"/><ellipse cx="419.2" cy="1451.4" rx="11.7" ry="9.1" fill="url(#lobe)"/><ellipse cx="365.1" cy="1463.1" rx="9.2" ry="9.3" fill="url(#lobe)"/><ellipse cx="390.2" cy="1421.2" rx="8.8" ry="7.9" fill="url(#lobe)"/><ellipse cx="386.9" cy="1468.7" rx="5.3" ry="5.7" fill="url(#lobe)"/><ellipse cx="377.8" cy="1441.4" rx="8.0" ry="8.7" fill="url(#lobe)"/><ellipse cx="410.9" cy="1435.2" rx="11.7" ry="9.3" fill="url(#lobe)"/><ellipse cx="408.8" cy="1436.1" rx="5.5" ry="4.6" fill="url(#lobe)"/><ellipse cx="398.5" cy="1466.0" rx="8.8" ry="7.9" fill="url(#lobe)"/></g>
<circle cx="372.2" cy="1463.0" r="1.0" fill="#fff" opacity="0.7" filter="url(#bl05)"/>
<circle cx="384.8" cy="1461.0" r="1.1" fill="#fff" opacity="0.7" filter="url(#bl05)"/>
<circle cx="371.2" cy="1453.7" r="0.8" fill="#fff" opacity="0.7" filter="url(#bl05)"/>
<circle cx="396.4" cy="1467.7" r="1.1" fill="#fff" opacity="0.7" filter="url(#bl05)"/>
<circle cx="400.6" cy="1470.0" r="1.2" fill="#fff" opacity="0.7" filter="url(#bl05)"/>
<circle cx="398.0" cy="1429.2" r="0.6" fill="#fff" opacity="0.7" filter="url(#bl05)"/>
<circle cx="376.5" cy="1433.8" r="0.6" fill="#fff" opacity="0.7" filter="url(#bl05)"/>
<circle cx="389.4" cy="1463.3" r="0.9" fill="#fff" opacity="0.7" filter="url(#bl05)"/>
<circle cx="377.2" cy="1458.5" r="1.1" fill="#fff" opacity="0.7" filter="url(#bl05)"/>
<circle cx="396.3" cy="1450.6" r="0.7" fill="#fff" opacity="0.7" filter="url(#bl05)"/>
<circle cx="395.2" cy="1455.1" r="1.2" fill="#fff" opacity="0.7" filter="url(#bl05)"/>
<circle cx="395.0" cy="1444.7" r="0.9" fill="#fff" opacity="0.7" filter="url(#bl05)"/>
<circle cx="385.9" cy="1463.3" r="0.8" fill="#fff" opacity="0.7" filter="url(#bl05)"/>
<circle cx="380.5" cy="1435.3" r="0.8" fill="#fff" opacity="0.7" filter="url(#bl05)"/>
<circle cx="395.7" cy="1463.8" r="0.7" fill="#fff" opacity="0.7" filter="url(#bl05)"/>
<circle cx="373.0" cy="1443.3" r="0.8" fill="#fff" opacity="0.7" filter="url(#bl05)"/>
<circle cx="399.4" cy="1455.6" r="0.8" fill="#fff" opacity="0.7" filter="url(#bl05)"/>
<circle cx="375.1" cy="1437.1" r="0.8" fill="#fff" opacity="0.7" filter="url(#bl05)"/>
<ellipse cx="397.8" cy="1423.8" rx="1.7" ry="1.0" fill="#c03844" opacity="0.6" filter="url(#bl05)" clip-path="url(#tc3)"/>
<ellipse cx="400.4" cy="1423.2" rx="0.8" ry="0.9" fill="#c03844" opacity="0.6" filter="url(#bl05)" clip-path="url(#tc3)"/>
<ellipse cx="387.0" cy="1477.2" rx="0.8" ry="1.0" fill="#c03844" opacity="0.6" filter="url(#bl05)" clip-path="url(#tc3)"/>
<ellipse cx="389.2" cy="1478.5" rx="1.8" ry="0.8" fill="#c03844" opacity="0.6" filter="url(#bl05)" clip-path="url(#tc3)"/>
<ellipse cx="380.5" cy="1421.0" rx="1.8" ry="1.2" fill="#c03844" opacity="0.6" filter="url(#bl05)" clip-path="url(#tc3)"/>
<ellipse cx="380.7" cy="1420.0" rx="0.9" ry="1.2" fill="#c03844" opacity="0.6" filter="url(#bl05)" clip-path="url(#tc3)"/>
<ellipse cx="378.5" cy="1418.8" rx="1.7" ry="0.7" fill="#c03844" opacity="0.6" filter="url(#bl05)" clip-path="url(#tc3)"/>
<path d="M507.7 1453.5 L507.9 1456.5 L507.5 1459.5 L506.7 1462.3 L505.4 1464.9 L504.1 1467.4 L502.9 1469.9 L501.8 1472.5 L500.6 1475.1 L499.3 1477.6 L497.5 1479.7 L495.3 1481.2 L492.8 1482.0 L490.3 1482.2 L487.8 1482.3 L485.6 1482.6 L483.4 1483.3 L481.3 1484.4 L479.0 1485.5 L476.6 1486.5 L474.1 1486.8 L471.6 1486.5 L469.2 1485.6 L467.0 1484.1 L465.0 1482.4 L463.2 1480.4 L461.5 1478.3 L460.0 1476.1 L458.6 1473.9 L457.3 1471.6 L456.0 1469.3 L454.6 1467.0 L453.3 1464.6 L452.0 1462.1 L450.9 1459.4 L450.3 1456.5 L450.1 1453.5 L450.5 1450.5 L451.3 1447.7 L452.4 1445.0 L453.7 1442.6 L455.1 1440.3 L456.5 1438.0 L457.7 1435.8 L458.9 1433.4 L460.0 1430.9 L461.2 1428.3 L462.5 1425.5 L464.2 1423.0 L466.2 1420.9 L468.6 1419.6 L471.3 1419.3 L474.0 1419.8 L476.6 1420.9 L479.0 1422.2 L481.2 1423.3 L483.4 1424.0 L485.6 1424.3 L487.9 1424.4 L490.3 1424.6 L492.8 1425.1 L495.1 1426.2 L497.1 1427.8 L498.8 1429.9 L500.2 1432.3 L501.3 1434.9 L502.2 1437.6 L503.0 1440.2 L503.8 1442.7 L504.8 1445.3 L505.9 1447.9 L506.9 1450.6Z" fill="url(#g13)" filter="url(#tum)"/>
<g clip-path="url(#tc4)"><ellipse cx="479.7" cy="1462.9" rx="5.4" ry="5.6" fill="url(#lobe)"/><ellipse cx="493.4" cy="1461.1" rx="9.6" ry="7.9" fill="url(#lobe)"/><ellipse cx="480.1" cy="1439.7" rx="6.3" ry="6.2" fill="url(#lobe)"/><ellipse cx="482.8" cy="1462.0" rx="6.1" ry="4.8" fill="url(#lobe)"/><ellipse cx="489.5" cy="1430.2" rx="7.2" ry="7.4" fill="url(#lobe)"/><ellipse cx="471.8" cy="1475.2" rx="8.8" ry="7.1" fill="url(#lobe)"/><ellipse cx="484.3" cy="1447.5" rx="7.6" ry="6.5" fill="url(#lobe)"/><ellipse cx="468.6" cy="1453.1" rx="5.6" ry="5.9" fill="url(#lobe)"/><ellipse cx="500.1" cy="1442.5" rx="6.4" ry="6.3" fill="url(#lobe)"/><ellipse cx="494.7" cy="1441.4" rx="9.6" ry="7.7" fill="url(#lobe)"/><ellipse cx="463.1" cy="1452.5" rx="7.0" ry="6.5" fill="url(#lobe)"/><ellipse cx="486.2" cy="1467.3" rx="6.8" ry="7.4" fill="url(#lobe)"/><ellipse cx="497.8" cy="1460.2" rx="5.7" ry="5.1" fill="url(#lobe)"/><ellipse cx="464.7" cy="1456.6" rx="8.1" ry="8.3" fill="url(#lobe)"/><ellipse cx="469.5" cy="1460.4" rx="6.7" ry="6.6" fill="url(#lobe)"/><ellipse cx="465.8" cy="1473.6" rx="5.9" ry="5.3" fill="url(#lobe)"/><ellipse cx="485.5" cy="1448.2" rx="4.1" ry="4.1" fill="url(#lobe)"/><ellipse cx="480.8" cy="1430.5" rx="5.1" ry="4.9" fill="url(#lobe)"/><ellipse cx="486.4" cy="1471.4" rx="4.8" ry="4.0" fill="url(#lobe)"/><ellipse cx="498.2" cy="1435.9" rx="9.1" ry="7.1" fill="url(#lobe)"/><ellipse cx="492.2" cy="1455.3" rx="9.8" ry="8.1" fill="url(#lobe)"/><ellipse cx="458.6" cy="1468.8" rx="8.1" ry="6.6" fill="url(#lobe)"/><ellipse cx="476.1" cy="1465.9" rx="5.6" ry="5.8" fill="url(#lobe)"/><ellipse cx="461.1" cy="1473.1" rx="4.8" ry="5.3" fill="url(#lobe)"/><ellipse cx="488.8" cy="1456.9" rx="7.6" ry="7.3" fill="url(#lobe)"/><ellipse cx="477.1" cy="1462.4" rx="8.8" ry="8.2" fill="url(#lobe)"/><ellipse cx="480.6" cy="1460.4" rx="4.0" ry="4.1" fill="url(#lobe)"/><ellipse cx="474.7" cy="1443.3" rx="4.4" ry="4.0" fill="url(#lobe)"/><ellipse cx="479.2" cy="1483.0" rx="4.9" ry="4.4" fill="url(#lobe)"/><ellipse cx="481.3" cy="1434.8" rx="9.0" ry="8.2" fill="url(#lobe)"/><ellipse cx="479.8" cy="1472.4" rx="4.3" ry="4.0" fill="url(#lobe)"/><ellipse cx="479.2" cy="1481.3" rx="8.3" ry="7.5" fill="url(#lobe)"/><ellipse cx="491.3" cy="1456.4" rx="4.8" ry="4.9" fill="url(#lobe)"/><ellipse cx="481.7" cy="1480.8" rx="4.1" ry="4.5" fill="url(#lobe)"/><ellipse cx="495.7" cy="1443.8" rx="8.7" ry="8.2" fill="url(#lobe)"/><ellipse cx="495.3" cy="1439.5" rx="8.8" ry="7.3" fill="url(#lobe)"/><ellipse cx="471.4" cy="1453.8" rx="6.0" ry="4.8" fill="url(#lobe)"/><ellipse cx="498.2" cy="1436.7" rx="6.2" ry="5.3" fill="url(#lobe)"/><ellipse cx="485.0" cy="1431.0" rx="8.3" ry="7.4" fill="url(#lobe)"/><ellipse cx="467.4" cy="1433.3" rx="6.4" ry="5.0" fill="url(#lobe)"/><ellipse cx="485.5" cy="1451.3" rx="10.5" ry="8.1" fill="url(#lobe)"/><ellipse cx="476.4" cy="1448.1" rx="7.4" ry="7.8" fill="url(#lobe)"/><ellipse cx="498.8" cy="1448.7" rx="4.0" ry="4.1" fill="url(#lobe)"/><ellipse cx="466.6" cy="1436.8" rx="9.1" ry="7.1" fill="url(#lobe)"/></g>
<circle cx="479.2" cy="1454.8" r="1.2" fill="#fff" opacity="0.7" filter="url(#bl05)"/>
<circle cx="497.0" cy="1455.3" r="0.7" fill="#fff" opacity="0.7" filter="url(#bl05)"/>
<circle cx="485.2" cy="1434.6" r="1.1" fill="#fff" opacity="0.7" filter="url(#bl05)"/>
<circle cx="461.8" cy="1446.8" r="0.7" fill="#fff" opacity="0.7" filter="url(#bl05)"/>
<circle cx="473.7" cy="1441.9" r="1.1" fill="#fff" opacity="0.7" filter="url(#bl05)"/>
<circle cx="480.9" cy="1437.9" r="0.9" fill="#fff" opacity="0.7" filter="url(#bl05)"/>
<circle cx="482.5" cy="1454.2" r="1.0" fill="#fff" opacity="0.7" filter="url(#bl05)"/>
<circle cx="461.1" cy="1455.0" r="1.0" fill="#fff" opacity="0.7" filter="url(#bl05)"/>
<circle cx="486.5" cy="1464.1" r="1.1" fill="#fff" opacity="0.7" filter="url(#bl05)"/>
<circle cx="477.0" cy="1453.2" r="1.1" fill="#fff" opacity="0.7" filter="url(#bl05)"/>
<circle cx="481.6" cy="1447.6" r="0.9" fill="#fff" opacity="0.7" filter="url(#bl05)"/>
<circle cx="466.5" cy="1467.3" r="0.8" fill="#fff" opacity="0.7" filter="url(#bl05)"/>
<circle cx="480.4" cy="1469.4" r="1.2" fill="#fff" opacity="0.7" filter="url(#bl05)"/>
<circle cx="484.4" cy="1457.9" r="1.0" fill="#fff" opacity="0.7" filter="url(#bl05)"/>
<ellipse cx="494.3" cy="1437.8" rx="1.3" ry="1.2" fill="#c03844" opacity="0.6" filter="url(#bl05)" clip-path="url(#tc4)"/>
<ellipse cx="495.9" cy="1437.5" rx="1.9" ry="1.1" fill="#c03844" opacity="0.6" filter="url(#bl05)" clip-path="url(#tc4)"/>
<ellipse cx="495.8" cy="1469.7" rx="1.0" ry="1.1" fill="#c03844" opacity="0.6" filter="url(#bl05)" clip-path="url(#tc4)"/>
<ellipse cx="494.2" cy="1470.8" rx="1.9" ry="1.3" fill="#c03844" opacity="0.6" filter="url(#bl05)" clip-path="url(#tc4)"/>
<ellipse cx="496.4" cy="1455.1" rx="1.5" ry="1.1" fill="#c03844" opacity="0.6" filter="url(#bl05)" clip-path="url(#tc4)"/>
<ellipse cx="497.6" cy="1454.0" rx="1.2" ry="0.9" fill="#c03844" opacity="0.6" filter="url(#bl05)" clip-path="url(#tc4)"/>
<ellipse cx="496.6" cy="1455.4" rx="0.8" ry="0.7" fill="#c03844" opacity="0.6" filter="url(#bl05)" clip-path="url(#tc4)"/>
<path d="M223.0 1546.5 L223.2 1548.0 L223.3 1549.6 L223.3 1551.2 L223.3 1552.9 L223.1 1554.6 L222.8 1556.3 L222.1 1557.9 L221.2 1559.3 L220.1 1560.5 L218.8 1561.6 L217.4 1562.3 L215.9 1562.8 L214.4 1563.1 L212.9 1563.2 L211.5 1563.3 L210.2 1563.5 L208.9 1564.0 L207.5 1564.7 L206.0 1565.4 L204.4 1565.8 L202.9 1565.7 L201.5 1565.0 L200.2 1563.9 L199.2 1562.6 L198.1 1561.4 L197.1 1560.4 L195.9 1559.5 L194.6 1558.6 L193.4 1557.5 L192.4 1556.2 L191.8 1554.7 L191.5 1553.0 L191.5 1551.3 L191.6 1549.6 L191.8 1548.0 L192.0 1546.5 L192.2 1545.0 L192.4 1543.5 L192.6 1542.1 L192.7 1540.5 L192.7 1538.8 L192.9 1537.1 L193.3 1535.4 L194.1 1533.9 L195.3 1532.9 L196.9 1532.4 L198.5 1532.2 L200.0 1532.0 L201.2 1531.5 L202.2 1530.4 L203.2 1528.8 L204.4 1527.1 L205.9 1525.8 L207.5 1525.2 L209.1 1525.5 L210.7 1526.4 L212.0 1527.6 L213.3 1528.6 L214.6 1529.4 L216.0 1530.1 L217.4 1530.7 L218.7 1531.6 L219.7 1532.9 L220.3 1534.5 L220.6 1536.3 L220.9 1537.9 L221.1 1539.4 L221.5 1540.8 L222.0 1542.2 L222.4 1543.6 L222.8 1545.0Z" fill="url(#g14)" filter="url(#tum)"/>
<g clip-path="url(#tc5)"><ellipse cx="198.3" cy="1536.5" rx="5.7" ry="4.4" fill="url(#lobe)"/><ellipse cx="206.6" cy="1530.5" rx="2.6" ry="2.4" fill="url(#lobe)"/><ellipse cx="218.8" cy="1541.8" rx="4.5" ry="4.7" fill="url(#lobe)"/><ellipse cx="200.2" cy="1548.1" rx="4.3" ry="3.8" fill="url(#lobe)"/><ellipse cx="214.4" cy="1547.1" rx="3.9" ry="3.1" fill="url(#lobe)"/><ellipse cx="208.1" cy="1539.9" rx="4.3" ry="4.4" fill="url(#lobe)"/><ellipse cx="203.6" cy="1542.5" rx="2.9" ry="2.3" fill="url(#lobe)"/><ellipse cx="209.3" cy="1554.0" rx="6.2" ry="4.9" fill="url(#lobe)"/><ellipse cx="203.9" cy="1562.4" rx="4.4" ry="3.8" fill="url(#lobe)"/><ellipse cx="211.6" cy="1562.0" rx="5.4" ry="4.2" fill="url(#lobe)"/><ellipse cx="213.9" cy="1540.8" rx="3.2" ry="3.3" fill="url(#lobe)"/><ellipse cx="209.8" cy="1549.9" rx="3.6" ry="3.1" fill="url(#lobe)"/><ellipse cx="219.8" cy="1546.8" rx="3.3" ry="3.2" fill="url(#lobe)"/><ellipse cx="211.8" cy="1536.0" rx="3.5" ry="3.2" fill="url(#lobe)"/><ellipse cx="206.5" cy="1542.7" rx="4.5" ry="4.9" fill="url(#lobe)"/><ellipse cx="207.4" cy="1531.2" rx="2.9" ry="2.4" fill="url(#lobe)"/><ellipse cx="199.9" cy="1556.0" rx="2.2" ry="2.4" fill="url(#lobe)"/><ellipse cx="213.7" cy="1561.3" rx="3.4" ry="2.9" fill="url(#lobe)"/><ellipse cx="220.6" cy="1539.5" rx="3.4" ry="3.2" fill="url(#lobe)"/><ellipse cx="194.5" cy="1544.3" rx="3.1" ry="2.6" fill="url(#lobe)"/></g>
<circle cx="210.6" cy="1535.0" r="0.6" fill="#fff" opacity="0.7" filter="url(#bl05)"/>
<circle cx="210.8" cy="1545.2" r="0.8" fill="#fff" opacity="0.7" filter="url(#bl05)"/>
<circle cx="198.9" cy="1538.5" r="0.8" fill="#fff" opacity="0.7" filter="url(#bl05)"/>
<circle cx="215.1" cy="1542.1" r="0.8" fill="#fff" opacity="0.7" filter="url(#bl05)"/>
<circle cx="205.5" cy="1551.5" r="0.6" fill="#fff" opacity="0.7" filter="url(#bl05)"/>
<circle cx="213.2" cy="1555.2" r="1.2" fill="#fff" opacity="0.7" filter="url(#bl05)"/>
<ellipse cx="212.6" cy="1555.2" rx="1.1" ry="1.2" fill="#c03844" opacity="0.6" filter="url(#bl05)" clip-path="url(#tc5)"/>
<ellipse cx="213.5" cy="1555.3" rx="1.3" ry="0.7" fill="#c03844" opacity="0.6" filter="url(#bl05)" clip-path="url(#tc5)"/>
<ellipse cx="213.7" cy="1554.1" rx="1.4" ry="1.4" fill="#c03844" opacity="0.6" filter="url(#bl05)" clip-path="url(#tc5)"/>
<ellipse cx="217.4" cy="1558.8" rx="0.9" ry="1.0" fill="#c03844" opacity="0.6" filter="url(#bl05)" clip-path="url(#tc5)"/>
<ellipse cx="215.2" cy="1561.0" rx="1.5" ry="0.8" fill="#c03844" opacity="0.6" filter="url(#bl05)" clip-path="url(#tc5)"/>
<ellipse cx="216.3" cy="1561.1" rx="1.6" ry="1.0" fill="#c03844" opacity="0.6" filter="url(#bl05)" clip-path="url(#tc5)"/>
<ellipse cx="205.5" cy="1533.5" rx="6.5" ry="4.5" fill="#3a3462" opacity="0.9" filter="url(#tumb)"/>
<path d="M311.1 1548.0 L310.9 1549.2 L311.0 1550.3 L311.2 1551.6 L311.3 1552.9 L311.2 1554.3 L310.7 1555.5 L309.8 1556.6 L308.6 1557.4 L307.3 1558.1 L306.1 1558.7 L304.9 1559.3 L303.7 1560.0 L302.6 1560.8 L301.4 1561.5 L300.1 1562.1 L298.7 1562.6 L297.3 1563.0 L295.8 1563.1 L294.2 1563.1 L292.8 1562.8 L291.3 1562.4 L289.9 1561.9 L288.6 1561.3 L287.3 1560.7 L286.1 1560.0 L285.0 1559.1 L284.1 1558.2 L283.4 1557.0 L282.9 1555.8 L282.5 1554.6 L282.1 1553.5 L281.6 1552.5 L280.9 1551.5 L280.2 1550.4 L279.8 1549.2 L279.7 1548.0 L280.0 1546.8 L280.5 1545.7 L281.1 1544.6 L281.4 1543.5 L281.6 1542.3 L281.7 1540.9 L281.9 1539.6 L282.5 1538.3 L283.4 1537.3 L284.7 1536.6 L286.1 1536.0 L287.4 1535.4 L288.6 1534.7 L289.8 1533.8 L291.1 1533.0 L292.6 1532.4 L294.2 1532.3 L295.8 1532.7 L297.2 1533.4 L298.5 1534.2 L299.8 1534.9 L301.0 1535.4 L302.4 1535.7 L303.7 1536.0 L305.1 1536.4 L306.2 1537.2 L307.2 1538.1 L308.0 1539.1 L308.7 1540.1 L309.6 1541.1 L310.4 1542.1 L311.1 1543.1 L311.5 1544.3 L311.6 1545.6 L311.4 1546.8Z" fill="url(#g15)" filter="url(#tum)"/>
<g clip-path="url(#tc6)"><ellipse cx="299.3" cy="1536.8" rx="3.1" ry="3.1" fill="url(#lobe)"/><ellipse cx="307.8" cy="1548.0" rx="3.7" ry="3.1" fill="url(#lobe)"/><ellipse cx="286.7" cy="1556.1" rx="3.2" ry="2.6" fill="url(#lobe)"/><ellipse cx="294.5" cy="1539.8" rx="3.8" ry="3.2" fill="url(#lobe)"/><ellipse cx="299.6" cy="1556.9" rx="3.9" ry="3.8" fill="url(#lobe)"/><ellipse cx="299.7" cy="1538.0" rx="4.1" ry="3.9" fill="url(#lobe)"/><ellipse cx="306.8" cy="1554.3" rx="4.1" ry="3.8" fill="url(#lobe)"/><ellipse cx="301.2" cy="1551.2" rx="3.5" ry="3.4" fill="url(#lobe)"/><ellipse cx="306.5" cy="1545.0" rx="2.9" ry="2.5" fill="url(#lobe)"/><ellipse cx="286.7" cy="1557.5" rx="4.5" ry="4.1" fill="url(#lobe)"/><ellipse cx="288.2" cy="1539.6" rx="4.9" ry="3.8" fill="url(#lobe)"/><ellipse cx="304.5" cy="1549.4" rx="3.4" ry="3.4" fill="url(#lobe)"/><ellipse cx="292.0" cy="1546.0" rx="4.4" ry="4.0" fill="url(#lobe)"/><ellipse cx="304.7" cy="1555.0" rx="2.6" ry="2.7" fill="url(#lobe)"/><ellipse cx="290.3" cy="1548.5" rx="3.1" ry="2.5" fill="url(#lobe)"/><ellipse cx="295.2" cy="1546.6" rx="3.4" ry="3.8" fill="url(#lobe)"/><ellipse cx="288.8" cy="1558.6" rx="3.5" ry="3.4" fill="url(#lobe)"/></g>
<circle cx="290.6" cy="1552.3" r="0.7" fill="#fff" opacity="0.7" filter="url(#bl05)"/>
<circle cx="298.4" cy="1548.0" r="0.9" fill="#fff" opacity="0.7" filter="url(#bl05)"/>
<circle cx="295.6" cy="1541.7" r="1.2" fill="#fff" opacity="0.7" filter="url(#bl05)"/>
<circle cx="296.1" cy="1557.9" r="1.1" fill="#fff" opacity="0.7" filter="url(#bl05)"/>
<circle cx="290.5" cy="1539.8" r="0.9" fill="#fff" opacity="0.7" filter="url(#bl05)"/>
<path d="M407.3 1547.0 L407.4 1548.6 L407.3 1550.1 L407.0 1551.7 L406.5 1553.1 L405.8 1554.5 L405.0 1555.7 L404.2 1556.9 L403.3 1558.0 L402.4 1559.0 L401.5 1560.1 L400.6 1561.0 L399.5 1561.9 L398.4 1562.6 L397.2 1563.0 L395.9 1563.3 L394.7 1563.4 L393.5 1563.4 L392.2 1563.3 L391.0 1563.3 L389.8 1563.3 L388.6 1563.2 L387.4 1562.8 L386.2 1562.3 L385.1 1561.6 L384.1 1560.7 L383.2 1559.8 L382.2 1558.9 L381.1 1558.0 L380.1 1557.0 L379.2 1555.9 L378.4 1554.6 L377.8 1553.2 L377.6 1551.6 L377.5 1550.1 L377.6 1548.5 L377.8 1547.0 L377.9 1545.5 L378.0 1544.0 L378.3 1542.6 L378.8 1541.2 L379.4 1539.9 L380.1 1538.7 L380.9 1537.6 L381.7 1536.5 L382.4 1535.3 L383.1 1534.1 L383.8 1532.8 L384.8 1531.7 L385.8 1530.7 L387.0 1530.1 L388.3 1529.7 L389.6 1529.5 L391.0 1529.5 L392.2 1529.5 L393.5 1529.6 L394.8 1529.9 L396.0 1530.4 L397.1 1531.2 L398.1 1532.1 L399.0 1533.1 L399.9 1534.1 L400.8 1535.0 L401.7 1535.8 L402.7 1536.6 L403.7 1537.5 L404.6 1538.6 L405.4 1539.8 L406.0 1541.1 L406.5 1542.5 L406.9 1544.0 L407.2 1545.5Z" fill="url(#g16)" filter="url(#tum)"/>
<g clip-path="url(#tc7)"><ellipse cx="390.0" cy="1552.3" rx="3.3" ry="3.5" fill="url(#lobe)"/><ellipse cx="384.6" cy="1544.9" rx="2.4" ry="2.2" fill="url(#lobe)"/><ellipse cx="400.6" cy="1549.4" rx="2.1" ry="2.2" fill="url(#lobe)"/><ellipse cx="381.7" cy="1553.4" rx="2.3" ry="2.3" fill="url(#lobe)"/><ellipse cx="383.4" cy="1536.3" rx="3.6" ry="3.4" fill="url(#lobe)"/><ellipse cx="395.0" cy="1546.5" rx="4.1" ry="4.0" fill="url(#lobe)"/><ellipse cx="395.0" cy="1551.2" rx="3.4" ry="2.7" fill="url(#lobe)"/><ellipse cx="396.4" cy="1557.6" rx="3.7" ry="3.5" fill="url(#lobe)"/><ellipse cx="389.1" cy="1545.9" rx="2.1" ry="2.2" fill="url(#lobe)"/><ellipse cx="388.6" cy="1537.9" rx="3.1" ry="2.8" fill="url(#lobe)"/><ellipse cx="385.4" cy="1549.5" rx="4.6" ry="3.9" fill="url(#lobe)"/><ellipse cx="392.6" cy="1558.7" rx="4.1" ry="3.2" fill="url(#lobe)"/><ellipse cx="391.3" cy="1538.8" rx="4.1" ry="4.3" fill="url(#lobe)"/><ellipse cx="382.4" cy="1553.6" rx="2.6" ry="2.4" fill="url(#lobe)"/><ellipse cx="402.6" cy="1550.1" rx="4.3" ry="3.8" fill="url(#lobe)"/><ellipse cx="397.4" cy="1540.9" rx="4.1" ry="3.6" fill="url(#lobe)"/><ellipse cx="384.5" cy="1542.0" rx="5.1" ry="4.0" fill="url(#lobe)"/></g>
<circle cx="384.1" cy="1548.6" r="0.6" fill="#fff" opacity="0.7" filter="url(#bl05)"/>
<circle cx="389.8" cy="1537.8" r="1.2" fill="#fff" opacity="0.7" filter="url(#bl05)"/>
<circle cx="394.6" cy="1541.2" r="0.8" fill="#fff" opacity="0.7" filter="url(#bl05)"/>
<circle cx="391.5" cy="1545.4" r="0.9" fill="#fff" opacity="0.7" filter="url(#bl05)"/>
<circle cx="394.0" cy="1550.6" r="0.6" fill="#fff" opacity="0.7" filter="url(#bl05)"/>
<path d="M487.9 1550.0 L487.6 1551.0 L487.2 1552.0 L486.8 1552.9 L486.4 1553.8 L485.9 1554.7 L485.5 1555.6 L485.1 1556.4 L484.6 1557.3 L484.0 1558.1 L483.2 1558.9 L482.4 1559.5 L481.6 1560.1 L480.6 1560.6 L479.7 1561.0 L478.7 1561.4 L477.6 1561.6 L476.6 1561.7 L475.5 1561.7 L474.5 1561.5 L473.4 1561.2 L472.5 1560.8 L471.6 1560.3 L470.7 1559.8 L469.9 1559.3 L469.0 1558.9 L468.2 1558.4 L467.3 1557.9 L466.4 1557.3 L465.6 1556.7 L464.9 1555.9 L464.4 1555.0 L464.1 1554.0 L463.9 1553.0 L464.0 1552.0 L464.0 1551.0 L464.1 1550.0 L464.1 1549.0 L464.1 1548.1 L464.2 1547.1 L464.3 1546.1 L464.6 1545.1 L464.9 1544.2 L465.4 1543.2 L466.0 1542.4 L466.7 1541.6 L467.5 1540.8 L468.4 1540.3 L469.4 1539.9 L470.5 1539.7 L471.6 1539.7 L472.6 1539.7 L473.6 1539.6 L474.5 1539.4 L475.5 1539.0 L476.5 1538.6 L477.7 1538.3 L478.8 1538.1 L479.9 1538.3 L480.9 1538.9 L481.7 1539.7 L482.3 1540.6 L482.8 1541.6 L483.3 1542.5 L483.8 1543.3 L484.4 1544.0 L485.1 1544.7 L485.9 1545.3 L486.7 1546.1 L487.3 1547.0 L487.7 1547.9 L487.9 1549.0Z" fill="url(#g17)" filter="url(#tum)"/>
<g clip-path="url(#tc8)"><ellipse cx="477.0" cy="1560.0" rx="2.2" ry="1.8" fill="url(#lobe)"/><ellipse cx="480.1" cy="1552.6" rx="3.4" ry="3.4" fill="url(#lobe)"/><ellipse cx="470.9" cy="1544.6" rx="2.7" ry="2.4" fill="url(#lobe)"/><ellipse cx="479.0" cy="1558.7" rx="1.7" ry="1.8" fill="url(#lobe)"/><ellipse cx="481.0" cy="1550.7" rx="2.9" ry="2.3" fill="url(#lobe)"/><ellipse cx="472.9" cy="1552.4" rx="2.7" ry="2.1" fill="url(#lobe)"/><ellipse cx="483.3" cy="1553.1" rx="2.7" ry="2.3" fill="url(#lobe)"/><ellipse cx="470.8" cy="1557.3" rx="2.9" ry="2.5" fill="url(#lobe)"/><ellipse cx="482.1" cy="1545.4" rx="1.7" ry="1.9" fill="url(#lobe)"/><ellipse cx="482.5" cy="1547.6" rx="2.5" ry="1.9" fill="url(#lobe)"/><ellipse cx="467.5" cy="1545.8" rx="3.2" ry="3.2" fill="url(#lobe)"/><ellipse cx="469.3" cy="1557.5" rx="2.2" ry="1.8" fill="url(#lobe)"/><ellipse cx="482.8" cy="1554.9" rx="3.7" ry="2.9" fill="url(#lobe)"/></g>
<circle cx="478.8" cy="1545.3" r="0.7" fill="#fff" opacity="0.7" filter="url(#bl05)"/>
<circle cx="479.1" cy="1554.7" r="0.9" fill="#fff" opacity="0.7" filter="url(#bl05)"/>
<circle cx="482.6" cy="1553.3" r="0.9" fill="#fff" opacity="0.7" filter="url(#bl05)"/>
<circle cx="474.3" cy="1546.4" r="0.7" fill="#fff" opacity="0.7" filter="url(#bl05)"/>
<line x1="479.8" y1="1577.0" x2="489.5" y2="1577.0" stroke="#111" stroke-width="1.6"/>
<line x1="495.5" y1="1577.0" x2="505.2" y2="1577.0" stroke="#111" stroke-width="1.6"/>
<line x1="511.2" y1="1577.0" x2="520.9" y2="1577.0" stroke="#111" stroke-width="1.6"/>
<line x1="526.9" y1="1577.0" x2="536.6" y2="1577.0" stroke="#111" stroke-width="1.6"/>
<text x="511.0" y="1569.0" font-size="10.5" font-weight="normal" text-anchor="middle" fill="#000">1cm</text>
<text x="54.5" y="1718.5" font-size="30" font-weight="bold" text-anchor="start" fill="#000">J</text>
<text x="355.5" y="1680.4" font-size="20.5" font-weight="bold" text-anchor="middle" fill="#000">Capan-1</text>
<rect x="158.3" y="1693.9" width="396.3" height="198.4" fill="url(#g18)" />
<text x="144.8" y="1742.0" font-size="20" font-weight="bold" text-anchor="end" fill="#000">Vec</text>
<text x="144.8" y="1838.4" font-size="19.6" font-weight="bold" text-anchor="end" fill="#000">KDM5B</text>
<path d="M246.6 1729.5 L246.5 1731.1 L246.2 1732.6 L245.8 1734.0 L245.3 1735.3 L244.8 1736.5 L244.3 1737.8 L244.0 1739.2 L243.5 1740.6 L243.0 1741.9 L242.3 1743.1 L241.5 1744.1 L240.6 1744.9 L239.7 1745.6 L238.7 1746.5 L237.8 1747.4 L236.8 1748.3 L235.7 1748.9 L234.5 1749.1 L233.3 1748.8 L232.3 1748.1 L231.2 1747.3 L230.3 1746.5 L229.2 1745.9 L228.2 1745.4 L227.2 1744.7 L226.2 1743.9 L225.4 1742.7 L224.8 1741.4 L224.2 1740.0 L223.8 1738.6 L223.3 1737.1 L222.9 1735.7 L222.7 1734.1 L222.7 1732.6 L222.8 1731.0 L222.9 1729.5 L222.9 1728.1 L222.8 1726.6 L222.6 1724.9 L222.5 1723.2 L222.6 1721.5 L223.0 1719.9 L223.8 1718.7 L224.8 1717.7 L225.8 1716.9 L226.7 1716.0 L227.5 1715.0 L228.3 1714.0 L229.2 1713.0 L230.2 1712.3 L231.3 1711.9 L232.4 1711.9 L233.4 1712.1 L234.5 1712.2 L235.5 1712.3 L236.6 1712.4 L237.6 1712.6 L238.6 1713.0 L239.6 1713.7 L240.5 1714.4 L241.5 1715.0 L242.6 1715.6 L243.7 1716.1 L244.9 1716.8 L246.0 1717.8 L246.8 1719.3 L247.1 1721.0 L247.1 1722.9 L247.0 1724.7 L246.8 1726.4 L246.6 1728.0Z" fill="url(#g19)" filter="url(#tum)"/>
<g clip-path="url(#tc9)"><ellipse cx="226.5" cy="1733.2" rx="3.9" ry="3.6" fill="url(#lobe)"/><ellipse cx="225.9" cy="1729.0" rx="2.3" ry="2.1" fill="url(#lobe)"/><ellipse cx="227.7" cy="1719.0" rx="2.0" ry="1.9" fill="url(#lobe)"/><ellipse cx="243.0" cy="1737.5" rx="2.9" ry="3.1" fill="url(#lobe)"/><ellipse cx="245.4" cy="1727.7" rx="3.5" ry="3.0" fill="url(#lobe)"/><ellipse cx="235.3" cy="1731.2" rx="2.6" ry="2.8" fill="url(#lobe)"/><ellipse cx="236.5" cy="1737.0" rx="2.0" ry="1.8" fill="url(#lobe)"/><ellipse cx="224.9" cy="1735.0" rx="3.2" ry="2.8" fill="url(#lobe)"/><ellipse cx="225.4" cy="1729.6" rx="2.7" ry="2.7" fill="url(#lobe)"/><ellipse cx="245.7" cy="1729.3" rx="4.0" ry="3.4" fill="url(#lobe)"/><ellipse cx="232.4" cy="1736.7" rx="2.2" ry="2.3" fill="url(#lobe)"/><ellipse cx="235.2" cy="1719.3" rx="3.6" ry="3.4" fill="url(#lobe)"/><ellipse cx="244.4" cy="1725.6" rx="1.7" ry="1.7" fill="url(#lobe)"/><ellipse cx="241.0" cy="1723.6" rx="3.9" ry="3.7" fill="url(#lobe)"/><ellipse cx="242.5" cy="1735.3" rx="3.3" ry="3.3" fill="url(#lobe)"/><ellipse cx="240.0" cy="1734.4" rx="4.4" ry="3.7" fill="url(#lobe)"/><ellipse cx="238.6" cy="1735.0" rx="1.8" ry="1.9" fill="url(#lobe)"/></g>
<circle cx="235.6" cy="1724.4" r="0.9" fill="#fff" opacity="0.7" filter="url(#bl05)"/>
<circle cx="230.9" cy="1731.4" r="1.0" fill="#fff" opacity="0.7" filter="url(#bl05)"/>
<circle cx="239.3" cy="1737.0" r="0.7" fill="#fff" opacity="0.7" filter="url(#bl05)"/>
<circle cx="231.0" cy="1732.3" r="0.8" fill="#fff" opacity="0.7" filter="url(#bl05)"/>
<circle cx="242.2" cy="1727.5" r="0.8" fill="#fff" opacity="0.7" filter="url(#bl05)"/>
<ellipse cx="241.9" cy="1722.2" rx="1.5" ry="0.7" fill="#c03844" opacity="0.6" filter="url(#bl05)" clip-path="url(#tc9)"/>
<ellipse cx="239.3" cy="1721.8" rx="0.8" ry="1.2" fill="#c03844" opacity="0.6" filter="url(#bl05)" clip-path="url(#tc9)"/>
<path d="M327.8 1728.6 L327.7 1730.0 L327.6 1731.5 L327.7 1733.0 L327.6 1734.5 L327.5 1736.1 L327.2 1737.6 L326.6 1738.9 L325.8 1740.0 L324.9 1740.8 L323.9 1741.4 L322.9 1741.9 L322.0 1742.4 L321.1 1742.9 L320.3 1743.7 L319.5 1744.5 L318.6 1745.4 L317.6 1746.1 L316.6 1746.5 L315.5 1746.6 L314.5 1746.3 L313.5 1745.8 L312.5 1745.3 L311.5 1744.7 L310.6 1744.0 L309.6 1743.3 L308.8 1742.4 L308.0 1741.3 L307.3 1740.0 L306.8 1738.7 L306.4 1737.3 L305.9 1735.9 L305.6 1734.5 L305.3 1733.1 L305.1 1731.6 L305.1 1730.1 L305.3 1728.6 L305.6 1727.2 L306.0 1725.8 L306.3 1724.5 L306.6 1723.2 L306.8 1721.9 L307.0 1720.5 L307.3 1719.0 L307.7 1717.6 L308.2 1716.3 L308.9 1715.1 L309.7 1714.1 L310.6 1713.3 L311.5 1712.6 L312.5 1712.0 L313.5 1711.5 L314.5 1711.2 L315.5 1710.9 L316.6 1710.7 L317.7 1710.6 L318.7 1710.8 L319.8 1711.2 L320.7 1711.9 L321.6 1712.8 L322.4 1713.9 L323.0 1715.1 L323.7 1716.2 L324.4 1717.1 L325.2 1718.0 L326.0 1718.9 L326.9 1719.9 L327.5 1721.1 L328.0 1722.5 L328.2 1724.0 L328.1 1725.6 L328.0 1727.1Z" fill="url(#g20)" filter="url(#tum)"/>
<g clip-path="url(#tc10)"><ellipse cx="308.2" cy="1730.6" rx="2.8" ry="2.9" fill="url(#lobe)"/><ellipse cx="323.0" cy="1729.2" rx="2.6" ry="2.1" fill="url(#lobe)"/><ellipse cx="313.6" cy="1717.4" rx="3.1" ry="2.7" fill="url(#lobe)"/><ellipse cx="320.9" cy="1736.7" rx="2.4" ry="1.9" fill="url(#lobe)"/><ellipse cx="325.5" cy="1733.7" rx="2.1" ry="1.8" fill="url(#lobe)"/><ellipse cx="313.1" cy="1737.0" rx="2.9" ry="3.2" fill="url(#lobe)"/><ellipse cx="325.9" cy="1734.1" rx="2.4" ry="2.6" fill="url(#lobe)"/><ellipse cx="326.8" cy="1727.3" rx="2.0" ry="1.8" fill="url(#lobe)"/><ellipse cx="320.5" cy="1735.1" rx="2.7" ry="2.8" fill="url(#lobe)"/><ellipse cx="315.8" cy="1725.3" rx="2.4" ry="2.0" fill="url(#lobe)"/><ellipse cx="311.1" cy="1734.5" rx="3.0" ry="2.8" fill="url(#lobe)"/><ellipse cx="315.2" cy="1730.4" rx="3.9" ry="3.0" fill="url(#lobe)"/><ellipse cx="325.1" cy="1726.7" rx="2.4" ry="2.3" fill="url(#lobe)"/><ellipse cx="313.4" cy="1716.8" rx="1.8" ry="1.8" fill="url(#lobe)"/><ellipse cx="311.7" cy="1737.0" rx="3.5" ry="3.2" fill="url(#lobe)"/><ellipse cx="326.0" cy="1731.1" rx="2.7" ry="2.4" fill="url(#lobe)"/></g>
<circle cx="317.5" cy="1736.3" r="0.8" fill="#fff" opacity="0.7" filter="url(#bl05)"/>
<circle cx="317.0" cy="1724.8" r="0.9" fill="#fff" opacity="0.7" filter="url(#bl05)"/>
<circle cx="319.6" cy="1737.6" r="0.6" fill="#fff" opacity="0.7" filter="url(#bl05)"/>
<circle cx="315.8" cy="1735.6" r="1.0" fill="#fff" opacity="0.7" filter="url(#bl05)"/>
<circle cx="321.8" cy="1731.2" r="0.7" fill="#fff" opacity="0.7" filter="url(#bl05)"/>
<ellipse cx="314.1" cy="1742.5" rx="1.4" ry="1.1" fill="#c03844" opacity="0.6" filter="url(#bl05)" clip-path="url(#tc10)"/>
<ellipse cx="313.9" cy="1741.9" rx="1.1" ry="1.2" fill="#c03844" opacity="0.6" filter="url(#bl05)" clip-path="url(#tc10)"/>
<path d="M410.0 1727.2 L409.9 1728.6 L409.8 1730.0 L409.6 1731.3 L409.3 1732.7 L408.9 1733.9 L408.4 1735.1 L407.8 1736.2 L407.2 1737.2 L406.7 1738.3 L406.2 1739.5 L405.6 1740.8 L404.9 1742.0 L404.1 1742.8 L403.1 1743.2 L402.0 1743.2 L401.0 1742.9 L400.0 1742.6 L399.1 1742.5 L398.1 1742.6 L397.2 1742.7 L396.2 1742.6 L395.3 1742.2 L394.5 1741.5 L393.7 1740.8 L392.9 1740.0 L392.1 1739.2 L391.3 1738.5 L390.5 1737.7 L389.8 1736.6 L389.3 1735.4 L389.0 1734.1 L388.8 1732.7 L388.5 1731.4 L388.2 1730.0 L387.8 1728.7 L387.6 1727.2 L387.6 1725.8 L387.9 1724.4 L388.4 1723.1 L389.0 1721.9 L389.5 1720.8 L390.0 1719.7 L390.5 1718.5 L391.0 1717.5 L391.6 1716.5 L392.4 1715.7 L393.1 1715.0 L393.9 1714.2 L394.6 1713.3 L395.3 1712.3 L396.1 1711.2 L397.0 1710.5 L398.0 1710.2 L399.1 1710.5 L400.0 1711.2 L400.9 1711.8 L401.8 1712.2 L402.8 1712.2 L403.9 1712.1 L405.0 1712.2 L406.0 1712.8 L406.8 1713.9 L407.2 1715.5 L407.3 1717.2 L407.4 1718.8 L407.6 1720.1 L408.0 1721.2 L408.6 1722.2 L409.3 1723.3 L409.8 1724.5 L410.0 1725.9Z" fill="url(#g21)" filter="url(#tum)"/>
<g clip-path="url(#tc11)"><ellipse cx="398.6" cy="1739.1" rx="3.4" ry="2.7" fill="url(#lobe)"/><ellipse cx="400.9" cy="1733.6" rx="1.8" ry="1.8" fill="url(#lobe)"/><ellipse cx="398.7" cy="1722.1" rx="2.4" ry="2.5" fill="url(#lobe)"/><ellipse cx="397.3" cy="1736.3" rx="3.4" ry="3.0" fill="url(#lobe)"/><ellipse cx="404.2" cy="1727.9" rx="2.2" ry="1.8" fill="url(#lobe)"/><ellipse cx="402.3" cy="1715.3" rx="3.6" ry="3.0" fill="url(#lobe)"/><ellipse cx="407.4" cy="1723.2" rx="2.5" ry="2.0" fill="url(#lobe)"/><ellipse cx="390.5" cy="1728.3" rx="2.7" ry="2.5" fill="url(#lobe)"/><ellipse cx="394.8" cy="1734.3" rx="2.0" ry="2.1" fill="url(#lobe)"/><ellipse cx="402.8" cy="1715.6" rx="3.8" ry="3.3" fill="url(#lobe)"/><ellipse cx="391.0" cy="1723.1" rx="2.1" ry="1.8" fill="url(#lobe)"/><ellipse cx="395.2" cy="1729.4" rx="2.1" ry="1.9" fill="url(#lobe)"/><ellipse cx="398.9" cy="1737.0" rx="2.8" ry="2.6" fill="url(#lobe)"/><ellipse cx="403.8" cy="1734.6" rx="1.9" ry="1.9" fill="url(#lobe)"/></g>
<circle cx="400.6" cy="1733.6" r="0.6" fill="#fff" opacity="0.7" filter="url(#bl05)"/>
<circle cx="394.7" cy="1718.4" r="0.8" fill="#fff" opacity="0.7" filter="url(#bl05)"/>
<circle cx="397.6" cy="1716.7" r="0.6" fill="#fff" opacity="0.7" filter="url(#bl05)"/>
<circle cx="403.4" cy="1735.0" r="1.1" fill="#fff" opacity="0.7" filter="url(#bl05)"/>
<path d="M486.1 1730.5 L485.9 1731.7 L485.6 1732.9 L485.5 1734.2 L485.6 1735.5 L485.7 1736.9 L485.6 1738.4 L485.1 1739.7 L484.2 1740.7 L483.1 1741.4 L481.9 1741.9 L480.7 1742.3 L479.7 1742.8 L478.8 1743.5 L477.8 1744.3 L476.8 1744.8 L475.6 1745.0 L474.5 1744.9 L473.4 1744.7 L472.3 1744.5 L471.1 1744.5 L470.0 1744.6 L468.8 1744.6 L467.6 1744.3 L466.6 1743.7 L465.7 1742.7 L465.0 1741.7 L464.3 1740.6 L463.6 1739.7 L462.7 1738.8 L461.9 1737.9 L461.1 1736.9 L460.6 1735.7 L460.3 1734.4 L460.1 1733.1 L459.9 1731.8 L459.8 1730.5 L459.7 1729.2 L459.8 1727.8 L460.3 1726.6 L461.0 1725.5 L462.0 1724.6 L462.9 1723.7 L463.6 1722.8 L464.1 1721.8 L464.6 1720.7 L465.1 1719.5 L465.9 1718.5 L466.8 1717.8 L467.8 1717.3 L468.9 1716.8 L469.9 1716.3 L471.0 1715.5 L472.1 1714.8 L473.4 1714.2 L474.6 1714.2 L475.8 1714.7 L476.9 1715.7 L477.8 1716.8 L478.6 1717.9 L479.5 1718.6 L480.5 1719.1 L481.6 1719.5 L482.7 1720.1 L483.6 1720.9 L484.3 1722.0 L484.7 1723.1 L485.1 1724.4 L485.5 1725.6 L485.8 1726.8 L486.1 1728.0 L486.2 1729.2Z" fill="url(#g22)" filter="url(#tum)"/>
<g clip-path="url(#tc12)"><ellipse cx="481.1" cy="1737.4" rx="4.1" ry="3.2" fill="url(#lobe)"/><ellipse cx="472.6" cy="1737.1" rx="3.9" ry="3.4" fill="url(#lobe)"/><ellipse cx="470.2" cy="1740.9" rx="3.2" ry="2.7" fill="url(#lobe)"/><ellipse cx="477.5" cy="1734.7" rx="3.9" ry="3.7" fill="url(#lobe)"/><ellipse cx="472.7" cy="1742.4" rx="3.0" ry="3.2" fill="url(#lobe)"/><ellipse cx="464.2" cy="1727.1" rx="2.5" ry="2.2" fill="url(#lobe)"/><ellipse cx="478.3" cy="1735.9" rx="2.0" ry="2.0" fill="url(#lobe)"/><ellipse cx="480.8" cy="1729.3" rx="4.2" ry="3.9" fill="url(#lobe)"/><ellipse cx="464.7" cy="1722.8" rx="3.1" ry="3.3" fill="url(#lobe)"/><ellipse cx="465.4" cy="1724.9" rx="2.1" ry="2.2" fill="url(#lobe)"/><ellipse cx="479.3" cy="1723.8" rx="2.4" ry="2.3" fill="url(#lobe)"/><ellipse cx="475.5" cy="1742.1" rx="2.7" ry="2.9" fill="url(#lobe)"/><ellipse cx="474.8" cy="1726.9" rx="2.2" ry="2.4" fill="url(#lobe)"/><ellipse cx="473.1" cy="1726.0" rx="2.8" ry="2.9" fill="url(#lobe)"/><ellipse cx="463.6" cy="1731.9" rx="3.2" ry="3.0" fill="url(#lobe)"/></g>
<circle cx="467.3" cy="1731.2" r="1.0" fill="#fff" opacity="0.7" filter="url(#bl05)"/>
<circle cx="478.6" cy="1734.5" r="0.7" fill="#fff" opacity="0.7" filter="url(#bl05)"/>
<circle cx="479.3" cy="1723.0" r="0.6" fill="#fff" opacity="0.7" filter="url(#bl05)"/>
<circle cx="478.2" cy="1737.3" r="0.9" fill="#fff" opacity="0.7" filter="url(#bl05)"/>
<circle cx="481.0" cy="1731.5" r="1.2" fill="#fff" opacity="0.7" filter="url(#bl05)"/>
<ellipse cx="464.9" cy="1735.1" rx="1.2" ry="1.1" fill="#c03844" opacity="0.6" filter="url(#bl05)" clip-path="url(#tc12)"/>
<ellipse cx="464.0" cy="1735.4" rx="1.8" ry="0.8" fill="#c03844" opacity="0.6" filter="url(#bl05)" clip-path="url(#tc12)"/>
<ellipse cx="464.1" cy="1734.3" rx="0.8" ry="0.7" fill="#c03844" opacity="0.6" filter="url(#bl05)" clip-path="url(#tc12)"/>
<path d="M265.5 1825.5 L266.4 1829.2 L266.4 1833.0 L265.8 1836.7 L264.9 1840.4 L263.9 1844.0 L262.6 1847.7 L261.0 1851.1 L258.6 1853.9 L255.5 1855.9 L252.0 1857.1 L248.4 1857.6 L245.1 1857.9 L242.1 1858.5 L239.5 1859.7 L236.9 1861.3 L234.3 1863.1 L231.4 1864.4 L228.3 1865.0 L225.3 1864.9 L222.2 1864.4 L219.2 1863.7 L216.1 1863.1 L213.0 1862.4 L209.8 1861.4 L206.9 1859.8 L204.5 1857.3 L202.8 1854.1 L201.9 1850.4 L201.4 1846.6 L201.1 1843.1 L200.6 1840.0 L199.6 1837.2 L198.0 1834.6 L196.0 1831.9 L194.0 1828.9 L192.1 1825.5 L190.9 1821.8 L190.5 1818.0 L191.0 1814.3 L192.2 1810.8 L194.1 1807.6 L196.4 1804.8 L198.7 1802.3 L201.1 1799.9 L203.4 1797.6 L205.6 1795.1 L207.8 1792.6 L210.1 1790.1 L212.6 1787.6 L215.3 1785.4 L218.3 1783.7 L221.6 1782.6 L225.0 1782.6 L228.3 1783.5 L231.5 1785.4 L234.3 1787.7 L236.8 1790.1 L239.3 1792.0 L241.8 1793.2 L244.6 1794.0 L247.6 1794.7 L250.6 1795.9 L253.0 1797.9 L254.8 1800.7 L255.7 1804.1 L256.2 1807.5 L256.7 1810.7 L257.7 1813.6 L259.4 1816.2 L261.6 1818.9 L263.8 1822.0Z" fill="url(#g23)" filter="url(#tum)"/>
<g clip-path="url(#tc13)"><ellipse cx="231.7" cy="1824.7" rx="8.8" ry="9.1" fill="url(#lobe)"/><ellipse cx="232.5" cy="1825.1" rx="11.7" ry="10.0" fill="url(#lobe)"/><ellipse cx="248.2" cy="1797.5" rx="6.6" ry="6.3" fill="url(#lobe)"/><ellipse cx="223.9" cy="1807.2" rx="6.4" ry="6.5" fill="url(#lobe)"/><ellipse cx="247.0" cy="1799.4" rx="9.4" ry="9.5" fill="url(#lobe)"/><ellipse cx="248.7" cy="1813.8" rx="6.8" ry="6.3" fill="url(#lobe)"/><ellipse cx="220.5" cy="1830.4" rx="8.5" ry="8.2" fill="url(#lobe)"/><ellipse cx="200.4" cy="1811.0" rx="9.2" ry="8.6" fill="url(#lobe)"/><ellipse cx="249.1" cy="1798.5" rx="9.9" ry="7.8" fill="url(#lobe)"/><ellipse cx="240.2" cy="1827.1" rx="7.6" ry="5.9" fill="url(#lobe)"/><ellipse cx="218.4" cy="1797.3" rx="7.2" ry="6.6" fill="url(#lobe)"/><ellipse cx="236.0" cy="1818.1" rx="5.2" ry="5.6" fill="url(#lobe)"/><ellipse cx="199.6" cy="1832.0" rx="8.6" ry="8.1" fill="url(#lobe)"/><ellipse cx="214.8" cy="1825.3" rx="10.8" ry="10.4" fill="url(#lobe)"/><ellipse cx="230.0" cy="1845.4" rx="9.9" ry="9.7" fill="url(#lobe)"/><ellipse cx="243.6" cy="1813.8" rx="6.9" ry="7.5" fill="url(#lobe)"/><ellipse cx="252.1" cy="1807.9" rx="7.2" ry="7.7" fill="url(#lobe)"/><ellipse cx="208.8" cy="1826.6" rx="12.4" ry="9.7" fill="url(#lobe)"/><ellipse cx="227.4" cy="1806.4" rx="6.5" ry="5.2" fill="url(#lobe)"/><ellipse cx="240.3" cy="1820.6" rx="8.5" ry="7.8" fill="url(#lobe)"/><ellipse cx="234.9" cy="1824.4" rx="6.6" ry="5.3" fill="url(#lobe)"/><ellipse cx="208.7" cy="1815.3" rx="10.7" ry="9.4" fill="url(#lobe)"/><ellipse cx="222.6" cy="1808.6" rx="4.9" ry="5.4" fill="url(#lobe)"/><ellipse cx="215.5" cy="1850.5" rx="7.4" ry="7.1" fill="url(#lobe)"/><ellipse cx="208.6" cy="1805.2" rx="8.6" ry="8.3" fill="url(#lobe)"/><ellipse cx="240.7" cy="1796.7" rx="12.6" ry="10.0" fill="url(#lobe)"/><ellipse cx="254.4" cy="1828.3" rx="7.3" ry="6.9" fill="url(#lobe)"/><ellipse cx="216.3" cy="1824.0" rx="8.3" ry="6.4" fill="url(#lobe)"/><ellipse cx="213.5" cy="1855.3" rx="9.1" ry="8.9" fill="url(#lobe)"/><ellipse cx="218.0" cy="1850.8" rx="9.3" ry="9.0" fill="url(#lobe)"/><ellipse cx="240.7" cy="1830.9" rx="11.7" ry="9.9" fill="url(#lobe)"/><ellipse cx="251.0" cy="1846.0" rx="8.5" ry="8.2" fill="url(#lobe)"/><ellipse cx="237.3" cy="1817.5" rx="5.7" ry="5.5" fill="url(#lobe)"/><ellipse cx="226.5" cy="1799.1" rx="9.7" ry="7.7" fill="url(#lobe)"/><ellipse cx="206.1" cy="1845.1" rx="6.1" ry="5.0" fill="url(#lobe)"/><ellipse cx="242.8" cy="1849.5" rx="11.3" ry="9.7" fill="url(#lobe)"/><ellipse cx="207.5" cy="1812.9" rx="9.7" ry="9.2" fill="url(#lobe)"/><ellipse cx="230.8" cy="1852.0" rx="7.5" ry="7.9" fill="url(#lobe)"/><ellipse cx="206.9" cy="1821.0" rx="6.9" ry="5.9" fill="url(#lobe)"/><ellipse cx="231.6" cy="1805.0" rx="12.8" ry="9.9" fill="url(#lobe)"/><ellipse cx="217.6" cy="1806.1" rx="6.2" ry="6.5" fill="url(#lobe)"/><ellipse cx="223.8" cy="1860.8" rx="6.7" ry="5.3" fill="url(#lobe)"/><ellipse cx="219.1" cy="1795.6" rx="6.4" ry="5.5" fill="url(#lobe)"/><ellipse cx="235.7" cy="1853.7" rx="11.3" ry="9.5" fill="url(#lobe)"/><ellipse cx="199.0" cy="1818.2" rx="6.0" ry="6.3" fill="url(#lobe)"/><ellipse cx="233.3" cy="1819.2" rx="7.8" ry="7.3" fill="url(#lobe)"/><ellipse cx="242.3" cy="1810.3" rx="9.0" ry="8.2" fill="url(#lobe)"/><ellipse cx="206.6" cy="1828.8" rx="8.7" ry="7.6" fill="url(#lobe)"/><ellipse cx="209.4" cy="1835.1" rx="13.2" ry="10.2" fill="url(#lobe)"/><ellipse cx="228.9" cy="1860.3" rx="5.3" ry="5.1" fill="url(#lobe)"/><ellipse cx="238.9" cy="1816.8" rx="11.4" ry="8.8" fill="url(#lobe)"/><ellipse cx="211.8" cy="1809.9" rx="5.6" ry="5.1" fill="url(#lobe)"/><ellipse cx="200.7" cy="1832.7" rx="8.8" ry="7.2" fill="url(#lobe)"/><ellipse cx="207.3" cy="1841.5" rx="9.0" ry="9.3" fill="url(#lobe)"/><ellipse cx="248.8" cy="1818.5" rx="9.9" ry="7.7" fill="url(#lobe)"/><ellipse cx="207.6" cy="1814.4" rx="6.1" ry="6.2" fill="url(#lobe)"/><ellipse cx="229.8" cy="1800.1" rx="10.3" ry="8.7" fill="url(#lobe)"/><ellipse cx="220.8" cy="1807.0" rx="10.7" ry="9.9" fill="url(#lobe)"/><ellipse cx="241.7" cy="1855.2" rx="9.6" ry="10.1" fill="url(#lobe)"/><ellipse cx="248.2" cy="1805.9" rx="7.3" ry="6.5" fill="url(#lobe)"/><ellipse cx="239.3" cy="1818.9" rx="8.7" ry="8.7" fill="url(#lobe)"/><ellipse cx="246.8" cy="1853.6" rx="12.3" ry="10.6" fill="url(#lobe)"/><ellipse cx="233.6" cy="1803.8" rx="8.5" ry="7.4" fill="url(#lobe)"/><ellipse cx="238.7" cy="1797.9" rx="8.8" ry="7.6" fill="url(#lobe)"/></g>
<circle cx="210.1" cy="1839.9" r="1.1" fill="#fff" opacity="0.7" filter="url(#bl05)"/>
<circle cx="230.4" cy="1809.9" r="0.8" fill="#fff" opacity="0.7" filter="url(#bl05)"/>
<circle cx="243.5" cy="1823.3" r="1.0" fill="#fff" opacity="0.7" filter="url(#bl05)"/>
<circle cx="235.8" cy="1831.2" r="0.7" fill="#fff" opacity="0.7" filter="url(#bl05)"/>
<circle cx="222.8" cy="1813.8" r="1.0" fill="#fff" opacity="0.7" filter="url(#bl05)"/>
<circle cx="246.9" cy="1835.7" r="1.0" fill="#fff" opacity="0.7" filter="url(#bl05)"/>
<circle cx="227.9" cy="1839.1" r="0.8" fill="#fff" opacity="0.7" filter="url(#bl05)"/>
<circle cx="217.7" cy="1826.0" r="0.7" fill="#fff" opacity="0.7" filter="url(#bl05)"/>
<circle cx="236.3" cy="1800.1" r="0.7" fill="#fff" opacity="0.7" filter="url(#bl05)"/>
<circle cx="208.3" cy="1822.8" r="1.2" fill="#fff" opacity="0.7" filter="url(#bl05)"/>
<circle cx="211.5" cy="1818.1" r="1.1" fill="#fff" opacity="0.7" filter="url(#bl05)"/>
<circle cx="233.3" cy="1802.7" r="1.0" fill="#fff" opacity="0.7" filter="url(#bl05)"/>
<circle cx="230.3" cy="1820.2" r="1.1" fill="#fff" opacity="0.7" filter="url(#bl05)"/>
<circle cx="230.9" cy="1841.8" r="0.8" fill="#fff" opacity="0.7" filter="url(#bl05)"/>
<circle cx="209.4" cy="1822.9" r="1.0" fill="#fff" opacity="0.7" filter="url(#bl05)"/>
<circle cx="222.3" cy="1840.8" r="1.0" fill="#fff" opacity="0.7" filter="url(#bl05)"/>
<circle cx="242.3" cy="1818.3" r="0.6" fill="#fff" opacity="0.7" filter="url(#bl05)"/>
<circle cx="242.5" cy="1804.6" r="1.1" fill="#fff" opacity="0.7" filter="url(#bl05)"/>
<circle cx="217.8" cy="1812.0" r="0.6" fill="#fff" opacity="0.7" filter="url(#bl05)"/>
<circle cx="242.7" cy="1816.7" r="0.7" fill="#fff" opacity="0.7" filter="url(#bl05)"/>
<circle cx="224.6" cy="1821.4" r="0.8" fill="#fff" opacity="0.7" filter="url(#bl05)"/>
<ellipse cx="202.6" cy="1804.8" rx="1.9" ry="1.5" fill="#c03844" opacity="0.6" filter="url(#bl05)" clip-path="url(#tc13)"/>
<ellipse cx="205.0" cy="1803.3" rx="1.4" ry="0.9" fill="#c03844" opacity="0.6" filter="url(#bl05)" clip-path="url(#tc13)"/>
<ellipse cx="201.8" cy="1821.5" rx="1.5" ry="1.3" fill="#c03844" opacity="0.6" filter="url(#bl05)" clip-path="url(#tc13)"/>
<ellipse cx="201.7" cy="1823.1" rx="1.6" ry="1.1" fill="#c03844" opacity="0.6" filter="url(#bl05)" clip-path="url(#tc13)"/>
<ellipse cx="209.9" cy="1842.5" rx="1.9" ry="1.0" fill="#c03844" opacity="0.6" filter="url(#bl05)" clip-path="url(#tc13)"/>
<ellipse cx="210.2" cy="1842.8" rx="0.9" ry="1.3" fill="#c03844" opacity="0.6" filter="url(#bl05)" clip-path="url(#tc13)"/>
<ellipse cx="210.9" cy="1841.6" rx="1.9" ry="1.2" fill="#c03844" opacity="0.6" filter="url(#bl05)" clip-path="url(#tc13)"/>
<ellipse cx="250.3" cy="1817.5" rx="1.0" ry="1.5" fill="#c03844" opacity="0.6" filter="url(#bl05)" clip-path="url(#tc13)"/>
<ellipse cx="250.7" cy="1818.1" rx="1.7" ry="1.0" fill="#c03844" opacity="0.6" filter="url(#bl05)" clip-path="url(#tc13)"/>
<ellipse cx="251.8" cy="1818.6" rx="1.3" ry="1.4" fill="#c03844" opacity="0.6" filter="url(#bl05)" clip-path="url(#tc13)"/>
<ellipse cx="217.1" cy="1803.2" rx="5.9" ry="3.9" fill="#c86868" opacity="0.35" filter="url(#tumb)" clip-path="url(#tc13)"/>
<ellipse cx="241.2" cy="1851.5" rx="6.8" ry="2.3" fill="#c86868" opacity="0.35" filter="url(#tumb)" clip-path="url(#tc13)"/>
<ellipse cx="220.9" cy="1834.7" rx="3.5" ry="3.7" fill="#c86868" opacity="0.35" filter="url(#tumb)" clip-path="url(#tc13)"/>
<path d="M352.3 1829.0 L352.1 1832.7 L351.2 1836.2 L349.8 1839.4 L348.1 1842.3 L346.6 1845.2 L345.6 1848.3 L345.0 1851.8 L344.4 1855.7 L343.3 1859.4 L341.5 1862.3 L339.0 1864.1 L336.1 1864.9 L333.2 1865.4 L330.6 1866.1 L328.2 1867.5 L325.8 1869.4 L323.2 1871.3 L320.5 1872.3 L317.6 1872.1 L314.9 1870.8 L312.3 1869.1 L309.8 1867.7 L307.2 1866.7 L304.3 1866.1 L301.4 1865.1 L298.8 1863.3 L296.8 1860.4 L295.6 1856.7 L294.9 1852.7 L294.2 1849.1 L293.1 1845.9 L291.5 1843.0 L289.8 1839.9 L288.5 1836.5 L288.1 1832.8 L288.6 1829.0 L289.8 1825.4 L291.0 1822.1 L291.7 1818.8 L291.9 1815.2 L291.9 1811.3 L292.3 1807.4 L293.4 1803.8 L295.3 1801.0 L297.9 1799.0 L300.5 1797.5 L303.0 1796.0 L305.3 1794.1 L307.4 1791.9 L309.7 1789.7 L312.2 1788.0 L314.9 1787.2 L317.7 1787.4 L320.5 1788.2 L323.1 1789.3 L325.6 1790.2 L328.2 1790.8 L330.8 1791.3 L333.5 1792.0 L336.2 1792.8 L338.9 1794.0 L341.5 1795.6 L344.1 1797.7 L346.3 1800.2 L348.2 1803.2 L349.6 1806.7 L350.4 1810.5 L350.8 1814.3 L351.2 1818.1 L351.6 1821.7 L352.1 1825.3Z" fill="url(#g24)" filter="url(#tum)"/>
<g clip-path="url(#tc14)"><ellipse cx="307.8" cy="1849.0" rx="7.0" ry="6.5" fill="url(#lobe)"/><ellipse cx="301.1" cy="1845.5" rx="6.6" ry="5.7" fill="url(#lobe)"/><ellipse cx="336.0" cy="1830.3" rx="5.8" ry="6.1" fill="url(#lobe)"/><ellipse cx="319.8" cy="1808.1" rx="10.8" ry="8.4" fill="url(#lobe)"/><ellipse cx="319.9" cy="1864.6" rx="9.9" ry="8.5" fill="url(#lobe)"/><ellipse cx="339.3" cy="1833.3" rx="7.7" ry="7.6" fill="url(#lobe)"/><ellipse cx="323.0" cy="1849.7" rx="6.9" ry="5.7" fill="url(#lobe)"/><ellipse cx="309.8" cy="1849.0" rx="9.8" ry="7.6" fill="url(#lobe)"/><ellipse cx="318.9" cy="1836.6" rx="11.5" ry="9.3" fill="url(#lobe)"/><ellipse cx="325.5" cy="1802.6" rx="5.4" ry="5.6" fill="url(#lobe)"/><ellipse cx="314.0" cy="1853.1" rx="5.6" ry="4.7" fill="url(#lobe)"/><ellipse cx="320.0" cy="1824.7" rx="9.5" ry="8.7" fill="url(#lobe)"/><ellipse cx="337.5" cy="1816.3" rx="9.1" ry="8.4" fill="url(#lobe)"/><ellipse cx="305.2" cy="1811.7" rx="4.3" ry="4.5" fill="url(#lobe)"/><ellipse cx="322.5" cy="1852.8" rx="7.0" ry="6.3" fill="url(#lobe)"/><ellipse cx="310.8" cy="1809.0" rx="6.6" ry="6.0" fill="url(#lobe)"/><ellipse cx="344.4" cy="1819.2" rx="9.5" ry="7.7" fill="url(#lobe)"/><ellipse cx="321.7" cy="1840.8" rx="4.6" ry="4.9" fill="url(#lobe)"/><ellipse cx="342.8" cy="1830.7" rx="8.5" ry="9.0" fill="url(#lobe)"/><ellipse cx="309.8" cy="1795.4" rx="7.9" ry="8.3" fill="url(#lobe)"/><ellipse cx="311.2" cy="1814.5" rx="4.8" ry="5.3" fill="url(#lobe)"/><ellipse cx="293.6" cy="1823.3" rx="4.7" ry="4.9" fill="url(#lobe)"/><ellipse cx="316.2" cy="1833.8" rx="8.0" ry="6.7" fill="url(#lobe)"/><ellipse cx="315.0" cy="1830.8" rx="4.5" ry="4.6" fill="url(#lobe)"/><ellipse cx="306.8" cy="1797.6" rx="6.5" ry="6.9" fill="url(#lobe)"/><ellipse cx="324.3" cy="1852.7" rx="4.7" ry="5.0" fill="url(#lobe)"/><ellipse cx="296.7" cy="1842.9" rx="7.0" ry="5.6" fill="url(#lobe)"/><ellipse cx="333.7" cy="1811.6" rx="5.4" ry="5.5" fill="url(#lobe)"/><ellipse cx="307.6" cy="1799.3" rx="8.6" ry="8.7" fill="url(#lobe)"/><ellipse cx="316.7" cy="1831.5" rx="6.1" ry="5.9" fill="url(#lobe)"/><ellipse cx="326.0" cy="1836.3" rx="9.6" ry="9.4" fill="url(#lobe)"/><ellipse cx="299.7" cy="1829.2" rx="7.7" ry="6.8" fill="url(#lobe)"/><ellipse cx="300.6" cy="1828.6" rx="5.5" ry="4.8" fill="url(#lobe)"/><ellipse cx="308.6" cy="1801.1" rx="6.5" ry="6.0" fill="url(#lobe)"/><ellipse cx="328.8" cy="1798.9" rx="4.8" ry="4.7" fill="url(#lobe)"/><ellipse cx="331.8" cy="1856.9" rx="6.8" ry="6.4" fill="url(#lobe)"/><ellipse cx="323.7" cy="1854.0" rx="9.3" ry="8.0" fill="url(#lobe)"/><ellipse cx="323.6" cy="1852.3" rx="7.0" ry="7.5" fill="url(#lobe)"/><ellipse cx="324.0" cy="1825.7" rx="7.2" ry="7.6" fill="url(#lobe)"/><ellipse cx="343.1" cy="1820.4" rx="6.1" ry="5.5" fill="url(#lobe)"/><ellipse cx="335.2" cy="1800.2" rx="9.0" ry="7.7" fill="url(#lobe)"/><ellipse cx="319.1" cy="1793.1" rx="8.0" ry="7.0" fill="url(#lobe)"/><ellipse cx="326.4" cy="1803.3" rx="6.2" ry="5.5" fill="url(#lobe)"/><ellipse cx="306.5" cy="1854.8" rx="10.3" ry="8.2" fill="url(#lobe)"/><ellipse cx="323.7" cy="1832.6" rx="10.9" ry="9.1" fill="url(#lobe)"/><ellipse cx="346.0" cy="1828.3" rx="8.9" ry="9.2" fill="url(#lobe)"/><ellipse cx="329.2" cy="1856.1" rx="7.8" ry="8.2" fill="url(#lobe)"/><ellipse cx="333.3" cy="1823.2" rx="5.8" ry="5.4" fill="url(#lobe)"/><ellipse cx="324.0" cy="1839.3" rx="4.4" ry="4.8" fill="url(#lobe)"/><ellipse cx="334.1" cy="1854.1" rx="10.1" ry="8.3" fill="url(#lobe)"/><ellipse cx="299.1" cy="1845.2" rx="6.2" ry="5.0" fill="url(#lobe)"/><ellipse cx="312.1" cy="1836.1" rx="6.2" ry="6.3" fill="url(#lobe)"/><ellipse cx="319.6" cy="1806.0" rx="4.4" ry="4.5" fill="url(#lobe)"/><ellipse cx="344.7" cy="1846.7" rx="7.9" ry="6.5" fill="url(#lobe)"/><ellipse cx="305.3" cy="1815.6" rx="9.1" ry="8.1" fill="url(#lobe)"/><ellipse cx="347.7" cy="1839.1" rx="7.2" ry="6.2" fill="url(#lobe)"/><ellipse cx="296.4" cy="1847.4" rx="4.8" ry="5.3" fill="url(#lobe)"/><ellipse cx="337.7" cy="1835.3" rx="9.4" ry="8.7" fill="url(#lobe)"/><ellipse cx="330.2" cy="1823.0" rx="9.0" ry="9.3" fill="url(#lobe)"/><ellipse cx="329.8" cy="1817.9" rx="8.4" ry="7.3" fill="url(#lobe)"/></g>
<circle cx="334.4" cy="1825.6" r="1.1" fill="#fff" opacity="0.7" filter="url(#bl05)"/>
<circle cx="340.3" cy="1837.8" r="0.9" fill="#fff" opacity="0.7" filter="url(#bl05)"/>
<circle cx="299.3" cy="1822.4" r="0.8" fill="#fff" opacity="0.7" filter="url(#bl05)"/>
<circle cx="307.7" cy="1814.3" r="0.8" fill="#fff" opacity="0.7" filter="url(#bl05)"/>
<circle cx="329.2" cy="1844.3" r="0.8" fill="#fff" opacity="0.7" filter="url(#bl05)"/>
<circle cx="309.6" cy="1817.1" r="0.6" fill="#fff" opacity="0.7" filter="url(#bl05)"/>
<circle cx="312.6" cy="1802.9" r="1.0" fill="#fff" opacity="0.7" filter="url(#bl05)"/>
<circle cx="316.9" cy="1844.4" r="1.2" fill="#fff" opacity="0.7" filter="url(#bl05)"/>
<circle cx="302.8" cy="1837.6" r="0.6" fill="#fff" opacity="0.7" filter="url(#bl05)"/>
<circle cx="328.5" cy="1803.5" r="0.8" fill="#fff" opacity="0.7" filter="url(#bl05)"/>
<circle cx="314.2" cy="1851.1" r="1.2" fill="#fff" opacity="0.7" filter="url(#bl05)"/>
<circle cx="321.2" cy="1824.8" r="0.7" fill="#fff" opacity="0.7" filter="url(#bl05)"/>
<circle cx="331.1" cy="1817.0" r="1.2" fill="#fff" opacity="0.7" filter="url(#bl05)"/>
<circle cx="301.3" cy="1837.3" r="0.7" fill="#fff" opacity="0.7" filter="url(#bl05)"/>
<circle cx="335.3" cy="1824.5" r="0.6" fill="#fff" opacity="0.7" filter="url(#bl05)"/>
<circle cx="322.5" cy="1837.0" r="0.9" fill="#fff" opacity="0.7" filter="url(#bl05)"/>
<circle cx="341.4" cy="1821.3" r="1.2" fill="#fff" opacity="0.7" filter="url(#bl05)"/>
<circle cx="304.2" cy="1842.9" r="1.0" fill="#fff" opacity="0.7" filter="url(#bl05)"/>
<circle cx="331.1" cy="1803.9" r="1.1" fill="#fff" opacity="0.7" filter="url(#bl05)"/>
<circle cx="321.5" cy="1812.6" r="0.7" fill="#fff" opacity="0.7" filter="url(#bl05)"/>
<ellipse cx="301.2" cy="1841.9" rx="1.7" ry="0.7" fill="#c03844" opacity="0.6" filter="url(#bl05)" clip-path="url(#tc14)"/>
<ellipse cx="335.6" cy="1841.6" rx="1.8" ry="0.9" fill="#c03844" opacity="0.6" filter="url(#bl05)" clip-path="url(#tc14)"/>
<ellipse cx="336.2" cy="1849.0" rx="1.1" ry="1.0" fill="#c03844" opacity="0.6" filter="url(#bl05)" clip-path="url(#tc14)"/>
<ellipse cx="336.7" cy="1848.5" rx="1.0" ry="0.8" fill="#c03844" opacity="0.6" filter="url(#bl05)" clip-path="url(#tc14)"/>
<ellipse cx="337.6" cy="1848.3" rx="1.7" ry="1.0" fill="#c03844" opacity="0.6" filter="url(#bl05)" clip-path="url(#tc14)"/>
<ellipse cx="326.6" cy="1833.0" rx="3.8" ry="2.4" fill="#c86868" opacity="0.35" filter="url(#tumb)" clip-path="url(#tc14)"/>
<ellipse cx="341.9" cy="1827.9" rx="4.7" ry="4.1" fill="#c86868" opacity="0.35" filter="url(#tumb)" clip-path="url(#tc14)"/>
<ellipse cx="340.6" cy="1817.8" rx="4.2" ry="3.3" fill="#c86868" opacity="0.35" filter="url(#tumb)" clip-path="url(#tc14)"/>
<ellipse cx="316.3" cy="1813.4" rx="6.8" ry="2.6" fill="#c86868" opacity="0.35" filter="url(#tumb)" clip-path="url(#tc14)"/>
<path d="M430.3 1828.3 L430.4 1832.2 L429.9 1836.0 L428.6 1839.4 L426.9 1842.4 L425.4 1845.2 L424.2 1848.1 L423.5 1851.5 L422.9 1855.3 L422.0 1859.0 L420.6 1862.1 L418.6 1864.1 L416.3 1865.1 L413.9 1865.6 L411.7 1866.3 L409.7 1867.8 L407.7 1870.0 L405.6 1872.3 L403.2 1873.7 L400.8 1873.8 L398.5 1872.5 L396.4 1870.3 L394.4 1868.1 L392.4 1866.5 L390.2 1865.4 L387.8 1864.3 L385.5 1862.8 L383.6 1860.4 L382.2 1857.2 L381.3 1853.4 L380.7 1849.6 L380.2 1845.9 L379.7 1842.4 L379.3 1838.8 L379.3 1835.2 L379.8 1831.7 L380.7 1828.3 L381.5 1825.2 L381.8 1822.2 L381.4 1818.8 L380.5 1814.9 L379.6 1810.4 L379.2 1805.7 L379.7 1801.4 L381.0 1797.9 L383.0 1795.3 L385.2 1793.3 L387.3 1791.3 L389.4 1789.1 L391.4 1786.8 L393.6 1785.1 L396.0 1784.4 L398.6 1784.9 L401.0 1786.4 L403.2 1788.2 L405.3 1789.6 L407.4 1790.2 L409.5 1790.1 L411.8 1789.9 L414.2 1790.1 L416.5 1791.0 L418.5 1792.7 L420.3 1795.2 L421.8 1798.0 L423.1 1801.1 L424.3 1804.3 L425.2 1807.7 L426.0 1811.0 L426.7 1814.4 L427.6 1817.7 L428.5 1821.1 L429.5 1824.6Z" fill="url(#g25)" filter="url(#tum)"/>
<g clip-path="url(#tc15)"><ellipse cx="382.4" cy="1823.7" rx="7.8" ry="7.6" fill="url(#lobe)"/><ellipse cx="405.2" cy="1796.5" rx="6.0" ry="6.4" fill="url(#lobe)"/><ellipse cx="417.5" cy="1832.3" rx="6.7" ry="6.7" fill="url(#lobe)"/><ellipse cx="390.1" cy="1828.2" rx="9.1" ry="7.2" fill="url(#lobe)"/><ellipse cx="384.2" cy="1850.5" rx="4.8" ry="3.9" fill="url(#lobe)"/><ellipse cx="409.7" cy="1817.9" rx="7.4" ry="6.6" fill="url(#lobe)"/><ellipse cx="413.5" cy="1823.4" rx="7.4" ry="5.9" fill="url(#lobe)"/><ellipse cx="394.9" cy="1812.1" rx="5.1" ry="4.0" fill="url(#lobe)"/><ellipse cx="380.2" cy="1834.6" rx="5.2" ry="4.2" fill="url(#lobe)"/><ellipse cx="411.9" cy="1794.6" rx="3.9" ry="3.7" fill="url(#lobe)"/><ellipse cx="422.5" cy="1838.9" rx="6.6" ry="5.1" fill="url(#lobe)"/><ellipse cx="388.7" cy="1852.2" rx="7.2" ry="7.2" fill="url(#lobe)"/><ellipse cx="381.8" cy="1815.4" rx="6.1" ry="5.8" fill="url(#lobe)"/><ellipse cx="401.0" cy="1862.0" rx="5.1" ry="4.4" fill="url(#lobe)"/><ellipse cx="386.9" cy="1818.7" rx="4.9" ry="4.2" fill="url(#lobe)"/><ellipse cx="414.7" cy="1817.5" rx="6.3" ry="5.0" fill="url(#lobe)"/><ellipse cx="392.5" cy="1819.0" rx="4.4" ry="3.7" fill="url(#lobe)"/><ellipse cx="394.0" cy="1849.7" rx="5.5" ry="4.8" fill="url(#lobe)"/><ellipse cx="401.5" cy="1807.3" rx="5.1" ry="3.9" fill="url(#lobe)"/><ellipse cx="406.1" cy="1825.4" rx="7.0" ry="6.0" fill="url(#lobe)"/><ellipse cx="386.9" cy="1847.1" rx="8.7" ry="7.6" fill="url(#lobe)"/><ellipse cx="395.2" cy="1839.0" rx="4.5" ry="4.7" fill="url(#lobe)"/><ellipse cx="411.5" cy="1839.6" rx="8.0" ry="7.1" fill="url(#lobe)"/><ellipse cx="410.8" cy="1793.9" rx="6.4" ry="7.0" fill="url(#lobe)"/><ellipse cx="409.6" cy="1823.1" rx="8.5" ry="6.8" fill="url(#lobe)"/><ellipse cx="395.1" cy="1808.1" rx="3.7" ry="3.9" fill="url(#lobe)"/><ellipse cx="395.7" cy="1814.2" rx="5.9" ry="5.9" fill="url(#lobe)"/><ellipse cx="409.8" cy="1846.1" rx="7.3" ry="6.7" fill="url(#lobe)"/><ellipse cx="390.5" cy="1845.0" rx="6.6" ry="5.9" fill="url(#lobe)"/><ellipse cx="381.6" cy="1841.1" rx="6.7" ry="6.8" fill="url(#lobe)"/><ellipse cx="399.0" cy="1843.4" rx="4.7" ry="5.2" fill="url(#lobe)"/><ellipse cx="402.6" cy="1799.6" rx="6.8" ry="5.4" fill="url(#lobe)"/><ellipse cx="394.8" cy="1853.9" rx="8.4" ry="7.5" fill="url(#lobe)"/><ellipse cx="392.5" cy="1813.3" rx="9.4" ry="7.8" fill="url(#lobe)"/><ellipse cx="398.7" cy="1849.9" rx="6.8" ry="6.1" fill="url(#lobe)"/><ellipse cx="393.1" cy="1825.9" rx="7.1" ry="6.0" fill="url(#lobe)"/><ellipse cx="404.7" cy="1802.9" rx="6.0" ry="5.5" fill="url(#lobe)"/><ellipse cx="387.5" cy="1822.5" rx="3.7" ry="3.7" fill="url(#lobe)"/><ellipse cx="424.4" cy="1825.6" rx="6.7" ry="5.6" fill="url(#lobe)"/><ellipse cx="406.2" cy="1847.5" rx="6.8" ry="5.8" fill="url(#lobe)"/><ellipse cx="419.1" cy="1832.9" rx="8.5" ry="7.4" fill="url(#lobe)"/><ellipse cx="410.6" cy="1827.8" rx="9.2" ry="7.4" fill="url(#lobe)"/><ellipse cx="420.1" cy="1832.9" rx="6.7" ry="6.8" fill="url(#lobe)"/><ellipse cx="390.5" cy="1800.0" rx="7.4" ry="6.9" fill="url(#lobe)"/><ellipse cx="419.3" cy="1838.4" rx="4.9" ry="4.4" fill="url(#lobe)"/><ellipse cx="401.6" cy="1850.7" rx="7.2" ry="5.9" fill="url(#lobe)"/><ellipse cx="418.0" cy="1824.5" rx="4.4" ry="3.7" fill="url(#lobe)"/><ellipse cx="392.4" cy="1856.5" rx="6.5" ry="7.1" fill="url(#lobe)"/><ellipse cx="401.7" cy="1808.1" rx="5.1" ry="5.0" fill="url(#lobe)"/><ellipse cx="392.0" cy="1823.9" rx="5.8" ry="5.7" fill="url(#lobe)"/><ellipse cx="411.5" cy="1841.8" rx="6.6" ry="6.5" fill="url(#lobe)"/><ellipse cx="407.6" cy="1850.3" rx="5.9" ry="4.5" fill="url(#lobe)"/></g>
<circle cx="404.9" cy="1817.1" r="0.8" fill="#fff" opacity="0.7" filter="url(#bl05)"/>
<circle cx="391.1" cy="1836.8" r="0.8" fill="#fff" opacity="0.7" filter="url(#bl05)"/>
<circle cx="387.6" cy="1824.6" r="0.7" fill="#fff" opacity="0.7" filter="url(#bl05)"/>
<circle cx="396.4" cy="1824.0" r="0.9" fill="#fff" opacity="0.7" filter="url(#bl05)"/>
<circle cx="396.6" cy="1852.6" r="1.1" fill="#fff" opacity="0.7" filter="url(#bl05)"/>
<circle cx="414.4" cy="1823.2" r="1.0" fill="#fff" opacity="0.7" filter="url(#bl05)"/>
<circle cx="410.8" cy="1850.2" r="1.1" fill="#fff" opacity="0.7" filter="url(#bl05)"/>
<circle cx="394.0" cy="1835.8" r="1.1" fill="#fff" opacity="0.7" filter="url(#bl05)"/>
<circle cx="403.2" cy="1801.8" r="0.8" fill="#fff" opacity="0.7" filter="url(#bl05)"/>
<circle cx="403.7" cy="1843.2" r="0.7" fill="#fff" opacity="0.7" filter="url(#bl05)"/>
<circle cx="409.6" cy="1828.8" r="0.9" fill="#fff" opacity="0.7" filter="url(#bl05)"/>
<circle cx="387.7" cy="1840.2" r="0.8" fill="#fff" opacity="0.7" filter="url(#bl05)"/>
<circle cx="411.7" cy="1853.5" r="0.6" fill="#fff" opacity="0.7" filter="url(#bl05)"/>
<circle cx="394.8" cy="1850.3" r="0.8" fill="#fff" opacity="0.7" filter="url(#bl05)"/>
<circle cx="418.5" cy="1822.5" r="0.8" fill="#fff" opacity="0.7" filter="url(#bl05)"/>
<circle cx="414.6" cy="1806.7" r="0.9" fill="#fff" opacity="0.7" filter="url(#bl05)"/>
<circle cx="406.9" cy="1835.9" r="1.1" fill="#fff" opacity="0.7" filter="url(#bl05)"/>
<ellipse cx="418.5" cy="1805.1" rx="1.8" ry="1.4" fill="#c03844" opacity="0.6" filter="url(#bl05)" clip-path="url(#tc15)"/>
<ellipse cx="419.1" cy="1805.3" rx="0.9" ry="1.0" fill="#c03844" opacity="0.6" filter="url(#bl05)" clip-path="url(#tc15)"/>
<ellipse cx="415.6" cy="1814.9" rx="1.5" ry="1.0" fill="#c03844" opacity="0.6" filter="url(#bl05)" clip-path="url(#tc15)"/>
<ellipse cx="417.5" cy="1813.5" rx="1.5" ry="1.3" fill="#c03844" opacity="0.6" filter="url(#bl05)" clip-path="url(#tc15)"/>
<ellipse cx="382.8" cy="1838.9" rx="1.0" ry="1.0" fill="#c03844" opacity="0.6" filter="url(#bl05)" clip-path="url(#tc15)"/>
<ellipse cx="421.1" cy="1801.6" rx="0.9" ry="1.2" fill="#c03844" opacity="0.6" filter="url(#bl05)" clip-path="url(#tc15)"/>
<ellipse cx="395.3" cy="1845.1" rx="3.5" ry="3.8" fill="#c86868" opacity="0.35" filter="url(#tumb)" clip-path="url(#tc15)"/>
<ellipse cx="401.8" cy="1799.2" rx="3.4" ry="2.7" fill="#c86868" opacity="0.35" filter="url(#tumb)" clip-path="url(#tc15)"/>
<ellipse cx="392.8" cy="1835.6" rx="5.7" ry="3.1" fill="#c86868" opacity="0.35" filter="url(#tumb)" clip-path="url(#tc15)"/>
<ellipse cx="393.8" cy="1854.8" rx="6.2" ry="3.0" fill="#c86868" opacity="0.35" filter="url(#tumb)" clip-path="url(#tc15)"/>
<path d="M498.4 1831.4 L498.3 1833.9 L498.0 1836.3 L497.2 1838.5 L496.0 1840.5 L494.7 1842.2 L493.6 1844.0 L492.8 1846.0 L492.4 1848.4 L491.9 1851.0 L491.1 1853.6 L489.7 1855.5 L487.9 1856.7 L485.9 1857.0 L483.8 1857.0 L481.8 1857.0 L480.0 1857.3 L478.3 1857.9 L476.4 1858.5 L474.6 1858.9 L472.6 1858.8 L470.8 1858.2 L469.0 1857.3 L467.3 1856.3 L465.6 1855.3 L463.9 1854.2 L462.2 1853.0 L460.7 1851.5 L459.3 1849.7 L458.2 1847.6 L457.3 1845.5 L456.5 1843.3 L455.9 1840.9 L455.6 1838.6 L455.5 1836.1 L455.7 1833.7 L456.0 1831.4 L456.2 1829.2 L456.2 1826.9 L456.0 1824.5 L456.0 1822.0 L456.4 1819.6 L457.4 1817.5 L458.9 1815.9 L460.7 1814.6 L462.2 1813.4 L463.4 1811.8 L464.4 1809.6 L465.3 1807.0 L466.5 1804.5 L468.2 1802.8 L470.3 1802.3 L472.5 1802.9 L474.6 1804.1 L476.4 1805.1 L478.2 1805.5 L480.1 1805.3 L482.1 1804.9 L484.1 1805.0 L485.9 1805.8 L487.3 1807.5 L488.5 1809.7 L489.5 1811.8 L490.6 1813.4 L492.1 1814.7 L493.9 1815.9 L495.7 1817.4 L497.1 1819.3 L497.9 1821.5 L498.3 1824.0 L498.3 1826.6 L498.3 1829.0Z" fill="url(#g26)" filter="url(#tum)"/>
<g clip-path="url(#tc16)"><ellipse cx="483.1" cy="1849.7" rx="4.1" ry="4.2" fill="url(#lobe)"/><ellipse cx="462.8" cy="1832.6" rx="5.1" ry="4.7" fill="url(#lobe)"/><ellipse cx="475.6" cy="1843.8" rx="5.6" ry="5.4" fill="url(#lobe)"/><ellipse cx="468.6" cy="1812.0" rx="7.7" ry="6.0" fill="url(#lobe)"/><ellipse cx="477.4" cy="1843.4" rx="6.3" ry="5.6" fill="url(#lobe)"/><ellipse cx="481.2" cy="1850.8" rx="7.5" ry="6.0" fill="url(#lobe)"/><ellipse cx="478.7" cy="1844.6" rx="3.9" ry="3.0" fill="url(#lobe)"/><ellipse cx="479.5" cy="1852.1" rx="5.6" ry="4.9" fill="url(#lobe)"/><ellipse cx="459.0" cy="1827.7" rx="5.2" ry="5.1" fill="url(#lobe)"/><ellipse cx="486.5" cy="1842.7" rx="6.0" ry="6.2" fill="url(#lobe)"/><ellipse cx="470.2" cy="1813.5" rx="3.5" ry="3.6" fill="url(#lobe)"/><ellipse cx="471.4" cy="1816.4" rx="4.8" ry="4.4" fill="url(#lobe)"/><ellipse cx="489.6" cy="1843.7" rx="5.6" ry="5.1" fill="url(#lobe)"/><ellipse cx="467.1" cy="1850.3" rx="6.6" ry="5.9" fill="url(#lobe)"/><ellipse cx="482.8" cy="1836.5" rx="3.3" ry="3.6" fill="url(#lobe)"/><ellipse cx="467.9" cy="1816.9" rx="4.7" ry="3.7" fill="url(#lobe)"/><ellipse cx="464.6" cy="1815.5" rx="6.9" ry="5.9" fill="url(#lobe)"/><ellipse cx="457.4" cy="1827.4" rx="4.1" ry="3.5" fill="url(#lobe)"/><ellipse cx="486.5" cy="1820.1" rx="5.7" ry="5.9" fill="url(#lobe)"/><ellipse cx="467.7" cy="1837.9" rx="5.2" ry="4.4" fill="url(#lobe)"/><ellipse cx="483.5" cy="1842.7" rx="6.1" ry="6.0" fill="url(#lobe)"/><ellipse cx="490.1" cy="1849.0" rx="4.4" ry="4.9" fill="url(#lobe)"/><ellipse cx="469.7" cy="1827.4" rx="4.3" ry="3.6" fill="url(#lobe)"/><ellipse cx="469.1" cy="1818.3" rx="5.4" ry="4.8" fill="url(#lobe)"/><ellipse cx="470.5" cy="1833.5" rx="6.9" ry="5.7" fill="url(#lobe)"/><ellipse cx="465.6" cy="1838.8" rx="5.6" ry="5.1" fill="url(#lobe)"/><ellipse cx="460.8" cy="1843.2" rx="5.9" ry="6.2" fill="url(#lobe)"/><ellipse cx="484.6" cy="1850.7" rx="7.6" ry="6.3" fill="url(#lobe)"/><ellipse cx="475.1" cy="1837.2" rx="7.5" ry="5.9" fill="url(#lobe)"/><ellipse cx="477.3" cy="1810.3" rx="7.1" ry="6.4" fill="url(#lobe)"/><ellipse cx="485.5" cy="1826.0" rx="4.1" ry="3.3" fill="url(#lobe)"/></g>
<circle cx="472.1" cy="1815.2" r="0.7" fill="#fff" opacity="0.7" filter="url(#bl05)"/>
<circle cx="472.9" cy="1845.4" r="0.6" fill="#fff" opacity="0.7" filter="url(#bl05)"/>
<circle cx="470.9" cy="1844.6" r="1.2" fill="#fff" opacity="0.7" filter="url(#bl05)"/>
<circle cx="474.6" cy="1819.6" r="0.8" fill="#fff" opacity="0.7" filter="url(#bl05)"/>
<circle cx="463.5" cy="1830.1" r="1.2" fill="#fff" opacity="0.7" filter="url(#bl05)"/>
<circle cx="491.0" cy="1832.7" r="1.1" fill="#fff" opacity="0.7" filter="url(#bl05)"/>
<circle cx="483.8" cy="1834.2" r="0.8" fill="#fff" opacity="0.7" filter="url(#bl05)"/>
<circle cx="477.8" cy="1839.0" r="0.7" fill="#fff" opacity="0.7" filter="url(#bl05)"/>
<circle cx="471.9" cy="1820.1" r="0.7" fill="#fff" opacity="0.7" filter="url(#bl05)"/>
<circle cx="484.1" cy="1816.8" r="0.8" fill="#fff" opacity="0.7" filter="url(#bl05)"/>
<ellipse cx="485.6" cy="1809.9" rx="0.9" ry="1.1" fill="#c03844" opacity="0.6" filter="url(#bl05)" clip-path="url(#tc16)"/>
<ellipse cx="486.2" cy="1810.2" rx="1.7" ry="1.3" fill="#c03844" opacity="0.6" filter="url(#bl05)" clip-path="url(#tc16)"/>
<ellipse cx="484.5" cy="1811.8" rx="1.9" ry="1.1" fill="#c03844" opacity="0.6" filter="url(#bl05)" clip-path="url(#tc16)"/>
<ellipse cx="479.6" cy="1811.5" rx="1.3" ry="0.7" fill="#c03844" opacity="0.6" filter="url(#bl05)" clip-path="url(#tc16)"/>
<ellipse cx="479.0" cy="1812.3" rx="1.0" ry="1.5" fill="#c03844" opacity="0.6" filter="url(#bl05)" clip-path="url(#tc16)"/>
<ellipse cx="485.9" cy="1832.8" rx="6.0" ry="4.1" fill="#c86868" opacity="0.35" filter="url(#tumb)" clip-path="url(#tc16)"/>
<line x1="488.6" y1="1877.7" x2="496.9" y2="1877.7" stroke="#111" stroke-width="1.6"/>
<line x1="502.3" y1="1877.7" x2="510.6" y2="1877.7" stroke="#111" stroke-width="1.6"/>
<line x1="516.0" y1="1877.7" x2="524.2" y2="1877.7" stroke="#111" stroke-width="1.6"/>
<line x1="529.6" y1="1877.7" x2="537.9" y2="1877.7" stroke="#111" stroke-width="1.6"/>
<text x="515.0" y="1872.0" font-size="10.5" font-weight="normal" text-anchor="middle" fill="#000">1cm</text>
<text x="625.2" y="1392.0" font-size="30" font-weight="bold" text-anchor="start" fill="#000">H</text>
<path d="M765.4 1575.5 L818.6 1572.7 L872.2 1554.5 L925.8 1540.5 L979.4 1532.1" fill="none" stroke="#a6f2d6" stroke-width="1.8"/>
<rect x="760.8" y="1570.9" width="9.2" height="9.2" fill="#a6f2d6"/>
<rect x="814.0" y="1568.1" width="9.2" height="9.2" fill="#a6f2d6"/>
<line x1="872.2" y1="1548.9" x2="872.2" y2="1560.1" stroke="#a6f2d6" stroke-width="2"/>
<line x1="867.7" y1="1548.9" x2="876.7" y2="1548.9" stroke="#a6f2d6" stroke-width="2"/>
<line x1="867.7" y1="1560.1" x2="876.7" y2="1560.1" stroke="#a6f2d6" stroke-width="2"/>
<rect x="867.6" y="1549.9" width="9.2" height="9.2" fill="#a6f2d6"/>
<line x1="925.8" y1="1537.7" x2="925.8" y2="1543.3" stroke="#a6f2d6" stroke-width="2"/>
<line x1="921.3" y1="1537.7" x2="930.3" y2="1537.7" stroke="#a6f2d6" stroke-width="2"/>
<line x1="921.3" y1="1543.3" x2="930.3" y2="1543.3" stroke="#a6f2d6" stroke-width="2"/>
<rect x="921.2" y="1535.9" width="9.2" height="9.2" fill="#a6f2d6"/>
<line x1="979.4" y1="1522.3" x2="979.4" y2="1541.9" stroke="#a6f2d6" stroke-width="2"/>
<line x1="974.9" y1="1522.3" x2="983.9" y2="1522.3" stroke="#a6f2d6" stroke-width="2"/>
<line x1="974.9" y1="1541.9" x2="983.9" y2="1541.9" stroke="#a6f2d6" stroke-width="2"/>
<rect x="974.8" y="1527.5" width="9.2" height="9.2" fill="#a6f2d6"/>
<path d="M765.4 1575.5 L818.6 1553.1 L872.2 1519.5 L925.8 1478.9 L979.4 1432.7" fill="none" stroke="#7fadf2" stroke-width="1.8"/>
<circle cx="765.4" cy="1575.5" r="4.8" fill="#7fadf2"/>
<line x1="818.6" y1="1543.3" x2="818.6" y2="1562.9" stroke="#7fadf2" stroke-width="2"/>
<line x1="814.1" y1="1543.3" x2="823.1" y2="1543.3" stroke="#7fadf2" stroke-width="2"/>
<line x1="814.1" y1="1562.9" x2="823.1" y2="1562.9" stroke="#7fadf2" stroke-width="2"/>
<circle cx="818.6" cy="1553.1" r="4.8" fill="#7fadf2"/>
<line x1="872.2" y1="1512.5" x2="872.2" y2="1526.5" stroke="#7fadf2" stroke-width="2"/>
<line x1="867.7" y1="1512.5" x2="876.7" y2="1512.5" stroke="#7fadf2" stroke-width="2"/>
<line x1="867.7" y1="1526.5" x2="876.7" y2="1526.5" stroke="#7fadf2" stroke-width="2"/>
<circle cx="872.2" cy="1519.5" r="4.8" fill="#7fadf2"/>
<line x1="925.8" y1="1470.5" x2="925.8" y2="1487.3" stroke="#7fadf2" stroke-width="2"/>
<line x1="921.3" y1="1470.5" x2="930.3" y2="1470.5" stroke="#7fadf2" stroke-width="2"/>
<line x1="921.3" y1="1487.3" x2="930.3" y2="1487.3" stroke="#7fadf2" stroke-width="2"/>
<circle cx="925.8" cy="1478.9" r="4.8" fill="#7fadf2"/>
<line x1="979.4" y1="1424.3" x2="979.4" y2="1441.1" stroke="#7fadf2" stroke-width="2"/>
<line x1="974.9" y1="1424.3" x2="983.9" y2="1424.3" stroke="#7fadf2" stroke-width="2"/>
<line x1="974.9" y1="1441.1" x2="983.9" y2="1441.1" stroke="#7fadf2" stroke-width="2"/>
<circle cx="979.4" cy="1432.7" r="4.8" fill="#7fadf2"/>
<line x1="739.5" y1="1364.5" x2="739.5" y2="1576.5" stroke="#000" stroke-width="2"/>
<line x1="738.5" y1="1575.5" x2="1005.5" y2="1575.5" stroke="#000" stroke-width="2"/>
<line x1="733.5" y1="1575.5" x2="739.5" y2="1575.5" stroke="#000" stroke-width="2"/>
<text x="729.5" y="1580.8" font-size="14.8" font-weight="bold" text-anchor="end" fill="#000">0.0</text>
<line x1="733.5" y1="1505.5" x2="739.5" y2="1505.5" stroke="#000" stroke-width="2"/>
<text x="729.5" y="1510.8" font-size="14.8" font-weight="bold" text-anchor="end" fill="#000">0.5</text>
<line x1="733.5" y1="1435.5" x2="739.5" y2="1435.5" stroke="#000" stroke-width="2"/>
<text x="729.5" y="1440.8" font-size="14.8" font-weight="bold" text-anchor="end" fill="#000">1.0</text>
<line x1="733.5" y1="1365.5" x2="739.5" y2="1365.5" stroke="#000" stroke-width="2"/>
<text x="729.5" y="1370.8" font-size="14.8" font-weight="bold" text-anchor="end" fill="#000">1.5</text>
<line x1="765.4" y1="1575.5" x2="765.4" y2="1581.5" stroke="#000" stroke-width="2"/>
<text x="765.4" y="1595.1" font-size="15.4" font-weight="bold" text-anchor="middle" fill="#000">0</text>
<line x1="818.6" y1="1575.5" x2="818.6" y2="1581.5" stroke="#000" stroke-width="2"/>
<text x="818.6" y="1595.1" font-size="15.4" font-weight="bold" text-anchor="middle" fill="#000">1</text>
<line x1="872.2" y1="1575.5" x2="872.2" y2="1581.5" stroke="#000" stroke-width="2"/>
<text x="872.2" y="1595.1" font-size="15.4" font-weight="bold" text-anchor="middle" fill="#000">2</text>
<line x1="925.8" y1="1575.5" x2="925.8" y2="1581.5" stroke="#000" stroke-width="2"/>
<text x="925.8" y="1595.1" font-size="15.4" font-weight="bold" text-anchor="middle" fill="#000">3</text>
<line x1="979.4" y1="1575.5" x2="979.4" y2="1581.5" stroke="#000" stroke-width="2"/>
<text x="979.4" y="1595.1" font-size="15.4" font-weight="bold" text-anchor="middle" fill="#000">4</text>
<line x1="749.0" y1="1396.0" x2="773.0" y2="1396.0" stroke="#7fadf2" stroke-width="1.8"/>
<circle cx="761.5" cy="1396.0" r="4.6" fill="#7fadf2"/>
<text x="782.7" y="1401.5" font-size="21.8" font-weight="bold" text-anchor="start" fill="#000">shCtrl</text>
<line x1="749.0" y1="1427.0" x2="773.0" y2="1427.0" stroke="#a6f2d6" stroke-width="1.8"/>
<rect x="756.9" y="1422.4" width="9.2" height="9.2" fill="#a6f2d6"/>
<text x="782.7" y="1433.0" font-size="21.8" font-weight="bold" text-anchor="start" fill="#000">shKDM5B</text>
<path d="M986.8 1430.4 Q989.8 1430.4 989.8 1433.4 L989.8 1528.3 Q989.8 1531.3 986.8 1531.3" fill="none" stroke="#3a3a3a" stroke-width="1.3"/>
<text x="1001.7" y="1489.0" font-size="13" font-weight="normal" text-anchor="middle" fill="#222">**</text>
<text x="871.6" y="1622.0" font-size="21.5" font-weight="bold" text-anchor="middle" fill="#000">Week</text>
<text x="689.0" y="1467.5" font-size="21" font-weight="bold" text-anchor="middle" fill="#000" transform="rotate(-90 689 1467.5)" textLength="184" lengthAdjust="spacingAndGlyphs">Tumor volume (cm<tspan font-size="65%" dy="-0.55em">3</tspan><tspan dy="0.36em">)</tspan></text>
<text x="640.3" y="1693.0" font-size="30" font-weight="bold" text-anchor="start" fill="#000">K</text>
<path d="M767.6 1880.1 L823.7 1853.3 L880.0 1813.8 L936.2 1774.3 L992.3 1709.5" fill="none" stroke="#3fe3a4" stroke-width="1.8"/>
<line x1="767.6" y1="1876.9" x2="767.6" y2="1883.3" stroke="#3fe3a4" stroke-width="2"/>
<line x1="762.6" y1="1876.9" x2="772.6" y2="1876.9" stroke="#3fe3a4" stroke-width="2"/>
<line x1="762.6" y1="1883.3" x2="772.6" y2="1883.3" stroke="#3fe3a4" stroke-width="2"/>
<rect x="763.0" y="1875.5" width="9.2" height="9.2" fill="#3fe3a4"/>
<line x1="823.7" y1="1845.4" x2="823.7" y2="1861.1" stroke="#3fe3a4" stroke-width="2"/>
<line x1="818.7" y1="1845.4" x2="828.7" y2="1845.4" stroke="#3fe3a4" stroke-width="2"/>
<line x1="818.7" y1="1861.1" x2="828.7" y2="1861.1" stroke="#3fe3a4" stroke-width="2"/>
<rect x="819.1" y="1848.7" width="9.2" height="9.2" fill="#3fe3a4"/>
<line x1="880.0" y1="1798.0" x2="880.0" y2="1829.6" stroke="#3fe3a4" stroke-width="2"/>
<line x1="875.0" y1="1798.0" x2="885.0" y2="1798.0" stroke="#3fe3a4" stroke-width="2"/>
<line x1="875.0" y1="1829.6" x2="885.0" y2="1829.6" stroke="#3fe3a4" stroke-width="2"/>
<rect x="875.4" y="1809.2" width="9.2" height="9.2" fill="#3fe3a4"/>
<line x1="936.2" y1="1763.2" x2="936.2" y2="1785.3" stroke="#3fe3a4" stroke-width="2"/>
<line x1="931.2" y1="1763.2" x2="941.2" y2="1763.2" stroke="#3fe3a4" stroke-width="2"/>
<line x1="931.2" y1="1785.3" x2="941.2" y2="1785.3" stroke="#3fe3a4" stroke-width="2"/>
<rect x="931.6" y="1769.7" width="9.2" height="9.2" fill="#3fe3a4"/>
<line x1="992.3" y1="1698.5" x2="992.3" y2="1720.6" stroke="#3fe3a4" stroke-width="2"/>
<line x1="987.3" y1="1698.5" x2="997.3" y2="1698.5" stroke="#3fe3a4" stroke-width="2"/>
<line x1="987.3" y1="1720.6" x2="997.3" y2="1720.6" stroke="#3fe3a4" stroke-width="2"/>
<rect x="987.7" y="1704.9" width="9.2" height="9.2" fill="#3fe3a4"/>
<path d="M767.6 1880.1 L823.7 1873.8 L880.0 1862.7 L936.2 1837.5 L992.3 1824.8" fill="none" stroke="#5b9df1" stroke-width="1.8"/>
<circle cx="767.6" cy="1880.1" r="4.9" fill="#5b9df1"/>
<circle cx="823.7" cy="1873.8" r="4.9" fill="#5b9df1"/>
<line x1="880.0" y1="1854.8" x2="880.0" y2="1870.6" stroke="#5b9df1" stroke-width="2"/>
<line x1="875.0" y1="1854.8" x2="885.0" y2="1854.8" stroke="#5b9df1" stroke-width="2"/>
<line x1="875.0" y1="1870.6" x2="885.0" y2="1870.6" stroke="#5b9df1" stroke-width="2"/>
<circle cx="880.0" cy="1862.7" r="4.9" fill="#5b9df1"/>
<circle cx="936.2" cy="1837.5" r="4.9" fill="#5b9df1"/>
<line x1="992.3" y1="1818.5" x2="992.3" y2="1831.1" stroke="#5b9df1" stroke-width="2"/>
<line x1="987.3" y1="1818.5" x2="997.3" y2="1818.5" stroke="#5b9df1" stroke-width="2"/>
<line x1="987.3" y1="1831.1" x2="997.3" y2="1831.1" stroke="#5b9df1" stroke-width="2"/>
<circle cx="992.3" cy="1824.8" r="4.9" fill="#5b9df1"/>
<line x1="739.9" y1="1642.2" x2="739.9" y2="1881.1" stroke="#000" stroke-width="2"/>
<line x1="738.9" y1="1880.1" x2="1068.3" y2="1880.1" stroke="#000" stroke-width="2"/>
<line x1="733.5" y1="1880.1" x2="739.9" y2="1880.1" stroke="#000" stroke-width="2"/>
<text x="729.1" y="1885.9" font-size="16" font-weight="bold" text-anchor="end" fill="#000">0.0</text>
<line x1="733.5" y1="1801.1" x2="739.9" y2="1801.1" stroke="#000" stroke-width="2"/>
<text x="729.1" y="1806.9" font-size="16" font-weight="bold" text-anchor="end" fill="#000">0.5</text>
<line x1="733.5" y1="1722.2" x2="739.9" y2="1722.2" stroke="#000" stroke-width="2"/>
<text x="729.1" y="1727.9" font-size="16" font-weight="bold" text-anchor="end" fill="#000">1.0</text>
<line x1="733.5" y1="1643.2" x2="739.9" y2="1643.2" stroke="#000" stroke-width="2"/>
<text x="729.1" y="1649.0" font-size="16" font-weight="bold" text-anchor="end" fill="#000">1.5</text>
<line x1="767.6" y1="1880.1" x2="767.6" y2="1886.5" stroke="#000" stroke-width="2"/>
<text x="767.6" y="1904.0" font-size="15.4" font-weight="bold" text-anchor="middle" fill="#000">0</text>
<line x1="823.7" y1="1880.1" x2="823.7" y2="1886.5" stroke="#000" stroke-width="2"/>
<text x="823.7" y="1904.0" font-size="15.4" font-weight="bold" text-anchor="middle" fill="#000">1</text>
<line x1="880.0" y1="1880.1" x2="880.0" y2="1886.5" stroke="#000" stroke-width="2"/>
<text x="880.0" y="1904.0" font-size="15.4" font-weight="bold" text-anchor="middle" fill="#000">2</text>
<line x1="936.2" y1="1880.1" x2="936.2" y2="1886.5" stroke="#000" stroke-width="2"/>
<text x="936.2" y="1904.0" font-size="15.4" font-weight="bold" text-anchor="middle" fill="#000">3</text>
<line x1="992.3" y1="1880.1" x2="992.3" y2="1886.5" stroke="#000" stroke-width="2"/>
<text x="992.3" y="1904.0" font-size="15.4" font-weight="bold" text-anchor="middle" fill="#000">4</text>
<line x1="746.4" y1="1668.4" x2="771.8" y2="1668.4" stroke="#5b9df1" stroke-width="1.8"/>
<circle cx="759.2" cy="1668.4" r="4.8" fill="#5b9df1"/>
<text x="786.5" y="1674.8" font-size="20.6" font-weight="bold" text-anchor="start" fill="#000">Vec</text>
<line x1="746.4" y1="1693.7" x2="771.8" y2="1693.7" stroke="#3fe3a4" stroke-width="1.8"/>
<rect x="754.8" y="1689.3" width="8.8" height="8.8" fill="#3fe3a4"/>
<text x="786.5" y="1699.3" font-size="20.6" font-weight="bold" text-anchor="start" fill="#000">KDM5B</text>
<path d="M999.4 1705.6 Q1002.4 1705.6 1002.4 1708.6 L1002.4 1821.8 Q1002.4 1824.8 999.4 1824.8" fill="none" stroke="#3a3a3a" stroke-width="1.3"/>
<text x="1010.0" y="1774.0" font-size="13" font-weight="normal" text-anchor="middle" fill="#222">**</text>
<text x="897.4" y="1934.0" font-size="21.7" font-weight="bold" text-anchor="middle" fill="#000">Week</text>
<text x="694.6" y="1756.4" font-size="19" font-weight="bold" text-anchor="middle" fill="#000" transform="rotate(-90 694.6 1756.4)" textLength="166.4" lengthAdjust="spacingAndGlyphs">Tumor Volume(cm<tspan font-size="65%" dy="-0.55em">3</tspan><tspan dy="0.36em"> )</tspan></text>
<text x="1082.0" y="1382.6" font-size="30" font-weight="bold" text-anchor="start" fill="#000">I</text>
<rect x="1194.9" y="1445.6" width="75.7" height="134.6" fill="#b3f5dc" />
<line x1="1232.8" y1="1445.6" x2="1232.8" y2="1439.8" stroke="#b3f5dc" stroke-width="2"/>
<line x1="1214.2" y1="1439.8" x2="1251.2" y2="1439.8" stroke="#b3f5dc" stroke-width="2"/>
<rect x="1307.3" y="1530.5" width="75.5" height="49.7" fill="#93bff8" />
<line x1="1345.0" y1="1530.5" x2="1345.0" y2="1527.5" stroke="#93bff8" stroke-width="2"/>
<line x1="1326.5" y1="1527.5" x2="1363.5" y2="1527.5" stroke="#93bff8" stroke-width="2"/>
<text x="1345.0" y="1522.5" font-size="14" font-weight="bold" text-anchor="middle" fill="#1a1a1a">**</text>
<line x1="1176.4" y1="1359.8" x2="1176.4" y2="1581.2" stroke="#000" stroke-width="2"/>
<line x1="1175.4" y1="1580.2" x2="1400.8" y2="1580.2" stroke="#000" stroke-width="2"/>
<line x1="1172.4" y1="1580.2" x2="1176.4" y2="1580.2" stroke="#000" stroke-width="2"/>
<text x="1168.1" y="1585.6" font-size="15" font-weight="bold" text-anchor="end" fill="#000">0.0</text>
<line x1="1172.4" y1="1507.1" x2="1176.4" y2="1507.1" stroke="#000" stroke-width="2"/>
<text x="1168.1" y="1512.5" font-size="15" font-weight="bold" text-anchor="end" fill="#000">0.5</text>
<line x1="1172.4" y1="1433.9" x2="1176.4" y2="1433.9" stroke="#000" stroke-width="2"/>
<text x="1168.1" y="1439.3" font-size="15" font-weight="bold" text-anchor="end" fill="#000">1.0</text>
<line x1="1172.4" y1="1360.8" x2="1176.4" y2="1360.8" stroke="#000" stroke-width="2"/>
<text x="1168.1" y="1366.2" font-size="15" font-weight="bold" text-anchor="end" fill="#000">1.5</text>
<line x1="1232.7" y1="1580.2" x2="1232.7" y2="1584.5" stroke="#000" stroke-width="2"/>
<line x1="1345.0" y1="1580.2" x2="1345.0" y2="1584.5" stroke="#000" stroke-width="2"/>
<text x="1232.7" y="1607.5" font-size="20.6" font-weight="bold" text-anchor="middle" fill="#000">shCtrl</text>
<text x="1350.4" y="1607.5" font-size="20.8" font-weight="bold" text-anchor="middle" fill="#000">shKDM5B</text>
<text x="1135.0" y="1476.7" font-size="21.5" font-weight="bold" text-anchor="middle" fill="#000" transform="rotate(-90 1135 1476.7)" textLength="152.6" lengthAdjust="spacingAndGlyphs">Tumor weight (g)</text>
<text x="1083.2" y="1693.5" font-size="30" font-weight="bold" text-anchor="start" fill="#000">L</text>
<rect x="1193.3" y="1839.2" width="78.0" height="45.0" fill="#b3f5dc" />
<line x1="1232.3" y1="1839.2" x2="1232.3" y2="1836.2" stroke="#b3f5dc" stroke-width="2"/>
<line x1="1213.8" y1="1836.2" x2="1250.8" y2="1836.2" stroke="#b3f5dc" stroke-width="2"/>
<rect x="1308.8" y="1738.8" width="77.9" height="145.4" fill="#93bff8" />
<line x1="1347.8" y1="1738.8" x2="1347.8" y2="1734.3" stroke="#93bff8" stroke-width="2"/>
<line x1="1329.2" y1="1734.3" x2="1366.2" y2="1734.3" stroke="#93bff8" stroke-width="2"/>
<text x="1347.8" y="1729.3" font-size="14" font-weight="bold" text-anchor="middle" fill="#1a1a1a">**</text>
<line x1="1173.9" y1="1658.4" x2="1173.9" y2="1885.2" stroke="#000" stroke-width="2"/>
<line x1="1172.9" y1="1884.2" x2="1405.3" y2="1884.2" stroke="#000" stroke-width="2"/>
<line x1="1169.9" y1="1884.2" x2="1173.9" y2="1884.2" stroke="#000" stroke-width="2"/>
<text x="1165.5" y="1890.0" font-size="16" font-weight="bold" text-anchor="end" fill="#000">0.0</text>
<line x1="1169.9" y1="1809.3" x2="1173.9" y2="1809.3" stroke="#000" stroke-width="2"/>
<text x="1165.5" y="1815.0" font-size="16" font-weight="bold" text-anchor="end" fill="#000">0.5</text>
<line x1="1169.9" y1="1734.3" x2="1173.9" y2="1734.3" stroke="#000" stroke-width="2"/>
<text x="1165.5" y="1740.1" font-size="16" font-weight="bold" text-anchor="end" fill="#000">1.0</text>
<line x1="1169.9" y1="1659.4" x2="1173.9" y2="1659.4" stroke="#000" stroke-width="2"/>
<text x="1165.5" y="1665.2" font-size="16" font-weight="bold" text-anchor="end" fill="#000">1.5</text>
<line x1="1232.3" y1="1884.2" x2="1232.3" y2="1888.5" stroke="#000" stroke-width="2"/>
<line x1="1347.7" y1="1884.2" x2="1347.7" y2="1888.5" stroke="#000" stroke-width="2"/>
<text x="1232.3" y="1908.2" font-size="20.2" font-weight="bold" text-anchor="middle" fill="#000">Vec</text>
<text x="1347.7" y="1908.2" font-size="20.4" font-weight="bold" text-anchor="middle" fill="#000">KDM5B</text>
<text x="1130.4" y="1776.8" font-size="21" font-weight="bold" text-anchor="middle" fill="#000" transform="rotate(-90 1130.4 1776.8)" textLength="152.9" lengthAdjust="spacingAndGlyphs">Tumor weight (g)</text>
<text x="159.3" y="1986.9" font-size="30" font-weight="bold" text-anchor="start" fill="#000">M</text>
<text x="486.0" y="1982.0" font-size="21" font-weight="bold" text-anchor="middle" fill="#000">BxPC-3</text>
<text x="1101.5" y="1982.0" font-size="20.5" font-weight="bold" text-anchor="middle" fill="#000">Capan-1</text>
<line x1="219.6" y1="1994.6" x2="753.0" y2="1994.6" stroke="#111" stroke-width="1.6"/>
<line x1="786.7" y1="1994.6" x2="1319.0" y2="1994.6" stroke="#111" stroke-width="1.6"/>
<text x="351.6" y="2025.5" font-size="19.5" font-weight="bold" text-anchor="middle" fill="#000">shCtrl</text>
<text x="630.2" y="2025.5" font-size="19.5" font-weight="bold" text-anchor="middle" fill="#000">shKDM5B</text>
<text x="923.7" y="2025.5" font-size="19.5" font-weight="bold" text-anchor="middle" fill="#000">Vec</text>
<text x="1196.0" y="2025.5" font-size="19.5" font-weight="bold" text-anchor="middle" fill="#000">KDM5B</text>
<text x="205.5" y="2103.9" font-size="19.2" font-weight="bold" text-anchor="middle" fill="#000" transform="rotate(-90 205.5 2103.9)">KDM5B</text>
<text x="205.5" y="2267.9" font-size="19.2" font-weight="bold" text-anchor="middle" fill="#000" transform="rotate(-90 205.5 2267.9)">Ki67</text>
<text x="205.5" y="2415.8" font-size="19.2" font-weight="bold" text-anchor="middle" fill="#000" transform="rotate(-90 205.5 2415.8)">CD133</text>
<rect x="216.0" y="2030.2" width="264.0" height="150.0" fill="#efe5e2" />
<rect x="216.0" y="2030.2" width="264.0" height="150.0" fill="#000" filter="url(#n1)"/>
<rect x="216.0" y="2030.2" width="264.0" height="150.0" fill="url(#p1)" opacity="0.7"/>
<rect x="216.0" y="2030.2" width="264.0" height="150.0" fill="url(#p2)" opacity="0.7"/>
<rect x="216.0" y="2030.2" width="264.0" height="150.0" fill="url(#p3)" opacity="0.7"/>
<rect x="216.0" y="2030.2" width="264.0" height="150.0" fill="url(#p4)" opacity="0.7"/>
<rect x="218.0" y="2175.0" width="30.0" height="2.4" fill="#111" />
<rect x="498.2" y="2030.2" width="264.0" height="150.0" fill="#cbc1d6" />
<rect x="498.2" y="2030.2" width="264.0" height="150.0" fill="#000" filter="url(#n2)"/>
<rect x="498.2" y="2030.2" width="264.0" height="150.0" fill="url(#p5)" opacity="0.7"/>
<rect x="498.2" y="2030.2" width="264.0" height="150.0" fill="url(#p6)" opacity="0.7"/>
<rect x="498.2" y="2030.2" width="264.0" height="150.0" fill="url(#p7)" opacity="0.6"/>
<rect x="498.2" y="2030.2" width="264.0" height="150.0" fill="url(#p8)" opacity="0.6"/>
<g clip-path="url(#ihcc1)"><g fill="none" stroke="#e8e2ee" opacity="0.5" filter="url(#strb)" stroke-linecap="round"><path d="M705 2049Q719 2095 785 2109" stroke-width="2.6"/><path d="M491 2140Q518 2221 490 2244" stroke-width="2.1"/><path d="M735 2160Q740 2145 692 2163" stroke-width="1.7"/><path d="M660 2170Q642 2147 584 2180" stroke-width="3.0"/><path d="M567 2113Q558 2128 608 2130" stroke-width="2.3"/><path d="M726 2172Q723 2255 756 2293" stroke-width="1.9"/></g></g>
<rect x="500.2" y="2175.0" width="30.0" height="2.4" fill="#111" />
<rect x="781.0" y="2030.2" width="264.4" height="150.0" fill="#ebe2dc" />
<rect x="781.0" y="2030.2" width="264.4" height="150.0" fill="#000" filter="url(#n3)"/>
<rect x="781.0" y="2030.2" width="264.4" height="150.0" fill="#000" filter="url(#n4)"/>
<rect x="781.0" y="2030.2" width="264.4" height="150.0" fill="url(#p9)" opacity="0.7" mask="url(#mk1)"/>
<rect x="781.0" y="2030.2" width="264.4" height="150.0" fill="url(#p10)" opacity="0.7" mask="url(#mk1)"/>
<rect x="781.0" y="2030.2" width="264.4" height="150.0" fill="url(#p11)" opacity="0.5"/>
<rect x="781.0" y="2030.2" width="264.4" height="150.0" fill="url(#p12)" opacity="0.5"/>
<g clip-path="url(#ihcc2)"><g fill="none" stroke="#f6f0ea" opacity="0.6" filter="url(#strb)" stroke-linecap="round"><path d="M825 2083Q861 2115 890 2129" stroke-width="2.8"/><path d="M869 2044Q863 2038 811 2082" stroke-width="2.0"/><path d="M890 2090Q846 2123 800 2179" stroke-width="4.1"/><path d="M901 2059Q924 2049 922 2093" stroke-width="2.6"/><path d="M950 2128Q949 2203 912 2224" stroke-width="4.9"/><path d="M879 2077Q897 2120 955 2111" stroke-width="4.3"/><path d="M833 2142Q837 2176 804 2182" stroke-width="3.4"/><path d="M1048 2027Q1114 2003 1160 2039" stroke-width="3.8"/></g></g>
<rect x="783.0" y="2175.0" width="30.0" height="2.4" fill="#111" />
<rect x="1065.5" y="2030.2" width="264.3" height="150.0" fill="#c8b0b4" />
<rect x="1065.5" y="2030.2" width="264.3" height="150.0" fill="#000" filter="url(#n6)"/>
<rect x="1065.5" y="2030.2" width="264.3" height="150.0" fill="url(#p13)" opacity="0.7"/>
<rect x="1065.5" y="2030.2" width="264.3" height="150.0" fill="url(#p14)" opacity="0.7"/>
<rect x="1065.5" y="2030.2" width="264.3" height="150.0" fill="url(#p15)" opacity="0.55"/>
<rect x="1065.5" y="2030.2" width="264.3" height="150.0" fill="url(#p16)" opacity="0.55"/>
<g clip-path="url(#ihcc3)"><g fill="none" stroke="#e8dde4" opacity="0.6" filter="url(#strb)" stroke-linecap="round"><path d="M1343 2021Q1341 2049 1286 2088" stroke-width="3.8"/><path d="M1094 2199Q1093 2235 1110 2255" stroke-width="1.6"/><path d="M1163 2012Q1175 2005 1219 2025" stroke-width="3.4"/><path d="M1172 2173Q1137 2198 1049 2214" stroke-width="3.2"/><path d="M1314 2114Q1357 2114 1397 2153" stroke-width="1.7"/><path d="M1102 2143Q1053 2144 1014 2202" stroke-width="1.5"/><path d="M1245 2111Q1226 2120 1253 2167" stroke-width="1.8"/><path d="M1228 2069Q1224 2124 1214 2150" stroke-width="3.5"/></g></g>
<rect x="1067.5" y="2175.0" width="30.0" height="2.4" fill="#111" />
<rect x="216.0" y="2188.2" width="264.0" height="150.2" fill="#e0d0cc" />
<rect x="216.0" y="2188.2" width="264.0" height="150.2" fill="#000" filter="url(#n7)"/>
<rect x="216.0" y="2188.2" width="264.0" height="150.2" fill="url(#p17)" opacity="0.5"/>
<rect x="216.0" y="2188.2" width="264.0" height="150.2" fill="url(#p18)" opacity="0.5"/>
<rect x="216.0" y="2188.2" width="264.0" height="150.2" fill="url(#p19)" opacity="0.45"/>
<rect x="216.0" y="2188.2" width="264.0" height="150.2" fill="url(#p20)" opacity="0.45"/>
<g clip-path="url(#ihcc4)"><g fill="none" stroke="#e8e0ea" opacity="0.5" filter="url(#strb)" stroke-linecap="round"><path d="M322 2223Q287 2246 248 2263" stroke-width="2.2"/><path d="M390 2339Q423 2359 484 2361" stroke-width="2.7"/><path d="M210 2190Q222 2272 199 2315" stroke-width="1.8"/><path d="M303 2278Q341 2315 328 2336" stroke-width="2.3"/><path d="M341 2301Q288 2370 255 2382" stroke-width="3.0"/><path d="M278 2201Q308 2204 293 2265" stroke-width="3.1"/><path d="M245 2323Q280 2344 256 2375" stroke-width="3.5"/><path d="M294 2213Q294 2255 284 2272" stroke-width="2.8"/><path d="M198 2295Q248 2349 255 2359" stroke-width="1.8"/><path d="M224 2312Q245 2395 248 2420" stroke-width="3.2"/><path d="M216 2268 Q250 2300 290 2338" stroke-width="9"/><path d="M268 2338 Q290 2300 330 2276" stroke-width="7"/><path d="M255 2300 L240 2338" stroke-width="5"/></g></g>
<rect x="218.0" y="2333.2" width="30.0" height="2.4" fill="#111" />
<rect x="498.2" y="2188.2" width="264.0" height="150.2" fill="#cfc6d6" />
<rect x="498.2" y="2188.2" width="264.0" height="150.2" fill="#000" filter="url(#n8)"/>
<rect x="498.2" y="2188.2" width="264.0" height="150.2" fill="url(#p21)" opacity="0.75"/>
<rect x="498.2" y="2188.2" width="264.0" height="150.2" fill="url(#p22)" opacity="0.75"/>
<rect x="498.2" y="2188.2" width="264.0" height="150.2" fill="url(#p23)" opacity="0.6"/>
<rect x="498.2" y="2188.2" width="264.0" height="150.2" fill="url(#p24)" opacity="0.6"/>
<g clip-path="url(#ihcc5)"><g fill="none" stroke="#e6e0ee" opacity="0.4" filter="url(#strb)" stroke-linecap="round"><path d="M726 2186Q656 2195 616 2213" stroke-width="1.6"/><path d="M523 2292Q513 2304 479 2331" stroke-width="2.3"/><path d="M732 2213Q796 2229 802 2256" stroke-width="2.8"/><path d="M531 2312Q479 2304 462 2345" stroke-width="1.7"/><path d="M567 2282Q562 2274 506 2307" stroke-width="2.3"/></g></g>
<rect x="500.2" y="2333.2" width="30.0" height="2.4" fill="#111" />
<rect x="781.0" y="2188.2" width="264.4" height="150.2" fill="#d2c9d8" />
<rect x="781.0" y="2188.2" width="264.4" height="150.2" fill="#000" filter="url(#n9)"/>
<rect x="781.0" y="2188.2" width="264.4" height="150.2" fill="url(#p25)" opacity="0.75"/>
<rect x="781.0" y="2188.2" width="264.4" height="150.2" fill="url(#p26)" opacity="0.75"/>
<rect x="781.0" y="2188.2" width="264.4" height="150.2" fill="url(#p27)" opacity="0.6"/>
<rect x="781.0" y="2188.2" width="264.4" height="150.2" fill="url(#p28)" opacity="0.6"/>
<rect x="783.0" y="2333.2" width="30.0" height="2.4" fill="#111" />
<rect x="1065.5" y="2188.2" width="264.3" height="150.2" fill="#e6ddd8" />
<rect x="1065.5" y="2188.2" width="264.3" height="150.2" fill="#000" filter="url(#n10)"/>
<rect x="1065.5" y="2188.2" width="264.3" height="150.2" fill="url(#p29)" opacity="0.6"/>
<rect x="1065.5" y="2188.2" width="264.3" height="150.2" fill="url(#p30)" opacity="0.6"/>
<rect x="1065.5" y="2188.2" width="264.3" height="150.2" fill="url(#p31)" opacity="0.45"/>
<rect x="1065.5" y="2188.2" width="264.3" height="150.2" fill="url(#p32)" opacity="0.45"/>
<g clip-path="url(#ihcc6)"><g fill="none" stroke="#f2eeee" opacity="0.6" filter="url(#strb)" stroke-linecap="round"><path d="M1338 2334Q1307 2370 1296 2381" stroke-width="3.5"/><path d="M1051 2200Q1035 2198 1002 2217" stroke-width="3.1"/><path d="M1308 2279Q1327 2321 1332 2347" stroke-width="2.5"/><path d="M1187 2270Q1211 2267 1227 2312" stroke-width="3.0"/><path d="M1289 2326Q1344 2346 1347 2384" stroke-width="4.0"/><path d="M1106 2328Q1178 2338 1212 2342" stroke-width="3.1"/><path d="M1324 2358Q1335 2375 1402 2407" stroke-width="1.9"/><path d="M1094 2287Q1092 2313 1148 2302" stroke-width="2.1"/></g></g>
<rect x="1067.5" y="2333.2" width="30.0" height="2.4" fill="#111" />
<rect x="216.0" y="2346.1" width="264.0" height="149.8" fill="#e2c8d2" />
<rect x="216.0" y="2346.1" width="264.0" height="149.8" fill="#000" filter="url(#n11)"/>
<rect x="216.0" y="2346.1" width="264.0" height="149.8" fill="#000" filter="url(#n12)"/>
<rect x="216.0" y="2346.1" width="264.0" height="149.8" fill="url(#p33)" opacity="0.55"/>
<rect x="216.0" y="2346.1" width="264.0" height="149.8" fill="url(#p34)" opacity="0.55"/>
<rect x="218.0" y="2491.9" width="5.0" height="1.8" fill="#111" />
<rect x="498.2" y="2346.1" width="264.0" height="149.8" fill="#e6d4e4" />
<rect x="498.2" y="2346.1" width="264.0" height="149.8" fill="#000" filter="url(#n13)"/>
<rect x="498.2" y="2346.1" width="264.0" height="149.8" fill="url(#p35)" opacity="0.7"/>
<rect x="498.2" y="2346.1" width="264.0" height="149.8" fill="url(#p36)" opacity="0.7"/>
<g clip-path="url(#ihcc7)"><g fill="none" stroke="#f4e8f2" opacity="0.5" filter="url(#strb)" stroke-linecap="round"><path d="M636 2378Q604 2393 554 2465" stroke-width="2.5"/><path d="M581 2511Q569 2529 537 2593" stroke-width="3.4"/><path d="M677 2366Q722 2395 712 2439" stroke-width="2.1"/><path d="M726 2490Q782 2533 780 2589" stroke-width="3.3"/><path d="M645 2430Q663 2518 630 2554" stroke-width="2.3"/><path d="M738 2348Q738 2357 787 2374" stroke-width="2.2"/></g></g>
<rect x="500.2" y="2491.9" width="5.0" height="1.8" fill="#111" />
<rect x="781.0" y="2346.1" width="264.4" height="149.8" fill="#e6ccd6" />
<rect x="781.0" y="2346.1" width="264.4" height="149.8" fill="#000" filter="url(#n14)"/>
<rect x="781.0" y="2346.1" width="264.4" height="149.8" fill="url(#p37)" opacity="0.6"/>
<rect x="781.0" y="2346.1" width="264.4" height="149.8" fill="url(#p38)" opacity="0.6"/>
<g clip-path="url(#ihcc8)"><g fill="none" stroke="#f2dce8" opacity="0.6" filter="url(#strb)" stroke-linecap="round"><path d="M1037 2488Q1053 2506 1099 2497" stroke-width="3.5"/><path d="M935 2471Q895 2537 902 2590" stroke-width="4.9"/><path d="M955 2348Q880 2374 830 2404" stroke-width="3.3"/><path d="M789 2442Q814 2488 821 2492" stroke-width="3.8"/><path d="M997 2457Q1011 2529 992 2592" stroke-width="3.1"/><path d="M841 2503Q796 2532 794 2561" stroke-width="2.2"/><path d="M793 2409Q834 2440 916 2418" stroke-width="3.7"/><path d="M767 2453Q788 2457 809 2458" stroke-width="3.6"/><path d="M999 2367Q1035 2428 1020 2484" stroke-width="3.5"/></g></g>
<rect x="783.0" y="2491.9" width="5.0" height="1.8" fill="#111" />
<rect x="1065.5" y="2346.1" width="264.3" height="149.8" fill="#d8b0a8" />
<rect x="1065.5" y="2346.1" width="264.3" height="149.8" fill="#000" filter="url(#n15)"/>
<rect x="1065.5" y="2346.1" width="264.3" height="149.8" fill="#000" filter="url(#n16)"/>
<rect x="1065.5" y="2346.1" width="264.3" height="149.8" fill="url(#p39)" opacity="0.55"/>
<rect x="1065.5" y="2346.1" width="264.3" height="149.8" fill="url(#p40)" opacity="0.55"/>
<rect x="1067.5" y="2491.9" width="5.0" height="1.8" fill="#111" />
</svg></body></html>
